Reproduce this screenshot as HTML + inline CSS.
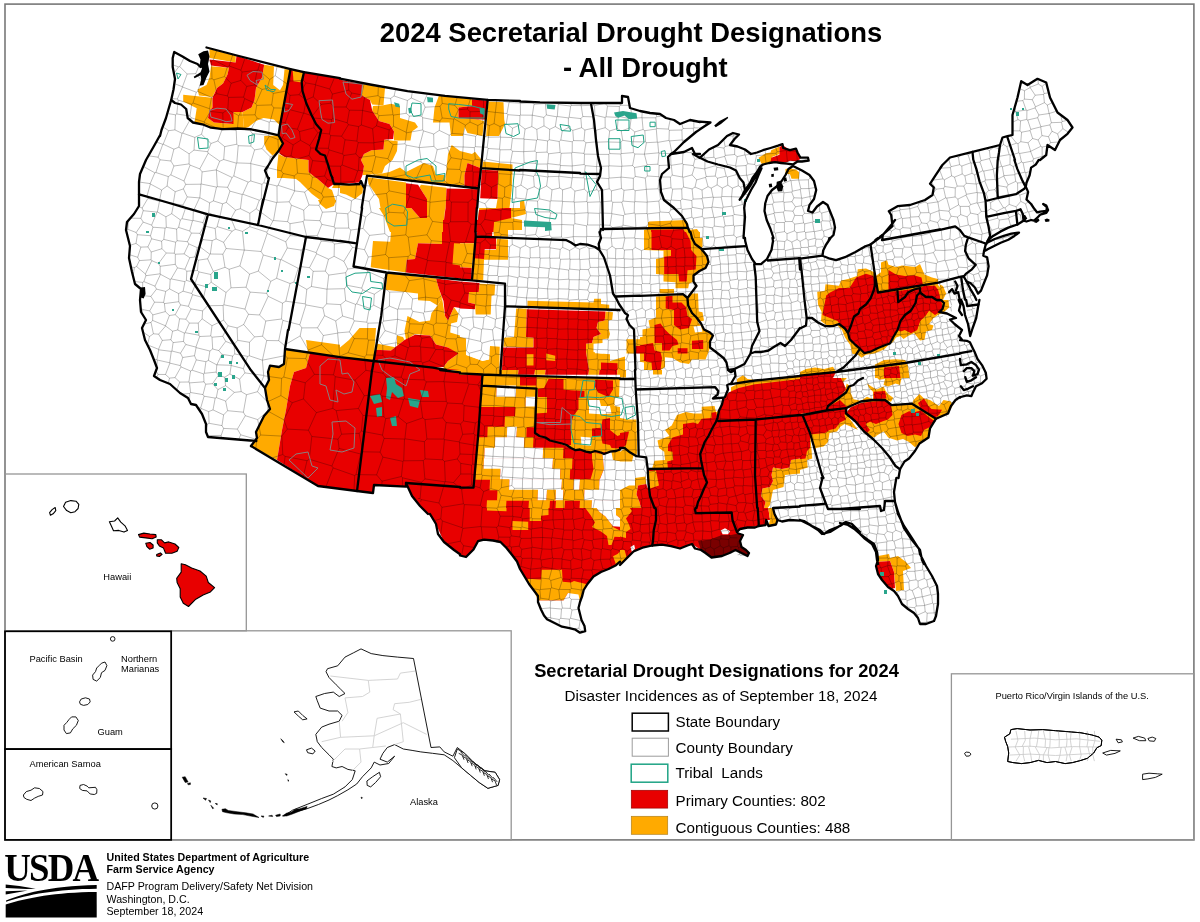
<!DOCTYPE html>
<html lang="en"><head><meta charset="utf-8">
<title>2024 Secretarial Drought Designations - All Drought</title>
<style>
html,body{margin:0;padding:0;background:#fff;}
body{width:1200px;height:922px;overflow:hidden;font-family:"Liberation Sans",Arial,sans-serif;}
svg{display:block;position:absolute;left:0;top:0;}
text{font-family:"Liberation Sans",Arial,sans-serif;fill:#000;}
.b{font-weight:bold;}
.st{fill:none;stroke:#000;stroke-width:2.3;stroke-linejoin:round;stroke-linecap:round;}
.co{fill:none;stroke:#000;stroke-width:2.3;stroke-linejoin:round;stroke-linecap:round;}
.cy{fill:none;stroke:#000;stroke-opacity:0.33;stroke-width:0.8;stroke-linejoin:round;}
.cyd{fill:none;stroke:#6e0000;stroke-width:0.8;stroke-linejoin:round;}
.tr{fill:none;stroke:#1fa385;stroke-width:1;stroke-linejoin:round;}
.trf{fill:#1fa385;stroke:#1fa385;stroke-width:0.6;}
.isl{fill:#fff;stroke:#000;stroke-width:1.1;stroke-linejoin:round;}
.islr{fill:#e80000;stroke:#000;stroke-width:1.1;stroke-linejoin:round;}
.lab{font-size:9.6px;}
</style></head><body>
<svg width="1200" height="922" viewBox="0 0 1200 922">
<rect x="0" y="0" width="1200" height="922" fill="#fff"/>
<g id="map">
<path d="M208 49L236 56L236 63L210 57.6Z" fill="#ffaa00"/>
<path d="M208 67L229 69L224 80L216 88L213 98L200 94L198 88L206 78Z" fill="#ffaa00"/>
<path d="M183 95L213 99L213 108L183 102Z" fill="#ffaa00"/>
<path d="M197 108L210 109L210 118L232 123L232 128L210 127.6L195 123Z" fill="#ffaa00"/>
<path d="M265 64L274 66L274 86L283 88L283 69L290 69L280 118L268 116L260 118L248 124L247 127.6L233 127.6L236 112L246 110L254 108L256 90L264 78Z" fill="#ffaa00"/>
<path d="M274 66.6L283 69L282.4 88L274 86.4Z" fill="#ffffff"/>
<path d="M236 57.6L265 64L264 78L258 86L256 90L254 108L246 110L236 112L235 124L232 122L210 118L210 110L214 104L213 98L216 88L224 80L229 69L224 67L211 62L210 58L224 60L236 63Z" fill="#e80000"/>
<path d="M264 136L278 134.6L284 146L274 156L266 150L264 142Z" fill="#ffaa00"/>
<path d="M276 158L280 154L309 160L306 170L312 174L328 188L332 190L336 202L328 208L320 200L312 194L300 182L296 179L284 178L278 172Z" fill="#ffaa00"/>
<path d="M293 71L304 73L303 82.4L294 81Z" fill="#ffaa00"/>
<path d="M290 70L293 71L294 81L303 82.4L305 73L301 94L310 114L320 130L317 150L326 158L334 184L328 188L312 174L306 170L309 160L280 154L284 146L278 134.6L280 125.6Z" fill="#e80000"/>
<path d="M363 85L385 89L383 105L375 105L372 103L362 96Z" fill="#ffaa00"/>
<path d="M373 105.6L400 107L400 118L417 124L411 141L395 140L394 128L380 122L373 112Z" fill="#ffaa00"/>
<path d="M385 140L398 141L394 160L385 172L381 172L366 176L361 172L364 166L360 158L368 150L383 150Z" fill="#ffaa00"/>
<path d="M390 172L400 168L410 172L418 162L434 164L436 178L432 183L390 178Z" fill="#ffaa00"/>
<path d="M440 96L471 99L471 107L459 107L458 118L478 118L485 120L483 136L468 134L464 126L462 137L451 137L450 124L434 123L436 106Z" fill="#ffaa00"/>
<path d="M451 145L468 154L480 152L480 168L468 163L465 176L464 187L445 185L446 168L448 160Z" fill="#ffaa00"/>
<path d="M488 101L504 102L505 120L506 126L500 137L486 137Z" fill="#ffaa00"/>
<path d="M482 162L500 163L513 164L512 180L510 204L524 200L526 214L511 218L522 220L522 230L508 230L508 236L476 235L479 210L480 200L481 169Z" fill="#ffaa00"/>
<path d="M380 178L406 182.4L406 202L420 218L427 218L427 198L418 185L447 189L444 220L442 234L443 244L392 244L390 232L384 216L379 208L380 188Z" fill="#ffaa00"/>
<path d="M340 80L363 85L362 96L372 103L373 112L380 122L392 127L394 139L384 140L383 150L368 150L360 158L364 166L361 182L340 184Z" fill="#e80000"/>
<path d="M471 99L488 100L485 120L478 118L458 118L459 107L471 107Z" fill="#e80000"/>
<path d="M468 163L480 168L479 188L464 187L465 176Z" fill="#e80000"/>
<path d="M406 183L418 185L427 198L427 218L420 218L406 202Z" fill="#e80000"/>
<path d="M447 188.4L478 189L476 236L475 244L442 244L442 234L444 220L446 204Z" fill="#e80000"/>
<path d="M481 169L498 170L497 199L480 200Z" fill="#e80000"/>
<path d="M479 210L506 208L511 204L511 218L494 222L493 234L476 235Z" fill="#e80000"/>
<path d="M760 157L768 152L778 148L777 156L780 160L768 163L760 162Z" fill="#ffaa00"/>
<path d="M786 169L797 170L799 178L792 179L788 174Z" fill="#ffaa00"/>
<path d="M777 148L782 146L788 152L796 156L800 160L792 162L780 160L778 156Z" fill="#e80000"/>
<path d="M649 221.6L686 220L687 227L689 230L697 229L702 236L701 244L644 244L644 230L649 229.6Z" fill="#ffaa00"/>
<path d="M651 230L684 230L688 236L690 244L651 244Z" fill="#e80000"/>
<path d="M285 349.6L307 353L307 341L346 345L360 336L360 360L360 384L269 384L269 374L271 366L280 366Z" fill="#ffaa00"/>
<path d="M307 353L360 360L360 384L292 384L294 372L306 366Z" fill="#e80000"/>
<path d="M318 200L336 200L334 206L326 209L320 204Z" fill="#ffaa00"/>
<path d="M372 241L392 242L390 220L443 220L443 244L416 243L415 259L407 260L406 271L370 267Z" fill="#ffaa00"/>
<path d="M443 220L477 220L473 280L406 271L407 260L415 259L416 243L443 244Z" fill="#e80000"/>
<path d="M454 243L473 244L472 267L454 264Z" fill="#ffaa00"/>
<path d="M496 238L507 239L507 260L484 259L484 280L473 280L474 259L485 250L496 250Z" fill="#ffaa00"/>
<path d="M476 236L496 237L496 250L485 250L484 259L475 259Z" fill="#e80000"/>
<path d="M494 222L522 222L522 229L508 229L508 236L493 235.6Z" fill="#ffaa00"/>
<path d="M477 220L494 220L493 235L476 235Z" fill="#e80000"/>
<path d="M387 273L438 278L440 294L444 304L436 310L426 300L418 299L417 291L385 289Z" fill="#ffaa00"/>
<path d="M478 282L495 284L492 314L476 314L476 305L468 304L468 293L478 292Z" fill="#ffaa00"/>
<path d="M438 278L478 282L478 292L468 293L468 304L476 305L476 310L452 310L446 321L444 304L440 294Z" fill="#e80000"/>
<path d="M408 317L426 324L432 312L444 304L446 321L452 310L458 314L457 322L450 324L449 336L465 338L465 352L482 360L489 360L490 346L500 347L500 375L444 369L446 364L460 354L452 350L444 348L436 338L414 336L404 340L397 336L398 346L378 349L378 344L405 340Z" fill="#ffaa00"/>
<path d="M376 350L398 346L404 340L414 336L434 337L440 348L448 349L460 354L446 364L444 369L374 361Z" fill="#e80000"/>
<path d="M528 301L580 302L580 309L528 308Z" fill="#ffaa00"/>
<path d="M516 309L527 309L526 338L533 338L533 348L504 347L505 338L514 337Z" fill="#ffaa00"/>
<path d="M527 309L580 309L580 378L501 375L503 347L533 348L533 338L526 338Z" fill="#e80000"/>
<path d="M527 354L533 354L533 366L527 366Z" fill="#ffaa00"/>
<path d="M546 354L555 356L555 361L546 360Z" fill="#ffaa00"/>
<path d="M502 368L518 369L518 375L502 375Z" fill="#ffaa00"/>
<path d="M537 368L545 368L545 376L537 376Z" fill="#ffaa00"/>
<path d="M374 361L482 373.6L481 404L369 404Z" fill="#e80000"/>
<path d="M340 358L373 361.6L369 404L340 404Z" fill="#e80000"/>
<path d="M360 327L376 328L374 361L340 356L340 346L352 340Z" fill="#ffaa00"/>
<path d="M482.4 375L580 379L580 404L482.4 404Z" fill="#ffaa00"/>
<path d="M496 388L516 389L516 397L496 397Z" fill="#ffffff"/>
<path d="M520 378L537 379L537 388L520 387Z" fill="#e80000"/>
<path d="M560 302L594 302L595 299L601 299L601 304L609 305L609 309L560 309Z" fill="#ffaa00"/>
<path d="M590 308L609 308L613 312L612 320L606 321L610 332L609 338L603 340L603 354L610 354L610 362L619 362L619 356L626 356L626 378L590 378Z" fill="#ffaa00"/>
<path d="M626 340L633 340L633 354L626 354Z" fill="#ffaa00"/>
<path d="M560 310L606 311L605 320L598 322L602 332L594 338L592 344L586 346L589 356L590 378L560 378Z" fill="#e80000"/>
<path d="M595 344L603 344L603 354L595 354Z" fill="#ffffff"/>
<path d="M600 364L610 362L618 363L618 378L600 378Z" fill="#e80000"/>
<path d="M648 222L687 221L688 228L698 235L702 240L702 247L698 248L707 258L708 263L703 272L695 277L692 282L688 284L688 289L676 288L676 282L664 281L664 274L656 274L656 260L652 258L644 258L644 230L648 229Z" fill="#ffaa00"/>
<path d="M651 230L683 229L688 237L692 246L691 254L696 256L696 270L688 272L687 281L679 281L678 274L664 274L664 257L660 250L652 250Z" fill="#e80000"/>
<path d="M660 289L674 289L674 294L660 294Z" fill="#ffaa00"/>
<path d="M656 297L666 296L688 299L689 294L697 294L698 312L703 314L704 320L698 324L704 332L709 332L712 336L709 344L708 352L705 359L688 359L682 363L674 360L666 358L665 368L662 375L653 375L652 370L644 370L644 364L636 363L636 338L644 337L644 330L649 328L650 319L656 318Z" fill="#ffaa00"/>
<path d="M664 299L669 296L680 300L688 308L690 318L692 324L688 329L676 328L674 316L669 308L664 307Z" fill="#e80000"/>
<path d="M654 326L660 323L664 329L672 334L678 342L674 346L668 351L662 348L660 340L654 342Z" fill="#e80000"/>
<path d="M636 345L652 344L654 352L662 354L662 360L660 368L653 368L652 360L644 358L636 354Z" fill="#e80000"/>
<path d="M692 340L703 340L703 349L692 349Z" fill="#e80000"/>
<path d="M677 348L687 348L687 353L677 354Z" fill="#e80000"/>
<path d="M694 326L701 327L701 332L695 333Z" fill="#ffffff"/>
<path d="M734 380L741 375L747 380L756 380L800 374L800 378L755 386L730 387Z" fill="#ffaa00"/>
<path d="M720 390L726 389L724 397L720 404L716 404L717 396Z" fill="#ffaa00"/>
<path d="M730 387L754 386L756 382L800 378L800 404L724 404L727 394Z" fill="#e80000"/>
<path d="M818 292L825 291L826 285L838 284L840 280L848 278L856 274L860 269L874 269L880 270L881 263L886 260L892 263L900 265L908 267L920 266L923 274L928 278L938 279L942 286L946 298L949 304L946 311L940 313L934 316L935 328L930 330L924 340L918 340L914 334L908 338L904 338L900 334L894 338L890 346L884 350L874 352L866 354L860 358L854 356L850 348L844 340L840 330L838 324L826 324L820 318L821 308L818 300Z" fill="#ffaa00"/>
<path d="M826 294L832 291L848 286L856 278L868 275L874 276L876 286L878 293L888 290L889 272L898 275L910 278L920 277L923 284L932 286L938 290L939 300L941 306L936 312L930 314L929 320L924 324L924 332L918 332L916 328L908 330L902 332L896 334L890 340L884 346L874 348L866 348L854 344L848 338L846 330L838 322L834 318L823 318L823 308L826 300Z" fill="#e80000"/>
<path d="M794 374L810 369L822 370L834 368L842 372L850 360L856 354L860 358L852 366L848 374L844 386L840 380L838 374L780 380L780 377Z" fill="#ffaa00"/>
<path d="M780 380L838 374L840 380L844 386L840 394L834 398L832 404L780 404Z" fill="#e80000"/>
<path d="M876 372L882 366L900 365L910 366L910 378L902 380L902 386L896 388L890 380L884 380L876 378Z" fill="#ffaa00"/>
<path d="M884 368L900 367L901 378L892 379L884 376Z" fill="#e80000"/>
<path d="M868 384L874 388L880 386L888 390L888 396L896 400L892 404L846 404L844 394L848 390L854 396L864 398L870 394Z" fill="#ffaa00"/>
<path d="M873 392L886 392L888 400L874 400Z" fill="#e80000"/>
<path d="M914 398L920 394L930 396L936 404L914 404Z" fill="#ffaa00"/>
<path d="M285 349.6L306 352.4L306 340L376 340L373 362L308 353L307 362L294 370L292 380L289 386L284 420L280 432L277 460L251 446L257 438L256 432L259 426L263 416L270 409L267 400L264 388L268 380L267 372L270 365.6L279 367L284 364Z" fill="#ffaa00"/>
<path d="M308 353L373 362L357 491L318 486L277 460L280 432L284 420L289 386L292 380L294 370L307 362Z" fill="#e80000"/>
<path d="M373 362L420 367L420 484L406 483L406 487L374 485L373 493L357 491Z" fill="#e80000"/>
<path d="M400 380L482 380L482 387L474 488L404 483L400 483Z" fill="#e80000"/>
<path d="M482 387L536 389L535 433L548 439L570 446L588 452L610 451L632 454L640 456L640 540L632 546L624 558L620 564L516 564L510 554L494 542L478 542L464 557L444 542L436 524L420 502L404 483L474 488Z" fill="#e80000"/>
<path d="M482 388L536 389L535 429L528 429L526 438L516 439L506 438L506 428L488 428L488 436L480 437L479 418L506 419L516 418L515 408L482 406Z" fill="#ffaa00"/>
<path d="M497 388L516 389L516 397L497 397Z" fill="#ffffff"/>
<path d="M527 399L535 399L535 408L527 408Z" fill="#ffffff"/>
<path d="M508 429L517 429L517 438L508 438Z" fill="#ffffff"/>
<path d="M479 437L496 438L496 448L486 449L485 466L502 469L502 478L510 479L510 489L538 491L548 492L548 504L540 505L538 521L530 521L530 509L528 500L507 500L507 511L487 511L487 499L498 498L499 489L490 488L490 478L476 477L477 458L479 448Z" fill="#ffaa00"/>
<path d="M525 440L533 440L544 444L544 451L562 452L563 460L572 460L572 470L570 480L561 480L560 470L554 461L544 460L525 450Z" fill="#ffaa00"/>
<path d="M496 438L524 439L525 450L543 451L544 460L554 461L560 470L561 480L560 489L548 492L547 504L538 505L538 491L510 489L510 479L502 478L501 469L485 467L485 449L496 448Z" fill="#ffffff"/>
<path d="M592 454L602 454L602 460L604 470L600 476L600 482L590 490L580 489L574 484L562 482L570 480L590 480L594 470L592 460Z" fill="#ffaa00"/>
<path d="M612 452L632 454L639 457L640 464L632 462L622 462L612 460Z" fill="#ffaa00"/>
<path d="M548 492L560 489L574 484L580 489L582 491L594 500L604 508L606 518L612 520L614 526L608 528L612 538L610 546L606 540L604 530L596 532L592 528L598 520L594 512L586 512L580 504L572 500L564 508L556 504L548 504Z" fill="#ffaa00"/>
<path d="M620 498L630 486L640 484L640 504L630 500L628 510L622 520L620 518L616 508L622 504Z" fill="#ffaa00"/>
<path d="M602 454L612 452L612 460L632 462L640 464L640 484L630 486L620 498L622 504L616 508L620 518L622 526L614 526L612 520L606 518L604 508L594 500L582 491L590 490L600 482L600 476L604 470Z" fill="#ffffff"/>
<path d="M554 489L562 488L566 496L558 499Z" fill="#ffffff"/>
<path d="M512 522L528 522L528 530L512 530Z" fill="#ffaa00"/>
<path d="M614 554L624 552L626 560L620 564L614 560Z" fill="#ffaa00"/>
<path d="M536 389L638 389L639 456L632 454L610 451L588 452L570 446L548 439L535 433Z" fill="#ffaa00"/>
<path d="M482 380L640 380L640 389L482 387Z" fill="#ffaa00"/>
<path d="M520 380L536 380L536 388L520 388Z" fill="#e80000"/>
<path d="M548 389L572 390L572 398L580 399L580 406L572 407L571 420L570 438L570 446L548 439L536 433L537 414L548 412L548 400Z" fill="#e80000"/>
<path d="M544 380L562 380L562 389L544 389Z" fill="#e80000"/>
<path d="M588 400L620 400L636 392L638 416L626 420L620 410L612 414L602 410L590 412Z" fill="#ffffff"/>
<path d="M602 434L612 436L620 432L630 434L628 444L612 446L602 442Z" fill="#e80000"/>
<path d="M594 380L610 380L608 396L594 390Z" fill="#e80000"/>
<path d="M580 436L590 437L590 445L581 444Z" fill="#ffffff"/>
<path d="M702 406L714 406L716 400L724 398L720 408L714 424L700 423L694 422L684 426L682 434L670 438L668 450L672 452L667 460L666 468L653 468L654 460L665 459L664 451L658 449L659 441L668 438L667 431L674 428L676 418L688 416L690 412L702 411Z" fill="#ffaa00"/>
<path d="M806 449L813 449L808 458L808 468L800 470L796 474L786 476L784 488L772 490L773 498L769 502L772 510L777 518L776 524L768 524L760 489L772 466L790 460Z" fill="#ffaa00"/>
<path d="M804 416L812 416L810 422L838 422L846 420L860 426L860 430L852 426L840 428L834 434L828 438L826 446L816 449L812 442L810 434Z" fill="#ffaa00"/>
<path d="M620 424L630 418L637 419L638 449L637 453L624 449L620 450Z" fill="#ffaa00"/>
<path d="M620 452L632 458L632 462L620 462Z" fill="#ffaa00"/>
<path d="M635 478L646 478L648 471L656 471L659 486L648 488L640 508L632 520L624 528L626 536L620 540L620 492L630 490Z" fill="#ffaa00"/>
<path d="M730 387L738 386L756 382L786 380L786 385L760 389L738 392L730 393Z" fill="#ffaa00"/>
<path d="M844 388L850 392L860 400L860 406L852 402L848 410L832 402Z" fill="#ffaa00"/>
<path d="M726 392L738 389L756 385L786 381L840 380L844 388L832 402L848 410L846 420L838 422L832 430L824 432L812 434L810 446L806 449L806 458L794 459L790 462L786 469L780 468L774 466L772 480L768 488L762 489L767 502L769 510L768 520L764 524L759 526L748 528L740 530L737 534L740 544L748 556L732 554L712 558L700 550L688 544L672 545L652 545L640 548L628 558L624 564L620 564L620 540L626 536L624 528L632 520L640 508L639 498L637 485L648 488L648 471L666 468L667 460L672 452L668 450L670 438L682 434L684 426L694 422L704 418L714 415L718 408L722 400Z" fill="#e80000"/>
<path d="M620 432L629 433L628 446L620 450Z" fill="#e80000"/>
<path d="M720 538L728 535L738 538L744 550L748 556L740 557L724 556L712 558L706 554L712 546Z" fill="#7a0000"/>
<path d="M718 530L726 528.4L730.4 532L726 534.4L720 533.6Z" fill="#ffffff"/>
<path d="M630 546L634.4 545L635 551L631 552.4Z" fill="#ffffff"/>
<path d="M840 388L846 392L850 399L860 396L868 390L873 392L873 386L886 380L900 380L902 388L888 391L892 398L894 405L913 403.6L916 399L924 392L928 399L940 400L950 401L951 406L946 408L948 417L938 420L930 430L928 439L920 446L914 448L908 440L900 442L890 439L880 432L876 438L870 436L862 430L854 420L846 415L840 424Z" fill="#ffaa00"/>
<path d="M846 414L848 409L860 403L872 402L873 393L886 392L887 400L890 405L892 414L886 420L880 424L874 422L870 428L866 432L860 426L854 420Z" fill="#e80000"/>
<path d="M906 412L916 410L920 414L934 420L930 428L922 430L920 436L906 436L898 428L899 420Z" fill="#e80000"/>
<path d="M919 400L924 399L928 408L940 409L942 412L936 418L928 414L918 406Z" fill="#e80000"/>
<path d="M840 392L846 400L840 406Z" fill="#e80000"/>
<path d="M840 408L846 410L840 420Z" fill="#e80000"/>
<path d="M880 433L888 437L884 442L877 439Z" fill="#ffffff"/>
<path d="M852 400L862 397L870 392L872 400L860 402.4Z" fill="#ffffff"/>
<path d="M890 392L902 389L914 402L894 404Z" fill="#ffffff"/>
<path d="M480 500L654 500L657 510L656 522L654 534L652 545L640 548L626 557L604 570L586 584L583 590L568 594L540 600L534 590L528 582L522 572L516 560L508 550L500 543L490 540L480 540Z" fill="#e80000"/>
<path d="M654 500L720 500L720 556L700 550L680 546L652 545L656 522L657 510Z" fill="#e80000"/>
<path d="M528 580L541 579L541 570L562 570L562 583L572 582L585 583L583 590L582 595L568 594L568 600L540 600L534 590Z" fill="#ffaa00"/>
<path d="M540 600L568 600L568 594L582 595L579 608L580 616L584 624L585 631L580 633L566 627L546 619L540 606Z" fill="#ffffff"/>
<path d="M512 521L528 521L528 530L512 530Z" fill="#ffaa00"/>
<path d="M487 500L506 500L506 510L487 510Z" fill="#ffaa00"/>
<path d="M530 502L549 506L549 516L540 516L540 521L530 521Z" fill="#ffaa00"/>
<path d="M578 500L640 500L642 508L632 514L628 520L632 526L627 538L612 537L612 544L608 545L606 536L600 530L592 524L584 510Z" fill="#ffaa00"/>
<path d="M594 500L616 500L620 506L624 512L618 516L622 524L618 528L612 522L608 514L600 510Z" fill="#ffffff"/>
<path d="M613 556L620 550L627 554L626 560L618 564Z" fill="#ffaa00"/>
<path d="M878 556L889 554L890 558L898 556L906 562L911 568L903 571L904 590L896 591L894 572L890 561L876 562Z" fill="#ffaa00"/>
<path d="M876 562L890 561L894 572L895 588L891 589L884 582L878 574L876 566Z" fill="#e80000"/>
<path d="M305 73L360 83L360 183L334 184L326 158L317 150L320 130L310 114L301 94Z" fill="#e80000"/>
<path d="M332 188L360 188L360 183L334 184Z" fill="#ffaa00"/>
<path d="M780 340L960 340L960 478L780 478Z" fill="#ffffff"/>
<path d="M780 416.5L826.5 410.5L828 406L840 397L846 389.5L843 382L846 379L850.5 373L840 372.2L835.5 372.2L831 368.5L823.5 367.7L817.5 370.7L810 368.5L799.5 370.7L793.5 375.2L780 378.2L780 416.5Z" fill="#ffaa00"/>
<path d="M850.5 347.5L855 353.5L856.5 358.7L861 356.5L864 353.5L870 355L877.5 353.5L885 350.5L891 346L894 340L846 340L850.5 347.5Z" fill="#ffaa00"/>
<path d="M840 397L828 406L826.5 410.5L847.5 408.2L861 401.8L873 400L885 400L891 401.8L893.2 397.7L888 394L885.7 391L883.5 386.5L876.7 389.5L871.5 386.5L867 383.5L869.2 388L873 391.7L873 399.2L867 396.7L861 400.7L853.5 399.2L850.5 392.5L850.5 386.5L846.7 383.5L844.5 392.5L840 397Z" fill="#ffaa00"/>
<path d="M877.5 370L875.2 376L879 379.7L885 379L883.5 385L888 386.5L895.5 383.5L900 385L901.5 378.2L909.7 377.5L909 365.5L904.5 362.5L894 359.5L885 360.2L876 364L877.5 370Z" fill="#ffaa00"/>
<path d="M815.2 451L816 448L823.5 446.5L828 442L829.5 433L837 431.5L840 427L844.5 424L853.5 427.7L858 430L852 421.7L846 413.5L846 408.7L826.5 410.5L802.5 415L815.2 451Z" fill="#ffaa00"/>
<path d="M855 421L861 428.5L867 433L873 437.5L877.5 436L883.5 431.5L888 437.5L897 440.5L903 439L909 442L915 447.2L919.5 443.5L928.5 437.5L930 428.5L936 418.7L912 403.7L891.7 405.2L885 400.3L873 400.7L861 403L850.5 407.5L846 413.5L855 421Z" fill="#ffaa00"/>
<path d="M912 403.7L936 418.7L948 413.5L952.5 406L951 401.5L943.5 400L939 406L930 400L924 398.5L919.5 394L913.5 400L912 403.7Z" fill="#ffaa00"/>
<path d="M780 478L786 475L793.5 472L807.7 467.5L807 460L812.2 458.5L811.5 449.5L810 433L802.5 415L780 416.5L780 478Z" fill="#ffaa00"/>
<path d="M780 416.5L826.5 410.5L828 406L840 397L846 389.5L843 382L838.5 373.7L792 377.5L780 380.5L780 416.5Z" fill="#e80000"/>
<path d="M853.5 343.7L858 347.5L864 349.7L870 352L877.5 350.5L885 347.5L891.7 340L850.5 340L853.5 343.7Z" fill="#e80000"/>
<path d="M873.7 399.2L886.5 398.5L885 391L873.7 391.7L873.7 399.2Z" fill="#e80000"/>
<path d="M886.5 378.2L900.7 377.5L900 366.2L883.5 367L886.5 378.2Z" fill="#e80000"/>
<path d="M846 408.7L847.5 407.5L843 403L840 400L829.5 406L826.5 410.5L846 408.7Z" fill="#e80000"/>
<path d="M808.5 427L810 434.5L825 433L829.5 430L835.5 428.5L840 422.5L846 419.5L844.5 415L846 409L826.5 410.8L803.2 415.7L808.5 427Z" fill="#e80000"/>
<path d="M855 421L861 428.5L867 433L870 430L865.5 424L870 421.7L876 424L883.5 421L888 419.5L892.5 415L891 404.5L885 400.7L873 401.5L861 403L850.5 407.5L846 413.5L855 421Z" fill="#e80000"/>
<path d="M901.5 433L907.5 436L915 434.5L921 436L924 430L930 427L934.5 421L930 418L921 410.5L915 412L909 411.2L901.5 415L898.5 424L901.5 433Z" fill="#e80000"/>
<path d="M921 409L927 412L934.5 418L939 415L942 409.7L931.5 409L928.5 406L924 398.5L918 403L921 409Z" fill="#e80000"/>
<path d="M780 472L789 469L792 460L805.5 458.5L807 451L810 448L810 433L802.5 415L780 416.5L780 472Z" fill="#e80000"/>
<path d="M879 440.5L885 442L888 437.5L883.5 431.5L876 436L879 440.5Z" fill="#ffffff"/>
<path d="M800 240L980 240L980 378L800 378Z" fill="#ffffff"/>
<path d="M818 304.5L821.7 312L821 321L827 325.5L837.5 325.5L842 330L845 337.5L850.2 345L852.5 354L857 354L861.5 357.7L866 354.7L875 353.2L884 349.5L888.5 345L893 342L896 337.5L900.5 336L903.5 339L908 336L914 333L920 340.5L924.5 339.7L926 331.5L932 330L933.5 325.5L929 324L933.5 318L938 315L944 312L949.2 307.5L948.5 300L944 291L938 285L938 279L932 277.5L924.5 274.5L920 264L915.5 267L902 265.5L896 267L888.5 264.7L887 260.2L881 262.5L881 272.2L875.7 276L874.2 272.2L866 268.5L857.7 269.2L857 276L848 279L841.2 280.5L839 285.7L825.5 284.2L824.7 291L817.2 291.7L818 304.5Z" fill="#ffaa00"/>
<path d="M830 318L837.5 321L842 327L848 333L851 325.5L854 316.5L858.5 313.5L860 309L866 304.5L870.5 298.5L873.5 291L875 285L873.5 276L866 273.7L856.2 277.5L849.5 288L839 288L830 292.5L826.2 295.5L822.5 315L830 318Z" fill="#e80000"/>
<path d="M875 285L873.5 291L870.5 298.5L866 304.5L860 309L858.5 313.5L854 316.5L851 325.5L848 333L849.5 339L855.5 345L860 348.7L864.5 353.2L870.5 351.7L878 348L890 343.5L893 337.5L897.5 330L900.5 331.5L905 330L911 333L917 330L920 321L926 315L929 310.5L939.5 312L942.5 309L941 300L936.5 300L932 297L926 297L920 288L914 289.5L908 292.5L905 297L898.2 302.2L897.5 291L878 292.5L874.5 277.5L875 285Z" fill="#e80000"/>
<path d="M888.5 290.2L923 285L921.5 277.5L914 275.2L905 276L896 274.5L888.5 270L888.5 290.2Z" fill="#e80000"/>
<path d="M926 297L932 297L936.5 300L941 300L938 289.5L935 285.7L924.5 285.7L920 288L926 297Z" fill="#e80000"/>
<path d="M800 375.7L836 372L833 366.7L824 369L815 367.5L806 369L800 372L800 375.7Z" fill="#ffaa00"/>
<path d="M800 378L833 378L836 372L800 375.7L800 378Z" fill="#e80000"/>
<path d="M875 378L909.5 378L908 366L905 360L896 359.2L884 360L875 364.5L875 378Z" fill="#ffaa00"/>
<path d="M884 378L900.5 378L899 366L884 367.5L884 378Z" fill="#e80000"/>
<path d="M898.2 302.2L905 297L908 292.5L914 289.5L920 288L897.5 291L898.2 302.2Z" fill="#e80000"/>
<path d="M942.5 309L941 300L932 297L926 297L920 292.5L915.5 303L908 318L903.5 324L905 330L911 333L917 330L920 321L926 315L929 310.5L935 315L939.5 312L942.5 309Z" fill="#e80000"/>
<path d="M620 370L800 370L800 508L620 508Z" fill="#ffffff"/>
<path d="M737 384.2L731 387.2L731 392.5L738.5 388L755 386.5L800 379.7L800 376L755 380.5L753.5 379.7L747.5 379L743 375.2L737 379L737 384.2Z" fill="#ffaa00"/>
<path d="M722.4 402.6L723.5 399.2L723.2 399L722.4 402.6Z" fill="#ffaa00"/>
<path d="M719 410.5L716 412L714.5 406L701.7 406.7L701.7 413.5L693.5 413.5L686 412L677 415L671.7 425.5L665 430L669.5 436L657.5 440.5L659 448L664.2 451.7L665 460L654.5 460.7L652.2 468.2L701.7 468.2L717.5 418L721.5 405.6L719 410.5Z" fill="#ffaa00"/>
<path d="M723.5 397.7L722 404.5L719 410.5L717.5 418L718.2 421L755.7 419.5L800 415L800 379L755 384.2L738.5 388L728.7 392.5L725 397L723.5 397.7Z" fill="#e80000"/>
<path d="M716 421.7L712.2 428.5L708.5 436L704.7 442L702.5 448L700.2 454L701 460L702.5 467.5L704 475L707 482.5L704 488.5L701 496L698 502L696.5 508L757.2 508L755 475L755.7 419.5L718.2 421L716 421.7Z" fill="#e80000"/>
<path d="M789.5 467.5L782 469L773 467.5L771.5 475L773 481L770 487L762.5 488.5L761 496L765.5 502L764 508L767.7 508L770 505L771.5 497.5L773 490L783.5 487L785 475L800 473.5L800 458.5L791 460L789.5 467.5Z" fill="#ffaa00"/>
<path d="M755 475L757.2 508L764 508L765.5 502L761 496L762.5 488.5L770 487L773 481L771.5 475L773 467.5L782 469L789.5 467.5L791 460L800 458.5L800 415L755.7 419.5L755 475Z" fill="#e80000"/>
<path d="M716 412L711.5 412.7L711.5 418L701.7 418.7L698 424L693.5 422.5L683 424L683 434.5L672.5 437.5L668 445L668 451L672.5 451.7L673.2 460L667.2 461.5L668 469L701.7 468.2L701 460L700.2 454L702.5 448L704.7 442L708.5 436L712.2 428.5L716 421.7L717.5 418L716 412Z" fill="#e80000"/>
<path d="M648.5 484L650 496L654.5 508L696.5 508L698 502L701 496L704 488.5L707 482.5L704 475L702.5 467.5L701.7 468.2L647.7 469L648.5 484Z" fill="#e80000"/>
<path d="M650 488.5L659 485.5L656 470.5L648.5 471.2L650 488.5Z" fill="#ffaa00"/>
<path d="M620 377.5L626 377.5L626 370L620 370L620 377.5Z" fill="#ffaa00"/>
<path d="M653 374.5L662 374.5L662 370L653 370L653 374.5Z" fill="#ffaa00"/>
<path d="M620 449.5L624.5 448L629 451.7L636.5 456.2L637.2 451L636.5 419.5L629 419.5L620 418L620 449.5Z" fill="#ffaa00"/>
<path d="M620 449.5L626 445L629 431.5L620 433L620 449.5Z" fill="#e80000"/>
<path d="M620 461.5L632 461.5L633.5 455.5L629 452.5L624.5 448.7L620 451.7L620 461.5Z" fill="#ffaa00"/>
<path d="M635 485.5L629 485.5L620 490L620 508L641 508L639.5 502L636.5 494.5L638 485.5L646.2 484L645.5 476.5L635 478L635 485.5Z" fill="#ffaa00"/>
<path d="M636.5 494.5L639.5 502L641 508L654.5 508L650 496L648.5 490L646.2 484L638 485.5L636.5 494.5Z" fill="#e80000"/>
<path d="M620 508L800 508L800 598L620 598Z" fill="#ffffff"/>
<path d="M620 565L626 559L633.5 551.5L642.5 547.7L652.2 545.5L662 544.7L680 548.5L692 544L701 550L711.5 557.5L722 556L735.5 550L747.5 556L741.5 547L740 541L743 535L737 532L740 529L747.5 527.5L758.7 526L765.5 525.2L766.2 520L770 520L768.5 509.5L768.2 508L620 508L620 565Z" fill="#e80000"/>
<path d="M701 550L705.5 553L711.5 557.5L722 556L729.5 553L735.5 550L741.5 553L747.5 556L749 553L741.5 547L740 541L743 535L738.5 533.5L731 535L722 535L710 539.5L698 541L701 550Z" fill="#7a0000"/>
<path d="M722.7 534.2L728 534.2L730.2 531.2L725 528.2L720.5 530.5L722.7 534.2Z" fill="#ffffff"/>
<path d="M632 552.2L635 548.5L634.2 544.7L630.5 547L632 552.2Z" fill="#ffffff"/>
<path d="M620 536.5L626 538L626 532L630.5 529L629 524.5L626 518.5L632 511L629.8 508L620 508L620 536.5Z" fill="#ffaa00"/>
<path d="M620 563.5L626.7 557.5L624.5 550L620 550L620 563.5Z" fill="#ffaa00"/>
<path d="M768.5 509.5L770 520L768.5 526L776 524.5L777.5 520L776 517L774.5 509.5L773.4 508L768.2 508L768.5 509.5Z" fill="#ffaa00"/>
<path d="M774.5 514L777.5 520L782 521.5L789.5 520L800 520.7L800 508L773 508L774.5 514Z" fill="#ffffff"/>
<path d="M460 370L620 370L620 508L460 508Z" fill="#ffffff"/>
<path d="M460 487.7L473.5 487.7L478 437.5L481.7 385.7L482.5 374.5L460 373.3L460 487.7Z" fill="#e80000"/>
<path d="M460 487.7L460 508L620 508L620 453.8L571 448L535 433L536.5 388.7L481.7 385.7L478 437.5L473.5 487.7L460 487.7Z" fill="#e80000"/>
<path d="M518 374.8L518.5 370L460 370L460 374.8L518 374.8Z" fill="#ffaa00"/>
<path d="M518 374.8L534.5 374.8L535 370L518.5 370L518 374.8Z" fill="#e80000"/>
<path d="M534.5 374.8L545 374.8L545.5 370L535 370L534.5 374.8Z" fill="#ffaa00"/>
<path d="M545 374.8L588.5 374.8L589 370L545.5 370L545 374.8Z" fill="#e80000"/>
<path d="M588.5 374.8L599 374.8L599.5 370L589 370L588.5 374.8Z" fill="#ffaa00"/>
<path d="M599 374.8L617 374.8L617.5 370L599.5 370L599 374.8Z" fill="#e80000"/>
<path d="M617 374.8L620 374.8L620 370L617.5 370L617 374.8Z" fill="#ffaa00"/>
<path d="M481.7 385.7L536.5 388.7L535 433L545.5 437.5L556 442L571 448L580 449.5L590.5 452.5L601 452.5L610 451.7L620 449.2L620 378.3L500.5 375.2L482.5 374.5L481.7 385.7Z" fill="#ffaa00"/>
<path d="M520 387.7L536.5 388.7L536.5 376.7L520 376L520 387.7Z" fill="#e80000"/>
<path d="M544 388L538 388.7L538 397L547 397L547 412.7L535.7 413.5L535 433L545.5 437.5L556 442L566.5 445L571 445L571 422.5L574 415L578.5 409L578.5 397.7L584.5 397L584.5 391L571 390.2L563.5 389.5L563.5 379L548.5 379L544 388Z" fill="#e80000"/>
<path d="M595 386.5L598 392.5L608.5 397L613 389.5L613 380.5L595 379.7L595 386.5Z" fill="#e80000"/>
<path d="M592 436L601 436L602.5 443.5L610 445L611.5 448L620 448.6L620 435.1L617.5 436L610 430L610 418L602.5 419.5L601 427.7L592 428.5L592 436Z" fill="#e80000"/>
<path d="M589 413.5L601 414.2L611.5 413.5L610 406L601 406L599.5 400L589 400L589 413.5Z" fill="#ffffff"/>
<path d="M619 397L614.5 398.5L614.5 406L620 407.1L620 380.5L619.7 380.5L619 397Z" fill="#ffffff"/>
<path d="M581.5 445L591.2 445.7L590.5 437.5L580.7 436.7L581.5 445Z" fill="#ffffff"/>
<path d="M481.6 397.3L496.3 397.3L496.7 385.4L482 385.4L481.6 397.3Z" fill="#ffaa00"/>
<path d="M496.3 397.3L515.8 397.3L516.2 385.4L496.7 385.4L496.3 397.3Z" fill="#ffffff"/>
<path d="M515.8 397.3L535.7 397.3L536.2 385.4L516.2 385.4L515.8 397.3Z" fill="#ffaa00"/>
<path d="M480.8 407L525.5 407L526 396.7L481.3 396.7L480.8 407Z" fill="#ffaa00"/>
<path d="M525.5 407L535.4 407L535.9 396.7L526 396.7L525.5 407Z" fill="#ffffff"/>
<path d="M515 416.8L535.1 416.8L535.6 406.4L515.5 406.4L515 416.8Z" fill="#ffaa00"/>
<path d="M504.5 427.3L534.8 427.3L535.3 416.2L505 416.2L504.5 427.3Z" fill="#ffaa00"/>
<path d="M487.3 437.8L506.8 437.8L507.2 426.7L487.7 426.7L487.3 437.8Z" fill="#ffaa00"/>
<path d="M506.8 437.8L516.5 437.8L517 426.7L507.2 426.7L506.8 437.8Z" fill="#ffffff"/>
<path d="M516.5 437.8L526.3 437.8L526.7 426.7L517 426.7L516.5 437.8Z" fill="#ffaa00"/>
<path d="M477.5 448.3L494.8 448.3L495.2 437.2L478 437.2L477.5 448.3Z" fill="#ffaa00"/>
<path d="M494.8 448.3L524 448.3L524.5 437.2L495.2 437.2L494.8 448.3Z" fill="#ffffff"/>
<path d="M524 448.3L533 448.3L533.5 437.2L524.5 437.2L524 448.3Z" fill="#ffaa00"/>
<path d="M476.8 458.8L484.3 458.8L484.7 447.7L477.2 447.7L476.8 458.8Z" fill="#ffaa00"/>
<path d="M484.3 458.8L542.8 458.8L543.2 447.7L484.7 447.7L484.3 458.8Z" fill="#ffffff"/>
<path d="M542.8 458.8L563 458.8L563.5 447.7L543.2 447.7L542.8 458.8Z" fill="#ffaa00"/>
<path d="M476 469.3L483.5 469.3L484 458.2L476.5 458.2L476 469.3Z" fill="#ffaa00"/>
<path d="M483.5 469.3L552.5 469.3L553 458.2L484 458.2L483.5 469.3Z" fill="#ffffff"/>
<path d="M552.5 469.3L572 469.3L572.5 458.2L553 458.2L552.5 469.3Z" fill="#ffaa00"/>
<path d="M475.3 479.8L500 479.8L500.5 468.7L475.7 468.7L475.3 479.8Z" fill="#ffaa00"/>
<path d="M500 479.8L560 479.8L560.5 468.7L500.5 468.7L500 479.8Z" fill="#ffffff"/>
<path d="M560 479.8L569.8 479.8L570.2 468.7L560.5 468.7L560 479.8Z" fill="#ffaa00"/>
<path d="M489.5 490.3L509 490.3L509.5 479.2L490 479.2L489.5 490.3Z" fill="#ffaa00"/>
<path d="M509 490.3L561.5 490.3L562 479.2L509.5 479.2L509 490.3Z" fill="#ffffff"/>
<path d="M561.5 490.3L573.5 490.3L574 479.2L562 479.2L561.5 490.3Z" fill="#ffaa00"/>
<path d="M573.5 490.3L579.5 490.3L580 479.2L574 479.2L573.5 490.3Z" fill="#ffffff"/>
<path d="M579.5 490.3L599 490.3L599.5 479.2L580 479.2L579.5 490.3Z" fill="#ffaa00"/>
<path d="M599 490.3L620 490.3L620 479.2L599.5 479.2L599 490.3Z" fill="#ffffff"/>
<path d="M497 500.8L537.5 500.8L538 489.7L497.5 489.7L497 500.8Z" fill="#ffaa00"/>
<path d="M537.5 500.8L546.5 500.8L547 489.7L538 489.7L537.5 500.8Z" fill="#ffffff"/>
<path d="M546.5 500.8L555.5 500.8L556 489.7L547 489.7L546.5 500.8Z" fill="#ffaa00"/>
<path d="M555.5 500.8L563 500.8L563.5 489.7L556 489.7L555.5 500.8Z" fill="#ffffff"/>
<path d="M563 500.8L584 500.8L584.5 489.7L563.5 489.7L563 500.8Z" fill="#ffaa00"/>
<path d="M584 500.8L620 500.8L620 489.7L584.5 489.7L584 500.8Z" fill="#ffffff"/>
<path d="M486.5 508L506 508L506.5 500.2L487 500.2L486.5 508Z" fill="#ffaa00"/>
<path d="M528.5 508L549.5 508L550 500.2L529 500.2L528.5 508Z" fill="#ffaa00"/>
<path d="M555.5 508L564.5 508L565 500.2L556 500.2L555.5 508Z" fill="#ffaa00"/>
<path d="M579.5 508L591.5 508L592 500.2L580 500.2L579.5 508Z" fill="#ffaa00"/>
<path d="M591.5 508L620 508L620 500.2L592 500.2L591.5 508Z" fill="#ffffff"/>
<path d="M592 458.5L593.5 469L590.5 479.5L599.5 479.5L604 469L602.5 454L592 452.5L592 458.5Z" fill="#ffaa00"/>
<path d="M604 469L599.5 480.2L620 480.2L620 449.2L610 451.7L602.5 454L604 469Z" fill="#ffffff"/>
<path d="M613 460L620 461.2L620 450L611.5 452.2L613 460Z" fill="#ffaa00"/>
<path d="M460 508L620 508L620 640L460 640Z" fill="#ffffff"/>
<path d="M460 555.5L466 557L473.5 549.5L478 541.2L484 539.7L493 540.5L500.5 542L506.5 548L512.5 555.5L517 561.5L520 569L524.5 576.5L529 584L533.5 590L538 596L538 602L578.5 608L580 602L582.2 596L583.7 590L587.5 584L593.5 576.5L601 572L608.5 569L616 565.2L620 561.7L620 508L460 508L460 555.5Z" fill="#e80000"/>
<path d="M487 510.5L506.5 511.2L506.5 508L487 508L487 510.5Z" fill="#ffaa00"/>
<path d="M529.7 521L541 521L541 515.7L548.5 515L548.5 508L529.7 508L529.7 521Z" fill="#ffaa00"/>
<path d="M512.5 530L528.2 530L528.2 521.7L512.5 521L512.5 530Z" fill="#ffaa00"/>
<path d="M541 579.5L527.5 578.7L529 584L533.5 590L538 600.5L563.5 600.5L568 593L568 600.5L578.5 608L580 602L582.2 596L583.7 590L586 584L574 581L571 582.5L562.7 581.7L562 569.7L541.7 569.7L541 579.5Z" fill="#ffaa00"/>
<path d="M616 564.5L620 563.5L620 551.5L617.5 554L613 556.2L616 564.5Z" fill="#ffaa00"/>
<path d="M586 509L590.5 515L595 522.5L592 527L601 531.5L607 536L608.5 545L611.5 545L614.5 536.7L620 537.1L620 530.4L619 530L613 527L610 522.5L605.5 516.5L599.5 512L596.5 508L585.3 508L586 509Z" fill="#ffaa00"/>
<path d="M616 515L620 518L620 508L616 508L616 515Z" fill="#ffaa00"/>
<path d="M599.5 512L605.5 516.5L610 522.5L613 526.2L620 526.8L620 518L616 515L616 508L596.5 508L599.5 512Z" fill="#ffffff"/>
<path d="M538 602L541 609.5L544 615.5L547 619.2L554.5 623L562 626.7L569.5 628.2L575.5 629.7L580 632.7L585.2 631.2L584.5 626L581.5 620L580 614L578.5 608L580 602L578.5 594.5L568 593L563.5 600.5L538 600.5L538 602Z" fill="#ffffff"/>
<path d="M460 232L640 232L640 370L460 370Z" fill="#ffffff"/>
<path d="M460 243.2L475 243.2L475.7 232L460 232L460 243.2Z" fill="#e80000"/>
<path d="M460 267.2L471.7 268L475 243.2L460 243.2L460 267.2Z" fill="#ffaa00"/>
<path d="M460 279.7L471.7 280L471.7 268L460 267.2L460 279.7Z" fill="#e80000"/>
<path d="M476.2 235.7L492.2 236.2L492.2 232L477.2 232L476.2 235.7Z" fill="#e80000"/>
<path d="M493.7 236.2L508 236.8L508 232L493.7 232L493.7 236.2Z" fill="#ffaa00"/>
<path d="M496 250L484.7 250L474.2 258.7L472.7 279.7L483.2 280L484 259.7L508 259.7L508 239.5L496.7 238.7L496 250Z" fill="#ffaa00"/>
<path d="M474.2 258.2L484 259L484.7 249.2L496 249.2L496 238L475.7 237.2L474.2 258.2Z" fill="#e80000"/>
<path d="M478.7 292L469 292L468.2 302.5L475 304L475.7 314.5L490.7 314.5L491.5 295.7L494.5 295L495.2 284.5L479.5 283.7L478.7 292Z" fill="#ffaa00"/>
<path d="M460 308.5L475 309.2L475 304L468.2 302.5L469 292L478.7 292L479.5 283L460 281.5L460 308.5Z" fill="#e80000"/>
<path d="M460 370L499.3 370L499.7 346.7L490 346L489.2 359.5L482.5 361L466 355L466 338.5L460 337L460 370Z" fill="#ffaa00"/>
<path d="M466.7 355L482.5 360.7L488.8 359.5L489.2 346.7L466.7 346L466.7 355Z" fill="#ffffff"/>
<path d="M527.5 307L609.2 309.2L609.2 304.7L601 304L601 298.7L594.2 298.7L593.5 302.5L527.5 300.7L527.5 307Z" fill="#ffaa00"/>
<path d="M514.7 328L514 337L504.2 337.7L503.5 346.7L533.5 347.5L533.5 337.7L526 337L526.7 308.8L516.2 308.5L514.7 328Z" fill="#ffaa00"/>
<path d="M604.7 320.5L598 322L596.5 328L601 334L593.5 337L592 343L586 343.7L586 352L589 370L625 370L625 356.5L610 361L610 354.2L600.2 353.5L593.5 352L593.5 343.7L602.5 343L602.5 339.2L608.5 338.5L610 334L608.5 328L608.5 320.5L612.2 319.7L613 312.2L605.5 311.5L604.7 320.5Z" fill="#ffaa00"/>
<path d="M526 337L533.5 337.7L533.5 347.5L502.7 347.5L502 370L589 370L586 352L586 343.7L592 343L593.5 337L601 334L596.5 328L598 322L604.7 320.5L605.5 311.5L526.7 309.2L526 337Z" fill="#e80000"/>
<path d="M595 353.2L603.2 353.5L603.2 344.5L595 344.5L595 353.2Z" fill="#ffffff"/>
<path d="M526.7 365.5L533.5 365.5L533.5 354.2L526.7 354.2L526.7 365.5Z" fill="#ffaa00"/>
<path d="M546.2 360.2L555.2 361L555.2 355.7L546.2 353.5L546.2 360.2Z" fill="#ffaa00"/>
<path d="M601 370L617.5 370L617.5 363.2L601 362.5L601 370Z" fill="#e80000"/>
<path d="M626.5 353.5L634 353.5L634 339.2L626.5 339.2L626.5 353.5Z" fill="#ffaa00"/>
<path d="M635.5 346L640 346L640 339.2L635.5 339.2L635.5 346Z" fill="#ffaa00"/>
<path d="M635.5 353.5L640 353.5L640 346L635.5 346L635.5 353.5Z" fill="#e80000"/>
<path d="M640 232L800 232L800 370L640 370Z" fill="#ffffff"/>
<path d="M644 250L663.5 250.7L663.5 257.5L656 259L656 274L663.5 274.7L663.5 281.5L675.5 282.2L675.5 288.2L688.2 288.2L689 283.7L693.5 281.5L693.5 275.5L699.5 271L705.5 268L708.5 262L707 256L701 248.5L702.5 247L702.5 232L644 232L644 250Z" fill="#ffaa00"/>
<path d="M651.5 250L671 250L671 256L664.2 256.7L664.2 274L678.5 274L679.2 281.5L686.7 281.5L687.5 270.2L695.7 269.5L696.5 256L691.2 250L690.5 241L686 232L651.5 232L651.5 250Z" fill="#e80000"/>
<path d="M659.7 293.5L674 293.5L674 289L659.7 289L659.7 293.5Z" fill="#ffaa00"/>
<path d="M656 307L656 317.5L648.5 320.5L650 328L642.5 329.5L642.5 337L640 337L640 361.8L644 362.5L644 370L660.5 370L665 367L665 357.2L672.5 358L680 362.5L689 364L692 359.5L705.5 359.5L708.5 352L710 347.5L710 341.5L713 335.5L710 332.5L704 329.5L698 322L704 320.5L702.5 312.2L698.7 311.5L698 293.5L689 293.5L687.5 298L683 295L656 296.5L656 307Z" fill="#ffaa00"/>
<path d="M665.7 308.5L674 310L674 325L680 329.5L689 328L692 319L687.5 316L686 307L681.5 302.5L672.5 302.5L672.5 295.7L665.7 296.5L665.7 308.5Z" fill="#e80000"/>
<path d="M654.5 343L662 343L662 350.5L669.5 350.5L672.5 346L678.5 344.5L677 340L669.5 334L665 329.5L660.5 323.5L654.5 325L654.5 343Z" fill="#e80000"/>
<path d="M644 353.5L644 361L651.5 362.5L652.2 370L660.5 370L662 358L660.5 352L654.5 350.5L653 343L640 345.2L640 353.5L644 353.5Z" fill="#e80000"/>
<path d="M692 349L703.2 349L703.2 340L692 340.7L692 349Z" fill="#e80000"/>
<path d="M677.7 353.5L687.5 353.5L687.5 348.2L677.7 348.2L677.7 353.5Z" fill="#e80000"/>
<path d="M695 332.5L702.5 331.7L701 325.7L693.5 326.5L695 332.5Z" fill="#ffffff"/>
<path d="M340 232L460 232L460 370L340 370Z" fill="#ffffff"/>
<path d="M390.2 241.7L373 241L370.7 267.2L406 272.5L406.7 259.7L415 259L418 243.2L442 244L442 232L391 232L390.2 241.7Z" fill="#ffaa00"/>
<path d="M442 244L418 243.2L415 259L406.7 259.7L406 272.5L460 278.6L460 232L442 232L442 244Z" fill="#e80000"/>
<path d="M452.5 264.2L460 265.4L460 243.5L454 243.2L452.5 264.2Z" fill="#ffaa00"/>
<path d="M385.7 289.7L418 293.5L418 300.2L430 301L437.5 305.5L442 298L439 289L436 278.5L387.2 273.2L385.7 289.7Z" fill="#ffaa00"/>
<path d="M431.5 313L430 320.5L419.5 322L407.5 316L404.5 331L406 340L415 334L430 335.5L436 344.5L448 347.5L458.5 355L460 354L460 335.6L450.2 332.5L451 323.5L457 322L458.5 313.7L454 307L448 320.5L445 316L442 298L437.5 305.5L431.5 313Z" fill="#ffaa00"/>
<path d="M439 289L443.5 301L445 316L448 320.5L454 307L460 307.9L460 281.4L436 278.5L439 289Z" fill="#e80000"/>
<path d="M375.2 349.7L391 350.5L395.3 347.2L377.5 343.7L375.2 349.7Z" fill="#ffaa00"/>
<path d="M404.5 340L403 337L397 335.5L397 345.8L404.5 340Z" fill="#ffaa00"/>
<path d="M448 361L443.5 367L443.5 370L460 370L460 352.8L458.5 353.5L448 361Z" fill="#ffaa00"/>
<path d="M373.7 361L433 367.7L443.5 367L448 361L458.5 353.5L448 347.5L436 344.5L430 335.5L415 334.7L404.5 340L391 350.5L375.2 349.7L373.7 361Z" fill="#e80000"/>
<path d="M349 340L340 347.5L340 357.2L373.7 361L376 328L359.5 328L349 340Z" fill="#ffaa00"/>
<path d="M340 370L460 370L433 367.7L373.7 361L340 357.2L340 370Z" fill="#e80000"/>
<path d="M160 40L340 40L340 178L160 178Z" fill="#ffffff"/>
<path d="M209.5 58L235.7 62.5L235.7 55.7L209.5 49L209.5 58Z" fill="#ffaa00"/>
<path d="M209.5 77.5L206.5 85L197.5 89.5L199 95.5L212.5 97L217 88L223 83.5L227.5 74.5L229 67.7L211 66.2L209.5 77.5Z" fill="#ffaa00"/>
<path d="M183.2 101.5L196.7 108.2L194.5 122.5L203.5 124.7L211 127.7L223 129.2L238 128.5L244 128.5L242.5 112L233.5 112L232 124L214 122.5L208 118L209.5 110.5L212.5 107.5L212.5 97.7L183.2 94.7L183.2 101.5Z" fill="#ffaa00"/>
<path d="M262 77.5L256 88L254.5 100L251.5 107.5L242.5 112L244 128.5L248.5 127L256 121L263.5 118L274 119.5L280 125.5L290.5 69.2L284.5 69.2L274 66.2L264.2 64.7L262 77.5Z" fill="#ffaa00"/>
<path d="M273.2 85L280 90.2L283 85L284.5 69.2L274 66.2L273.2 85Z" fill="#ffffff"/>
<path d="M235.7 62.5L209.5 59.5L211 65.5L229 67.7L227.5 74.5L223 83.5L217 88L212.5 97.7L212.5 107.5L209.5 110.5L208 118L214 122.5L233.5 124L233.5 112L242.5 112L251.5 107.5L254.5 100L256 88L262 77.5L264.2 64.7L236.5 55.7L235.7 62.5Z" fill="#e80000"/>
<path d="M264.2 143.5L266.5 149.5L272.5 155.5L278.5 151L283 143.5L277.7 135.5L264.2 136L264.2 143.5Z" fill="#ffaa00"/>
<path d="M277 167.5L277 178L316 178L308.5 172L308.5 160L284.5 157L278.5 154L277 167.5Z" fill="#ffaa00"/>
<path d="M280 125.5L278.5 135.2L283 143.5L278.5 151L280 154L284.5 157L308.5 160L308.5 172L316 178L332.5 178L328 164.5L325 155.5L320.5 154L316 149.5L319 139L321.2 130L316 124L311.5 115L306.2 103L302.5 91L301.7 82L304 72.2L290.5 70L280 125.5Z" fill="#e80000"/>
<path d="M293.5 81.2L303.2 82.7L304 73L292.7 70.7L293.5 81.2Z" fill="#ffaa00"/>
<path d="M301.7 82L302.5 91L306.2 103L311.5 115L316 124L321.2 130L319 139L316 149.5L320.5 154L325 155.5L328 164.5L332.5 178L340 178L340 78.2L304 72.2L301.7 82Z" fill="#e80000"/>
<path d="M340 70L520 70L520 208L340 208Z" fill="#ffffff"/>
<path d="M361.7 95.5L370 100L372.2 104.5L383.5 105.2L385 88L363.2 84.2L361.7 95.5Z" fill="#ffaa00"/>
<path d="M372.2 110.5L379 121L389.5 124L394 131.5L394 140.5L410.5 140.5L412 131.5L418 127L415 122.5L400 118L400 106L391 103.7L383.5 105.2L373 106L372.2 110.5Z" fill="#ffaa00"/>
<path d="M383.5 149.5L371.5 150.2L364 154L361 160L364 166L362.5 175L367 175L382 173.5L385 166L392.5 160L397 151L397.7 141.2L384.2 139.7L383.5 149.5Z" fill="#ffaa00"/>
<path d="M382 173.5L367 175.7L445 184L445 175L436 175L433 166L424 163L418 166L406 172L400 167.5L389.5 172L382 173.5Z" fill="#ffaa00"/>
<path d="M434.5 107.5L433 122.5L449.5 122.5L451 136L463 136L464.5 127L467.5 133L482.5 136L484 121L478 119.5L458.5 118L458.5 107.5L472 106L472 99.2L439 95.5L434.5 107.5Z" fill="#ffaa00"/>
<path d="M448 154L446.5 169L445 184L464.5 185.5L464.5 175L467.5 163L481 168.2L481.7 160L475 151.7L472 154L460 151L451.7 145L448 154Z" fill="#ffaa00"/>
<path d="M340 184L359.5 182.5L362.5 175L364 166L361 160L364 154L371.5 150.2L383.5 149.5L384.2 139.7L393.2 139L394 131.5L389.5 124L379 121L372.2 110.5L370 100L361.7 95.5L362.5 84.2L340 79.7L340 184Z" fill="#e80000"/>
<path d="M472 106L458.5 107.5L458.5 118L478 119.5L486.2 119.5L487.7 100.7L472 99.2L472 106Z" fill="#e80000"/>
<path d="M464.5 175L464.5 186.2L478.7 188.5L481 168.2L467.5 163L464.5 175Z" fill="#e80000"/>
<path d="M487 119.5L486.2 136L499 136L505 124L504.2 119.5L503.5 102.2L488.5 101.5L487 119.5Z" fill="#ffaa00"/>
<path d="M481.7 169L498.2 170.5L497.5 199L496 208L509.5 208L511.7 190L512.5 170.5L512.5 164.5L483.2 161.5L481.7 169Z" fill="#ffaa00"/>
<path d="M480.2 198.2L497.5 199L498.2 170.5L481.7 169.7L480.2 198.2Z" fill="#e80000"/>
<path d="M368.5 184L379 199L380.5 208L445.7 208L446.5 187.7L421 184.7L419.5 187L427 199L419.5 202L406 200.5L406 182.5L367.7 177.2L368.5 184Z" fill="#ffaa00"/>
<path d="M406 208L427 208L427 199L418 184.7L406 183.2L406 208Z" fill="#e80000"/>
<path d="M445.7 208L477.2 208L478.7 189.2L446.5 188.5L445.7 208Z" fill="#e80000"/>
<path d="M340 193L346 194.5L355 199L362.5 193L363.2 186.2L359.5 184L340 185.5L340 193Z" fill="#ffaa00"/>
<path d="M250 370L460 370L460 514L250 514Z" fill="#ffffff"/>
<path d="M268 372L269 380L265 388L267 400L270 409L264 416L259 426L256 432L257 438L251 446L277 460L282 430L286 410L290 386L294 372L300 370L268.6 370L268 372Z" fill="#ffaa00"/>
<path d="M294 372L290 386L286 410L282 430L277 460L318 486L357 491L372 370L300 370L294 372Z" fill="#e80000"/>
<path d="M357 491L373 493L374 485L406 486.6L406 483L460 487L460 372.4L440.1 370L372 370L357 491Z" fill="#e80000"/>
<path d="M460 371.5L460 370L450.3 370L460 371.5Z" fill="#ffaa00"/>
<path d="M412 496L420 506L428 514L460 514L460 487L406 483L412 496Z" fill="#e80000"/>
<path d="M387 388L386 398L390 400L392 392L398 398L404 396L402 388L396 384L394 377L386 378L387 388Z" fill="#2aa58c"/>
<path d="M374 404L382 402L380 394L370 396L374 404Z" fill="#2aa58c"/>
<path d="M377 417L382 416L382 407L376 408L377 417Z" fill="#2aa58c"/>
<path d="M422 397L429 397L428 391L420 390L422 397Z" fill="#2aa58c"/>
<path d="M410 406L418 408L420 400L408 398L410 406Z" fill="#2aa58c"/>
<path d="M392 426L397 426L396 416L390 418L392 426Z" fill="#2aa58c"/>
<path d="M250 330L340 330L340 370L250 370Z" fill="#ffffff"/>
<path d="M284 364L279 367L270 365.6L268.6 370L300 370L306 368L310 353L285 349.6L284 364Z" fill="#ffaa00"/>
<path d="M306 368L300 370L340 370L340 357.3L310 353L306 368Z" fill="#e80000"/>
<path d="M308 352.4L340 357.1L340 344.7L306 340L308 352.4Z" fill="#ffaa00"/>
<path d="M700 100L880 100L880 238L700 238Z" fill="#ffffff"/>
<path d="M761.5 163.7L770.5 163L772 157L779.5 154L779.5 146.5L771.2 150.2L770.5 152.5L766 153.2L758.5 157.7L761.5 163.7Z" fill="#ffaa00"/>
<path d="M779.5 154.7L771.2 157.7L770.5 162.2L787 162.2L790 160.7L797.5 161.5L800.5 158.5L797.5 152.5L796 148.7L790 150.2L782.5 145L779.5 147.2L779.5 154.7Z" fill="#e80000"/>
<path d="M785.5 173.5L790 174.2L791.5 178.7L799 178.7L799 172L796 169.7L790 168.2L785.5 169L785.5 173.5Z" fill="#ffaa00"/>
<path d="M960 340L1000 340L1000 420L960 420Z" fill="#ffffff"/>
<path d="M940 160L1080 160L1080 300L940 300Z" fill="#ffffff"/>
<path d="M940 299.7L943 299.7L946.1 293.6L943 286L940 284.5L940 299.7Z" fill="#ffaa00"/>
<path class="cy" d="M126.6 230l1.2-0.7M136.2 232.5l-8.4-3.2M128.6 221.1l-0.8 8.2M137.7 257.3l-7.8-2.5M130.4 245.2l5.6-1.8M140.9 218.3l-9.8-0.1M134.4 267.5l-2.9-0.5M133.3 274.8l1.1-7.3M136.6 266.5l-2.2 1M135 281.6l0.1 0M135.1 281.6l-0.1 0.1M135.1 281.6l7.6 0.8M140.9 247.1l-4.9-3.7M137.4 234.7l-1.4 8.7M136.2 232.5l1.2 2.2M143.2 222.1l-7 10.4M136.6 266.5l8.8 7.5M139.4 260.6l-2.8 5.9M137.4 234.7l13.1 1M139.4 260.6l-1.7-3.3M137.7 257.3l3.2-10.2M139.2 206.8l3 1.2M139.4 260.6l11.7-0.8M150.2 183.6l-10.6-1.5M146.8 196.6l-7.2-2.4M147.9 246.9l-7 0.2M140.9 218.3l2.3 3.8M143.2 210.7l-2.3 7.6M140.9 297l1.6-1.4M142.9 309.6l-1.6-1.5M142.9 309.6l-0.9 2.9M142.2 208l1 2.7M147.9 198.4l-5.7 9.6M142.5 295.6l8.4 0.8M142.5 295.6l0.2-13.2M143.9 281.6l-1.2 0.8M142.9 309.6l6.8 1.3M151.6 225.1l-8.4-3M143.2 210.7l13.9 1.4M149.5 336.5l-5.8-4M154.8 172.8l-11-6.1M155 286.2l-11.1-4.6M145.9 275.7l-2 5.9M144.7 324l6.3-1.6M145.9 275.7l-0.5-1.7M151.8 260.7l-6.4 13.3M160.2 273.8l-14.3 1.9M147.9 198.4l-1.1-1.8M150.4 184l-3.6 12.6M147.7 344l1.8-7.5M151.2 252l-3.3-5.1M147.9 246.9l3.7-8.1M159.4 201.2l-11.5-2.8M158.5 349.3l-10.3-4.2M149 155.9l9.1 1.3M153.4 333.8l-3.9 2.7M152.8 314.9l-3.1-4M149.7 310.9l4.8-8.7M150.4 184l-0.2-0.4M150.2 183.6l4.6-10.8M161.6 190l-11.2-6M150.5 235.7l1.1 3.1M152.9 227.2l-2.4 8.5M154.5 302.2l-3.6-5.8M156.5 289.1l-5.6 7.3M151 322.4l2.4 11.4M152.6 320.4l-1.6 2M151.1 259.8l0.7 0.9M151.1 259.8l0.1-7.8M151.2 252l10.8-3.3M151.6 238.8l10 2.4M151.6 225.1l1.3 2.1M151.6 225.1l5.5-13M151.8 260.7l6.7 2.8M152.6 320.4l12.9 5.4M152.8 314.9l-0.2 5.5M165.3 311.6l-12.5 3.3M152.9 227.2l12.2 0.9M153.4 333.8l5.2 0.4M163.6 302.4l-9.1-0.2M157 359.5l-2.5 0.1M155.9 172.5l-1.1 0.3M155 286.2l1.5 2.9M160.5 274.3l-5.5 11.9M168.3 176.6l-12.4-4.1M155.9 172.5l4.1-12.7M156.3 371.6l0.1 0M158.1 374.4l-1.7-2.8M156.5 371.1l-0.1 0.5M165.7 291.4l-9.2-2.3M156.7 377.1l1.4-2.7M156.8 142.2l6 2.1M157.3 360l-0.4 6M157.3 360l-0.3-0.5M157 359.5l1.7-9.7M157.1 212.1l0.3-0.2M169.7 362.8l-12.4-2.8M165.9 216.8l-8.5-4.9M157.4 211.9l2.1-10.7M158.1 157.2l1.9 2.6M158.1 157.2l4.7-12.9M165.5 374.5l-7.4-0.1M158.5 263.5l1.7 2.8M158.5 263.5l7.8-10.5M158.7 349.8l-0.2-0.5M162.3 340.4l-3.8 8.9M162.3 340.4l-3.7-6.2M165.6 326l-7 8.2M171.3 351.4l-12.6-1.6M159.4 201.2l0.1 0M159.4 201.2l2.2-11.2M159.5 201.2l13.8 2M170.9 161l-10.9-1.2M160.2 266.3l0 7.5M160.2 266.3l15.1-2M160.2 273.8l0.3 0.5M160.5 274.3l9.7 5.2M167.1 186l-5.5 4M161.6 241.2l0.4 7.5M161.6 241.2l2.2-1.8M162 248.7l4.3 4.3M162.3 340.4l8.6-0.7M162.8 144.3l0.4-0.1M173.9 149.2l-10.7-5M168.6 130.7l-5.4 13.5M164.4 303.6l-0.8-1.2M165.7 291.4l-2.1 11M163.8 239.4l11.9 2.8M165.1 228.1l-1.3 11.3M168.6 130.7l-4.2-3M165.3 311.6l-0.9-8M164.4 303.6l14.4-1.9M166.3 227.4l-1.2 0.7M169.4 315.5l-4.1-3.9M165.5 374.5l4 3.6M169.9 363.1l-4.4 11.4M165.5 325.8l0.1 0.2M169.4 315.5l-3.9 10.3M165.6 326l7 5.2M169.6 288.9l-3.9 2.5M165.9 216.8l0.4 10.6M165.9 216.8l5.8-3.1M166.3 227.4l10.3 1.6M166.3 253l8 0.2M167.1 186l8.1 5.7M168.3 176.6l-1.2 9.4M170.8 174.9l-2.5 1.7M169.5 378.1l-1.1 4.6M174.9 129.9l-6.3 0.8M175.5 114.8l-6.8-1.1M169.4 315.5l5.8-0.8M169.5 378.1l5.5-0.5M169.6 288.9l9 4.7M170.2 279.5l-0.6 9.4M169.7 362.8l0.2 0.3M171.3 351.4l-1.6 11.4M180.3 365.6l-10.4-2.5M170.2 279.5l0.9-0.6M184 181l-13.2-6.1M170.8 174.9l3.1-8.9M173.1 342.6l-2.2-2.9M170.9 339.7l1.7-8.5M173.9 166l-3-5M170.9 161l3-11.8M171.1 278.9l13.9 2.8M171.1 278.9l6.4-11M171.9 351l-0.6 0.4M171.7 213.7l8.7 6.2M171.7 213.7l2-10M171.9 351l8.6 2.2M171.9 351l1.2-8.4M172.3 98.6l5 0.4M177.7 330l-5.1 1.2M173.1 342.6l10.4-1.2M173.7 203.7l-0.4-0.5M175.2 191.7l-1.9 11.5M182.9 205.1l-9.2-1.4M178.5 66.9l-4.8-1.8M178.8 147.2l-4.9 2M189.1 163.9l-15.2 2.1M175.3 254.2l-1-1M174.3 253.2l1.4-11M174.7 72.5l3.8-5.6M174.9 129.9l7.1 3.4M175.5 114.8l-0.6 15.1M179.8 382.1l-4.8-4.5M181 366.9l-6 10.7M179.6 318.8l-4.4-4.1M175.2 314.7l5.4-9.8M175.2 191.7l8.2-2.8M175.3 254.2l0 10.1M175.3 254.2l8.8-0.3M175.3 264.3l2.2 3.6M176.8 114l-1.3 0.8M177 240.7l-1.3 1.5M175.7 84.1l6.8 2.7M176.6 229l0.4 11.7M178.6 227.4l-2 1.6M176.8 114l13.2 2M176.8 114l1.4-13.9M179.8 382.1l-2.9 7.3M187.5 241.7l-10.5-1M177.3 99l0.9 1.1M182.5 87l-5.2 12M177.5 267.9l7.4 1.4M184.4 333.1l-6.7-3.1M179.6 318.8l-1.9 11.2M178.2 100.1l13.5 4.1M179.8 66.6l-1.3 0.3M189.7 231l-11.1-3.6M178.6 227.4l1.8-7.5M178.8 301.7l-0.2-8.1M183.1 291.2l-4.5 2.4M189.1 153.8l-10.3-6.6M182 133.3l-3.2 13.9M180.6 304.9l-1.8-3.2M185.9 319.2l-6.3-0.4M187.2 74l-7.4-7.4M179.8 66.6l4.6-9.7M188.9 382l-9.1 0.1M180.3 365.6l0.7 1.3M180.3 365.6l2.4-8.1M180.4 219.9l1.6-1.2M180.5 353.2l2.2 4.3M185.8 344.5l-5.3 8.7M180.6 304.9l7.8 1.4M190.6 371l-9.6-4.1M192.5 220.7l-10.5-2M185.4 208.6l-3.4 10.1M182.7 133.1l-0.7 0.2M182.5 87l0-0.2M187.2 74l-4.7 12.8M182.5 87l13.8 5.2M194.8 137.4l-12.1-4.3M191.2 117.8l-8.5 15.3M182.7 357.5l11.8-1.8M185.4 208.6l-2.5-3.5M182.9 205.1l4.3-8.2M182.9 394.1l6.9-0.7M183.1 291.2l8.6 2.3M185 281.7l-1.9 9.5M187.2 196.9l-3.8-8M185.7 184.4l-2.3 4.5M183.5 341.4l2.3 3.1M184.4 333.1l-0.9 8.3M184 181l1.7 3.4M184 181l6.1-15.9M184.1 253.9l5.7 3.8M188.8 243.9l-4.7 10M184.4 333.1l0.7-0.4M186.8 271.2l-1.9-1.9M184.9 269.3l4.9-11.6M185 281.7l1.4-1.4M198.9 335.2l-13.8-2.5M189.4 323.1l-4.3 9.6M185.4 208.6l8 0.9M185.7 184.4l15.3-0.2M185.8 344.5l10.1 2.6M185.9 319.2l3.5 3.9M185.9 319.2l5.2-10.3M195.2 283.2l-8.8-2.9M186.4 280.3l0.4-9.1M186.8 271.2l10.7-0.7M199.5 197.9l-12.3-1M187.2 74l8.6-0.4M187.5 241.7l1.3 2.2M191.4 233.1l-3.9 8.6M191.1 308.9l-2.7-2.6M188.4 306.3l4.2-11.6M197.2 247.6l-8.4-3.7M189.5 382.9l-0.6-0.9M190.6 371l-1.7 11M190.1 165.1l-1-1.2M189.1 163.9l0-10.1M194 150.1l-4.9 3.7M198.3 323.1l-8.9 0M189.5 399.7l0.3-6.3M189.5 382.9l1.1 9.6M204 381.8l-14.5 1.1M191.4 233.1l-1.7-2.1M189.7 231l2.8-10.3M194.8 257l-5 0.7M190.6 392.5l-0.8 0.9M190 116l1.2 1.8M190 116l1.7-11.8M190.1 165.1l9.7 3.8M190.6 371l1.5-0.8M203 394.6l-12.4-2.1M191.1 308.9l11.5 2M191.2 117.8l13 4.1M200 233.3l-8.6-0.2M191.7 293.5l0.9 1.2M195.6 284l-3.9 9.5M193 103l-1.3 1.2M192.1 370.2l11.5 3.7M196.3 359.9l-4.2 10.3M193 220.4l-0.5 0.3M203.5 297.7l-10.9-3M203 222.6l-10-2.2M193 220.4l0.4-10.9M193 103l16.5 5.7M196.3 92.2l-3.3 10.8M194.3 209.1l-0.9 0.4M207.7 151.7l-13.7-1.6M194.8 137.4l-0.8 12.7M205.7 215.1l-11.4-6M199.5 197.9l-5.2 11.2M194.5 355.7l1.8 4.2M194.5 355.7l1.6-8.1M201.5 134.3l-6.7 3.1M198.3 260.2l-3.5-3.2M197.2 247.6l-2.4 9.4M195.6 284l-0.4-0.8M195.2 283.2l3.8-11.3M206 286.7l-10.4-2.7M195.8 73.6l5.8 6.7M199.9 63.6l-4.1 10M195.9 347.1l0.2 0.5M195.9 347.1l3.8-10.6M196.1 347.6l13.8 3.4M205.9 361.7l-9.6-1.8M196.3 92.2l1.4-0.8M199.4 246.4l-2.2 1.2M199 271.9l-1.5-1.4M197.5 270.5l0.8-10.3M197.7 91.4l13.8 6M197.7 91.4l3.9-11.1M198.3 323.1l0.6 12.1M202.1 318.8l-3.8 4.3M207.6 258.8l-9.3 1.4M200.7 407.9l-2.1-0.1M198.9 335.2l0.8 1.3M210.9 274.5l-11.9-2.6M209.9 254.3l-10.5-7.9M203 239.6l-3.6 6.8M199.5 197.9l0.3-0.2M199.7 336.5l11-0.5M199.8 197.7l9.8 5.1M201 184.2l-1.2 13.5M199.8 168.9l2.3 3M199.8 168.9l8.4-15.7M203 239.6l-3-6.3M203.9 225.9l-3.9 7.4M201 408.4l-0.5 2.2M201 408.4l-0.3-0.5M204.1 396.2l-3.4 11.7M201.2 184l-0.2 0.2M208.6 411.6l-7.6-3.2M216.5 187.1l-15.3-3.1M202.1 171.9l-0.9 12.1M201.5 134.3l9.5 9.2M204.5 122.6l-3 11.7M201.6 80.3l10.4-1.6M201.6 60.6l9.8 0.4M202.1 171.9l14.2-2M202.1 318.8l9.9 6.9M202.1 318.8l0.5-7.9M207.6 305.7l-5 5.2M203.9 225.9l-0.9-3.3M205.7 215.1l-2.7 7.5M204.1 396.2l-1.1-1.6M205.7 384.2l-2.7 10.4M212.2 240.6l-9.2-1M203.5 297.7l4.1 8M206 286.7l-2.5 11M204 381.8l-0.4-7.9M203.6 373.9l0.7-0.6M215.2 228.5l-11.3-2.6M204 381.8l1.7 2.4M215.2 398.1l-11.1-1.9M204.5 122.6l-0.3-0.7M204.2 121.9l6.2-10.5M205.9 361.7l-1.6 11.6M216.2 372.1l-11.9 1.2M221.8 130.3l-17.3-7.7M205.7 384.2l6.9-0.5M205.7 215.1l3-2.2M208.4 360.4l-2.5 1.3M206 286.7l5.2-4.5M207.5 424.1l-0.9-0.2M206.6 427.7l0.9-3.6M209.1 423.3l-1.6 0.8M223.1 305.5l-15.5 0.2M207.6 258.8l5.7 12.6M209.9 254.3l-2.3 4.5M208.2 153.2l-0.5-1.5M207.7 151.7l3.3-8.2M208.1 435.6l13.1-0.2M208.2 153.2l11.5 8M216.8 364.9l-8.4-4.5M208.4 360.4l1.5-9.4M208.6 411.6l0.5 11.7M213 409.9l-4.4 1.7M208.7 212.9l11 4.4M208.7 212.9l0.9-10.1M209.1 423.3l12.9 2.3M210.4 111.4l-0.9-2.7M211.5 97.4l-2 11.3M209.6 202.8l3.8-1.9M210.3 254l-0.4 0.3M209.9 351l2.8-2M210.3 254l12.6 0.2M212.2 240.6l-1.9 13.4M222.8 112.9l-12.4-1.5M210.7 336l1.3 1.2M212 325.7l-1.3 10.3M211.2 282.2l-0.3-7.7M210.9 274.5l2.4-3.1M217.8 141l-6.8 2.5M211.2 282.2l14.8 10.3M211.4 61l0.6 17.7M213.4 59.8l-2 1.2M211.5 97.4l5.3-3.7M212 325.7l11.7-5.6M212 78.7l1.9 1.1M212.7 349l-0.7-11.8M222.8 336.3l-10.8 0.9M212.2 240.6l3.9-1.7M212.6 383.7l5.3 5.9M212.6 383.7l5.7-8.5M218.8 350.6l-6.1-1.6M213 409.9l10.6 5M213 409.9l2.2-11.8M225 267.3l-11.7 4.1M222.6 203.8l-9.2-2.9M216.5 187.1l-3.1 13.8M213.4 59.8l13.9 7.1M216.7 50.7l-3.3 9.1M213.9 79.8l2.9 13.9M213.9 79.8l10.5-3.2M216.1 238.9l-0.9-10.4M215.2 228.5l1.9-1.9M215.2 398.1l1.1-0.5M216.1 238.9l7.5 3.4M216.2 372.1l2.1 3.1M216.8 364.9l-0.6 7.2M225.6 401l-9.3-3.4M216.3 397.6l1.6-8M216.3 169.9l0.1 0.1M216.3 169.9l3.4-8.7M216.4 170l15.7 7.5M217.3 186.7l-0.9-16.7M216.5 187.1l0.8-0.4M216.8 364.9l0.1-0.1M216.8 93.7l10.6 2.2M231.2 365.3l-14.3-0.5M216.9 364.8l5-10.5M217.1 226.6l15 4.6M217.1 226.6l2.6-9.3M217.3 186.7l10.3 0.6M224.7 146.6l-6.9-5.6M221.8 130.3l-4 10.7M217.9 389.6l7.7-3.9M218.3 375.2l6.4 2M218.8 350.6l3.1 3.7M218.8 350.6l6.9-9.2M219.7 217.3l0.1 0M223.7 159.5l-4 1.7M219.8 217.3l11.2 1.2M222.6 203.8l-2.8 13.5M221.2 435.4l0.1 2.1M221.2 435.4l2.4-7M221.8 130.3l1.4-0.9M232.6 356l-10.7-1.7M222 425.6l1.6 2.8M223.6 414.9l-1.6 10.7M222.6 203.8l3.7-1.4M225.7 341.4l-2.9-5.1M222.8 336.3l5.2-10.5M223.2 129.4l-0.4-16.5M222.8 112.9l5-3.2M222.9 254.2l2.1 13.1M222.9 254.2l3.2-5.7M223.1 305.5l0.6 14.6M223.1 305.5l0.8-0.7M223.2 129.4l13 0.9M237.4 429.1l-13.8-0.7M227.6 410.7l-4 4.2M223.6 242.3l2.5 6.2M223.6 242.3l8.5-11.1M223.7 159.5l12.7 3.7M224.7 146.6l-1 12.9M223.7 320.1l4.3 5.7M223.9 304.8l21.1 4.3M223.9 304.8l2.1-12.3M224.4 76.6l6.7 6.7M227.3 66.9l-2.9 9.7M224.7 146.6l12.1-2.4M224.7 377.2l0.9 8.5M224.7 377.2l5.2-3.2M225 267.3l4.1 2M225.6 385.7l8.8 6.7M225.6 401l2 9.7M225.6 401l8.8-8.6M225.7 341.4l8.3 3.2M226 292.5l5-4.7M244.3 250.1l-18.2-1.6M226.3 202.4l9.3 7.7M226.3 202.4l3.6-11.3M229.2 66l-1.9 0.9M228.6 97.4l-1.2-1.5M231.1 83.3l-3.7 12.6M243.4 412.2l-15.8-1.5M227.6 187.3l2.3 3.8M227.6 187.3l4.5-9.8M227.8 109.7l10.8 5.9M227.8 109.7l0.8-12.3M237.1 327.9l-9.1-2.1M243.6 97.1l-15 0.3M231 287.8l-1.9-18.5M239.9 265.9l-10.8 3.4M229.2 66l11.7 4.2M232.8 54.5l-3.6 11.5M239.6 379.2l-9.7-5.2M231.2 365.5l-1.3 8.5M242.2 194.5l-12.3-3.4M246.1 287.2l-15.1 0.6M231 218.5l4.4 10.8M231 218.5l4.6-8.4M240.9 80.4l-9.8 2.9M231.2 365.5l0-0.2M231.2 365.3l1.4-9.3M243.4 368.6l-12.2-3.1M235.4 229.3l-3.3 1.9M232.1 177.5l1.7-1.5M234.8 354l-2.2 2M233.8 176l14.4 6.1M236.4 163.2l-2.6 12.8M234.8 354l-0.8-9.4M234 344.6l3.7-4.3M234.4 392.4l6.8-0.8M247.6 356.4l-12.8-2.4M242.5 231.4l-7.1-2.1M240.4 208.7l-4.8 1.4M236.8 144.2l-0.6-13.9M236.2 130.3l1.2-1.2M236.8 162.9l-0.4 0.3M236.8 144.2l1.4 1.5M250.6 163.4l-13.8-0.5M236.8 162.9l1.4-17.2M237.1 327.9l0.6 12.4M243.7 324.5l-6.6 3.4M237.4 129.1l12.9 1.6M238.6 115.6l-1.2 13.5M240.7 434.8l-3.3-5.7M237.4 429.1l7.9-13.4M249.5 342.3l-11.8-2M238.2 145.7l12.6 0.4M238.6 115.6l0.9-0.5M238.8 439l1.9-4.2M244.7 98.6l-5.2 16.5M239.5 115.1l15.6-0.3M241.2 391.6l-1.6-12.4M244.9 372.9l-5.3 6.3M249.6 274.1l-9.7-8.2M244.3 250.1l-4.4 15.8M249.8 213.3l-9.4-4.6M242.2 194.5l-1.8 14.2M240.7 434.8l16.1 4.7M240.9 70.2l1.1 1.8M245.2 57.6l-4.3 12.6M240.9 80.4l5.8 6M242 72l-1.1 8.4M246.5 394.7l-5.3-3.1M242 72l15.3-1.8M242.8 194.2l-0.6 0.3M242.5 231.4l1.8 18.7M249.9 226.7l-7.4 4.7M259.3 200.2l-16.5-6M242.8 194.2l5.4-12.1M243.4 412.2l1.9 3.5M246.5 394.7l-3.1 17.5M244.9 372.9l-1.5-4.3M247.6 356.4l-4.2 12.2M244.7 98.6l-1.1-1.5M243.6 97.1l3.1-10.7M243.7 324.5l10.9 12.4M248.5 314.3l-4.8 10.2M244.3 250.1M244.3 250.1l16.8 1.4M244.7 98.6l11.1 5M263.7 375.4l-18.8-2.5M245 309.1l3.5 5.2M250.1 292.1l-5.1 17M257.7 419.6l-12.4-3.9M246.1 287.2l4 4.9M246.1 287.2l3.5-13.1M246.5 394.7l11-3M246.7 86.4l7.6-1.4M249.4 355.8l-1.8 0.6M248.2 182.1l2.6-1.1M259.5 315l-11-0.7M249.4 355.8l13 4.4M249.4 355.8l0.1-13.5M249.5 342.3l5.1-5.4M258.3 271.1l-8.7 3M249.8 213.3l0.1 13.4M249.8 213.3l6.4-4.5M249.9 226.7l17 5.5M250.1 292.1l16.6 1.3M250.3 130.7l2 2.8M257.1 118.1l-6.8 12.6M250.6 163.4l0.2 0.2M250.6 163.4l4-13.5M268 167.6l-17.2-4M250.8 163.6l0 17.4M254.6 149.9l-3.8-3.8M250.8 146.1l1.5-12.6M261.9 184.3l-11.1-3.3M268.8 135.3l-16.5-1.8M262.1 89.4l-7.8-4.4M257.3 70.2l-3 14.8M254.6 149.9l7.5-1.3M262.6 336.2l-8 0.7M255.1 114.8l2 3.3M255.1 114.8l1.6-9.4M255.8 103.6l0.9 1.8M255.8 103.6l6.3-14.2M255.9 448.2l0.9-8.7M256.2 208.8l16.7 12.2M256.2 208.8l3.1-8.6M256.7 105.4l15-0.5M260.7 435l-3.9 4.5M269.2 122.2l-12.1-4.1M258 69.5l-0.7 0.7M267.4 401.9l-9.9-10.2M263.9 375.8l-6.4 15.9M260.7 435l-3-15.4M267.9 411.1l-10.2 8.5M269.7 79.5l-11.7-10M260.5 61.5l-2.5 8M258.3 271.1l12.5 10.2M258.3 271.1l5-16.1M261.3 198.6l-2 1.6M259.5 315l6.3 6M268.2 296.3l-8.7 18.7M281.8 436.1l-21.1-1.1M261.1 251.5l2.2 3.5M267.2 233.5l-6.1 18M261.3 198.6l15.3 4M261.9 184.3l-0.6 14.3M263.9 182.8l-2 1.5M270.3 156.9l-8.2-8.3M262.1 148.6l7.1-12.4M262.1 89.4l5-0.9M262.4 360.2M262.4 360.2l4.3-19.7M263.7 375.4l-1.3-15.2M262.4 360.2l22.9-4.6M262.6 336.2l4.1 4.3M265.8 321l-3.2 15.2M263.3 255l17.3 4.7M263.7 375.4l0.2 0.4M277 186l-13.1-3.2M263.9 182.8l4.2-15M281.6 378.3l-17.7-2.5M265.8 321l15.7-2M266.7 340.5l12 0.2M268.2 296.3l-1.5-2.9M270.8 281.3l-4.1 12.1M266.9 232.2l0.3 1.3M266.9 232.2l6-11.2M267.1 88.5l6.2 4.9M269.7 79.5l-2.6 9M267.2 233.5l18.6 8.3M267.9 411.1l-0.5-9.2M280.9 395.6l-13.5 6.3M283.9 419.9l-16-8.8M268 167.6l0.1 0.2M268 167.6l2.3-10.7M268.1 167.8l13.1 3.1M282.5 303.2l-14.3-6.9M269.2 136.2l-0.4-0.9M269.2 122.2l-0.4 13.1M270.2 121.4l-1 0.8M277.9 139.4l-8.7-3.2M269.7 79.5l5.5-3.8M270.2 121.4l15.1 1.1M270.2 121.4l3.6-13.5M270.3 156.9l8.4-4M276.6 278.3l-5.8 3M271.7 104.9l2.1 3M271.7 104.9l1.6-11.5M282.8 454.5l-10.7 3.4M272.9 221l0.6-0.5M273.3 93.4l13.1-2.4M273.5 220.5l14.1 1.2M276.6 202.6l-3.1 17.9M273.8 107.9l15.1 0.4M287.4 84.2l-12.2-8.5M275.2 75.7l2-9.6M290 283.5l-13.4-5.2M276.6 278.3l4-18.6M277.1 202.3l-0.5 0.3M276.9 65.7l0.3 0.4M277 186l0.1 16.3M277 186l1.1-0.7M277.1 202.3l12.1-0.5M281.1 66.7l-3.9-0.6M278.7 152.9l-0.8-13.5M277.9 139.4l4.2-1.5M294.6 190.7l-16.5-5.4M278.1 185.3l5.1-11.8M278.7 340.7l5.5 4.5M282.9 320.4l-4.2 20.3M278.7 152.9l8.1 3.9M280.6 259.7l0.5-0.2M292.3 402.7l-11.4-7.1M280.9 395.6l0.7-17.3M298.2 268.3l-17.1-8.8M281.1 259.5l6.2-11.5M283.2 173.5l-2-2.6M281.2 170.9l5.6-14.1M281.5 319l1.4 1.4M282.5 303.2l-1 15.8M283.8 377.1l-2.2 1.2M282.8 454.5l-1-18.4M287.3 429.1l-5.5 7M282.1 137.9l11.1 7M282.1 137.9l6.1-10.2M282.5 303.2l3.3-2M282.8 454.5l2.3 1.9M299.8 324.8l-16.9-4.4M283.2 173.5l11 2.4M305.3 382.8l-21.5-5.7M287.4 358.1l-3.6 19M287.3 429.1l-3.4-9.2M283.9 419.9l8.4-17.2M284.1 465.1l1-8.7M285.3 355.6l-1.1-10.4M300.2 335.9l-16 9.3M307 460.7l-21.9-4.3M288.2 127.7l-2.9-5.2M285.3 122.5l4.5-12.8M287.4 358.1l-2.1-2.5M285.8 241.8l1.5 6.2M285.8 241.8l4.2-6.1M285.8 301.2l19.5 2.7M285.8 301.2l4.2-17.7M289.9 95.4l-3.5-4.4M286.4 91l1-6.8M286.8 156.8l4.2-1M287.3 248l13.8 2.1M287.3 429.1l21.1 1.1M305.8 358.6l-18.4-0.5M287.4 84.2l2.7-3.1M287.6 221.7l2.4 2M291.4 205.2l-3.8 16.5M297.4 129.2l-9.2-1.5M289.8 109.7l-0.9-1.4M289.9 95.4l-1 12.9M289.2 201.8l2.2 3.4M294.7 190.9l-5.5 10.9M303.5 113.2l-13.7-3.5M299.1 94.7l-9.2 0.7M290 223.7l0 12M303.2 221.5l-13.2 2.2M290 283.5l3.9-1.4M305.9 236.2l-15.9-0.5M290.1 81.1l0-12M303.4 80.3l-13.3 0.8M291 155.8l5.4 3.3M291 155.8l2.2-10.9M303.7 210.1l-12.3-4.9M303.5 398.9l-11.2 3.8M293.2 144.9l7.3-4.6M293.9 282.1l12.9 7.3M293.9 282.1l4.3-13.8M294.6 190.7l-0.4-14.8M294.2 175.9l3.3-2.7M294.6 190.7l0.1 0.2M304.6 192.1l-9.9-1.2M297.5 173.2l-1.1-14.1M296.4 159.1l12.7-3.6M299.5 131.6l-2.1-2.4M303.5 113.2l-6.1 16M309.6 174.3l-12.1-1.1M298.2 268.3l3.4-1.6M299.1 94.7l7 5.2M299.1 94.7l6.9-11.8M299.5 131.6l1 8.7M299.5 131.6l14.5-3.8M301.8 327.9l-2-3.1M299.8 324.8l6.1-19.9M308.3 350l-8.1-14.1M300.2 335.9l1.6-8M300.5 140.3l9.3 5.2M301.6 266.7l-0.5-16.6M303.5 248.5l-2.4 1.6M309.5 267.7l-7.9-1M301.8 327.9l15.7-0.1M306.5 235.6l-3.3-14.1M304.3 220l-1.1 1.5M303.3 476.5l3.7-15.8M303.3 72.6l0.1 7.7M306 82.9l-2.6-2.6M303.5 398.9l12.9 13.7M303.5 398.9l1.8-16.1M303.5 113.2l0.3-0.1M316.2 252.6l-12.7-4.1M305.9 236.2l-2.4 12.3M303.7 210.1l0.6 9.9M309 205l-5.3 5.1M303.8 113.1l8.6 2.8M306.1 99.9l-2.3 13.2M320 220.7l-15.7-0.7M309 205l-4.4-12.9M310.9 187.4l-6.3 4.7M305.3 303.9l0.6 1M305.3 303.9l1.5-14.5M314.4 374.4l-9.1 8.4M305.8 358.6l8.6 15.8M308.3 350l-2.5 8.6M305.9 236.2l0.6-0.6M305.9 304.9l17 3.1M306 82.9l9.4 1.7M306.1 99.9l7.1-3M317.3 235.7l-10.8-0.1M306.8 289.4l4.6-2.9M309.3 459.2l-2.3 1.5M308.3 350l13.2-5.2M308.4 430.2l3.4 6.3M308.4 430.2l8-17.6M319 205.3l-10-0.3M312.6 160.6l-3.5-5.1M309.1 155.5l1.6-7.5M309.3 459.2l22.6 6.8M311.8 436.5l-2.5 22.7M313.1 271.3l-3.6-3.6M309.5 267.7l7.1-13.9M312.4 177.3l-2.8-3M309.6 174.3l3-13.7M309.8 145.5l0.9 2.5M309.8 145.5l8-12.8M310.7 148l17.7 0.3M310.9 187.4l10.6 6.2M312.4 177.3l-1.5 10.1M327 289.2l-15.6-2.7M313.1 271.3l-1.7 15.2M338 439.2l-26.2-2.7M312.4 177.3l12.2-1.3M313.8 118l-1.4-2.1M321.3 104.3l-8.9 11.6M312.6 160.6l12.8 1.3M313.1 271.3l12.2-0.2M321.3 104.3l-8.1-7.4M315.6 84.9l-2.4 12M313.8 118l18 1.5M314 127.8l-0.2-9.8M314 127.8l3.8 4.9M314.4 374.4l19.1 0.4M315.4 84.6l0.2 0.3M315.4 84.6l2.8-9.2M315.6 84.9l14.1 4.1M316.2 252.6l0.4 1.2M321.2 241.1l-5 11.5M316.4 412.6l16.4-4.2M328.5 259.2l-11.9-5.4M321.2 241.1l-3.9-5.4M317.3 235.7l4.5-11.3M317.5 327.8l5.8 7.7M324.6 315.7l-7.1 12.1M317.8 132.7l11.6 1.3M319 205.3l3.4 6.9M323.4 197.1l-4.4 8.2M320 220.7l1.8 3.7M322.4 212.2l-2.4 8.5M321.2 241.1l11.5 1M330.8 103.2l-9.5 1.1M323.4 197.1l-1.9-3.5M321.5 193.6l5.8-14.2M321.5 344.8l15.6 14.3M321.5 344.8l1.8-9.3M334.2 226.9l-12.4-2.5M322.4 212.2l12.9-0.7M322.9 308l1.7 7.7M322.9 308l3.7-4.2M323.3 335.5l14.3-2.4M323.4 197.1l13-0.7M335.7 320.9l-11.1-5.2M327.3 179.4l-2.7-3.4M327.8 166.1l-3.2 9.9M328.7 275.1l-3.4-4M328.5 259.2l-3.2 11.9M327.8 166.1l-2.4-4.2M325.4 161.9l3.8-12M326.1 486.4l7-18.5M326.6 303.8l14 0.8M327 289.2l-0.4 14.6M327.1 289.1l-0.1 0.1M327.1 289.1l1.6-14M327.1 289.1l17.4-0.4M327.3 179.4l11.8 4.5M327.8 166.1l12.9 0.1M329.2 149.9l-0.8-1.6M328.4 148.3l2.2-12.7M334.1 256.3l-5.6 2.9M328.7 275.1l17-2.4M329.2 149.9l13.4 4.1M330.6 135.6l-1.2-1.6M329.4 134l2.4-14.5M329.7 89l2.7 5.1M329.7 89l4.5-10.7M341.6 136.2l-11-0.6M330.8 103.2l2.8 3.8M332.4 94.1l-1.6 9.1M332.6 118.5l-0.8 1M331.9 466l1.2 1.9M339.1 448.4l-7.2 17.6M332.4 94.1l16.4-4M332.6 118.5l14.6 4.3M333.6 107l-1 11.5M332.7 242.1l1.7 1.9M335.2 228.1l-2.5 14M332.8 408.4l3.4 2.2M332.8 408.4l2.4-31.7M354.7 475.5l-21.6-7.6M333.5 374.8l1.7 1.9M333.5 374.8l3.6-15.7M346.1 107l-12.5 0M343.9 261.4l-9.8-5.1M334.4 244l-0.3 12.3M334.2 226.9l1 1.2M336.8 213.1l-2.6 13.8M334.4 244l14.1-1.7M335.2 376.7l19.8 3.5M335.2 228.1l13.5 0M335.3 211.5l1.5 1.6M336.4 196.4l-1.1 15.1M335.7 320.9l2.1 12M335.7 320.9l6.9-4.8M341.5 434.2l-5.3-23.6M336.2 410.6l22.2-2.1M336.4 196.4l1.6-1.3M347.8 213.7l-11-0.6M337.1 359.1l2.7-3M339.8 356.1l-2.2-23M337.8 332.9l-0.2 0.2M349.4 331.9l-11.6 1M338 439.2l1.1 9.2M338 439.2l3.5-5M351.5 200.8l-13.5-5.7M338 195.1l1.1-11.2M339.1 183.9l1.7-1.5M339.1 448.4l21.5 5.6M348.1 352.7l-8.3 3.4M342.6 316.1l-2-11.5M345.7 300.6l-5.1 4M340.7 166.2l0.1 16.2M342.1 165l-1.4 1.2M354.2 181.3l-13.4 1.1M341.5 434.2l17.6-0.9M345 139.8l-3.4-3.6M341.6 136.2l6.8-11.5M342.1 165l15.6 5.8M342.1 165l1.7-9.5M343.8 155.5l-1.2-1.5M345 139.8l-2.4 14.2M342.6 316.1l10.6 3M355.8 153.8l-12 1.7M343.9 261.4l3.8 7.6M352.5 247.4l-8.6 14M344.5 288.7l1.2 11.9M347.1 285.3l-2.6 3.4M345 139.8l11.9 1.3M345.7 272.7l1.4 12.6M347.7 269l-2 3.7M345.7 300.6l9.9 3.8M346.1 107l3.3 3.2M346.1 107l5.6-14M361.7 288.1l-14.6-2.8M347.2 122.8l1.2 1.9M349.4 110.2l-2.2 12.6M365 266.9l-17.3 2.1M347.8 213.7l0.9 14.4M350.5 211l-2.7 2.7M347.8 80.8l0.6 0.4M364.6 357l-16.5-4.3M354.3 338.6l-6.2 14.1M348.4 124.7l10.2 1.9M348.4 81.2l0.4 8.9M348.7 81l-0.3 0.2M352.5 247.4l-4-5.1M348.5 242.3l2.4-12.3M348.7 228.1l2.2 1.9M348.8 90.1l2.9 2.9M354.3 338.6l-4.9-6.7M349.4 331.9l4.9-11M349.4 110.2l13.2 0.2M350.5 211l15.3 5.9M350.5 211l1-10.2M350.9 230l12.2-1.6M355.1 198.5l-3.6 2.3M361.6 94.9l-9.9-1.9M364.5 249.7l-12-2.3M354.3 320.9l-1.1-1.8M355.6 304.4l-2.4 14.7M354 490l0.7-14.5M356.6 184.7l-2.4-3.4M357.7 170.8l-3.5 10.5M354.3 338.6l13.1 0.3M366.8 322.2l-12.5-1.3M354.7 475.5l1.3-0.9M364.2 395.7l-9.2-15.5M365.9 370.3l-10.9 9.9M369.2 201.4l-14.1-2.9M355.1 198.5l1.5-13.8M356.6 303.9l-1 0.5M359.1 157.5l-3.3-3.7M355.8 153.8l2.4-11.1M376.6 474.9l-20.6-0.3M360.6 454l-4.6 20.6M369.5 186l-12.9-1.3M369.3 308.2l-12.7-4.3M362.8 289.9l-6.2 14M358.2 142.7l-1.3-1.6M356.9 141.1l1.7-14.5M358.3 170.4l-0.6 0.4M373.8 142.9l-15.6-0.2M358.3 170.4l13.7 1.3M359.1 157.5l-0.8 12.9M358.4 408.5l4.5 6.9M358.4 408.5l5.8-12.8M361.3 125l-2.7 1.6M359.1 157.5l15.6-2M362.8 451.8l-3.7-18.5M359.1 433.3l2.3-2.2M362.8 451.8l-2.2 2.2M372.6 128.7l-11.3-3.7M361.3 125l1.3-14.5M361.4 431.1l21.1 4M361.4 431.1l1.5-15.7M361.6 94.9l2.9 2.8M364.1 84l-2.5 10.9M361.7 288.1l1.1 1.8M367.6 271.3l-5.9 16.8M362.6 110.5l0-0.1M362.6 110.4l1.9-12.7M377.5 113.8l-14.9-3.3M362.8 289.9l11.5 4.3M380.1 452.1l-17.3-0.3M362.9 415.4l21.1 1.4M363.1 228.4l6.4 7M363.1 228.4l2.7-11.5M380.6 394.3l-16.4 1.4M364.5 249.7l3.8 7.3M364.5 249.7l5-14.3M364.5 97.7l13.5-2.1M364.6 357l1.3 13.3M366.4 354.9l-1.8 2.1M365 266.9l2.6 4.4M368.3 257l-3.3 9.9M365.8 216.9l5.4-4.7M383.1 373.3l-17.2-3M366.4 354.9l16.6 0.4M366.4 354.9l2.1-14.8M367.8 323.2l-1-1M369.3 308.2l-2.5 14M368.5 340.1l-1.1-1.2M367.8 323.2l-0.4 15.7M367.6 271.3l15.9 7.2M367.8 323.2l14.6-0.4M368.3 257l17.3-2.5M378.6 340.1l-10.1 0M369.2 201.4l2 10.8M373.9 194.9l-4.7 6.5M373.7 305.2l-4.4 3M384.8 233.7l-15.3 1.7M373.9 194.9l-4.4-8.9M369.5 186l4.6-11.3M383.9 216.1l-12.7-3.9M374.1 174.7l-2.1-3M372 171.7l3.7-15M373.9 142.7l-1.3-14M376.4 125.8l-3.8 2.9M383.2 309.9l-9.5-4.7M374.3 294.2l-0.6 11M374.7 155.5l-0.9-12.6M373.8 142.9l0.1-0.2M373.9 194.9l12.7-1.5M388.1 140.5l-14.2 2.2M374.1 174.7l13.2 2.4M374.3 294.2l9.6-6.4M375.7 156.7l-1-1.2M375.7 156.7l12.2 2M389.2 129.9l-12.8-4.1M376.4 125.8l2.5-10.1M382 481.2l-5.4-6.3M382.9 457.1l-6.3 17.8M378.9 115.7l-1.4-1.9M377.5 113.8l2.6-16.6M378 95.6l2.1 1.6M378.3 87.2l-0.3 8.4M382.7 345l-4.1-4.9M378.6 340.1l6.4-9.5M393 114.7l-14.1 1M390.6 98.4l-10.5-1.2M380.1 452.1l2.8 5M380.1 452.1l4-13.7M382.1 396l-1.5-1.7M380.6 394.3l5.5-17.2M381.9 484.8l0.1-3.6M382 481.2l19.4-4.7M382.1 396l21.5 3.4M384 416.8l-1.9-20.8M385 330.6l-2.6-7.8M383.5 321.1l-1.1 1.7M384.1 438.4l-1.6-3.3M382.5 435.1l3.2-16.5M382.7 345l0.3 10.3M382.7 345l13-2.2M403 461.4l-20.1-4.3M383 355.3l3 3.4M383.1 373.3l3 3.8M386 358.7l-2.9 14.6M383.5 321.1l-0.3-11.2M389.4 306.1l-6.2 3.8M383.5 278.5l0.4 9.3M383.5 278.5l5.4-5.2M397.6 319.3l-14.1 1.8M384.8 233.7l-0.9-17.6M388.9 212.3l-5 3.8M383.9 287.8l5.8 4.3M384 416.8l1.7 1.8M384.1 438.4l20.4 0.7M388.4 236.6l-3.6-2.9M395.9 334.1l-10.9-3.5M385.6 254.5l3.1 3.2M385.6 254.5l2.8-17.9M385.7 418.6l12.5-1.8M386 358.7l9-2.8M401.2 377.2l-15.1-0.1M386.6 193.4l2.3 18.9M386.6 193.4l2.5-2.5M387.3 177.1l0.7 0.9M390.1 161.4l-2.8 15.7M387.9 158.7l2.2 2.7M387.9 158.7l5.2-14.1M389.1 190.9l-1.1-12.9M405.4 174.7l-17.4 3.3M393.1 144.6l-5-4.1M389.2 129.9l-1.1 10.6M405.8 234.9l-17.4 1.7M388.7 257.7l0.2 15.6M408.2 256.4l-19.5 1.3M388.9 273.3l15.9 1.8M403.7 213l-14.8-0.7M389.1 190.9l19.7 3.8M393.5 126.3l-4.3 3.6M397.6 309.4l-8.2-3.3M389.7 292.1l-0.3 14M403.4 291.9l-13.7 0.2M403.3 161.8l-13.2-0.4M390.6 98.4l2.4 16.3M394.1 96l-3.5 2.4M393.5 115.1l-0.5-0.4M393.1 144.6l12-0.8M393.5 115.1l0 11.2M406.2 113.3l-12.7 1.8M393.5 126.3l12.7 6M407.4 100.5l-13.3-4.5M395.5 89.8l-1.4 6.2M405.1 360.1l-10.1-4.2M395.7 342.8l-0.7 13.1M395.9 342.5l-0.2 0.3M397 335.3l-1.1-1.2M395.9 334.1l1.7-14.8M395.9 342.5l12.3 5.3M397 335.3l-1.1 7.2M407.8 333l-10.8 2.3M397.6 319.3l0-9.9M397.6 309.4l0.5-0.4M397.6 319.3M409 322.1l-11.4-2.8M398.1 309l5.3-17.1M411.4 308.9l-13.3 0.1M398.2 416.8l8.4 6.7M398.2 416.8l5.4-17.4M401.2 377.2l2 2M406 361.5l-4.8 15.7M401.4 476.5l1.1 1.3M401.4 476.5l1.6-15.1M402.5 477.8l-0.1 8M402.5 477.8l19 4.5M403 461.4l0.7-0.6M424.3 379.9l-21.1-0.7M403.2 379.2l1.1 19.7M403.3 161.8l2.1 12.9M404.1 160.9l-0.8 0.9M405.5 291.1l-2.1 0.8M403.6 399.4l0.7-0.5M403.7 460.8l0.8-21.7M403.7 460.8l19.6-0.2M407.4 219.4l-3.7-6.4M403.7 213l5.9-16.7M421.2 161.8l-17.1-0.9M406.2 145.1l-2.1 15.8M420.4 401.3l-16.1-2.4M404.5 439.1l0.4-0.3M409.2 280.7l-4.4-5.6M408.2 256.4l-3.4 18.7M404.9 438.8l19.5 2.9M404.9 438.8l1.7-15.3M406 361.5l-0.9-1.4M408.2 347.8l-3.1 12.3M406.2 145.1l-1.1-1.3M405.1 143.8l1.4-11M412.3 180.5l-6.9-5.8M412.6 298.9l-7.1-7.8M409.2 280.7l-3.7 10.4M408.2 237.2l-2.4-2.3M407.4 219.4l-1.6 15.5M406 361.5l15.1 0.1M406.2 145.1l12.9 2.4M406.5 132.8l-0.3-0.5M409.4 116l-3.2 16.3M409.4 116l-3.2-2.7M406.2 113.3l1.2-12.8M422.7 129.9l-16.2 2.9M406.6 423.5l16.1-5.6M429.2 216.1l-21.8 3.3M411.3 98l-3.9 2.5M409.8 346.4l-2-13.4M408.5 332.3l-0.7 0.7M409.8 346.4l-1.6 1.4M408.2 237.2l2.2 17.3M408.2 237.2l18.8-2.4M410.4 254.5l-2.2 1.9M408.5 332.3l11.9 3.9M409.8 323.8l-1.3 8.5M409.6 196.3l-0.8-1.6M408.8 194.7l3.5-14.2M409.8 323.8l-0.8-1.7M409 322.1l3.8-10.7M423.4 278.5l-14.2 2.2M409.4 116l12.4 0.2M429.8 202.1l-20.2-5.8M409.8 323.8l13.7 0.5M409.8 346.4l10.3-0.2M410.4 254.5l16.6 5.4M411.3 98l12.1 5.3M412.3 92.1l-1 5.9M411.4 308.9l1.4 2.5M412.6 298.9l-1.2 10M416.2 178.6l-3.9 1.9M425.6 297.2l-13 1.7M423.4 313.1l-10.6-1.7M432.3 183.4l-16.1-4.8M422.9 163.8l-6.7 14.8M417.9 498.5l2.2 0M419.1 147.5l0.2 0.1M423.5 130.9l-4.4 16.6M419.3 147.6l1.9 14.2M419.3 147.6l14.6-1.2M421.1 499.6l-1-1.1M421.5 482.3l-1.4 16.2M420.1 346.2l0.5 0.8M420.1 346.2l1.7-7.9M422.7 417.9l-2.3-16.6M420.4 401.3M420.4 336.2l1.4 2.1M420.4 336.2l3.1-11.9M446.3 401.4l-25.9-0.1M420.4 401.3l5.9-19.4M420.6 347l13.7 1.2M421.1 361.6l-0.5-14.6M420.7 501.9l0.4-2.3M421.1 361.6l1.6 1.3M421.1 499.6l17.8 3.4M421.2 161.8l1.7 2M421.5 482.3l3.4-3.4M421.8 116.2l0.8 1.5M421.8 116.2l3.3-9M421.8 338.3l10.2-1.7M422.6 117.7l17.3 3.3M422.7 129.9l-0.1-12.2M423.5 130.9l-0.8-1M425 419.6l-2.3-1.7M422.7 362.9l1.6 17M429.2 360.8l-6.5 2.1M430.6 163.9l-7.7-0.1M424.9 478.9l-1.6-18.3M425 458.9l-1.7 1.7M423.4 103.3l1.7 3.9M423.4 103.3l3.9-9.1M423.9 279l-0.5-0.5M423.4 278.5l4.1-18M423.4 313.1l2.2 9.6M424.5 312l-1.1 1.1M423.5 324.3l2.1-1.6M423.5 130.9l10.2 3.1M423.9 279l20.6 4.9M423.9 279l1.7 18.2M424.3 379.9l2 2M425 458.9l-0.6-17.2M424.4 441.7l2.5-2.7M424.5 312l1.1-14.8M436.8 310.4l-12.3 1.6M424.9 478.9l20.1 2.9M425 458.9l17.7 0.9M426.9 439l-1.9-19.4M442.7 417.9l-17.7 1.7M425.1 107.2l15-0.8M425.6 297.2M433.3 325.1l-7.7-2.4M425.6 297.2l12 1.3M443.9 381.6l-17.6 0.3M443.9 439.1l-17-0.1M427.5 260.5l-0.5-0.6M427 259.9l4.3-19.2M431.3 240.7l-4.3-5.9M427 234.8l5.5-13.4M427.5 260.5l18.1 1.4M429.2 216.1l3.3 5.3M430 202.3l-0.8 13.8M444.4 366.8l-15.2-6M429.2 360.8l6.6-11.3M430 202.3l-0.2-0.2M429.8 202.1l2.5-18.7M430 202.3l19.5-2.1M435.9 180.8l-5.3-16.9M434.6 161.1l-4 2.8M431.3 240.7l18.2 1.6M434.3 348.2l-2.3-11.6M432 336.6l2.3-2.6M432.3 183.4l3.6-2.6M448.6 223.6l-16.1-2.2M433.3 325.1l1 8.9M436.1 323.1l-2.8 2M433.7 134l0.2 12.4M439.3 130.4l-5.6 3.6M437.2 149.6l-3.3-3.2M445.6 337.5l-11.3-3.5M434.3 348.2l1.5 1.3M434.6 161.1l11.6 4.6M437.2 149.6l-2.6 11.5M434.7 520.6l6.1-1.8M443.1 349.6l-7.3-0.1M435.9 180.8l8.4-0.3M447.1 323.5l-11-0.4M436.8 310.4l-0.7 12.7M436.8 310.4l0.1-0.1M436.9 310.3l9.8 2.6M437.6 298.5l-0.7 11.8M447.6 147.8l-10.4 1.8M437.6 298.5l6.4-4.4M438.9 503l3 4.3M438.9 503l6.1-21.2M449.2 135.2l-9.9-4.8M439.3 130.4l0.6-9.4M439.9 121l2.3-3M442.2 118l-2.1-11.6M442.2 103.4l-2.1 3M440.5 536.3l1.9-15.3M440.8 518.8l1.6 2.2M440.8 518.8l1.1-11.5M441.7 96.2l0.5 7.2M463.4 503.8l-21.5 3.5M453.7 119.1l-11.5-1.1M454.9 105.4l-12.7-2M462.2 527.7l-19.8-6.7M442.7 459.8l1.8 1.6M444.4 439.6l-1.7 20.2M442.7 417.9l3.4 4.7M447.4 403l-4.7 14.9M444.1 350.9l-1-1.3M443.1 349.6l3.2-11M444.1 381.8l-0.2-0.2M446 369.4l-2.1 12.2M444.4 439.6l-0.5-0.5M446.1 422.6l-2.2 16.5M451.2 300l-7.2-5.9M444.9 284.5l-0.9 9.6M467.9 383.1l-23.8-1.3M446.3 401.4l-2.2-19.6M457.5 352.1l-13.4-1.2M444.4 366.8l-0.3-15.9M450.3 185.7l-6-5.2M447.5 169l-3.2 11.5M446 369.4l-1.6-2.6M444.4 439.6l14.8 2.3M445.3 481.6l-0.8-20.2M444.5 461.4l12.7-2.4M444.5 283.9l0.4 0.6M444.5 283.9l1.6-21.5M444.9 284.5l16.8-2M445 481.8l0.3-0.2M445.3 481.6l8.2 1M446.3 338.6l-0.7-1.1M448 324.9l-2.4 12.6M445.6 261.9l0.5 0.5M449.5 242.3l-3.9 19.6M456.5 364.4l-10.5 5M461.2 264.6l-15.1-2.2M446.1 422.6l14.4 1.3M446.2 165.7l1.3 3.3M451.1 157.7l-4.9 8M455.9 338.9l-9.6-0.3M447.4 403l-1.1-1.6M449 316.5l-2.3-3.6M446.7 312.9l4.5-12.9M447.1 323.5l0.9 1.4M447.1 323.5l1.9-7M447.3 543.9l13-2.7M462.3 403.8l-14.9-0.8M459.8 169.5l-12.3-0.5M447.6 147.8l3.5 9.9M447.6 147.8l1.2-1.3M448 324.9l9.7 2.3M450.5 241.4l-1.9-17.8M450.5 221.8l-1.9 1.8M463.1 147l-14.3-0.5M449.2 135.2l-0.4 11.3M449 316.5l9.8-2.7M449.2 135.2l2.9-1.8M449.5 200.2l1.9 1.8M449.5 200.2l0.8-14.5M450.5 241.4l-1 0.9M459.5 182.6l-9.2 3.1M450.5 241.4l13.7 1.3M450.5 221.8l0.9-19.8M468 221.6l-17.5 0.2M451.1 157.7l10.3 1.7M459.7 302.1l-8.5-2.1M468.1 202.2l-16.7-0.2M452.1 133.4l11.2 0.8M452.1 133.4l1.6-14.3M461.6 489.4l-8.1-6.8M453.5 482.6l7.2-8.6M453.7 119.1l0.5-0.3M465.4 125.2l-11.2-6.4M458.4 109.8l-4.2 9M454.9 105.4l3.5 4.4M457.1 97.6l-2.2 7.8M458.2 351.5l-2.3-12.6M455.9 338.9l1.8-1.5M466.7 367.8l-10.2-3.4M457.5 352.1l-1 12.3M457.2 459l3.5 4.4M457.2 459l2.8-5M458.2 351.5l-0.7 0.6M468.8 338.5l-11.1-1.1M457.7 337.4l0-10.2M460.4 325.3l-2.7 1.9M458.2 351.5l8.2-0.7M467.4 109l-9 0.8M462.3 318.2l-3.5-4.4M458.8 313.8l1.4-10.9M459.2 441.9l0.3 0.7M459.2 441.9l3.5-7.6M471.9 188.5l-12.4-5.9M461.5 171.8l-2 10.8M459.5 442.6l14.1 2.4M460 454l-0.5-11.4M460.2 302.9l-0.5-0.8M459.7 302.1l5.1-9.2M461.5 171.8l-1.7-2.3M461.4 159.4l-1.6 10.1M472.6 454.5l-12.6-0.5M473.2 306.9l-13-4M463.5 545.7l-3.2-4.5M462.8 528.4l-2.5 12.8M470 330.5l-9.6-5.2M462.3 318.2l-1.9 7.1M462.7 434.3l-2.2-10.4M463.5 421l-3 2.9M471.6 465.1l-10.9-1.7M460.7 474l0-10.6M471.3 474l-10.6 0M461.2 264.6l3 8.3M461.2 264.6l2.3-2.2M462.3 158.8l-0.9 0.6M472.3 171.1l-10.8 0.7M463.4 503.8l-1.8-14.4M461.6 489.4l9.8-4.3M461.7 282.5l1.5 1.8M464.2 272.9l-2.5 9.6M461.8 554.7l1.7-9M462.2 527.7l0.6 0.7M464.3 504.6l-2.1 23.1M462.3 158.8l10.9 2.2M463.1 147l-0.8 11.8M464.1 405.6l-1.8-1.8M462.3 403.8l6.6-19.7M462.3 318.2l10.5-1.1M473.7 433.7l-11 0.6M462.8 528.4l18.1-1.9M463.2 147l-0.1 0M463.2 147l11.1 0.6M463.2 147l0.1-12.8M464.8 292.9l-1.6-8.6M476.8 283.8l-13.6 0.5M463.3 134.2l0.1-0.1M464.3 504.6l-0.9-0.8M463.4 134.1l12.2 2.2M465.4 125.2l-2 8.9M478.6 264.7l-15.1-2.3M463.5 262.4l3.6-8.9M475.4 422.9l-11.9-1.9M464.1 405.6l-0.6 15.4M474 547.5l-10.5-1.8M478.5 407.2l-14.4-1.6M464.2 272.9l13 1.2M464.2 242.7l2.9 10.8M465.7 241.5l-1.5 1.2M480.3 505.3l-16-0.7M475.9 294.9l-11.1-2M470 122.1l-4.6 3.1M480.2 242.9l-14.5-1.4M471.1 224.2l-5.4 17.3M466.4 350.8l2.8 2.4M469 338.8l-2.6 12M466.7 367.8l1.2 15.3M466.7 367.8l3.6-3.5M478.7 254.5l-11.6-1M467.4 109l2.6 2.8M470.4 98.9l-3 10.1M468.9 384.1l-1-1M471.1 224.2l-3.1-2.6M468 221.6l0.1-19.4M468.1 202.2l4.1-3.3M468.8 338.5l0.2 0.3M470 330.5l-1.2 8M468.9 384.1l9 0.8M469 338.8l11.5 2.6M470.3 364.3l-1.1-11.1M469.2 353.2l12.1-3.1M473.8 327.1l-3.8 3.4M477.8 125.5l-7.8-3.4M470 111.8l0 10.3M470 111.8l12.8-0.4M470.3 364.3l7.1 0.2M471.1 224.2l9.6 0.1M471.3 474l0.5 0.7M471.3 474l0.3-8.9M471.4 485.1l8.7 2.8M471.4 485.1l0.4-10.4M472.7 464.2l-1.1 0.9M471.8 474.7l9.7-0.4M472.2 198.9l-0.3-10.4M472.8 187.4l-0.9 1.1M472.2 198.9l12.8 4.8M473.2 172l-0.9-0.9M473.2 161l-0.9 10.1M472.6 454.5l0.1 9.7M472.6 454.5l0.3-0.3M472.7 464.2l8.9 0.7M473.2 172l-0.4 15.4M484.9 183.1l-12.1 4.3M472.8 317.1l1 10M472.8 317.1l0.1-0.1M472.9 454.2l10 1.2M472.9 454.2l0.9-8.9M472.9 317l11.1 0.5M472.9 317l0.3-10.1M475.3 159.3l-2.1 1.7M473.2 306.9l2.6-2M485.7 172.1l-12.5-0.1M473.6 445l0.2 0.3M474.9 435l-1.3 10M473.7 433.7l1.2 1.3M475.4 422.9l-1.7 10.8M473.8 327.1l7.9 2.3M473.8 445.3l9.9 0.1M474.3 147.6l1 11.7M474.3 147.6l1-0.9M474.9 435l9.1 0.7M475.3 159.3l9.5 1.2M487.2 147.3l-11.9-0.6M475.3 146.7l0.3-10.4M479.2 420.9l-3.8 2M475.6 136.3l1.8-1.6M485.7 306.2l-9.9-1.3M475.8 304.9l0.1-10M475.9 294.9l0.4-0.4M477.2 284.3l-0.9 10.2M486.8 294.5l-10.5 0M476.8 283.8l0.4 0.5M477.2 274.1l-0.4 9.7M477.2 274.1l0.5-0.5M486.7 285l-9.5-0.7M477.4 364.5l6 4.8M483.4 353.2l-6 11.3M488.5 137.1l-11.1-2.4M477.8 125.5l-0.4 9.2M477.7 273.6l9.8 1.5M477.7 273.6l0.9-8.9M482.9 122.8l-5.1 2.7M478.5 385.6l-0.6-0.7M483.9 375.5l-6 9.4M478.5 407.2l2.3 8M478.5 407.2l1.5-1.8M478.5 385.6l16.6 0M482.1 393.9l-3.6-8.3M478.6 264.7l0.3-0.2M478.9 264.5l-0.2-10M479.5 253.8l-0.8 0.7M488.3 264.4l-9.4 0.1M479.2 420.9l5.4 5M480.8 415.2l-1.6 5.7M488.9 254.7l-9.4-0.9M480.2 242.9l-0.7 10.9M480 405.4l14 0.1M480 405.4l2.1-11.5M483.6 491.6l-3.5-3.7M482.3 475.3l-2.2 12.6M485.2 239.5l-5 3.4M480.3 505.3l1.9 2.2M480.3 505.3l3.3-13.7M482 343.1l-1.5-1.7M481.7 329.4l-1.2 12M480.7 224.3l5.4 9.6M480.7 224.3l4-4.9M480.8 415.2l12.8 0.4M480.9 526.5l0.4 0.3M482.2 507.5l-1.3 19M481 99.9l2.5 0.4M481.3 350.1l2.1 3.1M481.3 350.1l0.7-7M496.6 527.3l-15.3-0.5M482.6 539.6l-1.3-12.8M481.5 474.3l0.8 1M482.2 465.6l-0.7 8.7M481.6 464.9l0.6 0.7M483.1 455.6l-1.5 9.3M481.7 329.4l1-0.6M493.6 339.9l-11.6 3.2M482.1 393.9l12.3 2.1M492 465.9l-9.8-0.3M482.2 507.5l14.8 0.7M491.7 476.1l-9.4-0.8M482.7 328.8l9.8 1M482.7 328.8l1.3-11.3M482.9 122.8l-0.1-11.4M482.8 111.4l0.6-0.5M489.4 125.5l-6.5-2.7M483.1 455.6l-0.2-0.2M482.9 455.4l0.8-10M483.1 455.6l9.8 0.8M483.4 110.9l11.9 1.5M483.4 110.9l0.1-10.6M483.4 353.2l8.2 3.5M483.4 369.3l0.5 6.2M483.4 369.3l7.7-6.1M483.5 100.3l0.1-0.1M491 488.7l-7.4 2.9M483.9 445.2l-0.2 0.2M483.9 375.5l12 0.6M483.9 445.2l9.7 1.9M483.9 445.2l0.7-8.8M484 435.7l0.6 0.7M484.6 425.9l-0.6 9.8M484 317.5l2.6-1.7M484.6 436.4l10-0.6M484.6 425.9l8-0.5M484.7 219.4l15.9 2.8M486.8 207.9l-2.1 11.5M485.7 172.1l-0.9-11.6M486.4 159.2l-1.6 1.3M484.9 183.1l6.5 4.2M486.1 172.6l-1.2 10.5M486.8 207.9l-1.8-4.2M485 203.7l6.1-6.7M485.2 239.5l5.3 5.5M486.1 233.9l-0.9 5.6M486.1 172.6l-0.4-0.5M485.7 306.2l0.9 9.6M485.7 306.2l0.4-0.3M486.1 305.9l1-11.1M486.1 305.9l9.7-0.7M486.1 172.6l11.4-0.5M486.1 233.9l13-1.6M499.4 161.8l-13-2.6M488.1 148.5l-1.7 10.7M495.5 319.4l-8.9-3.6M486.7 285l0.1 9.5M487.4 284.4l-0.7 0.6M486.8 207.9l14.2 2.5M487.1 294.8l-0.3-0.3M496.8 295.1l-9.7-0.3M488.1 148.5l-0.9-1.2M487.2 147.3l1.3-10.1M497.5 285.5l-10.1-1.1M488 275.6l-0.6 8.8M488 275.6l-0.5-0.5M487.5 275.1l1.7-9.7M488 275.6l9.4-0.1M488.1 148.5l11.4 0.7M488.3 264.4l0.9 1M488.3 264.4l1.2-8.8M488.5 137.1l0 0.1M489.4 125.5l-0.9 11.6M500.4 137l-11.9 0.2M489.5 255.6l-0.6-0.9M490.5 245l-1.6 9.7M489.2 265.4l9 1M489.4 125.5l4.7-1.9M499.1 256.2l-9.6-0.6M490.5 245l8.6 0.2M498.9 490.7l-7.9-2M491.7 476.1l-0.7 12.6M491.1 197l11.3 1.3M491.4 187.3l-0.3 9.7M491.1 363.2l5.4 4.8M491.1 363.2l0.5-6.5M498.1 184l-6.7 3.3M495.9 354.1l-4.3 2.6M492 475.9l-0.3 0.2M501.6 476.1l-9.6-0.2M492 475.9l0-10M492 465.9l0.5-0.4M492.5 465.5l10.2 1.2M492.5 465.5l0.4-9.1M493.6 339.9l-1.1-10.1M494.9 326.8l-2.4 3M492.6 425.4l1.8 1.7M492.6 425.4l1.4-9.3M492.9 456.4l0.1-0.1M503.4 456.9l-10.4-0.6M493.6 447.1l-0.6 9.2M493.6 415.6l0.4 0.5M493.6 415.6l0.4-10.1M493.6 447.1l1-0.8M494.1 340.2l-0.5-0.3M494 405.5l0.2-0.2M494 416.1l9.5 0.6M494.1 340.2l1.8 13.9M494.1 340.2l9.8-0.4M494.1 123.6l5.9 2.9M494.1 123.6l1.2-11.2M494.2 405.3l9.8 1M494.4 396.1l-0.2 9.2M494.4 396l0 0.1M495.8 386.5l-1.4 9.5M494.4 427.1l0.2 8.7M494.4 427.1l8.7-1.8M504.4 396l-10 0.1M494.6 446.3l9.1 0.6M494.7 435.8l-0.1 10.5M494.6 435.8l0.1 0M504.3 436.2l-9.6-0.4M506 330.9l-11.1-4.1M495.5 319.4l-0.6 7.4M495.8 386.5l-0.7-0.9M495.1 385.6l0.8-9.5M495.3 112.4l0.1-0.1M495.4 112.3l11.6 1.3M496.7 101l-1.3 11.3M496.4 318.8l-0.9 0.6M496.4 318.8l-0.6-13.6M495.8 305.2l0.1-0.1M495.8 386.5l9.5 0.5M495.9 376.1l0.2-0.1M506.4 307.2l-10.5-2.1M495.9 305.1l1.5-9.4M502.9 354.9l-7-0.8M506 377.2l-9.9-1.2M496.1 376l0.4-8M496.2 542.2l1.1-0.3M496.4 318.8l8.9-2M504.6 365.2l-8.1 2.8M496.6 527.3l2.2 9.8M496.6 527.3l1.7-1.4M497.4 295.7l-0.6-0.6M497.5 285.5l-0.7 9.6M497 508.2l3.2 8M497 508.2l0.9-1M498.4 543.1l-1.1-1.2M498.8 537.1l-1.5 4.8M506 296.5l-8.6-0.8M498.4 276.5l-1-1M497.4 275.5l0.8-9.1M497.5 172.1l1.2 1.5M499.5 162.1l-2 10M497.9 285.2l-0.4 0.3M507.4 286l-9.5-0.8M497.9 285.2l0.5-8.7M501.1 495.3l-3.2 11.9M497.9 507.2l14.7-0.8M504.8 187.3l-6.7-3.3M498.1 184l0.6-10.4M498.2 266.4M498.2 266.4l10.4 0.8M499.2 256.3l-1 10.1M498.3 525.9l11.4 1.7M498.3 525.9l1.9-9.7M498.4 276.5l9.8-0.6M510.5 174.5l-11.8-0.9M498.8 537.1l11.3 0.1M498.9 490.7l2.2 4.6M498.9 490.7l2.4-3M499.7 245.9l-0.6-0.7M501 234.4l-1.9 10.8M499.1 232.3l1.9 2.1M499.1 232.3l1.6-9.9M499.2 256.3l-0.1-0.1M499.7 245.9l-0.6 10.3M499.2 256.3l9.5 0.7M499.4 161.8l0.1 0.3M499.4 161.8l0.6-12M500 149.8l-0.5-0.6M500.6 137.2l-1.1 12M510.5 162.3l-11-0.2M509.6 246.7l-9.9-0.8M500.4 137l-0.4-10.5M506.3 123.6l-6.3 2.9M511.1 149.7l-11.1 0.1M500.2 516.2l12.5 0.1M500.4 137l0.2 0.2M500.6 222.2l0.1 0.2M500.6 222.2l0.4-11.8M500.6 137.2l10.9 0.3M500.7 222.4l12.1 0M501 234.4l11 1.2M501 210.4l1.4-1.1M501.1 495.3l10.5 1.5M501.3 487.7l0.9-10.8M511.9 485.5l-10.6 2.2M502.2 476.9l-0.6-0.8M501.6 476.1l1.4-9.1M502.2 476.9l10.4 0.7M502.4 209.3l0-11M502.4 198.3l2-1.6M502.4 209.3l10.7 1M503 467l-0.3-0.3M502.7 466.7l0.7-9.8M504.4 356.7l-1.5-1.8M506.9 346.5l-4 8.4M503 467l10.1 0.5M503.1 425.3l2 2.1M503.5 416.7l-0.4 8.6M503.2 101.3l5.6 1 0.2 0.2M503.4 456.9M503.4 456.9l9.9 0.4M503.7 446.9l-0.3 10M503.7 416.5l-0.2 0.2M504.3 446.4l-0.6 0.5M513.9 417.2l-10.2-0.7M504.2 406.5l-0.5 10M503.9 339.8l3 6.7M506.6 336l-2.7 3.8M504.2 406.5l-0.2-0.2M505.3 397.1l-1.3 9.2M514.3 407l-10.1-0.5M504.3 436.2l0 10.2M504.6 435.9l-0.3 0.3M513.8 447l-9.5-0.6M504.4 396l0.9 1.1M505.3 387l-0.9 9M515.3 357.1l-10.9-0.4M504.4 356.7l0.2 8.5M514.1 199.4l-9.7-2.7M504.8 187.3l-0.4 9.4M507.3 368l-2.7-2.8M504.6 435.9l9.8 0.8M505.1 427.4l-0.5 8.5M510.1 184.8l-5.3 2.5M513.7 426l-8.6 1.4M505.3 387l0.3-0.3M505.3 397.1l10 0.2M509 326.6l-3.7-9.8M505.3 316.8l0.5-0.5M505.4 546.9l4.4-0.9M505.6 386.7l9.4 1.4M505.6 386.7l0.4-9.5M505.8 316.3l11.6 0.2M506.4 307.2l-0.6 9.1M506 330.9l0.6 5.1M506 330.9l3-4.3M506 377.2l0.2-0.1M506 296.5l0.6 10.6M507.1 295.6l-1.1 0.9M516.4 377.8l-10.2-0.7M507.3 368l-1.1 9.1M512.5 128.2l-6.2-4.6M506.3 123.6l1.5-8.9M506.4 307.2l0.2-0.1M506.6 307.1l9.1-1.4M506.6 336l10 1.4M506.9 346.5l9.1 0.3M507.8 114.7l-0.8-1.1M509 102.5l-2 11.1M507.1 295.6l9.9 1.3M507.8 286.4l-0.7 9.2M515.5 366.7l-8.2 1.3M507.8 286.4l-0.4-0.4M507.4 286l0.8-10.1M517 286.2l-9.2 0.2M520 115.6l-12.2-0.9M508.2 275.9l0.2-0.2M517.8 277.7l-9.4-2M508.6 267.2l-0.2 8.5M509.1 266.7l-0.5 0.5M508.7 257l0.4 0.4M508.7 257l0.9-10.3M509 326.6l7.9 0M520.3 103.4l-0.3-0.3-11-0.6M519.1 267.1l-10-0.4M509.1 266.7l0-9.3M509.1 257.4l10.4-0.6M509.6 246.7l2.7-2.2M509.7 527.6l1.6 8.3M509.7 527.6l1.4-1M509.8 546l1.6 1M509.8 546l0.3-8.8M510.1 184.8l5.7 2.4M510.1 184.8l0.4-10.3M510.1 537.2l1.2-1.3M510.5 174.5l0.5-0.5M510.5 162.3l0.2 0.2M510.5 162.3l2-11M523.2 163.8l-12.5-1.3M511 174l-0.3-11.5M522.9 174.4l-11.9-0.4M521.2 527.6l-10.1-1M511.1 526.6l1.9-10.1M512.5 151.3l-1.4-1.6M511.1 149.7l1.3-11.2M511.3 535.9l8.6 1.1M511.7 554.8l-0.3-7.8M511.4 547l7.8-0.8M511.5 137.5l0.9 1M512.5 128.2l-1 9.3M511.6 496.8l0.9 1.3M514.4 488.3l-2.8 8.5M511.9 485.5l2.5 2.8M511.9 485.5l0.7-7.9M512 235.6l0.3 8.9M513.4 234l-1.4 1.6M512.3 244.5l7.9 3.5M523.8 138.9l-11.4-0.4M512.5 128.2l7.2-3.2M512.5 151.3l11.2 0.4M512.6 506.4l-0.1-8.3M522.6 497.4l-10.1 0.7M512.6 506.4M512.6 506.4l9.1 0.3M512.7 516.3l-0.1-9.9M512.6 477.6M513.1 467.6l-0.5 10M512.6 477.6l10 0.7M512.7 516.3l0.3 0.2M512.8 222.4l0.6 11.6M513.7 221.4l-0.9 1M513 516.5l8.1 1M513.7 211.1l-0.6-0.8M513.1 210.3l1-10.9M513.1 467.6l0-0.1M513.1 467.5l0.2-10.2M513.1 467.6l9.8 0.1M513.3 457.3M513.3 457.3l10.1 0.4M513.3 457.3l0.6-10.1M513.4 234l11.7 0.7M520.9 556.7l-7.3 0M525.5 222.5l-11.8-1.1M513.7 221.4l0-10.3M513.7 426l1.8 1.9M513.9 417.2l-0.2 8.8M525 209.8l-11.3 1.3M513.8 447l0.1 0.2M514.4 436.7l-0.6 10.3M513.9 417.2l0.5-0.5M513.9 447.2l10.2 0.2M515.9 198l-1.8 1.4M514.3 407l0.7 0.9M514.3 407l1.1-9.6M514.4 488.3l8 0M514.4 416.7l9.3 1.2M514.4 416.7l0.6-8.8M514.4 436.7l0.3-0.3M514.7 436.4l10.3 1.4M515.5 427.9l-0.8 8.5M515 407.9l10.1-0.4M515 388.1l0.3 9.2M515 388.1l1.6-1.4M515.8 357.6l-0.5-0.5M515.3 357.1l1.3-9.8M515.3 397.3l0.1 0.1M515.4 397.4l9.3 0.5M515.5 427.9l8.4-1.2M517.1 368.1l-1.6-1.4M515.5 366.7l0.3-9.1M515.7 305.7l2.8 2.9M517.1 297.1l-1.4 8.6M515.8 357.6l10.2 0.2M515.9 198l-0.1-10.8M515.8 187.2l5.1-2.1M525.7 199.1l-9.8-1.1M516 346.8l0.6 0.5M516 346.8l0.6-9.4M516.4 377.8l0.2 8.9M516.6 377.7l-0.2 0.1M517.1 368.1l-0.5 9.6M516.6 377.7l9.4-0.1M525.9 347.8l-9.3-0.5M516.6 386.7l9.6 1.1M516.6 337.4l0.7-0.7M517.9 327.6l-1-1M516.9 326.6l1.1-9.4M517 296.9l0.1 0.2M517 296.9l0.9-9.7M517 286.2l0.9 1M517 286.2l0.8-8.5M517.1 368.1l8.8-0.7M517.1 297.1l9.4 0.8M526.9 338l-9.6-1.3M517.9 327.6l-0.6 9.1M518 317.2l-0.6-0.7M518.5 308.6l-1.1 7.9M517.8 277.7l1.4-1.2M517.9 287.2l9.4 0.1M517.9 327.6l9.5-0.3M527.4 318.1l-9.4-0.9M526.9 307l-8.4 1.6M519.4 267.4l-0.3-0.3M519.1 267.1l0.8-9.9M527.9 278.1l-8.7-1.6M519.2 276.5l0.2-9.1M521.7 549.3l-2.5-3.1M519.2 546.2l1.8-7.8M519.4 267.4l9.6-0.1M519.5 256.8l0.4 0.4M520.2 248l-0.7 8.8M519.7 125l5.4 4M520 115.6l-0.3 9.4M521 538.4l-1.1-1.4M519.9 537l1.3-9.4M529.6 258.4l-9.7-1.2M520.5 115.1l-0.5 0.5M520.2 248l5.3-2.7M520.2 567l0.7-0.6M520.3 103.4l0.2 11.7M520.3 103.4l12.2-0.6 1.5 1.5M520.5 115.1l11.8 0.1M520.9 556.7l1.3 1.7M520.9 556.7l0.8-7.4M527.4 189.4l-6.5-4.3M523.1 174.6l-2.2 10.5M530.6 569.2l-9.7-2.8M522.2 558.4l-1.3 8M521 538.4l10.2-0.1M522.4 518.9l-1.3-1.4M523.1 508.3l-2 9.2M521.9 526.9l-0.7 0.7M521.7 549.3l9.9-1.6M521.7 506.7l1.4 1.6M523.4 498.4l-1.7 8.3M531.4 529.3l-9.5-2.4M521.9 526.9l0.5-8M522.2 558.4l9.5-0.2M522.4 488.3l0.2 0.2M522.4 488.3l0.2-10M531.4 517.9l-9 1M522.6 478.3l0.3-0.4M523.4 498.4l-0.8-1M522.6 497.4l0-8.9M532.3 488.3l-9.7 0.2M523.1 174.6l-0.2-0.2M522.9 174.4l0.3-10.6M532.4 478.7l-9.5-0.8M522.9 477.9l0.6-9.6M523.5 468.3l-0.6-0.6M522.9 467.7l0.5-10M531.8 508.6l-8.7-0.3M523.1 174.6l10.4 1.7M524.1 162.6l-0.9 1.2M523.4 498.4l8.1 0.5M524.3 456.9l-0.9 0.8M533 468.1l-9.5 0.2M523.9 426.7l-0.2-8.8M523.7 417.9l0.7-0.7M524.1 162.6l-0.4-10.9M523.7 151.7l0.1-0.1M523.8 138.9l0.2 0.3M523.8 138.9l1.3-9.9M524 139.2l-0.2 12.4M534.9 151.1l-11.1 0.5M523.9 426.7l1.6 1.3M536.6 140.2l-12.6-1M524.3 456.9l-0.2-9.5M524.2 447.4l-0.1 0M536 163.4l-11.9-0.8M534.8 448l-10.6-0.6M525 437.8l-0.8 9.6M533.7 458.5l-9.4-1.6M524.4 417.2l10.1 0.7M524.4 417.2l0.7-9.7M524.7 397.9l0.4 9.5M524.7 397.9l0.8-0.7M525.4 437.4l-0.4 0.4M526.7 211.9l-1.7-2.1M525 209.8l1.9-9.2M525.1 407.5l0-0.1M525.1 234.7l1 0.9M525.6 222.6l-0.5 12.1M531.8 126.6l-6.7 2.4M534.2 408.2l-9.1-0.8M534.3 437.7l-8.9-0.3M525.4 437.4l0.1-9.4M525.5 222.5l0.1 0.1M525.5 222.5l1.2-10.6M533.7 426.4l-8.2 1.6M525.5 397.2l10.1 1.2M525.5 397.2l0.7-9.4M530.1 247.9l-4.6-2.6M526.1 235.6l-0.6 9.7M525.6 222.6l11.9 0.6M526.9 200.6l-1.2-1.5M525.7 199.1l1.7-9.7M526 357.8l-0.1-10M525.9 347.8l0.2-0.2M525.9 367.4l0.7 0.6M526.1 357.9l-0.2 9.5M526 357.8l0.1 0.1M526 377.6l0.6 0.7M526.6 368l-0.6 9.6M535.6 234.5l-9.5 1.1M536.7 348.3l-10.6-0.7M526.1 347.6l0.8-9.6M526.1 357.9l10-0.3M526.4 387.6l-0.2 0.2M530.4 578.5l-4-0.3M526.4 387.6l9.5 0.3M526.6 378.3l-0.2 9.3M526.5 297.9l0.4 9.1M526.5 297.9M537.3 298l-10.8-0.1M527.9 288.1l-1.4 9.8M535.8 368.3l-9.2-0.3M536.3 377.8l-9.7 0.5M526.7 211.9l10.9 0.7M528.1 308l-1.2-1M527 337.9l-0.1 0.1M537.5 201l-10.6-0.4M536.6 338.1l-9.6-0.2M527.5 327.4l-0.5 10.5M527.3 287.3l0.6 0.8M527.9 278.1l-0.6 9.2M527.4 327.3l0-9.2M528.4 317.2l-1 0.9M527.4 327.3l0.1 0.1M534.3 186.7l-6.9 2.7M537.2 327.9l-9.7-0.5M537.7 288.6l-9.8-0.5M527.9 278.1l0.9-0.7M528.1 308l0.3 9.2M537.4 306.9l-9.3 1.1M528.4 317.2l9.2 0.7M538.1 278.2l-9.3-0.8M528.8 277.4l0.2-10.1M529.6 266.8l-0.6 0.5M529.6 266.8l9.2 1.3M529.6 266.8l0-8.4M530.2 257.8l-0.6 0.6M530.2 257.8l-0.1-9.9M538.5 246.1l-8.4 1.8M539.9 257.7l-9.7 0.1M530.5 578.6l-0.1-0.1M530.4 578.5l0.2-9.3M530.4 584.3l0.1-5.7M530.5 578.6l10.7-0.7M530.7 569.2l-0.1 0M530.7 569.2l1.4-10.7M541 568l-10.3 1.2M532.1 547.2l-0.9-8.9M531.2 538.3l0.4-0.5M532.2 518.7l-0.8-0.8M531.4 517.9l0.4-9.3M531.4 529.3l0.2 8.5M531.4 529.3l0.4-0.4M532.8 507.6l-1.3-8.7M531.5 498.9l1.1-1.2M531.6 547.7l0.1 10.5M531.6 547.7l0.5-0.5M542.6 537.5l-11 0.3M531.7 558.2l0.4 0.3M536.8 129.4l-5-2.8M532.3 115.2l-0.5 11.4M532.8 507.6l-1 1M531.8 528.9l0.4-10.2M531.8 528.9l10.3-1.4M541.9 548.7l-9.8-1.5M540.2 559.1l-8.1-0.6M532.2 518.7l9.4 0.2M532.3 488.3l0.5 0.5M532.4 478.7l-0.1 9.6M532.3 115.2M532.3 115.2l11.5 2.2M532.3 115.2l1.7-10.9M532.4 478.7l0.6-0.5M532.6 497.7l10.9 0.6M532.8 488.8l-0.2 8.9M542.6 488.4l-9.8 0.4M532.8 507.6l8.7 0.6M543.3 478.7l-10.3-0.5M533 468.1l0 10.1M533 468.1l0.6-0.6M534.3 186.7l-0.8-10.4M535 175.1l-1.5 1.2M542.8 468.9l-9.2-1.4M533.6 467.5l0.1-9M533.7 458.5l0.2-0.2M535.9 428.7l-2.2-2.3M533.7 426.4l1.1-8.1M539.9 589.9l-6.1-1.1M533.9 458.3l10.4 0.2M535.2 448.4l-1.3 9.9M534 104.3l11.1-0.8 0.3 0.3M534.5 417.9l-0.3-9.7M535.5 407l-1.3 1.2M535.6 439.1l-1.3-1.4M534.3 437.7l1.6-9M534.3 186.7l5 2.9M534.8 418.3l-0.3-0.4M534.8 418.3l9.7-0.4M534.8 448l0.4 0.4M534.8 448l0.8-8.9M536.3 152.5l-1.4-1.4M536.6 140.2l-1.7 10.9M547.8 177l-12.8-1.9M536.7 164.1l-1.7 11M535.2 448.4l9.3 0.8M535.5 407l10.1 1.6M535.5 407l0.1-8.5M535.6 398.4l0 0.1M536.6 388.6l-1 9.8M538.5 237.4l-2.9-2.9M538.1 223.9l-2.5 10.6M535.6 439.1l9.5-0.6M545.8 398.4l-10.2 0.1M536.6 369.1l-0.8-0.8M535.8 368.3l0.7-10.3M535.9 387.9l0.7 0.7M536.7 378.3l-0.8 9.6M535.9 428.7l9.3 0.1M536.7 164.1l-0.7-0.7M536.3 152.5l-0.3 10.9M536.5 358l-0.4-0.4M536.1 357.6l0.6-9.3M536.3 152.5l10.8-0.4M536.7 378.3l-0.4-0.5M536.6 369.1l-0.3 8.7M536.5 358l9.4 0.7M546 368.3l-9.4 0.8M536.6 388.6l9.1 0.1M536.9 338.5l-0.3-0.4M537.2 327.9l-0.6 10.2M536.6 140.2l0.9-0.7M536.7 348.3l0.4-0.4M536.7 164.1l10.6-0.1M546.3 379l-9.6-0.7M536.8 129.4l0.7 10.1M536.8 129.4l7.2-3.5M537.1 347.9l-0.2-9.4M547 338l-10.1 0.5M546.5 348.5l-9.4-0.6M537.2 327.9M537.2 327.9l9.7 0.5M537.6 317.9l-0.4 10M537.3 298l0.6 0.8M537.7 288.6l-0.4 9.4M537.4 306.9l1.5 1.6M537.9 298.8l-0.5 8.1M538.1 223.9l-0.6-0.7M537.6 212.6l-0.1 10.6M537.5 139.5l10.1 1.4M537.5 201l0.6 10.9M537.5 201l2.2-2.1M538.1 211.9l-0.5 0.7M537.6 317.9l0.4-0.4M538.3 288.1l-0.6 0.5M537.9 298.8l10.1-0.5M538 317.5l9.9 1.4M538.9 308.5l-0.9 9M538.1 278.2l0.2 9.9M538.1 278.2l0.4-0.4M549.6 211.9l-11.5 0M548.9 224.8l-10.8-0.9M547.5 288.8l-9.2-0.7M538.5 246.1l1.3 1.1M538.5 237.4l0 8.7M548.3 277.9l-9.8-0.1M538.5 277.8l0.3-9.7M549.6 235.2l-11.1 2.2M539.6 267.4l-0.8 0.7M538.9 308.5l8.9-0.3M539.3 189.6l0.4 9.3M539.3 189.6l7.3-3.6M549.3 268.6l-9.7-1.2M540.3 258.2l-0.7 9.2M539.7 198.9l10.5 2.4M539.7 598.8l0.3 0M539.8 247.2l0.1 10.5M539.8 247.2l9.8-0.1M539.8 599.9l0.2-1.1M539.9 257.7l0.4 0.5M539.9 589.9l0.8 8.3M539.9 589.9l0.5-0.4M540 598.8l0.7-0.6M541 560l-0.8-0.9M542.1 548.9l-1.9 10.2M549.6 258l-9.3 0.2M540.4 589.5l1-11.4M550.7 588.6l-10.3 0.9M540.7 598.2l8.3 1.2M541 560l0.9 6.9M552.6 558l-11.6 2M541 568l0.2 9.9M541 568l0.9-1.1M541.2 577.9l0.2 0.2M541.4 578.1l7.8 0.8M541.5 508.2l1.2 1.4M543.5 498.3l-2 9.9M542.9 520.5l-1.3-1.6M542.7 509.6l-1.1 9.3M541.9 566.9l10.1 1.7M542.1 548.9l-0.2-0.2M542.6 537.5l-0.7 11.2M542 608.6l8.3-0.7M542.3 527.8l-0.2-0.3M542.1 527.5l0.8-7M551.6 549.4l-9.5-0.5M542.3 527.8l10.8 1.7M542.3 527.8l0.3 9.7M542.6 488.4l0.9 1.1M543.4 478.8l-0.8 9.6M542.6 537.5M542.6 537.5l8.9 0.5M552.9 509.6l-10.2 0M543.3 478.7l-0.5-9.8M542.8 468.9l1.5-1.4M553 519.8l-10.1 0.7M543.3 478.7l0.1 0.1M543.4 478.8l10.1-0.4M543.5 498.3M543.5 498.3l10.1 1.5M543.5 489.5l0 8.8M543.5 489.5l10.2-0.7M543.8 117.4l0.2 8.5M546.4 115l-2.6 2.4M544 125.9l5.7 3.4M544.3 458.5l0.1 0.1M544.5 449.2l-0.2 9.3M544.3 467.5l9.6 1.1M544.3 467.5l0.1-8.9M554.4 458.5l-10 0.1M544.7 449l-0.2 0.2M544.5 417.9l0.4 0.4M545.6 408.6l-1.1 9.3M554.6 449.4l-9.9-0.4M545.4 438.9l-0.7 10.1M555 418.8l-10.1-0.5M545.2 428.8l-0.3-10.5M545.4 438.9l-0.3-0.4M545.1 438.5l0.1-9.7M545.2 428.8M545.2 428.8l9.8-0.2M554.6 439.6l-9.2-0.7M545.4 103.8l1 11.2M545.4 103.8l12.1-0.2M545.6 408.6l0.1-0.1M545.7 388.7l0.1 0.1M546.3 379l-0.6 9.7M545.7 408.5l0.1-10.1M555.1 408.4l-9.4 0.1M555.7 389l-9.9-0.2M545.8 388.8l0.1 9.6M545.9 398.4l-0.1 0M555.6 398.6l-9.7-0.2M546 368.3l-0.1-9.6M545.9 358.7l0.9-0.7M546.9 369.1l-0.9-0.8M546 617.5l4.6 0M547.2 378.2l-0.9 0.8M546.4 115l10.4 1.8M547.3 349.3l-0.8-0.8M547.4 338.4l-0.9 10.1M552 189.8l-5.4-3.8M547.8 177l-1.2 9M557 359.5l-10.2-1.5M546.8 358l0.5-8.7M546.9 369.1l0.3 9.1M546.9 369.1l9.2-1.2M547 338l-0.1-9.6M546.9 328.4l0.4-0.4M547 338l0.4 0.4M547.1 152.1l1.5 1.7M547.1 152.1l0.5-11.2M547.2 378.2l8.8 1.1M547.3 164l0.7 12.7M547.3 164l0.4-0.4M556.8 348.6l-9.5 0.7M557.8 328.9l-10.5-0.9M547.9 318.9l-0.6 9.1M547.4 338.4l9.7 0.4M547.5 288.8l0.1 0.1M549.1 278.8l-1.6 10M547.6 140.9l1.7-1.1M558.4 289.2l-10.8-0.3M547.6 288.9l0.4 9.4M547.7 163.6l12.4 1.4M547.7 163.6l0.9-9.8M547.8 177l0.2-0.3M547.8 308.2l0.9 0.9M549 299.3l-1.2 8.9M548.7 318.3l-0.8 0.6M548 176.7l10.7-0.3M549 299.3l-1-1M549.1 278.8l-0.8-0.9M548.3 277.9l1-9.3M560.2 152.4l-11.6 1.4M558 318.9l-9.3-0.6M548.7 318.3l0-9.2M558.3 309l-9.6 0.1M548.9 224.8M550.5 213l-1.6 11.8M549.6 235.2l-0.7-10.4M548.9 224.8l12.8-0.2M550.6 601.1l-1.6-1.7M550.7 588.6l-1.7 10.8M558.1 298.7l-9.1 0.6M549.1 278.8l9.1 0.7M550.7 580.5l-1.5-1.6M552 568.6l-2.8 10.3M549.3 139.8l9.9 1.7M549.7 129.3l-0.4 10.5M550.2 267.9l-0.9 0.7M549.6 211.9l0.9 1.1M549.6 211.9l0.6-10.6M549.6 247.1l0.5 0.7M551.7 237.4l-2.1 9.7M549.6 258l0.3 0.3M549.6 258l0.5-10.2M549.6 235.2l2.1 2.2M555.3 126.6l-5.6 2.7M550.2 267.9l-0.3-9.6M549.9 258.3l9.5-0.2M560.2 249.4l-10.1-1.6M550.2 201.3l0.7-0.5M550.2 267.9l8.9 1.1M550.4 608.1l-0.1-0.2M550.3 607.9l0.3-6.8M561.5 609l-11.1-0.9M550.6 617.5l-0.2-9.4M550.4 620.1l0.6-2.1M550.5 213l10.9 0.1M551 618l-0.4-0.5M559.8 598.6l-9.2 2.5M551.7 587.8l-1-7.3M550.7 580.5l10.3-3M551.7 587.8l-1 0.8M550.9 200.8l11.4 0.4M552 189.8l-1.1 11M551 618l8.2 1.5M551.9 549l-0.4-11M552 537.7l-0.5 0.3M552.6 558l-1-8.6M551.9 549l-0.3 0.4M551.7 587.8l7.1 1.9M561.5 237.1l-9.8 0.3M561.9 547.6l-10 1.4M562.4 539l-10.4-1.3M553.1 529.5l-1.1 8.2M552 568.6l0.1-0.1M559.7 188l-7.7 1.8M552.1 568.5l7.5 1.7M553.1 558.4l-1 10.1M552.6 558l0.5 0.4M553.2 509.8l-0.3-0.2M553.6 499.8l-0.7 9.8M553.1 519.9l-0.1-0.1M553 519.8l0.2-10M553.1 558.4l8.8 0.5M553.1 529.5l1.1-1.1M554.2 528.4l-1.1-8.5M553.1 519.9l10.8-0.6M562.6 510.3l-9.4-0.5M553.5 478.4l0.2 0.2M554 468.8l-0.5 9.6M555.1 498.5l-1.5 1.3M563.5 479l-9.8-0.4M553.7 488.8l0-10.2M553.7 488.8l0.1 0.1M553.8 488.9l1.3 9.6M563.5 488.1l-9.7 0.8M553.9 468.6l0.1 0.2M555.2 459.3l-1.3 9.3M564.8 469.2l-10.8-0.4M554.2 528.4l9.2 0.9M555.2 459.3l-0.8-0.8M554.6 449.4l-0.2 9.1M554.9 449.1l-0.3 0.3M554.6 439.6l0.3 0.2M554.6 439.6l0.7-10.7M554.9 449.1l9.4 0.3M554.9 439.8l0 9.3M554.9 439.8l9.5-0.6M555.3 428.9l-0.3-0.3M555 428.6l0.7-9M555.7 419.6l-0.7-0.8M555 418.8l0.9-9.5M555.1 498.5l8 0.5M555.9 409.3l-0.8-0.9M556.5 399.6l-1.4 8.8M564.6 459.4l-9.4-0.1M555.3 126.6l7 4.1M556.8 116.8l-1.5 9.8M555.3 428.9l9.3 1M555.6 398.6l0.9 1M555.7 389l-0.1 9.6M564.9 419.3l-9.2 0.3M555.7 389l0.2-0.1M555.9 388.9l10.1 0.4M556 379.3l-0.1 9.6M565.2 410.1l-9.3-0.8M556 379.3l0.3-0.2M556.1 367.9l1.2 1.4M557 359.5l-0.9 8.4M565.9 379.5l-9.6-0.4M557.3 369.3l-1 9.8M565.6 399.1l-9.1 0.5M557.3 116.5l-0.5 0.3M556.8 348.6l0.1 0.1M556.8 348.6l0.6-9.5M556.9 348.7l10.7 0.8M556.9 348.7l0.4 10.5M557 359.5l0.3-0.3M557.4 339.1l-0.3-0.3M558 329.2l-0.9 9.6M557.3 116.5l11.1 1.4M558.2 104.5l-0.9 12M557.3 359.2l9.4-0.2M557.3 369.3l8.9 0.6M557.4 339.1l10.6 0.6M558.2 104.5l-0.7-0.9M557.5 103.3l0 0.3M557.8 328.9l0.2 0.3M557.8 328.9l0.2-10M558.1 318.8l-0.1 0.1M567.8 328.9l-9.8 0.3M558.5 308.8l-0.4-10.1M558.1 298.7l0.2-0.1M558.1 318.8l0.2-9.8M568 318.7l-9.9 0.1M570.7 106.1l-12.5-1.6M558.5 279.8l-0.3-0.3M559.1 269l-0.9 10.5M568.1 299.2l-9.8-0.6M558.4 289.2l-0.1 9.4M558.5 308.8l-0.2 0.2M558.7 288.9l-0.3 0.3M558.5 279.8l0.2 9.1M568.8 279.2l-10.3 0.6M568 309.1l-9.5-0.3M558.7 288.9l10.1 0.2M559.7 188l-1-11.6M558.7 176.4l0.2-0.2M558.8 589.7l1 8.9M558.8 589.7l0.6-0.3M558.9 176.2l13.3 1.7M558.9 176.2l1.6-10.7M559.5 268.8l-0.4 0.2M560.2 152.4l-1-10.9M559.2 141.5l1.6-1.4M559.2 619.5l0.2 4.2M559.2 619.5l1.6-1.2M559.4 589.4l10.8 0.2M559.4 589.4l3.3-10.5M560.5 259.3l-1.1-1.2M559.4 258.1l0.8-8.7M568.7 270l-9.2-1.2M559.5 268.8l1-9.5M559.6 570.2l1.4 7.3M561.7 568.3l-2.1 1.9M559.7 188l2.9 1.8M559.8 598.6l1.2 0.9M560.1 165l0.4 0.5M561.1 153.3l-1 11.7M560.2 249.4l2.5-2M561.1 153.3l-0.9-0.9M569.8 259l-9.3 0.3M560.5 165.5l11.7 0.5M560.8 618.3l8.5 0.9M561.5 609l-0.7 9.3M572.3 141.8l-11.5-1.7M562.3 130.7l-1.5 9.4M561 577.5l1.7 1.4M562.4 608.1l-1.4-8.6M561 599.5l8.5-1.9M561.1 153.3l10.5-0.4M561.4 213.1l0.2 0.2M561.4 213.1l1.2-11.6M561.5 237.1l1.4 1.2M561.7 224.6l-0.2 12.5M561.5 609l0.9-0.9M574.7 213.9l-13.1-0.6M561.8 224.5l-0.2-11.2M561.7 224.6l0.1-0.1M561.7 568.3l9.2 0.7M562.1 559.2l-0.4 9.1M561.8 224.5l11.8 0.5M561.9 558.9l0.2 0.3M564.1 549.7l-2.2 9.2M561.9 547.6l2.2 2.1M561.9 547.6l0.5-8.6M562.1 559.2l8.6 1.4M562.3 201.2l0.3 0.3M562.6 189.8l-0.3 11.4M568.4 127.7l-6.1 3M562.4 608.1l7.8 0.3M562.4 539M562.4 539l10 1M563.9 530l-1.5 9M562.6 189.8l8.3-2.4M574 201.9l-11.4-0.4M562.6 510.3l1.3 9M562.6 510.3l0.9-0.9M569.6 250.5l-6.9-3.1M562.9 238.3l-0.2 9.1M562.7 578.9l7.4 0.5M573.2 236.7l-10.3 1.6M563.1 499l0.2 0.2M565.6 490.1l-2.5 8.9M573.2 500.8l-9.9-1.6M563.5 509.4l-0.2-10.2M563.9 530l-0.5-0.7M563.4 529.3l0.6-9.9M563.5 488.1l0-9.1M563.5 479l0.8-0.7M563.5 509.4l9.4-0.2M563.5 488.1l2.1 2M564 519.4l-0.1-0.1M563.9 530l8.8 0.1M564 519.4l8.7-0.3M564.1 549.7l7.8 0M573.8 479.8l-9.5-1.5M564.8 469.2l-0.5 9.1M564.9 459l-0.6-9.6M564.3 449.4l0.7-0.7M564.4 439.2l0.4 0.4M564.6 429.9l-0.2 9.3M564.6 459.4l0.5 9.5M564.6 459.4l0.3-0.4M564.6 429.9l0.4-0.3M565.1 468.9l-0.3 0.3M564.8 439.6l0.2 9.1M564.8 439.6l10-0.1M564.9 459l8.7-0.4M564.9 419.3l0.3 0.3M565.2 410.1l-0.3 9.2M565.2 419.6l-0.2 10M565 429.6l9.6 0M565 448.7l9.5 0.4M574.5 469.1l-9.4-0.2M575 419.8l-9.8-0.2M565.2 410.1l0.6-0.5M565.6 490.1l8.1-0.8M565.6 399.1l0.3 0.4M566.4 389.7l-0.8 9.4M565.8 409.6l9.2 0.6M565.8 409.6l0.1-10.1M575.8 400.3l-9.9-0.8M566 389.3l-0.1-9.8M565.9 379.5l1-1.1M566.4 389.7l-0.4-0.4M566.9 378.4l-0.7-8.5M566.2 369.9l1.1-1.2M575.6 389.3l-9.2 0.4M566.7 359l0.1 0.2M566.7 359l1-9.4M566.8 359.2l11.1 0.5M566.8 359.2l0.5 9.5M576 379.2l-9.1-0.8M567.3 368.7l9.8 0.4M567.6 349.5l0.1 0.1M568 339.7l-0.4 9.8M567.7 349.6l10.1 0.5M567.8 328.9l0.1 0.1M568.3 319.1l-0.5 9.8M577.6 329.2l-9.7-0.2M567.9 329l0.4 10.5M568 318.7l0.3 0.4M568 318.7l0-9.6M568 339.7l0.3-0.2M568 309.1l0.5-0.4M569 300.2l-0.9-1M569.1 289.5l-1 9.7M577.7 339.4l-9.4 0.1M568.3 319.1l9.5-0.1M572.8 130.4l-4.4-2.7M568.4 117.9l0 9.8M569.1 117.3l-0.7 0.6M578.5 309.9l-10-1.2M569 300.2l-0.5 8.5M568.7 270l0.1 9.2M568.7 270l1-0.9M568.8 289.1l0.3 0.4M569.3 279.7l-0.5 9.4M568.8 279.2l0.5 0.5M578.6 299.3l-9.6 0.9M569.1 117.3l11.8 1.3M569.1 117.3l1.6-11.2M578.3 290l-9.2-0.5M579.2 279.8l-9.9-0.1M569.3 619.2l0.7 8.6M569.3 619.2l1.2-0.9M569.5 597.6l1.8 1.7M569.5 597.6l0.7-8M569.8 259l-0.2-8.5M575.1 247.3l-5.5 3.2M579.6 270l-9.9-0.9M570.1 259.3l-0.4 9.8M570.1 259.3l-0.3-0.3M571.3 588.4l-1.2-9M571.2 578.2l-1.1 1.2M570.1 259.3l9.3-0.1M570.2 589.6l1.1-1.2M570.2 608.4l1.8 1.6M570.2 608.4l1.1-9.1M570.5 618.3l9.7 2.2M570.5 618.3l1.5-8.3M570.7 106.1l0.5-0.6M570.7 560.6l0.2 8.4M570.7 560.6l2.6-2.4M571.5 569.7l-0.6-0.7M570.9 187.4l4 3.7M572.2 177.9l-1.3 9.5M571 103.5l0.2 2M581.6 578.7l-10.4-0.5M571.5 569.7l-0.3 8.5M571.2 105.5l9.9 0.1M571.3 588.4l9.9 1.6M571.3 599.3l9.6 0.1M581.6 567.6l-10.1 2.1M571.6 152.9l0.7 13M572.2 152.3l-0.6 0.6M573.3 558.2l-1.4-8.5M573 548.6l-1.1 1.1M572 610l6.6-0.7M572.2 166l0.4 11.5M572.3 165.9l-0.1 0.1M572.6 177.5l-0.4 0.4M572.2 152.3l11.8 1.1M572.2 152.3l0.1-10.5M572.3 165.9l11.9-1.4M572.3 141.8l1.2-1.2M573 540.7l-0.6-0.7M572.4 540l0.3-9.9M572.6 177.5l11.2 0.4M572.7 519.1l0.6 0.6M572.7 519.1l0.2-9.9M572.7 530.1l1.8-1.3M572.7 628.9l6.2-0.7M573.5 140.6l-0.7-10.2M581.6 127.7l-8.8 2.7M572.9 509.2l1.1-1.1M573 548.6l0-7.9M583.1 538.4l-10.1 2.3M581.2 549l-8.2-0.4M573.2 236.7l1.9 10.6M573.3 236.6l-0.1 0.1M573.2 500.8l0.8 7.3M574.6 499.2l-1.4 1.6M573.3 236.6l13.2 0.2M573.3 236.6l0.3-11.6M581.9 560.4l-8.6-2.2M573.3 519.7l1.2 9.1M573.3 519.7l10-2M584 140.8l-10.5-0.2M574.8 223.7l-1.2 1.3M574.9 459.9l-1.3-1.3M575.2 449.8l-1.6 8.8M574.6 490.1l-0.9-0.8M573.9 479.9l-0.2 9.4M573.9 479.9l-0.1-0.1M573.8 479.8l1-10.4M573.9 479.9l10.4-0.7M574 508.1l9.1 1.5M574.3 202.2l-0.3-0.3M574 201.9l0.9-10.8M574.9 213.5l-0.6-11.3M574.3 202.2l12.6-0.6M574.5 449.1l0.7 0.7M574.8 439.5l-0.3 9.6M574.5 469.1l0.3 0.3M574.5 469.1l0.4-9.2M582.2 530.4l-7.7-1.6M574.6 499.2l9.7 0.7M574.6 499.2l0-9.1M574.6 490.1l7.8-0.2M575.1 430.1l-0.5-0.5M575.2 420.1l-0.6 9.5M574.7 213.9l0.1 9.8M574.7 213.9l0.2-0.4M574.8 469.4l9.4 0.5M586.6 225.8l-11.8-2.1M574.9 439.3l-0.1 0.2M574.9 459.9l9.5-0.2M574.9 213.5l13-0.8M584.3 189.2l-9.4 1.9M574.9 439.3l9.8 1M575.1 430.1l-0.2 9.2M575 419.8l0.2 0.3M575 410.2l0 9.6M576.2 409.2l-1.2 1M579.7 249.2l-4.6-1.9M584.9 430l-9.8 0.1M575.2 449.8l9.5 0.3M585.1 420l-9.9 0.1M575.6 389.3l0.6 0.6M575.6 389.3l1.1-9.3M576.2 409.2l-0.4-8.9M575.8 400.3l0.8-0.9M576.7 380l-0.7-0.8M576 379.2l1.1-10.1M576.2 409.2l9.2 1M576.6 399.4l-0.4-9.5M576.2 389.9l9.9-0.1M576.6 399.4l10 0.1M576.7 380l9.7-0.1M577.1 369.1M586.2 370.5l-9.1-1.4M577.9 359.7l-0.8 9.4M577.6 329.2l0.2 0.2M578.3 319.6l-0.7 9.6M578 339.7l-0.3-0.3M577.8 329.4l-0.1 10M577.8 350.1l0.1 9.6M578.2 349.7l-0.4 0.4M588.1 329.7l-10.3-0.3M578.3 319.6l-0.5-0.6M578.5 309.9l-0.7 9.1M577.9 359.7M587.9 359.9l-10-0.2M578 339.7l0.2 10M587.9 339.1l-9.9 0.6M578.2 349.7l9.2 0.1M578.3 290l0.3 9.3M578.9 289.4l-0.6 0.6M587.8 320l-9.5-0.4M578.5 309.9l0.6-0.5M578.6 299.3l0.7 0.6M578.9 628.2l2.6 2.9M578.9 628.2l1.3-7.7M587.7 290l-8.8-0.6M579.2 279.8l-0.3 9.6M579.1 309.4l9.5 0.8M579.3 299.9l-0.2 9.5M579.3 279.6l-0.1 0.2M579.3 299.9l8.2-0.4M587.9 280.2l-8.6-0.6M579.3 279.6l0.3-9.6M579.4 259.2l0.5 0.4M579.7 249.2l-0.3 10M579.6 270l0.5-0.6M579.7 249.2l6.8-2.7M580.1 269.4l-0.2-9.8M579.9 259.6l9.2-0.7M580.1 269.4l8.3 0.2M580.2 620.5l1-0.9M580.9 118.6l0.7 9.1M580.9 118.6l1.9-2.1M581.1 105.6l0.1 0.1M581.3 103.6l-0.2 2M582.8 116.5l-1.6-10.8M593.9 105.2l-12.7 0.5M582.3 560.1l-1.1-11.1M582 548.4l-0.8 0.6M581.5 597.4l-0.3-7.4M581.4 589.8l-0.2 0.2M581.4 631.8l0.1-0.7M581.6 578.7l-0.2 11.1M582.5 589.6l-1.1 0.2M583.9 630.8l-2.4 0.3M581.6 567.6l1.9 2.4M581.6 567.6l0.3-7.2M581.9 578.4l-0.3 0.3M581.6 127.7l3.3 2.3M589.6 580.1l-7.7-1.7M581.9 578.4l1.6-8.4M581.9 560.4l0.4-0.3M591 550.8l-9-2.4M582 548.4l2.2-8.7M583.1 538.4l-0.9-8M582.2 530.4l0.7-0.5M590.9 558l-8.6 2.1M582.4 489.9l2.1 9.8M582.4 489.9l1.4-1.2M593.1 116.9l-10.3-0.4M582.9 529.9l10.1 0.1M582.9 529.9l2.3-10.3M583.1 509.6l0.2 8.1M583.1 509.6l1-1M584.2 539.7l-1.1-1.3M583.3 517.7l1.9 1.9M583.5 570l8.3 0M584.7 178.9l-0.9-1M585.3 165.6l-1.5 12.3M593.1 490.1l-9.3-1.4M584.3 479.2l-0.5 9.5M584.5 154.1l-0.5-0.7M585.9 142.8l-1.9 10.6M585.9 142.8l-1.9-2M584.9 130l-0.9 10.8M584.1 508.6l8.8 0.3M584.1 508.6l0.2-8.7M584.2 469.9l0.5 8.9M584.7 469.4l-0.5 0.5M584.2 539.7l7.9 1M585.3 165.6l-1.1-1.1M584.2 164.5l0.3-10.4M584.3 479.2l0.4-0.4M587.5 192l-3.2-2.8M584.3 189.2l0.4-10.3M584.3 499.9l0.2-0.2M584.7 469.4l-0.3-9.7M584.6 459.5l-0.2 0.2M597.4 154.3l-12.9-0.2M584.5 499.7l8.6-1.9M595 460l-10.4-0.5M584.7 450.1l-0.1 9.4M584.7 469.4l9.9-0.4M593.8 480.1l-9.1-1.3M584.8 449.9l-0.1 0.2M596.4 178.4l-11.7 0.5M584.7 440.3l0.1 9.6M585.1 439.9l-0.4 0.4M594.6 449.9l-9.8 0M585.1 439.9l-0.2-9.9M584.9 430l0.4-0.5M593.1 128.2l-8.2 1.8M585.1 439.9l9.9-0.5M585.1 420l0.2 9.5M585.1 420l0.6-0.6M592.6 519.6l-7.4 0M585.3 165.6l11.2 1M585.3 429.5l9.4 0.6M585.4 410.2l0.3 9.2M585.4 410.2l1-0.8M585.7 419.4l10.1 0.8M596.5 141.8l-10.6 1M586.6 399.5l-0.5-9.7M586.1 389.8l0.3-0.2M586.8 379.4l-0.6-8.9M586.2 370.5l1.9-1.8M586.4 389.6l10.1 0.1M586.4 389.6l0-9.7M586.4 409.4l9.8 0.6M586.6 399.5l-0.2 9.9M586.4 379.9l0.4-0.5M586.5 246.5l0-9.7M586.5 236.8l0.3-0.4M589.1 248.5l-2.6-2M586.6 399.5M586.6 225.8l0.2 10.6M587.5 225l-0.9 0.8M586.6 399.5l9.9-0.4M586.8 236.4l12.2 0.3M586.8 379.4l9.9 0.4M587.5 202.3l-0.6-0.7M587.5 192l-0.6 9.6M587.9 359.9l-0.5-10.1M588.5 348.7l-1.1 1.1M599.6 225l-12.1 0M588.2 212.9l-0.7 12.1M589.2 301.6l-1.7-2.1M589.4 292.6l-1.9 6.9M587.5 192l9.3-2.3M587.9 212.7l-0.4-10.4M600 201.8l-12.5 0.5M587.7 290l1.7 2.6M589.7 283.6l-2 6.4M588.1 329.7l-0.3-9.7M588.5 319.3l-0.7 0.7M588.1 339.3l-0.2-0.2M588.1 329.7l-0.2 9.4M587.9 280.2l1.8 3.4M587.9 280.2l2.5-4.4M588.1 368.7l-0.2-8.8M587.9 359.9M588.2 212.9l-0.3-0.2M587.9 359.9l9.3-0.9M588.1 329.7M588.1 329.7l10.1-0.4M588.1 368.7l8.9 1.4M588.1 339.3l0.4 9.4M588.1 339.3l9.9 0M588.2 212.9l11.2 0.5M590.4 275.8l-2-6.2M590.2 267.4l-1.8 2.2M588.5 348.7l8.9 1.1M588.5 319.3l10 0.7M588.5 319.3l0.1-9.1M588.7 310.1l-0.1 0.1M598.2 310.2l-9.5-0.1M589.2 301.6l-0.5 8.5M590.2 267.4l-1.1-8.5M589.5 258.4l-0.4 0.5M589.5 258.4l-0.4-9.9M589.1 248.5l9.1-0.8M598 301.2l-8.8 0.4M597.4 292.4l-8 0.2M598.4 258.4l-8.9 0M589.7 283.6l8.6 0.8M590.2 267.4l8.1 0M590.4 275.8l8.2 0.2M594 560.4l-3.1-2.4M590.9 558l0.1-7.2M591 550.8l2.5-2.8M593.2 576.9l-1.4-6.9M592.5 569.4l-0.7 0.6M593.5 548l-1.4-7.3M592.1 540.7l1.2-1.2M601.4 570.3l-8.9-0.9M594 560.4l-1.5 9M593.1 520l-0.5-0.4M593.6 509.7l-1 9.9M593.6 509.7l-0.7-0.8M592.9 508.9l1.9-9.4M593.3 539.5l-0.3-9.5M593.9 529.2l-0.9 0.8M593.1 490.1l0 7.7M594.2 488.8l-1.1 1.3M593.1 116.9l0 11.3M593.1 116.9l1.8-1.7M593.1 520l0.8 9.2M593.1 520l8.7-0.7M596.2 130.2l-3.1-2M594.8 499.5l-1.7-1.7M593.3 539.5l9.7-1M593.5 548l7.8 1.4M603 510.7l-9.4-1M593.9 105.2l-0.2-1.6M593.8 480.1l0.2 0.2M595.4 469.7l-1.6 10.4M602.6 529.8l-8.7-0.6M594.5 105.7l-0.6-0.5M594 560.4l6.3-0.9M594 480.3l0.2 8.5M604.9 479.8l-10.9 0.5M604.2 489.5l-10-0.7M594.9 115.2l-0.4-9.5M594.5 105.7l9-2.1M595 450.3l-0.4-0.4M594.6 449.9l1.1-9.8M595.4 469.7l-0.8-0.7M594.6 469l0.4-9M595 439.4l-0.3-9.3M595.9 428.8l-1.2 1.3M602.5 500l-7.7-0.5M594.9 115.2l10.2 2.3M595.8 459.2l-0.8-8.9M595 450.3l10.9-0.6M595.7 440.1l-0.7-0.7M595.8 459.2l-0.8 0.8M595.4 469.7l9.2 0.7M595.7 440.1l9.3-0.1M595.8 459.2l9.1 0.6M595.8 420.2M595.8 420.2l0.4-10.2M595.8 420.2l0.1 8.6M595.8 420.2l9.9-0.5M604.7 430.1l-8.8-1.3M596.2 130.2l0.3 11.6M596.2 130.2l9-2.5M596.6 409.6l-0.4 0.4M596.4 178.4l0.4 11.3M596.4 178.4l0.7-0.6M596.8 390.1l-0.3-0.4M596.7 379.8l-0.2 9.9M597 142.2l-0.5-0.4M596.8 399.5l-0.3-0.4M596.5 399.1l0.3-9M596.5 166.6l0.6 11.2M596.6 166.5l-0.1 0.1M605.2 410.3l-8.6-0.7M596.6 409.6l0.2-10.1M597.6 154.4l-1 12.1M596.6 166.5l12.1-0.5M596.7 379.8l0.2-0.2M596.8 189.7l1.8 1.2M596.8 390.1l9.2-0.3M604 399.6l-7.2-0.1M605.6 379.9l-8.7-0.3M597 370.1l-0.1 9.5M597.4 154.3l-0.4-12.1M608.4 141.8l-11.4 0.4M597 370.1l0.9-0.9M597.1 177.8l11.6 0.8M597.2 359l0.9 0.8M597.2 359l0.2-9.2M597.8 349.5l-0.4 0.3M597.4 292.4l0.8 0.8M597.4 292.4l0.9-8M597.6 154.4l-0.2-0.1M597.6 154.4l11.3 0M608 349.8l-10.2-0.3M598.3 339.6l-0.5 9.9M597.9 369.2l9.3 0.7M598.1 359.8l-0.2 9.4M598.3 339.6l-0.3-0.3M598 339.3l0.2-10M598.2 310.2l-0.2-9M598 301.2l0.1 0M598.1 359.8l9.5-0.3M598.1 301.2l8.9 0.4M598.2 293.2l-0.1 8M598.2 293.2l8.6-0.4M598.2 310.2l0.4 0.4M599.2 248.8l-1-1.1M598.2 247.7l1.8-9.9M598.2 329.3l0.2-0.1M598.3 284.4l0-0.1M598.3 339.6l9.7 0.1M598.9 275.7l-0.6-8.3M598.3 267.4l0.4-0.3M598.3 284.3l8.4 0.5M598.3 284.3l0.3-8.3M598.4 258.4l0.3 0.4M598.4 258.4l0.8-9.6M598.4 329.2l9.5 0.9M598.4 329.2l0.1-9.2M598.5 320l0-0.1M598.6 310.6l-0.1 9.3M598.5 319.9l9.6-0.3M600 201.8l-1.4-10.9M609.2 188.8l-10.6 2.1M598.6 276l0.3-0.3M598.6 310.6l7.9-0.9M607 267.1l-8.3 0M598.7 258.8l0 8.3M598.7 258.8l8.4 0.1M598.9 275.7l7.7 0.1M600 237.8l-1-1.1M599.6 225l-0.6 11.7M599.2 248.8l7.8 1.2M599.4 213.4l0.4 11.4M599.4 213.4l0.4-0.4M599.8 224.8l-0.2 0.2M611.6 213.4l-11.8-0.4M599.8 213l0.5-11M599.8 224.8l10.3 0.5M600.3 202l-0.3-0.2M610.9 238l-10.9-0.2M600.3 202l11.1-1M600.3 559.5l2.5 9M600.5 559.4l-0.2 0.1M601.3 549.4l-0.8 10M600.5 559.4l9.5-0.3M602.4 548.6l-1.1 0.8M601.4 570.3l0 0.8M602.8 568.5l-1.4 1.8M602.5 520.1l-0.7-0.8M601.8 519.3l1.2-8.6M602.4 548.6l8.5 1.5M602.4 548.6l0.6-10.1M602.5 500l0.9 10.4M602.8 499.7l-0.3 0.3M603.3 529l-0.8-8.9M613.3 519.7l-10.8 0.4M602.6 529.8l0.6 8.6M603.3 529l-0.7 0.8M602.8 568.5l3 0M602.8 499.7l9.9 0.5M604.3 489.6l-1.5 10.1M603.4 510.4l-0.4 0.3M603 538.5l0.2-0.1M612.2 539.5l-9-1.1M603.3 529l8.7-0.7M611.6 510.5l-8.2-0.1M604 399.6l3.7 5.4M604 399.6l3.2-4.8M604.3 489.6l-0.1-0.1M604.9 479.8l-0.7 9.7M604.3 489.6l8.9 1.1M604.6 470.4l0.6 9M604.6 470.4l0.2-0.3M605 440l-0.3-9.9M604.7 430.1l1.3-1.1M604.8 470.1l0.3-10.1M615 469.5l-10.2 0.6M605.2 479.4l-0.3 0.4M604.9 459.8l0.2 0.2M604.9 459.8l1-10.1M605.1 440.2l-0.1-0.2M614.7 460.1l-9.6-0.1M605.1 117.5l0.1 10.2M605.1 117.5l0.9-0.7M605.1 440.2l0.8 9.5M605.1 440.2l9.2-1.2M605.2 479.4l9.1 1.1M605.2 410.3l1.2 2.2M607.7 405l-2.5 5.3M605.2 127.7l4.5 3.2M605.3 103.6l2.2 2.5M605.6 379.9l1.6 8.1M606.4 379.2l-0.8 0.7M606 429l-0.3-9.3M605.7 419.7l0.4-0.4M605.9 449.7M615 450.4l-9.1-0.7M606 429l8.2 0.6M607.2 394.8l-1.2-5M606 389.8l1.2-1.8M606 116.8l12.2 0.6M606 116.8l1.5-10.7M606.1 419.3l8.4 1.3M606.4 412.5l-0.3 6.8M615.2 379.4l-8.8-0.2M606.4 379.2l0.8-9.3M606.4 412.5l9.5 0.1M606.5 309.7l2.2 2.1M607 301.6l-0.5 8.1M607.1 284.4l-0.5-8.6M606.6 275.8l0.4-0.4M606.7 284.8l0.2 8M606.7 284.8l0.4-0.4M607.3 301.3l-0.5-8.5M606.8 292.8l0.1 0M606.9 292.8l8.7-0.2M615.2 275.6l-8.2-0.2M607 267.1l0 8.3M607 250l0.7 8.2M607 250l5.1-3.8M607.3 266.9l-0.3 0.2M607 301.6l0.3-0.3M607.1 258.9l0.2 8M607.1 258.9l0.6-0.7M607.1 284.4l8.2-0.3M607.2 394.8l7.6 2.2M607.2 388l7.7-0.3M607.9 369.3l-0.7 0.6M607.3 266.9l8.2 0.3M615.4 301.5l-8.1-0.2M607.5 106.1l11.9 0.4M607.7 359.7l-0.1-0.2M608.2 350.1l-0.6 9.4M607.7 405l5.9-1.3M607.7 258.2l7.8 0.3M618.6 360.3l-10.9-0.6M607.7 359.7l0.2 9.6M615.5 370.3l-7.6-1M608 339.7l-0.1-9.6M607.9 330.1l0.4-0.4M608.4 340.2l-0.4-0.5M608 349.8l0.2 0.3M608.4 340.2l-0.4 9.6M608.6 320l-0.5-0.4M608.1 319.6l0.6-7.8M617.9 350.4l-9.7-0.3M608.3 329.7l10.3 0.1M608.6 320l-0.3 9.7M608.4 141.8l0.2 0.2M608.4 141.8l1.3-10.9M618 339.6l-9.6 0.6M608.6 320l9.7 0.5M620.9 142.3l-12.3-0.3M608.6 142l1.1 11.6M609.2 188.8l-0.5-10.2M609.1 178.1l-0.4 0.5M615.4 310.1l-6.7 1.7M608.7 166l0.4 12.1M609 165.8l-0.3 0.2M608.9 154.4l0.1 11.4M608.9 154.4l0.8-0.8M609 165.8l12.7 0.6M621 177.2l-11.9 0.9M609.2 188.8l2.3 2M609.7 153.6l11.1 0.4M617.4 128.6l-7.7 2.3M610 559.1l1.5 6.5M610 559.1l0.8-1.2M610.1 225.3l2.3 2.4M611.9 213.7l-1.8 11.6M610.8 557.9l9.9 0.3M610.8 557.9l0.1-7.8M610.9 550.1l1.6-1.5M610.9 238l0.4 0.5M610.9 238l1.5-10.3M612.1 246.2l-0.8-7.7M611.3 238.5l13.2-0.7M612.7 202.3l-1.3-1.3M611.5 190.8l-0.1 10.2M621.5 188.5l-10 2.3M613.3 519.7l-1.7-9.2M613.7 508.3l-2.1 2.2M611.6 213.4l0.3 0.3M611.6 213.4l1.1-11.1M623.5 215.7l-11.6-2M613.7 530.5l-1.7-2.2M613.9 520.3l-1.9 8M612.1 246.2l3.7 2.5M612.2 539.5l1.2 1.4M612.2 539.5l1.5-9M612.4 227.7l9.7-1.6M619.1 550.4l-6.6-1.8M613.4 540.9l-0.9 7.7M612.7 500.2l0.4 0.5M613.2 490.7l-0.5 9.5M612.7 202.3l9.1-0.1M613.7 508.3l-0.6-7.6M613.1 500.7l9.2-1.6M613.2 490.7l1.8-1.4M613.9 520.3l-0.6-0.6M613.4 540.9l8.6-0.9M613.6 403.7l2.3 2.1M613.6 403.7l1.2-6.7M621.2 509.5l-7.5-1.2M622.8 530.8l-9.1-0.3M613.9 520.3l7.8-0.3M614.9 430.2l-0.7-0.6M614.2 429.6l0.3-9M614.3 439l1.5 1.4M614.3 439l0.6-8.8M614.3 480.5l0.7 8.8M614.3 480.5l1.1-1.1M615.3 419.9l-0.8 0.7M615.2 460.7l-0.5-0.6M614.7 460.1l0.3-9.7M614.8 397l0.8-0.6M614.9 430.2l7.5-0.8M614.9 387.7l0.7 8.7M616.5 386.3l-1.6 1.4M615 450.4l0.9-0.8M615 489.3l6.6 1.3M615 469.5l1.1 1.1M615 469.5l0.2-8.8M615.2 379.4l1.3 6.9M615.2 379.4l1.1-1.4M615.2 275.6l0.5 0.5M615.5 267.2l-0.3 8.4M615.2 460.7l10.2-0.8M615.3 284.1l0.3 8.5M615.3 284.1l0.2-0.2M623.1 421l-7.8-1.1M615.9 412.6l-0.6 7.3M615.4 310.1l2.8 1.8M615.4 310.1l0-8.6M615.4 479.4l9.5 1.1M616.1 470.6l-0.7 8.8M615.4 301.5l0.5-0.3M616.3 378l-0.8-7.7M618.3 368.1l-2.8 2.2M615.5 258.5l0.4 0.4M615.8 248.7l-0.3 9.8M624.4 284.6l-8.9-0.7M615.7 276.1l-0.2 7.8M615.5 267.2l0.2-0.2M615.6 292.6l0.2 0.3M615.6 396.4l6.5 0M615.7 267l8.6 0.6M615.9 258.9l-0.2 8.1M615.7 276.1l8.7-0.6M615.9 449.6l-0.1-9.2M615.8 440.4l8.6-1.1M615.8 248.7l7-0.3M615.9 301.2l-0.1-8.3M624.4 292.2l-8.6 0.7M616.7 411.7l-0.8-5.9M623.9 403.5l-8 2.3M616.7 411.7l-0.8 0.9M624 301.7l-8.1-0.5M615.9 258.9l8-0.5M615.9 449.6l9.1 1M616.1 470.6l8.9-0.5M616.3 378l7.2 0M624.8 387.5l-8.3-1.2M616.7 411.7l7.4 1.1M621.2 131l-3.8-2.4M617.4 128.6l0.8-11.2M617.9 350.4l0.7 9.9M617.9 350.4l0.7-0.7M618.1 339.7l-0.1-0.1M618 339.6l0.7-9.6M618.1 339.7l8.4 0.6M618.6 349.7l-0.5-10M618.2 311.9l0.5 8.3M624.1 309.5l-5.9 2.4M619.1 116.5l-0.9 0.9M618.3 368.1l5.9 2.6M618.9 360.5l-0.6 7.6M618.3 320.5l0.3 9.3M618.3 320.5l0.4-0.3M618.7 330l-0.1-0.2M626.5 349.7l-7.9 0M618.6 360.3l0.3 0.2M627.7 319.6l-9 0.6M627 330.1l-8.3-0.1M618.9 360.5l7.3-0.7M620.7 558.2l-1.6-7.8M622.5 548.3l-3.4 2.1M631.1 118.9l-12-2.4M619.4 106.5l-0.3 10M620.3 105.3l-0.9 1.2M620.3 105.3l-0.2-1.7M620.2 563.4l0.8-5M628.9 105.3l-8.6 0M621 558.4l-0.3-0.2M621.9 166.2l-1.1-12.2M621.2 153.6l-0.4 0.4M620.9 142.3l0.3 11.3M622.7 140.3l-1.8 2M621 558.4l5.8-0.8M621 177.2l0.5 11.3M621.1 177.1l-0.1 0.1M621.1 177.1l12.3 1.2M621.7 166.4l-0.6 10.7M633.4 152.6l-12.2 1M621.2 131l1.5 9.3M629.9 127.9l-8.7 3.1M621.2 509.5l2.1 6.5M621.2 509.5l2.5-2.6M624 190.3l-2.5-1.8M621.6 490.6l1.6 7.4M625 487.9l-3.4 2.7M621.9 166.2l-0.2 0.2M624.5 524l-2.8-4M623.3 516l-1.6 4M624.9 214.3l-3.1-12.1M621.8 202.2l1.2-1.1M621.9 166.2l10.7-0.6M623.5 541.4l-1.5-1.4M623.1 531.3l-1.1 8.7M624.5 237.8l-2.4-11.7M623 225.1l-0.9 1M623.9 403.5l-1.8-7.1M624.1 394.2l-2 2.2M623.7 506.9l-1.4-7.8M622.3 499.1l0.9-1.1M624.9 431.5l-2.5-2.1M622.4 429.4l1.1-7.7M622.5 548.3l4.7 2.9M622.5 548.3l1-6.9M622.7 140.3l10.4 1.6M622.8 248.4l1.7 1.6M624.9 238.1l-2.1 10.3M622.8 530.8l0.3 0.5M622.8 530.8l1.7-6.8M634.5 202l-11.5-0.9M624 190.3l-1 10.8M623 225.1l12.9 2.4M623.5 215.7l-0.5 9.4M623.5 421.7l-0.4-0.7M624.7 413.5l-1.6 7.5M623.1 531.3l9.3 2.3M623.2 498l8.8 0.2M632.1 513.9l-8.8 2.1M623.5 215.7l1.4-1.4M632.1 422.2l-8.6-0.5M623.5 541.4l7.5 0.4M624.6 379.1l-1.1-1.1M624.2 370.7l-0.7 7.3M623.7 506.9l8 0M625.5 404.6l-1.6-1.1M623.9 258.4l0.5 0.4M624.5 250l-0.6 8.4M624.1 309.5l-0.1-7.8M624 301.7l0.4-0.3M633.3 189.3l-9.3 1M624.1 412.8l0.6 0.7M624.1 412.8l1.4-8.2M631.6 397.2l-7.5-3M624.8 387.5l-0.7 6.7M624.1 309.5l3.4 2M628.1 369.3l-3.9 1.4M624.4 267.7l-0.1-0.1M624.3 267.6l0.1-8.8M632.9 259.2l-8.5-0.4M624.4 301.4l8.2 0M624.4 301.4l0.1-9.1M624.8 284.3l-0.4-8.8M624.4 275.5M624.4 439.3l1.1 1.1M624.9 431.5l-0.5 7.8M624.4 275.5l8.9 0.3M624.4 267.7l0 7.8M624.4 284.6l0 7.6M624.4 284.6l0.4-0.3M624.5 292.3l-0.1-0.1M632.9 267l-8.5 0.7M624.5 524l6.9-0.4M624.5 250l8.1-0.4M624.5 237.8l0.4 0.3M633.1 292.9l-8.6-0.6M624.8 387.5l-0.2-8.4M632.4 377.2l-7.8 1.9M624.7 413.5l7.8 0.6M624.8 284.3l8.3-0.3M624.8 387.5M624.8 387.5l6.5-0.4M624.9 480.5l0.1 7.4M625.5 479.9l-0.6 0.6M631.4 430l-6.5 1.5M624.9 238.1l9.7-0.2M624.9 214.3l9.3-1.2M625 487.9l7.9 2.4M625.6 470.7l-0.6-0.6M625.5 460l-0.5 10.1M625.4 459.9l-0.4-9.3M625 450.6l0.5-0.4M625.4 459.9l0.1 0.1M625.5 479.9l10 0.3M625.6 470.7l-0.1 9.2M625.5 460l9.1 0.6M625.5 404.6l5.8-0.8M625.5 450.2l0-9.8M625.5 450.2l9.9-0.6M625.5 440.4l9.8-0.6M634.6 470.6l-9 0.1M626.2 359.8l2.3 2.4M628.7 353l-2.5 6.8M626.5 349.7l2.2 3.3M626.5 349.7l2.2-5.6M626.5 340.3l2.2 3.8M626.5 340.3l2.5-4.7M626.8 557.6l0.5 0.3M626.8 557.6l0.4-6.4M629 335.6l-2-5.5M627 330.1l1.8-2.2M627.2 551.2l5-3.2M627.5 311.5l0.2 8.1M627.5 311.5l5.5-2.2M627.9 319.9l-0.2-0.3M627.9 319.9l0.9 8M636.3 318.8l-8.4 1.1M632.1 371.7l-4-2.4M628.5 362.2l-0.4 7.1M628.5 362.2l8.6-0.6M628.7 344.1l8.2-0.1M628.7 353l7.1 0.3M636.9 328l-8.1-0.1M637.8 336.3l-8.8-0.7M629.9 127.9l4.9 4M629.9 127.9l1.2-9M632 118.2l-1.1-9.3M631 541.8l1.2 6.2M631 541.8l1.6-1.7M631.1 118.9l0.9-0.7M631.3 387.1l3.2 7.5M632.3 386.2l-1 0.9M632 404.3l-0.7-0.5M631.3 403.8l0.3-6.6M633.3 532.6l-1.9-9M633.1 522.3l-1.7 1.3M631.4 430l3.7 2.6M631.4 430l0.7-7.8M634.5 394.6l-2.9 2.6M631.7 506.9l0.4 0.5M631.7 506.9l0.3-8.6M632 118.2l9.9-0.5M632 498.3l0-0.1M632 498.2l0.9-7.9M632 498.3l9.7 1.1M633.1 413.3l-1.1-9M640.8 403.6l-8.8 0.7M633.4 515.4l-1.3-1.5M632.1 507.4l0 6.5M632.1 422.2l1.1-1M632.1 371.7l0.3 5.5M638 368.4l-5.9 3.3M632.1 507.4l9.4-0.5M632.2 548l2 1.3M632.3 386.2l0.1-9M640.6 385.4l-8.3 0.8M632.4 377.2M632.4 533.6l0.2 6.5M632.4 533.6l0.9-1M632.4 377.2l8.1 1.6M633.2 421.2l-0.7-7.1M632.5 414.1l0.6-0.8M632.6 540.1l8 0.7M632.6 165.6l1.9 1.9M634.8 154l-2.2 11.6M632.6 249.6l0.4 9.5M635.2 247.4l-2.6 2.2M632.6 301.4l0.4 7.9M632.6 301.4l0.1 0M641.9 301.8l-9.2-0.4M633.3 293.1l-0.6 8.3M633.4 267.5l-0.5-0.5M632.9 267l0-7.8M632.9 259.2l0.1-0.1M632.9 490.3l2.7-2M633 259.1l8.3-0.5M633 309.3l2.6 1.5M640.3 524.3l-7.2-2M633.4 515.4l-0.3 6.9M633.3 284.2l-0.2-0.2M633.1 284l0.4-8M633.3 293.1l-0.2-0.2M633.1 292.9l0.2-8.7M641.5 412.2l-8.4 1.1M633.4 152.6l-0.3-10.7M633.3 141.8l-0.2 0.1M633.2 421.2l8.2 1.4M633.3 532.6l6.6-1.6M633.3 141.8l12.3 0.1M634.8 131.9l-1.5 9.9M633.5 276l-0.2-0.2M633.4 267.5l-0.1 8.3M633.3 189.3l1.9 1.4M633.4 178.3l-0.1 11M641.4 284.6l-8.1-0.4M633.3 293.1l8.5-0.1M633.4 178.3l1.8-1.9M633.4 515.4l8.2-0.5M633.4 152.6l1.4 1.4M633.4 267.5l8.1-0.2M641.5 275.8l-8 0.2M635.2 213.8l-1-0.7M634.5 202l-0.3 11.1M640.1 394.9l-5.6-0.3M634.8 201.6l-0.3 0.4M635.2 176.4l-0.7-8.9M634.5 167.5l12.1-2M634.6 470.6l1.3 9.1M634.6 470.6l0.9-1.1M635 238.4l-0.4-0.5M636 227.6l-1.4 10.3M635.5 469.5l-0.9-8.9M635.7 459.6l-1.1 1M647.2 202.2l-12.4-0.6M635.2 190.7l-0.4 10.9M634.8 154l9.6 0.2M634.8 131.9l8.3-2.4M635 238.4l13.9 0.8M635.2 247.4l-0.2-9M635.1 432.6l0.2 7.2M635.1 432.6l6.7-3.5M646.3 189.4l-11.1 1.3M635.2 176.4l10.1 1.7M641.5 250.6l-6.3-3.2M635.2 213.8l0.7 13.7M647 213.5l-11.8 0.3M635.3 439.8l0 0.1M635.3 439.9l9 0.1M635.3 439.9l0.1 9.7M635.8 450l-0.4-0.4M643.6 469.3l-8.1 0.2M635.6 488.3l-0.1-8.1M635.9 479.7l-0.4 0.5M635.6 488.3l5.3 1.7M636.8 318.2l-1.2-7.4M642.2 308.1l-6.6 2.7M635.7 459.6l8.5 0.6M635.7 459.6l0.1-9.6M635.8 353.3l1.3 8.3M636 353.1l-0.2 0.2M635.8 450l8.2-0.1M635.9 227.5l0.1 0.1M645.1 478.9l-9.2 0.8M636 227.6l10.5-1.3M637.1 344.3l-1.1 8.8M636 353.1l9.9-0.2M637.8 326.7l-1.5-7.9M636.3 318.8l0.5-0.6M636.8 318.2l8.5-0.7M637.1 344.3l-0.2-0.3M636.9 344l0.9-7.7M636.9 328l1.7 7.5M637.8 326.7l-0.9 1.3M637.5 362l-0.4-0.4M637.1 344.3l8.8 1.8M638 368.4l-0.5-6.4M645.2 360l-7.7 2M645.7 325.6l-7.9 1.1M638.6 335.5l-0.8 0.8M638 368.4l3.1 2M645.9 335.4l-7.3 0.1M639.9 531l2.1 2.1M639.9 531l0.6-6.3M640.1 394.9l0 0.1M640.1 394.9l0.9-9M640.8 403.6l-0.7-8.6M640.1 395l10-0.4M640.3 524.3l0.2 0.4M641.8 515.1l-1.5 9.2M649.2 523.9l-8.7 0.8M640.7 379l-0.2-0.2M640.5 378.8l0.6-8.4M640.6 385.4l0.4 0.5M640.6 385.4l0.1-6.4M640.6 547.2l1.1-5.2M640.6 540.8l1.1 1.2M642 533.1l-1.4 7.7M649.6 377.7l-8.9 1.3M640.8 403.6l0.6 0.6M640.9 490l1.4 8.8M640.9 490l4.8-2M641 385.9l9.2 0.9M641.1 370.4l5.9-0.9M641.5 267.3l-0.2-8.7M641.3 258.6l0.2-0.2M642 292.7l-0.6-8.1M642.4 283.6l-1 1M642.2 411.3l-0.8-7.1M641.4 404.2l7.9-1.9M641.4 422.6l0.4 6.5M641.4 422.6l1.2-1.3M641.5 267.3l0.3 0.2M641.5 275.8l0.9 7.8M641.5 275.8l0.6-0.7M641.5 250.6l0 7.8M641.5 250.6l7.4-3.2M650 259.1l-8.5-0.7M641.5 412.2l1.1 9.1M641.5 412.2l0.7-0.9M641.5 506.9l0.8 0.8M641.5 506.9l0.2-7.5M641.8 515.1l-0.2-0.2M641.6 514.9l0.7-7.2M641.7 499.4l0.6-0.6M641.7 542l7.7 0.1M641.8 515.1l7.7 2.1M642.5 301l-0.7-8M641.8 293l0.2-0.3M642.1 275.1l-0.3-7.6M641.8 267.5l8.7-0.8M641.8 429.1l2.6 1.8M641.9 117.7l0.1 0.1M641.9 117.7l0.3-5.6M641.9 301.8l0.3 6.3M642.5 301l-0.6 0.8M642 292.7l8.7-0.8M655.8 117.8l-13.8 0M642 117.8l1.1 11.7M642 533.1l7.2-0.1M650.5 275.3l-8.4-0.2M645.5 310.7l-3.3-2.6M649.4 411.9l-7.2-0.6M642.3 498.8l7.4-0.9M650.5 507.5l-8.2 0.2M650 283.7l-7.6-0.1M642.5 301l8.1-0.2M649.6 420.7l-7 0.6M643.1 129.5l1.7 1.2M646 473l-2.4-3.7M643.6 469.3l2.3-5.6M646.2 456.1l-2.2-6.2M644 449.9l2.6-3.3M644.2 460.2l1.7 3.5M646.2 456.1l-2 4.1M644.3 440l2.3 6.6M644.5 439.8l-0.2 0.2M644.4 154.2l2.7 10.5M644.4 154.1l0 0.1M644.4 430.9l0.1 8.9M651.8 430.1l-7.4 0.8M646.4 142.7l-2 11.4M658.7 152.8l-14.3 1.3M644.5 439.8l9.3-2.9M645.6 141.9l-0.8-11.2M656.3 129l-11.5 1.7M645.1 478.9l0.8 0.8M646 473l-0.9 5.9M648 362.8l-2.8-2.8M645.2 360l1-6.7M645.3 178.1l1 11.2M645.3 178.1l2.1-2.1M646.7 318.9l-1.4-1.4M645.5 310.7l-0.2 6.8M651.1 308.4l-5.6 2.3M645.6 141.9l0.8 0.8M649.2 489.9l-3.5-1.9M645.9 479.7l-0.2 8.3M645.7 325.6l1.1 1.5M645.7 325.6l1-6.7M645.9 346.1l0 6.8M645.9 346.1l1.1-1.2M654.4 480.6l-8.5-0.9M645.9 463.7l8.4 0.8M645.9 335.4l0.7 0.6M646.8 327.1l-0.9 8.3M645.9 352.9l0.3 0.4M654.2 471.2l-8.2 1.8M646.2 456.1l8.2-0.4M654.4 353.9l-8.2-0.6M647.3 202l-1-12.6M646.3 189.4l0-0.1M646.3 189.3l11.8-0.5M657.3 142.1l-10.9 0.6M646.5 226.3l3.3 11.8M648.3 224l-1.8 2.3M646.6 336l0.4 8.9M646.6 336l8.3-0.5M647.4 176l-0.8-10.5M646.6 165.5l0.5-0.8M653.8 446.8l-7.2-0.2M654.8 318.5l-8.1 0.4M646.8 327.1l8.2 0.5M647 213.5l0.4 0.4M647.2 202.2l-0.2 11.3M647 344.9l7.7 0.1M647 369.5l1.5 1.4M648 362.8l-1 6.7M647.1 164.7l10.8-0.5M647.3 202l-0.1 0.2M647.3 202l11.6-0.9M647.4 176l11.4 0.7M647.4 213.9l0.9 10.1M647.4 213.9l12-1.3M648 362.8l6.9-1.3M648.3 224l11.8 1.5M649.6 377.7l-1.1-6.8M656.6 369.2l-8.1 1.7M648.9 247.4l0-8.2M649.8 238.1l-0.9 1.1M648.9 247.4l1.2 1.1M650.8 540.9l-1.6-7.9M649.7 532.3l-0.5 0.7M649.7 497.9l-0.5-8M655 487.6l-5.8 2.3M649.2 523.9l0.5 8.4M649.7 523.3l-0.5 0.6M649.3 545.1l0.1-3M651.1 404l-1.8-1.7M650.2 394.8l-0.9 7.5M649.4 542.1l1.4-1.2M651.5 413.8l-2.1-1.9M649.4 411.9l1.7-7.9M649.5 517.2l0.2 6.1M651.3 515.3l-1.8 1.9M650.4 378.5l-0.8-0.8M651.8 430.1l-2.2-9.4M651.2 419.3l-1.6 1.4M649.7 523.3l9.1 1.1M650.4 498.4l-0.7-0.5M657.7 531.5l-8 0.8M659.3 236.5l-9.5 1.6M650.5 266.7l-0.5-7.6M650 259.1l0.7-0.8M650 283.7l0.8 0.8M650.5 275.3l-0.5 8.4M650.2 394.8l-0.1-0.2M650.2 386.8l-0.1 7.8M650.1 248.5l8.4 1.1M650.7 258.3l-0.6-9.8M658.4 395.9l-8.2-1.1M650.2 386.8l0.3-0.3M650.6 507.4l-0.2-9M657.2 497.7l-6.8 0.7M650.5 386.5l-0.1-8M650.4 378.5l7.8-1.7M651.3 515.3l-0.8-7.8M650.6 507.4l-0.1 0.1M650.5 275.3M650.6 266.7l-0.1 8.6M659 275.7l-8.5-0.4M650.5 386.5l7.3-0.2M650.6 266.7l-0.1 0M657.8 506.8l-7.2 0.6M659 267l-8.4-0.3M651 301.1l-0.4-0.3M651.1 292.3l-0.5 8.5M658.9 258l-8.2 0.3M650.7 291.9l0.4 0.4M650.8 284.5l-0.1 7.4M650.8 540.9l6.7 0.8M650.8 284.5l8.5-1.2M651.1 308.4l-0.1-7.3M659.5 300.9l-8.5 0.2M651.1 292.3l7.8 0.5M659.3 404.8l-8.2-0.8M654.2 310l-3.1-1.6M651.2 419.3l8.3 2.4M651.5 413.8l-0.3 5.5M658.7 515.6l-7.4-0.3M651.5 413.8l7.4-2.7M651.8 430.1l1.7 1M653.8 436.9l-0.3-5.8M653.5 431.1l4.7-2.3M654.5 455.6l-0.7-8.8M653.8 446.8l0.6-0.6M653.8 436.9l0.6 0.9M654.2 310l0.9 8.2M654.2 310l5.4-2.4M655.2 472.5l-1-1.3M654.2 471.2l0.8-6M655 465.2l-0.7-0.7M654.3 464.5l0.1-8.8M654.9 361.5l-0.5-7.6M654.4 353.9l2-1.9M654.4 455.7l0.1-0.1M654.4 480.6l0.4 0.4M655.2 472.5l-0.8 8.1M661.6 446.5l-7.2-0.3M654.4 437.8l0 8.4M654.4 437.8l8.6 0.5M662.7 455.6l-8.2 0M654.7 345l1.7 7M654.7 345l0.5-0.7M655 327.6l-0.2-9.1M654.8 318.5l0.3-0.3M654.8 481l0.2 6.6M663.5 479.7l-8.7 1.3M655.1 361.7l-0.2-0.2M654.9 335.5l0.7 0.6M655.1 327.7l-0.2 7.8M655 465.2l7.8-0.8M655 487.6l3.1 2.1M655 327.6l0.1 0.1M655.1 318.2l6.2-0.1M655.1 327.7l8.7-0.7M655.1 361.7l1.5 7.5M655.1 361.7l8.7-1.1M655.2 472.5l8.3 1.3M655.2 344.3l0.4-8.2M655.2 344.3l9.6-0.5M655.6 336.1l7.5-0.1M656.7 128.5l-0.9-10.7M656.6 116.7l-0.8 1.1M656.3 129l1 13.1M656.3 129l0.4-0.5M656.6 116.7l-0.3-2.5M656.4 352l7.2 0.7M656.6 369.2l0.9 0.7M656.6 116.7l5.8-0.4M668.3 129.1l-11.6-0.6M658.5 498.7l-1.3-1M658.1 489.7l-0.9 8M657.7 142.4l-0.4-0.3M657.5 543.7l0-2M658.7 540.8l-1.2 0.9M657.5 369.9l0.7 6.9M657.5 369.9l6.8-2.1M659.1 533.2l-1.4-1.7M658.8 524.4l-1.1 7.1M658.7 152.8l-1-10.4M669 140.4l-11.3 2M659.4 387.8l-1.6-1.5M657.8 386.3l2.2-8.1M657.8 506.8l0.9 8.8M657.8 506.8l1.9-1.6M659.1 165.5l-1.2-1.3M659 153.1l-1.1 11.1M663 488.7l-4.9 1M658.1 188.8l1 1M659.1 177.1l-1 11.7M658.2 376.8l1.8 1.4M658.2 428.8l4.1 2.1M659.5 421.7l-1.3 7.1M658.4 395.9l1 8.8M660.4 394l-2 1.9M659.7 505.2l-1.2-6.5M666.4 496.7l-7.9 2M658.9 258l-0.4-8.4M661.5 247.4l-3 2.2M658.7 515.6l0.5 0.4M666.3 541.8l-7.6-1M658.7 540.8l0.4-7.6M659 153.1l-0.3-0.3M660 523.4l-1.2 1M658.8 176.7l0.3 0.4M658.8 176.7l0.3-11.2M658.9 411.1l0.9 1.1M659.3 404.8l-0.4 6.3M658.9 201.1l1.1 10.9M658.9 201.1l1.6-2.2M658.9 292.8l0.6 8.1M659.7 292.1l-0.8 0.7M659 258.1l-0.1-0.1M659 275.7l0.3 7.6M659.4 275.2l-0.4 0.5M659 153.1l11.5 0.6M659.4 275.2l-0.4-8.2M659 267l0.3-0.3M659 258.1l0.3 8.6M659 258.1l8.4-0.5M670.4 177l-11.3 0.1M660.5 198.9l-1.4-9.1M671 187.7l-11.9 2.1M659.1 165.5l11.9-0.5M667.4 532.1l-8.3 1.1M659.2 516l0.8 7.4M666.3 513.3l-7.1 2.7M659.4 404.7l-0.1 0.1M659.3 283.3l0.5 0.6M659.3 236.5l2.2 10.9M660.6 235.2l-1.3 1.3M667.5 266.4l-8.2 0.3M659.4 212.6l0.7 12.9M660 212l-0.6 0.6M660.4 394l-1-6.2M659.4 387.8l7.2-2.3M667.5 403.7l-8.1 1M659.4 275.2l8.5-0.2M659.6 301l-0.1-0.1M659.5 421.7l1.2-1M659.6 307.6l3.3 2.4M659.6 307.6l0-6.6M668.2 300.5l-8.6 0.5M659.7 505.2l6.5 1.7M668 292.6l-8.3-0.5M659.8 283.9l-0.1 8.2M668.8 412.8l-9-0.6M659.8 412.2l0.9 8.5M667.8 283.7l-8 0.2M665.3 378.1l-5.3 0.1M660 212l9.1 0.6M660 523.4l6.8 1.2M660.6 226l-0.5-0.5M667.7 394.5l-7.3-0.5M660.5 198.9l10 1.6M660.6 226l0 9.2M660.6 226l9.8-2.8M660.6 235.2l10.2 1.8M666.9 421l-6.2-0.3M661.4 318.1l-0.1 0M662.9 310l-1.6 8.1M663.9 326.9l-2.5-8.8M671.5 317.4l-10.1 0.7M667 248.8l-5.5-1.4M663 447.7l-1.4-1.2M661.6 446.5l1.6-8M662.3 430.9l0.7 7.4M668.6 429l-6.3 1.9M663.1 455.9l-0.4-0.3M662.7 455.6l0.3-7.9M662.8 464.4l1.9 7.7M662.8 464.4l0.6-0.7M662.9 310l5.4-1M670.8 446.7l-7.8 1M663.2 438.5l-0.2-0.2M666.3 490.6l-3.3-1.9M663.8 480.1l-0.8 8.6M663.1 455.9l0.3 7.8M663.1 455.9l9.3-0.8M663.1 336l1.7 7.8M664.3 334.6l-1.2 1.4M670 438.5l-6.8 0M663.4 463.7l8.2-0.3M663.5 479.7l0-5.9M663.5 473.8l1.2-1.7M663.5 479.7l0.3 0.4M663.8 360.6l-0.2-7.9M663.6 352.7l0.4-0.3M663.8 360.6l0.9 1.1M663.8 480.1l8.2 1.2M663.8 327l0.5 7.6M663.9 326.9l-0.1 0.1M663.9 326.9l7.4-1.9M664 352.4l8 0.4M664 352.4l0.8-8.6M664.3 367.8l2.9 3.1M664.7 361.7l-0.4 6.1M672.4 334.9l-8.1-0.3M664.7 472.1l6.3-0.2M664.7 361.7l8.4-0.5M664.8 343.8M672.7 343.2l-7.9 0.6M665.5 378.4l-0.2-0.3M665.3 378.1l1.9-7.2M674.9 379l-9.4-0.6M666.6 385.5l-1.1-7.1M666.3 507l-0.1-0.1M668.5 498.8l-2.3 8.1M666.3 513.3l0-6.3M675.7 507l-9.4 0M666.4 496.7l-0.1-6.1M671.5 488.4l-5.2 2.2M666.3 541.8l1.2 1.1M666.3 541.8l1.1-9.7M666.3 513.3l0.5 0.4M668.5 498.8l-2.1-2.1M668.6 387.4l-2-1.9M667.4 532.1l-0.6-7.5M667.8 523.8l-1 0.8M674.9 514.8l-8.1-1.1M666.8 513.7l1 10.1M668.6 429l-1.7-8M669.2 419l-2.3 2M667 248.8l0.4 8.8M667 248.8l4-2.4M674.2 369.6l-7 1.3M667.4 532.1M667.5 257.7l-0.1-0.1M675.6 533.5l-8.2-1.4M668.1 266.9l-0.6-0.5M667.5 266.4l0-8.7M667.5 403.7l1.3 1M667.5 403.7l0.9-8.5M667.5 542.9l0.1 1.1M676.7 539.4l-9.2 3.5M667.5 257.7l8.1-0.1M668.4 395.2l-0.7-0.7M667.7 394.5l0.9-7.1M667.8 283.7l0.6 8.4M667.8 283.7l0.1-0.2M675.1 522.7l-7.3 1.1M667.9 275l0.1 0.1M667.9 275l0.2-8.1M668 275.1l-0.1 8.4M676.5 283.4l-8.6 0.1M668 275.1l8.4 0.2M668 292.6l0.2 7.9M668.4 292.1l-0.4 0.5M668.1 266.9l7.9-0.5M668.2 300.5l0.4 0.4M669.3 130.3l-1-1.2M668.3 129.1l1.9-9.4M670.9 311l-2.6-2M668.6 300.9l-0.3 8.1M668.4 395.2l7.1 0M668.4 292.1l8.5-0.5M675.3 498.5l-6.8 0.3M670.3 430l-1.7-1M668.6 300.9l8.5-0.2M674.3 385.7l-5.7 1.7M668.8 404.7l0 8.1M675 404.5l-6.2 0.2M668.8 412.8l0 0.1M669.2 419l-0.4-6.1M677.7 411.7l-8.9 1.2M669 140.4l0.6 0.5M669.3 130.3l-0.3 10.1M669.1 212.6l3.3 6.6M669.1 212.6l1.7-2.8M669.2 419l7.5 1.6M669.3 130.3l12.6-0.3M669.6 140.9l2.2 11.6M669.6 140.9l12.6-1M670.1 438.6l-0.1-0.1M670 438.5l0.3-8.5M670.1 438.6l0.7 8M670.1 438.6l10-0.8M676.7 428.5l-6.4 1.5M670.4 223.2l3.3 6.9M672.4 219.2l-2 4M670.4 177l0.6 10.7M672.3 175.2l-1.9 1.8M670.8 209.8l-0.3-9.3M670.5 200.5l0.6-0.4M671 165l-0.4-10.6M672.4 455.1l-1.6-8.4M670.8 446.7l0-0.1M670.8 237l1.1 1.7M673.7 230.1l-2.9 6.9M679.1 445.4l-8.3 1.2M670.8 209.8l10.4-1.4M671.5 317.4l-0.6-6.4M677.9 307.8l-7 3.2M671.8 152.5l-0.9 0.8M671 165l0.3 0.3M673.5 474.2l-2.5-2.3M672.5 464.4l-1.5 7.5M671 187.7l1.7 1.4M671 246.4l5.1 3.1M671.9 238.7l-0.9 7.7M671.1 200.1l9.4 0.5M672.7 189.1l-1.6 11M672.3 175.2l-1-9.9M682.4 163.6l-11.1 1.7M671.3 325l2.3 2M671.6 317.5l-0.3 7.5M671.6 317.5l-0.1-0.1M673.8 489.8l-2.3-1.4M672 481.3l-0.5 7.1M671.6 317.5l8.6 0M671.6 463.4l0.9 1M671.6 463.4l0.9-8.2M672.2 152.5l-0.4 0M671.9 238.7l10.8 0.8M672.8 480.6l-0.8 0.7M672 352.8l1.7 7.7M672.9 351.8l-0.9 1M672.3 175.2l10.1 1.8M672.4 455.1l0.1 0.1M672.8 343.1l-0.4-8.2M672.4 334.9l0.1-0.2M672.4 219.2l9-0.3M679.7 455l-7.2 0.2M672.5 464.4l8 0.8M672.5 334.7l8.7 0.8M672.5 334.7l1.1-7.7M672.7 343.2l0.2 8.6M672.7 343.2l0.1-0.1M681.7 188.8l-9 0.3M681 482.3l-8.2-1.7M672.8 480.6l0.7-6.4M680.9 343.3l-8.1-0.2M680.2 351.4l-7.3 0.4M674.2 369.6l-1.1-8.4M673.1 361.2l0.6-0.7M673.5 474.2l7.1-2.2M673.6 327l6.5-0.6M680.4 359.6l-6.7 0.9M683.7 229.4l-10 0.7M675.9 498l-2.1-8.2M673.8 489.8l8.3-2.5M674.2 369.6l1.1 0.8M674.3 385.7l2 1.7M674.3 385.7l0.6-6.7M674.9 514.8l1 1.4M675.7 507l-0.8 7.8M674.9 379l1.7-1.6M675 404.5l2.7 7.2M675 404.5l1.2-1.1M676.2 523.8l-1.1-1.1M675.9 516.2l-0.8 6.5M676.6 377.4l-1.3-7M675.3 370.4l7.6-2.7M675.3 498.5l0.6 8.4M675.3 498.5l0.6-0.5M675.5 395.2l0.7 8.2M675.5 395.2l1.4-1M676.7 539.4l-1.1-5.9M675.6 533.5l1.7-2.6M675.6 257.6l0.4 0.4M676.1 249.5l-0.5 8.1M675.7 507l0.2-0.1M683.2 507.5l-7.3-0.6M683.5 514.7l-7.6 1.5M675.9 498l7.7-1.2M676.3 266.1l-0.3-8.1M684.9 257.5l-8.9 0.5M676.5 275.2l-0.5-8.8M676 266.4l0.3-0.3M676.1 249.5l7.1-2.1M676.2 403.4l7.8-0.7M676.2 523.8l1.1 7.1M684.6 522.8l-8.4 1M676.3 387.4l0.6 6.8M676.3 387.4l7.9-1.9M684.3 266.4l-8-0.3M676.4 275.3l0.1 8.1M676.4 275.3l0.1-0.1M676.5 275.2l8.5-0.5M676.9 283.8l-0.4-0.4M676.6 377.4l7.2 1.6M676.7 539.4l1.3 1M676.7 428.5l2.3 1.8M676.7 428.5l0.2-7.6M676.7 420.6l0.2 0.3M678.7 412.4l-2 8.2M676.9 394.2l7.5 1.1M677.6 292.3l-0.7-0.7M676.9 283.8l0 7.8M685.5 283l-8.6 0.8M686.7 420.9l-9.8 0M677.9 307.8l-0.8-7.1M677.2 300.6l-0.1 0.1M677.6 292.3l-0.4 8.3M677.2 300.6l9.5-0.3M685.6 530.9l-8.3 0M677.6 292.3l8-0.4M677.7 411.7l1 0.7M680.3 309.4l-2.4-1.6M678 540.4l-0.1 5.2M678 540.4l5.6-0.4M678.7 412.4l5.7-1.2M679 430.3l1.6 6.8M679 430.3l7.7-3.5M679.7 455l-0.6-9.6M679.1 445.4l0.3-0.3M688.7 447.5l-9.3-2.4M679.4 445.1l0.7-7.3M680.4 455.5l-0.7-0.5M680.1 437.8l0.5-0.7M680.1 326.4l1.4 8.7M681.4 325.2l-1.3 1.2M680.4 317.6l-0.2-0.1M680.2 317.5l0.1-8.1M680.2 351.4l1.3 1.4M680.9 343.3l-0.7 8.1M680.3 309.4l6.4-1.3M681.4 325.2l-1-7.6M688.3 316.3l-7.9 1.3M682.6 361.4l-2.2-1.8M681.5 352.8l-1.1 6.8M681 464.5l-0.6-9M680.4 455.5l7.1-1.6M680.5 465.2l0.7 6.2M681 464.5l-0.5 0.7M681.2 208.4l-0.7-7.8M682.1 199l-1.6 1.6M688.4 437.6l-7.8-0.5M681.5 481.5l-0.9-9.5M681.2 471.4l-0.6 0.6M680.9 343.3l0.8-0.6M681 482.3l1.1 5M681 482.3l0.5-0.8M681 464.5l9.2-1.3M687.9 472.9l-6.7-1.5M681.2 208.4l0.9 1M681.7 342.7l-0.5-7.2M681.5 335.1l-0.3 0.4M681.4 218.9l0.9 0.8M682.1 209.4l-0.7 9.5M688.6 325.8l-7.2-0.6M688.9 478.8l-7.4 2.7M688.5 333.5l-7 1.6M689.1 352.2l-7.6 0.6M689.3 343.9l-7.6-1.2M681.7 188.8l0.4 10.2M683.6 187.1l-1.9 1.7M682.2 139.9l-0.3-9.9M681.9 130l1.1-1.5M683 128.5l-1.1-4.6M691.3 208.5l-9.2 0.9M682.1 487.3l1.9 1.8M682.1 199l9.7 1.6M682.2 139.9l0.2 0.3M684.2 228.8l-1.9-9.1M691.9 217.2l-9.6 2.5M682.4 140.2l2.8 0M682.4 140.2l0 2.6M682.4 163.6l0.7 0.8M682.4 163.6l0.6-10.8M682.9 177.4l-0.5-0.4M682.4 177l0.7-12.6M682.9 367.7l-0.3-6.3M689.6 359.4l-7 2M682.7 239.5l0.5 7.9M683.7 238.3l-1 1.2M683.6 187.1l-0.7-9.7M682.9 177.4l9.2-2.5M685.3 369.4l-2.4-1.7M683 128.5l10.3-0.2M683.1 164.4l10.2 1.2M684.2 248.2l-1-0.8M683.2 507.5l0.9 6.4M683.2 507.5l2.1-2.4M683.5 514.7l1.1 8.1M684.1 513.9l-0.6 0.8M683.6 187.1l8.5 1.8M683.6 540l2.1 1.6M686.3 532l-2.7 8M683.6 496.8M684 489.1l-0.4 7.7M685.3 505.1l-1.7-8.3M691.9 496.8l-8.3 0M683.7 238.3l9.5 0.8M683.7 229.4l0 8.9M683.7 229.4l0.5-0.6M683.8 379l0.5 6.2M685.7 377.3l-1.9 1.7M685.4 404.7l-1.4-2M684.4 395.3l-0.4 7.4M684 489.1l6.5-1.9M692.1 514.7l-8-0.8M684.2 228.8l8.2-0.2M685.4 394.5l-1.2-9M684.3 385.2l-0.1 0.3M685 257.3l-0.8-9.1M693.4 247.7l-9.2 0.5M685 274.6l-0.7-8.2M684.3 266.4l0.5-0.5M693.7 385.9l-9.4-0.7M684.4 411.2l0.5 0.6M685.4 404.7l-1 6.5M685.4 394.5l-1 0.8M691.2 152.6l-6.8-0.2M686.8 524.3l-2.2-1.5M684.8 265.9l9.1 0.1M684.8 265.9l0.1-8.4M685 257.3l-0.1 0.2M687.5 419.9l-2.6-8.1M694.3 411.3l-9.4 0.5M685.5 283l-0.5-8.3M685 274.7l0-0.1M685 274.6l8.6-0.6M693.2 257.4l-8.2-0.1M685.7 377.3l-0.4-7.9M685.3 369.4l6-1.9M685.3 505.1l8.4 1.1M685.4 394.5l8-0.2M685.4 404.7l7.6-0.9M685.5 283l0.2 0.2M686.7 300.3l-1.1-8.4M685.6 291.9l0.2-0.3M686.3 532l-0.7-1.1M685.6 530.9l1.2-6.6M685.8 544.4l-0.1-2.8M693.7 540.4l-8 1.2M692 377.6l-6.3-0.3M685.7 283.2l0.1 8.4M685.7 283.2l8.2-0.2M694.7 291.3l-8.9 0.3M686.3 532l6.8 1.9M686.7 426.8l0-5.9M687.5 419.9l-0.8 1M686.7 426.8l2.8 2.4M686.7 308.1l0-7.8M686.7 300.3M694.4 299.5l-7.7 0.8M687.7 308.9l-1-0.8M686.8 524.3l6.1-2M694 419.2l-6.5 0.7M690.3 463l-2.8-9.1M688.5 452.7l-1 1.2M688.3 316.3l-0.6-7.4M695.6 308.1l-7.9 0.8M688.9 478.8l-1-5.9M691.1 470.4l-3.2 2.5M688.3 316.3l0.8 0.8M689.3 446.6l-0.9-9M689.3 436.8l-0.9 0.8M690.9 335.8l-2.4-2.3M688.6 325.8l-0.1 7.7M697.3 454.6l-8.8-1.9M688.5 452.7l0.2-5.2M688.6 325.8l0.7-0.4M689.3 446.6l-0.6 0.9M691.8 481l-2.9-2.2M689.6 359.4l-0.5-7.2M690 351.1l-0.9 1.1M689.1 317.1l0.2 8.3M689.1 317.1l7.1-1.1M689.3 325.4l7.3 0.3M689.7 344.3l-0.4-0.4M689.3 343.9l1.6-8.1M697.8 445.5l-8.5 1.1M689.3 436.8l6.4 0.4M689.3 436.8l0.2-7.6M689.5 429.2l6-1.8M690.3 359.9l-0.7-0.5M689.7 344.3l0.3 6.8M689.7 344.3l8.7-0.7M690 351.1l8.5 1.7M691.1 470.4l-0.9-7.2M690.2 463.2l0.1-0.2M691.3 367.5l-1-7.6M690.3 359.9l8-0.6M690.3 463l6.8-1.7M693.5 489.6l-3-2.4M691.8 481l-1.3 6.2M697.9 334.2l-7 1.6M691.1 470.4l6.1 1.6M694.9 159.3l-3.7-6.7M691.2 152.6l1.6-1.7M691.3 208.5l0.6 8.7M691.3 208.5l0.9-1.2M693.9 368.8l-2.6-1.3M697.8 479.1l-6 1.9M692.2 207.3l-0.4-6.7M691.8 200.6l1.3-1.5M693.3 218.2l-1.4-1M693.7 498.4l-1.8-1.6M691.9 496.8l1.6-7.2M692 377.6l1 0.7M692 377.6l1.9-8.8M692.1 188.9l1 10.2M692.1 188.9l2.9-1.8M692.1 514.7l1 7.3M692.1 514.7l0.8-1.1M696.7 179.9l-4.6-5M692.1 174.9l2.2-7.4M692.2 207.3l10.5 1.9M692.4 228.6l2.4 8.9M692.4 228.6l1.7-1.6M695.3 531.3l-2.4-9M693.1 522l-0.2 0.3M692.9 513.6l9.1 0.9M692.9 513.6l0.8-7.4M693 378.3l1.3 6.7M693 378.3l8.9-2.3M694.3 411.3l-1.3-7.5M693 403.8l1.5-1.6M693.1 533.9l0.8 6.2M693.1 533.9l2.2-2.6M702 198.7l-8.9 0.4M693.1 522l9.1-0.3M693.2 257.4l0.9 8.3M693.2 257.4M693.2 239.1l0.3 8.6M694.8 237.5l-1.6 1.6M693.2 257.4l0.2-9.7M693.2 257.4l8.9-0.8M694.3 167.5l-1-1.9M694.9 159.3l-1.6 6.3M693.7 133.2l-0.4-4.9M693.3 128.3l0.6-0.5M693.3 218.2l0.8 8.8M693.3 218.2l9-1.7M694.5 402.2l-1.1-7.9M693.9 393.7l-0.5 0.6M693.5 247.7l-0.1 0M693.5 247.7l7.6 0.4M700.3 489.4l-6.8 0.2M694.2 274.5l-0.6-0.5M693.6 274l0.3-8M694 505.9l-0.3-7.5M701.4 495.9l-7.7 2.5M693.7 540.4l0.1 6.8M693.7 540.4l0.2-0.3M693.7 506.2l0.3-0.3M693.7 385.9l0.2 7.8M694.3 385l-0.6 0.9M693.8 121.4l0.1 6.4M693.9 266l0.2-0.3M698.8 368l-4.9 0.8M693.9 283l1 8.2M694.1 282.7l-0.2 0.3M700.8 128l-6.9-0.2M701.2 393.5l-7.3 0.2M693.9 540.1l7.4 0.3M694 505.9l7.1-0.1M695 420l-1-0.8M695 411.9l-1 7.3M702 265.4l-7.9 0.3M694.1 282.7l0.1-8.2M694.1 282.7l9.1-0.2M703.1 227.3l-9-0.3M694.2 274.5l8.5-0.1M694.3 411.3l0.7 0.6M694.3 385l8-0.8M704.7 168.9l-10.4-1.4M695.4 300.5l-1-1M694.7 291.3l-0.3 8.2M702.6 403.9l-8.1-1.7M694.9 291.2l-0.2 0.1M694.8 237.5l7.5-0.1M694.9 291.2l7.9-0.1M694.9 159.3l9.7-1.7M702.4 410.6l-7.4 1.3M695 420l0.5 7.4M695 420l8.8-0.4M695 187.1l7 2.9M696.7 179.9l-1.7 7.2M695.3 531.3l7.6-0.4M695.6 308.1l-0.2-7.6M703.6 299.5l-8.2 1M697.6 428.9l-2.1-1.5M696.4 308.9l-0.8-0.8M697.2 438.3l-1.5-1.1M695.7 437.2l1.9-8.3M696.2 316l1.6 1.7M696.2 316l0.2-7.1M696.4 308.9l7.9-0.6M698.2 333.9l-1.6-8.2M696.6 325.7l1.4-1.5M705.6 177.4l-8.9 2.5M699.1 462.8l-2-1.5M697.1 461.3l0.2-6.7M697.8 479l-0.6-7M697.2 472l0.7-0.6M697.2 438.3l1.6 6.3M697.2 438.3l7.1-3.1M697.4 454.5l-0.1 0.1M697.4 454.5l0.4-9M705.6 453.6l-8.2 0.9M697.6 428.9l5-0.4M697.8 317.7l0.2 6.5M705 315.6l-7.2 2.1M697.8 479.1l2.5 10.3M697.8 479.1l0-0.1M706.6 478.9l-8.8 0.1M698.8 444.6l-1 0.9M699.1 462.8l-1.2 8.6M707.1 470.9l-9.2 0.5M697.9 334.2l1.2 8.3M697.9 334.2l0.3-0.3M705.1 324.5l-7.1-0.3M698.2 333.9l7.9-0.5M698.3 359.3l1.1 1.3M698.3 359.3l0.2-6.5M698.4 343.6l2 7.4M699.1 342.5l-0.7 1.1M698.5 352.8l1.9-1.8M701 369.8l-2.2-1.8M698.8 368l0.6-7.4M704.6 445.5l-5.8-0.9M706.1 462.6l-7 0.2M699.1 342.5l7.8-0.7M699.2 549.1l3.7-1.5M708.3 359.7l-8.9 0.9M700.9 489.7l-0.6-0.3M700.4 351l6.7 0.2M701.4 495.9l-0.5-6.2M706.8 487.4l-5.9 2.3M701 369.8l0.9 6.2M701 369.8l7.4-2.6M701.1 505.8l1.2 8.2M701.2 505.8l-0.1 0M702.3 256.3l-1.2-8.2M703.4 246l-2.3 2.1M701.2 505.8l7.5 0.4M702.6 497.3l-1.4 8.5M703.1 403.2l-1.9-9.7M701.2 393.5l0.4-0.3M702.9 547.6l-1.6-7.2M701.3 540.4l1-0.9M701.4 495.9l1.2 1.4M701.6 393.2l9 1.1M703.2 385.1l-1.6 8.1M702.2 376.4l-0.3-0.4M702 190l0.6 8M702 190l6-3.4M702 514.5l0.2 7.2M702 514.5l0.3-0.5M702 198.7l1.8 9.3M702 198.7l0.6-0.7M702 265.4l1.3 8.4M702 265.4l0.7-0.7M702.1 256.6l0.6 8.1M702.1 256.6l0.2-0.3M710.7 376.6l-8.5-0.2M702.3 384.2l-0.1-7.8M702.2 521.7l0.5 0.4M702.3 514l8-1.3M702.3 237.4l1.1 8.6M702.3 237.4l0.5-0.6M710.9 540l-8.6-0.5M702.9 531l-0.6 8.5M703.2 385.1l-0.9-0.9M702.3 216.5l1.5 1.8M702.7 209.2l-0.4 7.3M709.9 255.7l-7.6 0.6M702.4 410.6l1.5 8.9M703.1 409.6l-0.7 1M702.6 428.5l1.4 1.3M702.6 428.5l1.2-8.9M702.6 403.9l0.5 5.7M702.6 403.9l0.5-0.7M708.4 497.7l-5.8-0.4M713.1 197.1l-10.5 0.9M702.9 530.9l-0.2-8.8M710.3 521.2l-7.6 0.9M702.7 209.2l1.1-1.2M703.3 282.4l-0.6-8M702.7 274.4l0.6-0.6M702.7 264.7l7.8-0.2M713.9 237l-11.1-0.2M703.1 227.3l-0.3 9.5M702.9 291.2l-0.1-0.1M702.8 291.1l0.4-8.6M702.9 531l0-0.1M702.9 291.2l1 7.9M702.9 291.2l9.2-0.8M702.9 547.6l2.4 1.2M702.9 531l8.5 0.8M703.8 226.6l-0.7 0.7M703.1 409.6l9.1 1.1M703.1 403.2l6.5-2.4M703.3 282.4l-0.1 0.1M711.4 385.6l-8.2-0.5M711.7 282.6l-8.4-0.2M711.3 273.3l-8 0.5M710.6 247.3l-7.2-1.3M704.3 308.3l-0.7-8.8M703.9 299.1l-0.3 0.4M712.6 227.8l-8.8-1.2M703.8 226.6l0-8.3M703.8 419.6l0.1-0.1M711.7 207.4l-7.9 0.6M713.8 217.3l-10 1M703.9 419.5l6.3 0.3M712.7 299l-8.8 0.1M704.3 435.2l-0.3-5.4M704 429.8l9.2-1.9M704.6 157.6l-0.6-2.8M704.3 435.2l3 2.7M704.5 308.4l-0.2-0.1M705 315.6l-0.5-7.2M712.3 307.6l-7.8 0.8M704.6 157.6l0.5 0.4M706.3 452.7l-1.7-7.2M704.6 445.5l1.3-1.1M706.2 176.5l-1.5-7.6M704.7 168.9l0.1-0.2M705.1 158l-0.3 10.7M704.8 168.7l10.7-3M705 315.6l1.9 1.6M705.1 158l8.8-0.7M705.1 324.5l1 1M706.9 317.2l-1.8 7.3M705.5 554.1l-0.2-5.3M710.4 546.9l-5.1 1.9M705.7 124.8l-0.3-2.1M706.1 462.6l-0.5-9M706.3 452.7l-0.7 0.9M705.6 177.4l2.4 9.2M706.2 176.5l-0.6 0.9M714.7 445.5l-8.8-1.1M705.9 444.4l1.4-6.5M706.1 325.5l0 7.9M714.8 324.7l-8.7 0.8M706.1 333.4l0.9 0.7M706.5 462.9l-0.4-0.3M706.2 176.5l9-0.4M713.2 452.8l-6.9-0.1M707.2 470.8l-0.7-7.9M714.7 461.3l-8.2 1.6M706.7 479l-0.1-0.1M707.1 470.9l-0.5 8M716.3 479.5l-9.6-0.5M706.7 479l0.1 8.4M708.8 488.3l-2-0.9M713.5 316.9l-6.6 0.3M706.9 341.8l0.8 0.9M706.9 341.8l0.1-7.7M714.4 333.3l-7.4 0.8M708.1 352l-1-0.8M707.7 342.7l-0.6 8.5M707.2 470.8l-0.1 0.1M715.3 471.2l-8.1-0.4M707.3 437.9l5.7-1.5M707.7 342.7l7.2-0.3M708 186.6l3.2 1.5M708.3 359.7l-0.2-7.7M708.1 352l7.8-1.5M708.3 359.7l0.3 0.3M708.4 497.7l1.7 6.7M708.4 497.7l2.5-2.2M710.4 368.8l-2-1.6M708.6 360l-0.2 7.2M708.6 360l8.5 0.3M708.7 506.2l1.6 6.5M710.1 504.4l-1.4 1.8M710.9 495.5l-2.1-7.2M708.8 488.3l7.1-2.1M709.6 400.8l1.7 1.5M709.6 400.8l1-6.5M711.2 257l-1.3-1.3M709.9 255.7l0.7-8.4M710.1 504.4l7.8-0.9M710.2 419.8l3 8.1M710.4 419.6l-0.2 0.2M710.3 521.2l1.5 10.2M710.8 520.7l-0.5 0.5M710.4 512.8l-0.1-0.1M712.2 410.7l-1.8 8.9M710.4 419.6l9.7-1.5M711.7 375.2l-1.3-6.4M718.3 366.2l-7.9 2.6M714 549.2l-3.6-2.3M710.4 546.9l0.5-6.9M710.4 512.8l0.4 7.9M717.9 511.6l-7.5 1.2M711.7 265.8l-1.2-1.3M711.2 257l-0.7 7.5M713.7 245.3l-3.1 2M711.1 393.8l-0.5 0.5M712.1 384.9l-1.4-8.3M710.7 376.6l1-1.4M718.7 521l-7.9-0.3M712.2 538.5l-1.3 1.5M710.9 495.5l6.5 0.6M714.7 556.2l-3.8 0.6M711.1 393.8l6.9 1.3M711.4 385.6l-0.3 8.2M713.1 197.1l-1.9-9M717.1 184.9l-5.9 3.2M719.2 256.4l-8 0.6M711.3 273.3l0.7 8.8M711.3 273.3l0.3-0.3M713 410.1l-1.7-7.8M711.3 402.3l9-1.2M712.2 538.5l-0.8-6.7M711.4 531.8l0.4-0.4M712.1 384.9l-0.7 0.7M711.6 273l9.1 0.7M711.6 273l0.1-7.2M711.7 282.6l1 7M712 282.1l-0.3 0.5M711.7 207.4l2.1 9.9M712 207l-0.3 0.4M711.7 375.2l7-0.6M711.7 265.8l8.6-1.5M719.2 529.3l-7.4 2.1M720.8 280.8l-8.8 1.3M722.6 208l-10.6-1M713.5 197.4l-1.5 9.6M713.1 298.6l-1-8.2M712.1 290.4l0.6-0.8M712.1 384.9l7-0.3M719.4 540.2l-7.2-1.7M712.2 410.7l0.8-0.6M713.9 309.1l-1.6-1.5M712.3 307.6l0.4-8.6M712.6 227.8l1.3 9.2M714.3 226.1l-1.7 1.7M712.7 289.6l8.5-0.1M713.1 298.6l-0.4 0.4M713 410.1l6.9 0.2M715.7 444.7l-2.7-8.3M713 436.4l0.6-0.8M713.5 197.4l-0.4-0.3M713.1 298.6l7.5 0.2M713.2 427.9l0.6 0.5M715.4 455.2l-2.2-2.4M713.2 452.8l1.5-7.3M713.5 197.4l7.7-0.3M713.5 316.9l1.3 7.8M713.5 316.9l0.3-0.3M713.9 157.3l-0.4-9.4M722.4 436.9l-8.8-1.3M713.6 435.6l0.2-7.2M718.6 248.7l-4.9-3.4M713.7 245.3l1.2-7.3M713.8 316.6l0.1-7.5M713.8 316.6l9.3-0.3M714.4 217.7l-0.6-0.4M713.8 428.4l6.1-1.5M714.9 238l-1-1M713.9 157.3l1.7 1.3M713.9 309.1l7.4-1.5M714.9 556l-0.9-6.8M720.2 545.9l-6.2 3.3M724.1 227.2l-9.8-1.1M714.3 226.1l0.1-8.4M722.5 216l-8.1 1.7M714.4 333.3l0.9 0.8M714.4 333.3l0.8-8.2M714.7 556.9l0-0.7M714.7 461.3l0.8 0.8M714.7 461.3l0.7-6.1M714.7 556.2l0.2-0.2M714.7 445.5l1-0.8M715.2 325.1l-0.4-0.4M723.8 236.5l-8.9 1.5M714.9 556l2.9 0.4M714.9 342.4l1.3 7.7M714.9 342.4l1.8-2.3M723.1 324.7l-7.9 0.4M715.2 176.1l2.4 2.1M715.2 176.1l1.6-8.8M715.3 334.1l1.4 6M715.3 334.1l8.5-1.9M715.3 471.2l1 8.3M715.3 471.2l2-2.2M715.4 455.2l7.7-2.1M717.3 469l-1.8-6.9M715.5 462.1l10.1-1.2M716.8 167.3l-1.3-1.6M715.5 165.7l0.1-7.1M715.6 158.6l9.1-2.2M715.7 444.7l6.9-0.1M724 148.1l-8.3-1.3M718.4 489.1l-2.5-2.9M716.6 479.8l-0.7 6.4M718.4 358.6l-2.5-8.1M715.9 350.5l0.3-0.4M716.2 350.1l8.1-1.5M716.3 479.5l0.3 0.3M724.4 478.9l-7.8 0.9M716.7 340.1l7.7 1.2M724.3 168.3l-7.5-1M717.1 184.9l5.2 3.1M717.6 178.2l-0.5 6.7M718.3 366.2l-1.2-5.9M718.4 358.6l-1.3 1.7M717.3 469l6.1 0.6M717.4 496.1l0.5 0.5M717.4 496.1l1-7M726.2 176.2l-8.6 2M718.5 502.8l-0.6-6.2M726.7 495.1l-8.8 1.5M719.8 513.4l-1.9-1.8M717.9 503.5l0 8.1M718.5 502.8l-0.6 0.7M718 395.1l2.3 6M719.6 393.2l-1.6 1.9M720 367.7l-1.7-1.5M725.9 487.8l-7.5 1.3M718.4 358.6l6.3-1M718.5 502.8l8.5 1.4M718.6 248.7l0.8 7.3M726.8 245.7l-8.2 3M718.7 521l0.8 1M719.8 513.4l-1.1 7.6M720.1 376.2l-1.4-1.6M720 367.7l-1.3 6.9M719.1 384.6l0.5 8.6M719.6 384.3l-0.5 0.3M719.2 256.4l1.3 7.6M719.4 256l-0.2 0.4M721.4 531l-2.2-1.7M719.5 522l-0.3 7.3M720.2 545.9l-0.8-5.7M720.7 538.8l-1.3 1.4M727.3 254.9l-7.9 1.1M729 521.5l-9.5 0.5M719.6 384.3l7.7 1.2M719.6 384.3l0.5-8.1M719.6 393.2l8.2-0.7M719.8 513.4l6.8-1.1M719.9 410.3l0.2 7.8M721 409.4l-1.1 0.9M719.9 426.9l1 0.5M720.4 418.5l-0.5 8.4M720 367.7l5.7-0.6M720.1 418.1l0.3 0.4M727.2 375.7l-7.1 0.5M720.2 545.9l3.2 1.9M720.8 273.5l-0.5-9.2M720.5 264l-0.2 0.3M720.7 401.5l-0.4-0.4M720.4 418.5l9.8 0.8M720.5 264l7.9 0.1M720.6 298.8l0.7 8.8M720.6 298.8l0.5-0.4M720.8 280.8l-0.1-7.1M720.7 273.7l0.1-0.2M721 409.4l-0.3-7.9M727.5 399l-6.8 2.5M728.8 539.5l-8.1-0.7M721.4 531l-0.7 7.8M721.9 281.9l-1.1-1.1M728.3 272.6l-7.5 0.9M723 436l-2.1-8.6M729.7 426.3l-8.8 1.1M721 409.4l8.4 0.9M721.1 298.4l8.6 0.8M721.1 298.4l0.8-8.1M723.2 207.2l-2-10.1M721.8 196.5l-0.6 0.6M721.2 289.5l0.7 0.8M721.9 281.9l-0.7 7.6M721.3 307.6l0.7 0.4M727.7 530.6l-6.3 0.4M731.6 196.7l-9.8-0.2M722.3 188l-0.5 8.5M721.9 281.9l7.3-0.3M728.9 290.3l-7 0M722 308l1.1 8.3M722 308l7.9-1.2M727.8 185.2l-5.5 2.8M723.1 444.1l-0.7-7.2M722.4 436.9l0.6-0.9M723.5 216.8l-1-0.8M722.5 216l0.1-8M723.2 207.2l-0.6 0.8M723.1 453.1l-0.5-8.5M722.6 444.6l0.5-0.5M722.9 555.6l0.5-0.4M730.7 433.9l-7.7 2.1M723.6 316.8l-0.5-0.5M723.1 324.7l0.7 7.5M723.6 324.2l-0.5 0.5M731.3 443.7l-8.2 0.4M723.4 453.3l-0.3-0.2M731.9 206.2l-8.7 1M723.4 555.2l0.7 0.2M723.4 547.8l0 7.4M723.4 547.8l5.6-2M725.6 460.9l-2.2-7.6M723.4 453.3l8.7-1.2M723.4 469.6l0.6 0.6M723.4 469.6l2.6-8.4M723.5 216.8l1.6 9.1M723.5 216.8l9.6-1.3M723.6 324.2l8.2 0.6M723.6 324.2l0-7.4M731.2 315l-7.6 1.8M726.8 245.7l-3-9.2M724.3 235.8l-0.5 0.7M725.5 333.7l-1.7-1.5M725.1 146.5l-1.2-6.5M724.8 478.5l-0.8-8.3M724 470.2l9.8-0.3M724 148.1l1.3 7.3M724 148.1l1.1-1.6M724.1 227.2l0.2 8.6M724.1 227.2l1-1.3M724.3 235.8l9.5-0.6M726 350.3l-1.7-1.7M724.3 348.6l0.1-7.2M724.3 168.3l1.9 7.9M724.3 168.3l3.1-3.7M724.4 341.4l0-0.1M725.5 333.7l-1.1 7.6M724.4 478.9l1.5 8.9M724.8 478.5l-0.4 0.4M733 341.4l-8.6 0M726.5 359.3l-1.8-1.7M724.7 357.6l1.3-7.3M727.4 164.6l-2.7-8.2M724.7 156.4l0.6-1M724.8 478.5l8.2-0.5M725.1 225.9l8.4-0.6M725.1 146.5l4.6-1M725.3 155.4l9.3-0.9M732 332.6l-6.5 1.1M726 461.2l-0.4-0.3M727.5 375.2l-1.8-8.1M726.3 366.6l-0.6 0.5M726.7 488.4l-0.8-0.6M726 461.2l6.3 0.3M726 350.3l7-0.3M726.2 176.2l1.2 0.8M734.9 367.1l-8.6-0.5M726.5 359.3l-0.2 7.3M734.5 358.4l-8 0.9M726.6 512.3l1.4 1.1M727 504.2l-0.4 8.1M728.9 497.5l-2.2-2.4M726.7 488.4l0 6.7M726.7 488.4l6.9-1.2M726.8 245.7l0.5 0.3M727.4 503.8l-0.4 0.4M727.2 375.7l1.3 8.8M727.2 375.7l0.3-0.5M727.3 246l0 8.9M727.3 246l8.1-0.4M727.3 254.9l0.4 0.4M727.8 392.5l-0.5-7M728.5 384.5l-1.2 1M727.4 164.6l8.2 1.2M736.1 505.6l-8.7-1.8M728.9 497.5l-1.5 6.3M727.4 177l0.4 8.2M736.2 174.7l-8.8 2.3M727.5 399l2.2 1.8M727.5 399l0.4-6.4M727.5 375.2l7.1-1.2M727.7 530.6l0.6 0.6M727.7 530.6l1.3-9.1M727.7 255.3l0.8 8.7M727.7 255.3l8.1-0.5M727.9 392.6l-0.1-0.1M732.4 188.1l-4.6-2.9M727.9 392.6l9 0.5M729.4 521.2l-1.4-7.8M737 511l-9 2.4M728.3 272.6l1.8 7.7M728.3 272.6l0.3-0.4M728.3 531.2l1.8 6.5M738.3 529.1l-10 2.1M728.6 272.2l-0.2-8.1M728.5 264l-0.1 0.1M728.5 384.5l7.3-1.1M728.5 264l8.3-0.8M728.6 272.2l8.4-0.4M733.1 136.1l-4.3-0.3M728.8 539.5l0.2 6.3M728.8 539.5l1.3-1.8M728.9 497.5l6.8-1.7M730.5 298.4l-1.6-8.1M730.8 288.3l-1.9 2M729 545.8l1.9 1.2M729 521.5l0.4-0.3M729.2 281.6l1.6 6.7M729.2 281.6l0.9-1.3M735.4 521.7l-6-0.5M729.4 410.3l0.2 0.2M729.4 410.3l0.3-9.5M729.6 410.5l0.6 8.8M729.6 410.5l7.5-1.4M730.7 433.9l-1-7.6M729.7 426.3M729.7 299.2l0.2 7.6M729.7 299.2l0.8-0.8M739.7 427.2l-10-0.9M730.3 419.5l-0.6 6.8M729.7 400.8l6.2-0.6M729.9 306.8l0.6 0.6M737.4 537.9l-7.3-0.2M730.1 280.3l7.5-1.1M730.3 419.5l-0.1-0.2M738.1 418.9l-7.8 0.6M738.1 297.4l-7.6 1M730.5 307.4l0.7 7.6M739.6 306.4l-9.1 1M731 434.1l-0.3-0.2M737.9 289l-7.1-0.7M730.9 547l0 6.6M737.6 546.4l-6.7 0.6M738.4 434.3l-7.4-0.2M731.3 443.7l-0.3-9.6M732.2 315.8l-1-0.8M731.7 443.9l-0.4-0.2M731.6 196.7M732.4 188.1l-0.8 8.6M740.6 197.1l-9-0.4M731.6 196.7l0.3 9.5M732.1 452.1l-0.4-8.2M731.7 443.9l6.7-0.7M732 332.6l-0.2-7.8M733.4 323.4l-1.6 1.4M732.9 207l-1-0.8M732.6 333.1l-0.6-0.5M732.5 452.5l-0.4-0.4M732.2 315.8l1.2 7.6M732.2 315.8l7.9-1.9M733.8 469.9l-1.5-8.4M732.3 461.5l1-0.9M732.4 188.1l5.9-2.3M733.3 460.6l-0.8-8.1M741.2 451.4l-8.7 1.1M733.3 341l-0.7-7.9M741.3 332.5l-8.7 0.6M734.1 214.4l-1.2-7.4M732.9 207l9.5-2.5M733 478l1.7 7.8M733 478l0.6-0.8M733 341.4l0.9 7.7M733.3 341l-0.3 0.4M734.5 358.4l-1.5-8.4M733 350l0.9-0.9M733.2 139.7l-0.1-3.6M733.4 135.8l-0.3 0.3M733.1 215.5l0.4 9.8M733.1 215.5l1-1.1M733.3 341l9-1M741.5 459.6l-8.2 1M733.4 135.8l3.2 0.3M733.7 133.8l-0.3 2M740.7 324.1l-7.3-0.7M733.5 225.3l1 0.7M743.6 478l-10-0.8M733.6 477.2l0.6-6.9M735.7 495.8l-2.1-8.6M734.7 485.8l-1.1 1.4M733.8 469.9l0.4 0.4M733.8 235.2l2.7 2.3M734.5 226l-0.7 9.2M733.9 349.1l7.5-0.4M734.1 214.4l9.3 1.4M742 469.2l-7.8 1.1M734.5 226l8.9-0.7M734.9 358.7l-0.4-0.3M734.6 154.5l2.6 2.1M734.6 154.5l0.2-7.9M736.7 376.5l-2.1-2.5M735.2 367.4l-0.6 6.6M743 485.9l-8.3-0.1M734.9 358.7l0 8.4M734.9 358.7l8-1.2M734.9 367.1l0.3 0.3M744.1 367l-8.9 0.4M735.4 245.6l1.2 7.9M735.4 245.6M738.3 529.1l-2.9-7.4M735.4 521.7l1.7-1.9M735.4 245.6l9.3 0.3M735.4 245.6l1.1-8.1M735.6 165.8l0.3 0.4M735.6 165.8l1.6-9.2M735.9 496l-0.2-0.2M735.8 383.4l0.5 0.5M735.8 383.4l0.9-6.9M736.8 263.2l-1-8.4M736.6 253.5l-0.8 1.3M735.9 166.2l0.3 8.5M735.9 166.2l10.3-0.7M735.9 400.2l0.9 0.9M736.9 393.1l-1 7.1M738 502.8l-2.1-6.8M743.2 493.4l-7.3 2.6M736.1 505.6l0.9 5.4M738 502.8l-1.9 2.8M736.2 174.7l1.7 1.3M736.3 383.9l8.4 0.1M736.3 383.9l1.3 8.6M736.5 237.5l6.6-1.9M736.6 253.5l8.2 0.4M736.7 376.5l8-1.4M736.8 263.2l0.3 0.3M737.1 409.1l-0.3-8M746.6 400.6l-9.8 0.5M736.9 393.1l0.7-0.6M737 271.8l0.6 7.4M737 271.8l0.3-0.5M737 511l1.6 1.4M737.1 519.8l8.7 1.5M737.1 519.8l1.5-7.4M737.1 409.1l0.4 0.2M737.1 263.5l0.2 7.8M744.7 262.6l-7.6 0.9M744.9 154.9l-7.7 1.7M746.7 271.8l-9.4-0.5M740.1 416.9l-2.6-7.6M737.5 409.3l8.6-2.4M737.6 279.2l1.2 1M737.6 554.8l2.1-0.3M738.5 547.3l-0.9-0.9M738.4 541l-0.8 5.4M744.6 393.2l-7-0.7M738.6 289.8l-0.7-0.8M737.9 289l0.9-8.8M737.9 176l0.4 9.8M737.9 176l8.6-0.8M738 502.8l7.9-0.3M738.1 418.9l1.6 8.3M738.1 418.9l2-2M740.3 305.3l-2.2-7.9M738.6 296.7l-0.5 0.7M738.3 185.8l2.4 1.4M738.5 529.3l-0.2-0.2M741.2 451.4l-2.8-8.2M738.4 443.2l2-2.3M740.3 436.7l-1.9-2.4M738.4 434.3l1.4-7M738.5 529.3l-0.1 1.8M738.5 547.3l1.2 7.2M741.2 546.9l-2.7 0.4M738.5 529.3l4.4-0.6M738.6 289.8l0 6.9M747.8 296.7l-9.2 0M738.6 512.4l5-0.2M746.8 288.4l-8.2 1.4M746.4 279.5l-7.6 0.7M740.7 313.2l-1.1-6.8M740.3 305.3l-0.7 1.1M739.7 427.2l0.1 0.1M740.6 555.2l-0.9-0.7M746.2 426.6l-6.4 0.7M741.3 323.6l-1.2-9.7M740.1 313.9l0.6-0.7M746.5 417.5l-6.4-0.6M740.4 440.9l-0.1-4.2M747.6 433.3l-7.3 3.4M748.1 304.4l-7.8 0.9M748.2 442.8l-7.8-1.9M740.6 555.4l0-0.2M746.4 555l-5.8 0.2M742.8 193.1l-2.1-5.9M748.9 183.4l-8.2 3.8M741.3 332.5l-0.6-8.4M740.7 324.1l0.6-0.5M749.5 314.2l-8.8-1M741.6 451.7l-0.4-0.3M741.3 198.7l1.1 5.8M741.3 323.6l6.7-1.2M741.3 332.5M742.3 340l-1-7.5M741.3 332.5l9.9-1.4M741.4 348.7l1.8 8.4M741.4 348.7l1-1.2M742.7 460.6l-1.2-1M741.6 451.7l-0.1 7.9M741.6 451.7l6.8-2M742 469.2l0.9 0.8M742 469.2l0.7-8.6M742.3 340l0.2 0.2M742.4 347.5l9 1M742.5 340.2l-0.1 7.3M742.4 204.5l1.5 1.1M742.5 340.2l8.8-0.5M750.2 460.4l-7.5 0.2M742.9 357.5l1.8 8.9M742.9 357.5l0.3-0.4M742.9 470l1.2 7.4M742.9 470l8-1.2M743.2 493.4l-0.2-7.5M743.4 485.5l-0.4 0.4M743.2 357.1l8-1.4M744.9 494.7l-1.7-1.3M743.4 225.3l0.1 3.5M743.4 225.2l0 0.1M743.4 485.5l9 0.6M743.4 485.5l0.2-7.5M743.5 215.9l-0.1-0.1M743.4 215.8l0.5-4M743.8 225.2l-0.4 0M743.4 225.2l0.1-9.3M744.3 215.9l-0.8 0M745 513.2l-1.4-1M746.3 502.9l-2.7 9.3M743.6 478l0.5-0.6M744 528.4l1.8-7.1M744.1 477.4l8.4-0.7M744.1 367l0.7 8M744.1 367l0.6-0.6M744.9 154.9l-0.4-4.9M744.6 393.2l2.4 6.9M746.2 390.7l-1.6 2.5M744.7 384l0.8 0.7M744.7 375.1l0 8.9M744.7 245.9l0.1 8M744.7 245.9l0.6-0.6M747 271.4l-2.3-8.8M744.9 262.4l-0.2 0.2M744.8 375l-0.1 0.1M744.7 366.4l7.1-0.8M744.8 194.3l3.4 0.1M744.8 375l6.4 0.8M744.8 253.9l0.9 0.9M745.1 155.1l-0.2-0.2M752.5 262.5l-7.6-0.1M744.9 262.4l0.8-7.6M744.9 494.7l1 7.8M744.9 494.7l8-1.7M747.2 520l-2.2-6.8M754.4 510.3l-9.4 2.9M745.1 155.1l2.6 8.6M750.2 154.1l-5.1 1M746.2 390.7l-0.7-6M745.5 384.7l7.9-2.7M745.7 254.8l2.4-0.5M745.8 521.3l1.4-1.3M746.3 502.9l-0.4-0.4M748.2 409.7l-2.1-2.8M746.1 406.9l0.5-6.3M746.2 165.5l0.3 9.7M747.7 163.7l-1.5 1.8M746.2 390.7l7.7-0.4M746.2 426.6l1.4 6.7M747.1 425.6l-0.9 1M746.3 502.9l6.3 0.7M746.5 555.4l-0.1-0.4M746.5 554.8l-0.1 0.2M747.3 280.3l-0.9-0.8M746.7 271.8l-0.3 7.7M747.1 425.6l-0.6-8.1M746.5 417.5M756.4 418l-9.9-0.5M746.5 417.5l1.7-7.8M746.5 175.2l0.3 0.2M746.6 400.6l0.4-0.5M747 271.4l-0.3 0.4M748.2 296.2l-1.4-7.8M746.8 288.4l0.8-0.9M746.8 175.4l2.1 8M746.8 175.4l8.5-2.2M753.9 270.1l-6.9 1.3M753.6 399.4l-6.6 0.7M756.8 426.1l-9.7-0.5M747.2 520l5.5 0.7M747.3 280.3l0.3 7.2M755.7 279.6l-8.4 0.7M747.6 287.5l7.6 1.3M747.6 433.3l2.3 1.6M747.7 163.7l7 0.8M747.8 296.7l0.3 7.7M748.2 296.2l-0.4 0.5M751.2 331.1l-3.2-8.7M748 322.4l0.6-0.7M748.1 304.4l1.2 0.9M754.5 409.5l-6.3 0.2M748.2 296.2l7.6-0.7M748.2 442.8l1 1.2M748.2 442.8l1.7-7.9M748.4 449.7l2.6 2.5M748.4 449.7l0.8-5.7M758.2 322.8l-9.6-1.1M749.5 314.2l-0.9 7.5M748.9 183.4l0.2 0.1M749.2 444l7.5-1.2M749.8 314l-0.5-8.7M749.3 305.3l7.6-1.8M749.8 314l-0.3 0.2M749.8 314l6.9 0M749.9 434.9l6.6-0.9M750.2 460.4l0.1 0.1M750.2 460.4l0.8-8.2M750.3 460.5l1.4 7M758.6 459.6l-8.3 0.9M750.9 468.8l1.6 7.9M750.9 468.8l0.8-1.3M757.1 451.4l-6.1 0.8M751.2 331.1l0.3 0.3M752.3 356.6l-1.1-0.9M751.2 355.7l0.2-7.2M751.2 375.8l2.2 6.2M753.7 372.8l-2.5 3M751.3 339.7M751.3 339.7l0.2-8.3M759.8 340.2l-8.5-0.5M751.3 339.7l0.2 8.6M751.4 184.9l-0.1 3.4M751.4 348.5l0.1-0.2M751.4 184.9M751.4 184.9l2.3-0.6M759.2 347.8l-7.7 0.5M751.5 331.4l7-1.8M759.3 467.8l-7.6-0.3M753 366.5l-1.2-0.9M751.8 365.6l0.5-9M752.3 356.6l8.5 0.1M752.4 486.1l0.5 6.9M752.4 486.1l0.1-0.1M752.8 476.9l-0.3-0.2M752.5 486l0.3-9.1M761.1 485.2l-8.6 0.8M754.4 510.3l-1.8-6.7M752.6 503.6l0.6-0.7M752.7 520.7l0.3 0.2M754.7 510.6l-2 10.1M752.8 476.9l7-1M752.9 493l0.8 0.8M753 366.5l0.7 6.3M753 366.5l8-1.7M754.2 526.3l-1.2-5.4M753 520.9l10.6-2.2M753.7 493.8l-0.5 9.1M753.2 502.9l8.7-1.7M753.4 382l0.2 0.1M753.6 382.1l0.3 8.2M753.6 382.1l7.7-0.6M753.6 399.4l2.9 8M753.6 399.4l0.8-0.7M753.7 493.8l8.1 0M753.7 372.8l8.2 1.6M755.4 271.4l-1.5-1.3M754.1 264.8l-0.2 5.3M753.9 390.3l1 0.9M754.4 510.3l0.3 0.3M754.4 153.8l2.1 1.8M754.4 398.7l8.6 0M754.4 398.7l0.5-7.5M756.8 417.3l-2.3-7.8M754.5 409.5l2-2.1M754.7 510.6l7.2 1.2M754.7 164.5l1.3 1.4M756.5 155.6l-1.8 8.9M762.3 389.8l-7.4 1.4M755.2 288.8l0.6 6.7M756.9 286.8l-1.7 2M755.7 279.6l-0.3-8.2M755.4 271.4l7.9-1.2M755.7 279.6l0.4 0.3M756.2 295.9l-0.4-0.4M756.4 171.8l-0.4-5.9M756 165.9l6.6-1.9M756.9 286.8l-0.8-6.9M756.1 279.9l8.5-1.3M756.2 295.9l0.7 7.6M756.2 295.9l8.9-1.7M756.4 418l1.2 7.1M756.4 418l0.4-0.7M756.5 434l0.1 0.2M756.8 426.1l-0.3 7.9M756.5 155.6l8.5-0.6M756.5 407.4l7-0.2M763.3 435.1l-6.7-0.9M756.7 442.8l-0.1-8.6M756.7 442.8l0.7 0.7M758.2 322.8l-1.5-8.8M758.6 312.5l-1.9 1.5M756.8 426.1l0.8-1M756.8 417.3l8.1-3.1M756.9 286.8l8.3 1.3M757.9 304.2l-1-0.7M759.4 458.9l-2.3-7.5M757.1 451.4l0.7-0.9M757.4 175.2l0 0.9M757.8 450.5l-0.4-7M765.4 442.8l-8 0.7M757.6 425.1l6.6 0M765.5 450.5l-7.7 0M758.6 312.5l-0.7-8.3M765 303.1l-7.1 1.1M758.2 322.8l0.1 0.1M758.4 173.6l-0.1 0M758.3 322.9l0.3 6.6M758.3 322.9l8.2-3M761.1 338.4l-2.6-8.8M758.5 329.6l0.1-0.1M758.6 329.5l8.9-0.5M758.6 459.6l0.7 8.2M759.4 458.9l-0.8 0.7M764.9 313.5l-6.3-1M759.2 347.8l1.7 8.7M760.7 345.8l-1.5 2M759.3 467.8l1.4 1.1M765.1 458.5l-5.7 0.4M759.8 340.2l0.9 5.6M761.1 338.4l-1.3 1.8M760.8 476.8l-1-0.9M760.7 468.9l-0.9 7M760.7 468.9l5.9-1.9M768.3 347.2l-7.6-1.4M760.8 356.7l0.7 7.4M760.8 356.7l0.1-0.2M761.6 484.6l-0.8-7.8M760.8 476.8l7.1-0.4M760.9 356.5l7.3-2M761 364.8l2 8.4M761 364.8l0.5-0.7M761.1 485.2l0.7 8.6M761.6 484.6l-0.5 0.6M761.1 338.4l6.6-0.8M761.3 381.5l1 8.3M761.3 381.5l0.1-0.1M770.9 381.8l-9.5-0.4M761.4 381.4l0.5-7M769.8 364.2l-8.3-0.1M761.6 484.6l6.9 0.4M761.9 493.9l-0.1-0.1M761.9 493.9l0.5 6.8M761.9 493.9l7.7-1.4M763 373.2l-1.1 1.2M761.9 511.8l1.7 6.9M763.3 510.2l-1.4 1.6M761.9 501.2l1.4 9M762.4 500.7l-0.5 0.5M762.9 390.3l-0.6-0.5M762.4 500.7l7.5 0.6M762.9 263.9l1.2 5.1M762.9 390.3l0.1 8.4M762.9 390.3l7.2-0.4M763 398.7l1.1 1.2M770.8 372.5l-7.8 0.7M764.6 278.6l-1.3-8.4M763.3 270.2l0.8-1.2M766 439.2l-2.7-4.1M766.6 429.9l-3.3 5.2M763.3 510.2l7.4-1.7M763.5 407.2l1.4 7M763.5 407.2l0.2-0.3M763.6 523.5l0.1-4.7M763.7 518.8l-0.1-0.1M766 518.7l-2.3 0.1M763.7 406.9l0.4-7M763.7 406.9l9.8-0.4M771 269l-6.9 0M764.1 399.9l7.8-1.8M766.6 429.9l-2.4-4.8M764.2 425.1l0.3-0.4M764.5 424.7l1.5-9.7M764.5 424.7l8.8-2.1M764.6 278.6l0.2 0.2M765.7 287.4l-0.9-8.6M764.8 278.8l6.8-1.1M764.9 414.2l1.1 0.8M764.9 313.5l1.6 6.4M764.9 313.5l1.4-1.5M766.3 312l-1.3-8.9M765 303.1l0.9-0.9M765 150.2l0.6 3.9M765 155l1.1 8.1M765.6 154.1l-0.6 0.9M765.1 294.2l1.1 1.3M765.2 288.1l-0.1 6.1M765.1 458.5l1.8 7.7M765.1 458.5l1.1-1.3M765.1 163.3l1-0.2M765.2 288.1l0.5-0.7M765.9 443.5l-0.5-0.7M766 439.2l-0.6 3.6M766.2 451.4l-0.7-0.9M765.9 443.5l-0.4 7M765.6 154.1l10.5-0.9M772.5 204.2l-6.8 0.6M773.5 286.6l-7.8 0.8M773.3 444.7l-7.4-1.2M765.9 260.5l4.4-1.1M765.9 302.2l7.5 2.2M765.9 302.2l0.3-6.7M766 415l6.2 0.6M772.4 436.4l-6.4 2.8M766.1 163.1M766.2 457.2l0-5.8M766.2 451.4l6.2-1M773.9 295.3l-7.7 0.2M774 213.3l-7.8 2.2M766.2 457.2l7.2 0.9M766.3 312l6.9-1.4M766.5 319.9l1.1 0.8M766.6 467l3 4.5M766.9 466.2l-0.3 0.8M771.8 431.2l-5.2-1.3M766.9 466.2l6.6-2.4M767.5 329l0.2 8.6M767.5 329l0.8-0.8M767.6 320.7l0.7 7.5M767.6 320.7l6.6-1.5M767.7 337.6l0.3 0.2M771.6 518.6l-3.7 0.1M770.2 479.2l-2.3-2.8M769.6 471.5l-1.7 4.9M769 346.6l-1-8.8M775.8 337.1l-7.8 0.7M768.2 354.5l1.5 1.1M768.3 347.2l-0.1 7.3M768.3 328.2l7.7 1M768.3 347.2l0.7-0.6M768.5 485l1.1 7.5M768.5 485l0.9-0.9M774.2 224.7l-5.5-1.5M769 346.6l7.8-0.9M776.7 485.6l-7.3-1.5M770.2 479.2l-0.8 4.9M769.6 492.5l0.6 0.4M776.1 471.3l-6.5 0.2M769.7 355.6l1.1 7.5M769.7 355.6l7.6-1.3M769.8 364.2l1 8.3M769.8 364.2l1-1.1M769.9 501.3l1.1 1.1M769.9 501.3l0.3-8.4M770 193.6l1.4-0.2M770.1 253.9l1.3 4.3M770.1 389.9l1.8 8.2M770.1 389.9l1.3-1.5M776 477.9l-5.8 1.3M777.3 492.5l-7.1 0.4M771.8 267.3l-1.5-7.9M771.4 258.2l-1.1 1.2M772.1 509.7l-1.4-1.2M771 502.4l-0.3 6.1M770.8 363.1l7.9 0.1M770.8 372.5l0.1 0.1M771.7 380.8l-0.8-8.2M770.9 372.6l7.8-1.2M771.4 388.4l-0.5-6.6M770.9 381.8l0.8-1M771 502.4l7.2-2.2M771 269l2.6 4.2M771 269l0.8-1.7M777.8 249.5l-6.8-0.1M773.8 202.3l-2.4-8.9M771.4 193.4M771.4 193.4l0-1.6M783.5 192.3l-12.1 1.1M776.9 258.3l-5.5-0.1M771.4 388.4l8.9 1.1M772.1 519l-0.5-0.4M771.6 518.6l0.5-8.9M774 280.9l-2.4-3.2M773.6 273.2l-2 4.5M771.7 380.8l7.7 0M772.4 436.4l-0.6-5.2M771.8 431.2l0.4-0.4M771.8 267.3l6.8-2.7M771.9 398.1l0.2 0.1M778.3 509.8l-6.2-0.1M772.1 398.2l1.4 8.3M772.1 398.2l8.2-1.7M772.1 519l0.2 3.6M772.1 519l8-0.7M772.2 415.6l1.5 6.5M772.2 415.6l2.1-2M772.2 430.8l1.1-8.2M772.2 430.8l7-0.8M774.1 232.1l-1.8 0.4M772.4 436.4l0.9 0.7M773.6 451.4l-1.2-1M772.4 450.4l0.9-5.7M774.4 212.8l-1.9-8.6M772.5 204.2l1.3-1.9M776.4 240.2l-3.8 2M773.2 310.6l2.2 2M773.4 304.4l-0.2 6.2M773.3 422.6l0.4-0.5M774.3 444.1l-1 0.6M774.3 444.1l-1-7M773.3 437.1l5.2-0.4M773.5 463.8l-0.1-5.7M773.4 458.1l1.3-1.2M773.4 304.4l0.9-0.7M773.5 286.6l1.8 1.7M773.5 286.6l0.5-5.7M773.5 463.8l1.4 1M773.5 406.5l0.3 0.2M773.6 273.2l5.7-0.4M774.7 456.9l-1.1-5.5M780 449.4l-6.4 2M773.7 422.1l3.5 0.9M773.8 202.3l9.5-0.7M774.3 413.6l-0.5-6.9M773.8 406.7l8.2-2.2M773.9 295.3l0.4 8.4M773.9 295.3l0.6-0.5M774 280.9l7.2-1.1M776.2 222.5l-2.2-9.2M774.4 212.8l-0.4 0.5M775.4 233.1l-1.3-1M774.1 232.1l0.1-7.4M776.6 321.4l-2.4-2.2M775.4 312.6l-1.2 6.6M774.2 224.7l2-2.2M781.6 303.1l-7.3 0.6M774.3 413.6l7.5 0.5M778 444.5l-3.7-0.4M783.4 212.1l-9 0.7M774.5 294.8l7.4 1.9M775.3 288.3l-0.8 6.5M779.6 457.1l-4.9-0.2M774.9 464.8l1.6 6.1M774.9 464.8l6.7-2.4M781.9 287.3l-6.6 1M775.4 312.6l6.5-0.7M776.4 240.2l-1-7.1M784.5 231.6l-9.1 1.5M775.6 147.1l1.4 4.8M776.8 345.7l-1-8.6M775.8 337.1l0.6-0.7M776.4 336.4l-0.4-7.2M776.8 328.3l-0.8 0.9M776 477.9l1.8 6.2M776 477.9l0.5-0.7M776.5 477.2l-0.4-5.9M776.5 470.9l-0.4 0.4M777.9 162l-1.8-8.8M777 151.9l-0.9 1.3M784.4 222.5l-8.2 0M776.4 336.4l9.4 0.6M776.4 240.2l0.9 0.7M780.8 470.1l-4.3 0.8M783.1 477.7l-6.6-0.5M776.6 321.4l0.2 6.9M776.6 321.4l6.9-2M776.7 485.6l0.8 6.6M777.8 484.1l-1.1 1.5M776.8 345.7l0.5 0.5M776.8 328.3l7.9-0.2M778.6 264.6l-1.7-6.3M777.3 257.9l-0.4 0.4M777 151.9l8.9-1.5M779.2 430l-2-7M777.2 423l4.9-2M778.2 500.2l-0.9-7.7M777.3 492.5l0.2-0.3M777.3 354.3l1.7 1.5M777.3 346.2l0 8.1M777.3 240.9l7.5 0.6M777.3 240.9l0.5 8.6M777.9 249.6l-0.6 8.3M777.3 257.9l8.4-0.9M777.3 346.2l8.5-1M785.5 491.1l-8 1.1M784.1 482.9l-6.3 1.2M777.8 249.5l0.1 0.1M777.9 249.6l6.3-0.2M780 449.4l-2-4.9M778 444.5l2.5-2.5M778.2 500.2l2.3 1.8M780.5 517.7l-2.2-7.9M778.3 509.8l2.1-2.3M778.5 436.7l0.7 0.6M778.5 436.7l0.9-6.5M778.6 264.6l0.6 0.5M778.7 363.2l0.3 0.4M778.7 363.2l0.3-7.4M778.7 371.4l0.3 0.3M779 363.6l-0.3 7.8M785.8 354.5l-6.8 1.3M786.1 363.5l-7.1 0.1M780.1 379.9l-1.1-8.2M785.8 371.6l-6.8 0.1M779.2 430l0.2 0.2M780.5 442l-1.3-4.7M779.2 437.3l6.3-1.9M779.2 265.1l0.7 7.1M779.2 265.1l7.4-1.1M779.3 272.8l1.9 7M779.3 272.8l0.6-0.6M779.4 380.8l0.9 8.7M779.4 380.8l0.7-0.9M779.4 430.2l5.3-0.5M779.6 457.1l1.8 1.7M781.4 450.4l-1.8 6.7M779.9 272.2l7.2-0.9M781.4 450.4l-1.4-1M780.1 518.3l0.7 3.7M780.5 517.7l-0.4 0.6M786.7 379.8l-6.6 0.1M780.9 397.3l-0.6-0.8M780.3 396.5l0.5-6.5M786 162.4l-5.7-0.1M780.3 389.5l0.5 0.5M788.1 510.2l-7.7-2.7M780.4 507.5l0.1-5.5M780.5 442l5.5 0.3M780.5 517.7l7.8-2.1M786.7 500l-6.2 2M782.1 183.9l-1.4-0.8M785.9 388.7l-5.1 1.3M780.8 470.1l1.7 1M782.5 463.7l-1.7 6.4M780.9 397.3l1.1 7.2M788.8 397.1l-7.9 0.2M782 280.4l-0.8-0.6M781.4 458.8l0.2 3.6M788.5 456.6l-7.1 2.2M781.4 450.4l5.4-1M781.6 462.4l0.9 1.3M781.6 303.1l0.9 8.2M781.6 303.1l0.1-0.1M781.7 303l9.4 0.2M781.7 303l0.2-6.3M782.3 414.7l-0.5-0.6M781.8 414.1l1.3-8.7M781.9 296.7l0.3-0.2M781.9 311.9l1.6 7.5M782.5 311.3l-0.6 0.6M781.9 287.3l0.5 0.4M782 280.4l-0.1 6.9M782 280.4l6.3-1.9M783.1 405.4l-1.1-0.9M782.1 183.9l1.4 8.4M782.1 183.9l8.3-3.4M785.2 423.5l-3.1-2.5M782.3 414.7l-0.2 6.3M782.4 287.7l-0.2 8.8M788.8 295.6l-6.6 0.9M782.3 414.7l7.8-0.3M788.5 288.1l-6.1-0.4M782.5 311.3l8.8-0.6M783.5 477l-1-5.9M788.6 470.1l-6.1 1M788.8 464.9l-6.3-1.2M788.8 405.5l-5.7-0.1M783.1 477.7l1 5.2M783.5 477l-0.4 0.7M783.3 201.6l0.6 0.7M783.3 201.6l0.7-8.8M785.3 221.6l-1.9-9.5M783.4 212.1l1.3-1.5M790 475.3l-6.5 1.7M783.5 319.4l1.1 0.7M783.5 192.3l0.5 0.5M784.7 210.6l-0.8-8.3M792 201.7l-8.1 0.6M791.7 192l-7.7 0.8M785.1 483.6l-1-0.7M784.2 249.4l1.2 1.2M784.2 249.4l0.6-7.9M784.5 231.6l-0.1-9.1M785.3 221.6l-0.9 0.9M784.5 231.6l2.5 2.1M784.6 320.1l0.1 8M792.6 318.6l-8 1.5M784.7 328.1l1.5 1.2M793 211.2l-8.3-0.6M784.7 429.7l0.4 0.4M784.7 429.7l0.5-6.2M784.8 241.5l2.2-1.8M785.9 434.5l-0.8-4.4M785.1 430.1l7.2-0.9M785.5 491.1l-0.4-7.5M790.5 482l-5.4 1.6M790.2 421.8l-5 1.7M792.3 221.5l-7 0.1M785.7 257l-0.3-6.4M785.4 250.6l7.6-1.8M786 442.3l-0.5-6.9M785.5 435.4l0.4-0.9M786.8 492l-1.3-0.9M785.7 257l0.2 0.2M785.9 337.2l-0.1-0.2M785.8 337l0.4-7.7M786.4 353.7l-0.6-8.5M785.8 345.2M788 361l-2.2-6.5M786.4 353.7l-0.6 0.8M785.8 345.2l8.4 0.5M785.9 337.2l-0.1 8M788 375.9l-2.2-4.3M785.8 371.6l2.1-3M794.3 336.9l-8.4 0.3M785.9 150.4l0.5 0.5M786 149.5l-0.1 0.9M789.2 391.4l-3.3-2.7M787.2 386.4l-1.3 2.3M785.9 257.2l0.7 6.8M785.9 257.2l8-0.6M792.7 436.1l-6.8-1.6M787.1 443.1l-1.1-0.8M786.1 163l-0.1-0.6M786 162.4l1.3-1.3M786.1 363.5l1.8 5.1M788 361l-1.9 2.5M792.7 327.6l-6.5 1.7M786.4 353.7l8.7-0.2M796.4 151.4l-10-0.5M787.3 161.1l-0.9-10.2M787.2 264.6l-0.6-0.6M789.4 508.4l-2.7-8.4M786.9 499.8l-0.2 0.2M786.7 379.8l0.5 6.6M787.2 379.4l-0.5 0.4M786.8 492l0.1 7.8M793.7 490.7l-6.9 1.3M788.6 456.4l-1.8-7M786.8 449.4l0.1-0.2M794.9 500l-8-0.2M786.9 449.2l0.2-6.1M793.7 449.2l-6.8 0M787 233.7l0 6M787 233.7l7.4-2.8M791.8 242l-4.8-2.3M791.5 441.5l-4.4 1.6M787.4 271.6l-0.3-0.3M787.1 271.3l0.1-6.7M787.2 379.4l6.5 2.1M788 375.9l-0.8 3.5M787.2 264.6l7.1-0.7M787.2 386.4l6.7-1.2M787.3 161.1l10-0.4M788.3 278.5l-0.9-6.9M787.4 271.6l8-0.5M787.9 171.7l-0.1 0M787.9 368.6l4.7 0.1M787.9 171.7l0-0.1M787.9 171.7l0.1 0M788 171.7l2.4 8.8M788 171.7l9.8-2.6M788 361l4.8 0.1M788 375.9l6.3-1.7M788.3 515.6l-0.2-5.4M788.1 510.2l1.3-1.8M790 279.6l-1.7-1.1M788.3 515.6l1.8 1.5M788.5 456.6l1.5 6.8M788.6 456.4l-0.1 0.2M788.5 288.1l1.1 6M789.5 287.3l-1 0.8M788.6 456.4l6.3-0.8M790 475.3l-1.4-5.2M789.3 468.7l-0.7 1.4M788.8 464.9l0.5 3.8M790 463.4l-1.2 1.5M789.8 397.9l-1-0.8M789.2 391.4l-0.4 5.7M788.8 405.5l0.3 0.2M788.8 405.5l1-7.6M788.8 295.6l2.8 7M789.6 294.1l-0.8 1.5M789.1 405.7l2.1 4.3M789.1 405.7l6.1-2.6M794.6 390.8l-5.4 0.6M796.4 469.6l-7.1-0.9M795.7 506.7l-6.3 1.7M789.5 287.3l7.7 0.4M790 279.6l-0.5 7.7M797.6 293.6l-8 0.5M789.8 397.9l5.7-0.5M790.6 475.8l-0.6-0.5M790 463.4l5.2-0.7M790 279.6l4.7-0.7M790.2 414.6l-0.1-0.2M791.2 410l-1.1 4.4M790.2 519.4l-0.1-2.3M790.1 517.1l8.1-1.6M790.2 414.6l7.5 1.8M790.2 421.8l0-7.2M791.6 422.6l-1.4-0.8M791 180.7l-0.6-0.2M790.5 482l4 2.4M790.6 475.8l-0.1 6.2M790.6 475.8l6.2-1M792.4 191.2l-1.4-10.5M798.4 179.9l-7.4 0.8M791.3 310.7l-0.2-7.5M791.1 303.2l0.5-0.6M791.2 410l5.1-0.6M791.3 310.7l0.4 0.5M794 443l-2.5-1.5M791.5 441.5l1.2-5.4M792.3 429.2l-0.7-6.6M791.6 422.6l5.9-0.7M797.8 300.8l-6.2 1.8M791.7 311.2l0.9 7.4M801.2 309.5l-9.5 1.7M793.9 197.8l-2.2-5.8M792.4 191.2l-0.7 0.8M791.8 242l1.3 6.7M797.1 239.5l-5.3 2.5M792 201.7l3.5 5.1M793.9 197.8l-1.9 3.9M792.9 429.6l-0.6-0.4M792.3 221.5l2.3 2.6M792.3 221.5l2.4-6.1M800.3 189.5l-7.9 1.7M792.6 318.6l0.3 0.3M794.5 373.9l-1.9-5.2M792.6 368.7l1.4-1.6M792.7 327.6l1.7 1.2M792.9 318.9l-0.2 8.7M794.2 434.9l-1.5 1.2M792.8 361.1l1.2 6M792.8 361.1l2.9-2.4M794.2 434.9l-1.3-5.3M798.9 427l-6 2.6M800.3 319l-7.4-0.1M794.7 215.4l-1.7-4.2M793 211.2l2.5-4.4M793 248.8l0.9 7.8M793.1 248.7l-0.1 0.1M800.4 248.3l-7.3 0.4M793.7 449.2l1.4 1M794 443l-0.3 6.2M793.7 490.7l2.3 7.8M794.7 489.5l-1 1.2M793.7 381.5l0.2 3.7M795.6 379.6l-1.9 1.9M801.6 198.1l-7.7-0.3M793.9 385.2l0.6 0.9M793.9 256.6l0.4 0.2M799.2 442.5l-5.2 0.5M799.5 366.8l-5.5 0.3M794.2 434.9l4.1 0.7M794.2 345.7l1.8 6.2M795.8 343.6l-1.6 2.1M794.3 263.9l0-7.1M800.3 256.1l-6 0.7M795.6 265l-1.3-1.1M794.3 336.9l1.5 6.7M794.3 336.9l0.7-0.9M794.3 374.2l1.3 5.4M794.3 374.2l0.2-0.3M795 336l-0.6-7.2M801.5 327.7l-7.1 1.1M794.4 230.9l2.5 1.8M794.6 224.1l-0.2 6.8M794.7 489.5l-0.2-5.1M797 482.3l-2.5 2.1M800 372.6l-5.5 1.3M794.6 390.8l-0.1-4.7M794.5 386.1l6.8-1M794.6 224.1l9-1.1M794.6 390.8l1.5 1.6M796.5 280.2l-1.8-1.3M794.7 278.9l1.5-6.8M794.7 489.5l9.1 1M794.7 215.4l7.8 0.2M794.9 500l0.8 6.7M796 498.5l-1.1 1.5M794.9 455.6l0.7 0.6M794.9 455.6l0.2-5.4M803.1 335.6l-8.1 0.4M795.1 353.5l0.6 5.2M795.1 353.5l0.9-1.6M795.1 450.2l5.2-1.8M795.6 463l-0.4-0.3M795.6 456.2l-0.4 6.5M795.2 403.1l1.8 1.4M795.5 397.5l-0.3 5.6M795.4 271.1l0.8 1M795.6 265l-0.2 6.1M795.5 397.4l0 0.1M796.1 392.4l-0.6 5M801.5 205.7l-6 1.1M795.5 397.5l5.3 1.4M795.6 456.2l5.1 0.1M796.6 469.3l-1-6.3M801.5 462.5l-5.9 0.5M802.2 263.7l-6.6 1.3M795.6 379.6l3.7 0.3M797 507.5l-1.3-0.8M799.5 360.5l-3.8-1.8M795.8 343.6l7.6-0.7M796 351.9l8-0.4M804.4 497.9l-8.4 0.6M796.1 392.4l4.8-1.3M801.5 272.4l-5.3-0.3M796.3 409.4l2.3 1.5M797 404.5l-0.7 4.9M796.8 474.8l-0.4-5.2M796.4 469.6l0.2-0.3M796.5 280.2l1.5 6.4M802.9 278l-6.4 2.2M796.6 469.3l6.1-1.7M797.3 160.7l-0.6-8.5M797.6 475.5l-0.8-0.7M797.1 239.5l-0.2-6.8M804.5 231.5l-7.6 1.2M802.5 404l-5.5 0.5M803.9 483.3l-6.9-1M797.6 475.5l-0.6 6.8M798.2 515.5l-1.2-8M797 507.5l8.6-2.4M797.1 239.5l3 1.9M797.2 287.7l0.4 5.9M798 286.6l-0.8 1.1M797.5 160.9l-0.2-0.2M798.2 422.7l-0.7-0.8M797.5 421.9l0.2-5.5M797.6 475.5l5.6-0.1M798.2 294.3l-0.6-0.7M797.7 416.4l0.3-0.2M800.3 302.5l-2.5-1.7M798.2 294.3l-0.4 6.5M797.9 160.9l9.8-1.7M803.4 416.2l-5.4 0M798 416.2l0.6-5.3M798 286.6l5.1-0.6M805.7 293.4l-7.5 0.9M798.7 515.9l-0.5-0.4M798.9 427l-0.7-4.3M798.2 422.7l6.7-1.4M798.3 435.6l0.3 0.2M800.5 428.5l-2.2 7.1M798.7 180.1l-0.3-0.2M798.4 179.9l1.4-9.5M800.1 441.3l-1.5-5.5M798.6 435.8l7.3-1.4M803 409l-4.4 1.9M798.7 180.1l2.1 8.6M798.7 180.1l9.7-0.3M798.7 515.9l0.2 3.5M805.4 515.1l-6.7 0.8M798.9 427l1.6 1.5M799.8 170.4l-0.6-0.6M799.2 442.5l1.1 5.9M799.2 442.5l0.9-1.2M799.3 379.9l2 5.2M801.4 377.7l-2.1 2.2M799.7 366.6l-0.2-6.1M805.2 358.5l-5.7 2M800 372.6l-0.5-5.8M799.7 366.6l-0.2 0.2M799.7 366.6l4.9-0.1M800.5 170.4l-0.7 0M800.6 373l-0.6-0.4M800.1 441.3l5.7-0.2M800.1 241.4l0.9 6.2M800.1 241.4l5.9-3M801.6 198.1l-1.3-8.6M800.3 189.5l0.5-0.8M801.2 309.5l-0.9-7M806.7 300.4l-6.4 2.1M800.3 448.4l0.5 0.3M802.2 263.7l-1.9-7.6M801.2 255l-0.9 1.1M800.3 319l1.5 8.2M801.9 317.7l-1.6 1.3M800.4 248.3l0.8 6.7M801 247.6l-0.6 0.7M800.5 428.5l3.6 0.2M800.6 373l0.8 4.7M800.6 373l5.2-1M800.7 456.3l0.8 6.2M802.5 454.7l-1.8 1.6M802.7 403.7l-1.9-4.8M800.8 398.9l2.1-2.4M802.5 454.7l-1.7-6M807.2 447.1l-6.4 1.6M800.8 188.7l8-0.2M800.9 391.1l1.2 0.9M800.9 391.1l0.8-5.8M801 247.6l7.2-0.3M808.1 255.3l-6.9-0.3M801.2 309.5l0.3 0.2M801.7 385.3l-0.4-0.2M806.5 378.9l-5.1-1.2M803.1 335.6l-1.6-7.9M801.8 327.2l-0.3 0.5M801.7 462.6l-0.2-0.1M801.9 317.7l-0.4-8M801.5 309.7l6.8-0.5M802.4 206.4l-0.9-0.7M801.8 198.3l-0.3 7.4M803.6 276.9l-2.1-4.5M803.5 269.3l-2 3.1M801.6 198.1l0.2 0.2M805.9 384.5l-4.2 0.8M802.7 467.6l-1-5M801.7 462.6l6-1.8M809.8 196.6l-8 1.7M809.8 326.2l-8 1M808.2 318.3l-6.3-0.6M802.1 392l0.8 4.5M802.1 392l4.9-0.7M803 264.1l-0.8-0.4M804.4 213.3l-2-6.9M808.9 204.8l-6.5 1.6M802.5 454.7l5.2 0.7M802.5 404l0.5 5M802.5 404l0.2-0.3M803.6 223l-1.1-7.4M804.4 213.3l-1.9 2.3M807.9 402.1l-5.2 1.6M802.7 467.6l0.1 0.1M802.8 467.7l1.4 6.6M802.8 467.7l6.3-1.1M808 397.2l-5.1-0.7M802.9 278l1.7 6.4M803.6 276.9l-0.7 1.1M803 264.1l0.5 5.2M808.7 262.2l-5.7 1.9M803 409l0.5 0.4M806.1 292.8l-3-6.8M804.6 284.4l-1.5 1.6M803.4 335.8l-0.3-0.2M804.5 482.6l-1.3-7.2M803.2 475.4l1-1.1M803.4 342.9l0.5 0.5M803.4 335.8l0 7.1M804.9 421.3l-1.5-5.1M803.4 416.2l1-1.1M803.4 335.8l7-1.5M803.5 269.3l7.2 2M803.5 409.4l6 0.1M803.5 409.4l0.9 5.7M803.6 276.9l7.2-0.6M804.7 223.8l-1.1-0.8M803.8 490.5l0.6 7.4M803.8 490.5l0.3-0.4M803.9 343.4l0.1 8.1M812.3 343.1l-8.4 0.3M803.9 483.3l0.2 6.8M803.9 483.3l0.6-0.7M804.6 352.1l-0.6-0.6M804.1 428.7l2.2 5.2M806.2 426.5l-2.1 2.2M813.2 488.8l-9.1 1.3M809.2 474l-5 0.3M804.4 213.3l7.5 0.5M804.4 415.1l5.6 0M804.4 497.9l0.2 0.2M804.5 482.6l6.2-1.1M804.5 231.5l1.1 1M804.5 231.5l0.2-7.7M805.6 505.1l-1-7M804.6 498.1l8.4-1.6M805.2 358.5l-0.6-6.4M812.9 350.4l-8.3 1.7M804.6 366.5l0.4 0.4M806.3 359.4l-1.7 7.1M810.9 284l-6.3 0.4M804.7 223.8l7.8-1.7M806.1 422l-1.2-0.7M805 366.9l0.8 5.1M810.8 366.5l-5.8 0.4M805.2 358.5l1.1 0.9M805.4 515.1l1 0.7M805.4 515.1l0.4-9.7M805.8 505.4l-0.2-0.3M805.6 232.5l0.4 5.9M805.6 232.5l8.5-1.1M805.7 293.4l1 7M805.7 293.4l0.4-0.6M807.5 442.2l-1.7-1.1M805.8 441.1l0.1-6.7M805.8 505.4l7.7 0.9M806.9 372.6l-1.1-0.6M805.9 384.5l1.8 5.9M806.7 383.6l-0.8 0.9M805.9 434.4l0.4-0.5M808 240.1l-2-1.7M806.2 426.5l-0.1-4.5M810.8 419.8l-4.7 2.2M806.1 292.8l5.9-1.8M811.7 428l-5.5-1.5M812.1 433.6l-5.8 0.3M806.3 359.4l2.8 0.6M807.5 523.1l-1.1-7.3M806.4 515.8l8.4-1.7M806.5 378.9l0.2 4.7M806.7 378.6l-0.2 0.3M806.9 372.6l-0.2 6M812.4 377.7l-5.7 0.9M812.5 384.3l-5.8-0.7M806.7 300.4l0.7 0.3M811.3 371.4l-4.4 1.2M807 391.3l1.5 5.3M807.7 390.4l-0.7 0.9M807.2 447.1l0.5 0.6M807.2 447.1l0.3-4.9M807.4 300.7l2 6.7M813.7 299l-6.3 1.7M807.5 442.2l5.2-1.8M807.7 390.4l5.4-0.6M809.1 466.6l-1.4-5.8M807.7 460.8l0.5-1M807.7 455.4l0.5 4.4M807.7 455.4l1.1-1.2M808.8 454.2l-1.1-6.5M813.8 447.4l-6.1 0.3M808 402.2l-0.1-0.1M807.9 402.1l0.1-4.9M814.4 402.5l-6.4-0.3M808 402.2l1.8 7M808 240.1l0.7 6.5M808 240.1l7.2-1.8M808 397.2l0.5-0.6M808.7 262.2l-0.6-6.9M808.1 255.3l1.4-1.6M811 323.3l-2.8-5M808.2 318.3l2.4-4.3M809.5 253.7l-1.3-6.4M808.7 246.6l-0.5 0.7M808.2 459.8l6.5 1.3M808.2 523.4l7.7-0.3M810.6 314l-2.3-4.8M808.3 309.2l1.1-1.8M808.4 179.8l0.4 8.7M810.1 177.8l-1.7 2M808.5 396.6l5.9-1.1M815.1 245.9l-6.4 0.7M810.1 262.9l-1.4-0.7M808.9 188.6l-0.1-0.1M808.8 454.2l5.8-0.6M810 196.4l-1.1-7.8M808.9 188.6l6.1-1.1M809.1 360l1.7 6.5M813.6 358.3l-4.5 1.7M809.1 466.6l0.7 0.5M809.2 474l2.2 6.4M809.2 474l0.4-0.4M809.3 175.7l0.8 2.1M816.3 305.8l-6.9 1.6M809.5 409.5l0.5 5.6M809.8 409.2l-0.3 0.3M809.5 253.7l6.6 0.6M809.6 473.6l0.2-6.5M809.6 473.6l6.6-0.8M809.8 409.2l4.4-1.2M809.8 467.1l5.1-1.2M809.8 326.2l1.7 4.3M811 323.3l-1.2 2.9M809.8 196.6l1.4 5.2M810 196.4l-0.2 0.2M810.8 419.8l-0.8-4.7M810 415.1M816.5 413.4l-6.5 1.7M810 196.4l4.2-0.6M810.9 177.9l-0.8-0.1M810.1 262.9l1.4 7.1M810.1 262.9l5.9-1.5M810.4 334.3l2.4 3.5M811.5 330.5l-1.1 3.8M816.4 313.8l-5.8 0.2M813.2 488.8l-2.5-7.3M810.7 481.5l0.7-1.1M810.8 276.3l-0.1-5M811.5 270l-0.8 1.3M811.7 420.3l-0.9-0.5M811.5 367.2l-0.7-0.7M810.8 276.3l0.3 0.3M810.9 284l0.6 0.6M810.9 284l0.2-7.4M817.1 321.8l-6.1 1.5M811.1 276.6l6.9 0.1M812.4 377.7l-1.1-6.3M811.6 371.1l-0.3 0.3M817 479.2l-5.6 1.2M812 291l-0.5-6.4M819.3 283.5l-7.8 1.1M811.5 270l7.4-1.3M811.6 371.1l-0.1-3.9M816.6 364.8l-5.1 2.4M811.5 330.5l8.2-0.1M817.8 372.1l-6.2-1M812.2 433.4l-0.5-5.4M813.6 425.8l-1.9 2.2M813.6 425.8l-1.9-5.5M811.7 420.3l5.3-1.6M811.9 213.8l0-0.9M811.9 213.8l0.3 0.2M812 291l1.7 8M812 291M819.6 291.1l-7.6-0.1M813.4 439.5l-1.3-5.9M812.2 433.4l-0.1 0.2M812.2 214l0.8 7.5M819.8 211.7l-7.6 2.3M819.6 431.8l-7.4 1.6M812.3 343.1l0.9 1.2M812.8 337.8l-0.5 5.3M812.4 377.7l0.6 0.4M813.5 385.2l-1-0.9M813 378.1l-0.5 6.2M812.5 222.1l1.6 9.3M813 221.5l-0.5 0.6M814.4 446.4l-1.7-6M812.7 440.4l0.7-0.9M819.8 336.2l-7 1.6M812.9 350.4l1 1.1M813.2 344.3l-0.3 6.1M817.5 377.5l-4.5 0.6M821.1 222l-8.1-0.5M813 496.5l1.6 1.5M813.7 489.1l-0.7 7.4M813.1 389.8l0.7 1M813.5 385.2l-0.4 4.6M820 343.8l-6.8 0.5M813.2 488.8l0.5 0.3M813.4 439.5l5.9 0.3M817.6 384.1l-4.1 1.1M814.3 506.9l-0.8-0.6M813.5 506.3l1.1-8.3M813.6 425.8l5.9 0.2M813.6 358.3l2.3 1.5M813.9 351.5l-0.3 6.8M820.6 487.8l-6.9 1.3M813.7 299l2.3 1.2M813.8 447.4l1.1 5.9M813.8 447.4l0.6-1M813.8 390.8l0.8 4.5M820.1 389.1l-6.3 1.7M820.6 351.7l-6.7-0.2M814.1 231.4l0.3 0.3M816.5 413.4l-2.3-5.4M814.4 407.7l-0.2 0.3M814.3 506.9l1.2 6.3M823.1 503.7l-8.8 3.2M814.4 402.5l0 5.2M814.9 401.8l-0.5 0.7M814.4 231.7l0.8 6.6M822 230l-7.6 1.7M814.9 401.8l-0.5-6.3M814.6 395.3l-0.2 0.2M821.5 407.2l-7.1 0.5M820.4 446l-6 0.4M815.3 460.4l-0.7-6.8M814.9 453.3l-0.3 0.3M821 395.2l-6.4 0.1M821.5 497.7l-6.9 0.3M814.9 465.9l-0.2-4.8M815.3 460.4l-0.6 0.7M815.9 523.1l-1.1-9M814.8 514.1l0.7-0.9M817 467.5l-2.1-1.6M820.3 452.9l-5.4 0.4M819.8 402.1l-4.9-0.3M815.1 245.9l2.1 1.8M816 239.1l-0.9 6.8M816 239.1l-0.8-0.8M822.5 459.6l-7.2 0.8M823 513.7l-7.5-0.5M815.9 523.2l-0.2 4.6M815.9 523.2l0-0.1M816.7 364.5l-0.8-4.7M821.3 357.9l-5.4 1.9M815.9 523.2l7.3-0.3M816 239.1l5.9 0.2M816 261.4l2.9 7.3M816 261.4l1.1-1.6M816.4 305.6l-0.4-5.4M820.1 297.8l-4.1 2.4M817.1 259.8l-1-5.5M816.1 254.3l0.1-0.1M817 479.2l-0.8-6.4M816.2 472.8l0.9-1.1M817.2 247.7l-1 6.5M816.2 254.2l7.3-0.6M817.3 312.9l-1-7.1M816.4 305.6l-0.1 0.2M817.3 321.5l-0.9-7.7M816.4 313.8l0.9-0.9M823.6 306l-7.2-0.4M817.1 413.8l-0.6-0.4M818.4 371.4l-1.8-6.6M816.6 364.8l0.1-0.3M822.3 365l-5.6-0.5M817.1 471.7l-0.1-4.2M817 467.5l4.8-2M818.7 419.9l-1.7-1.2M817 418.7l0.1-4.9M820.8 481.4l-3.8-2.2M817.1 321.8l3.5 7.2M817.3 321.5l-0.2 0.3M817.1 259.8l7.3 0.6M823.4 473.5l-6.3-1.8M821.9 412.2l-4.8 1.6M817.2 247.7l5.9-1.2M817.3 321.5l7.8-2.1M823.6 313.1l-6.3-0.2M817.5 377.5l1.2 5.3M818.5 376.1l-1 1.4M817.6 384.1l2.5 5M818.7 382.8l-1.1 1.3M818.5 376.1l-0.7-4M818.4 371.4l-0.6 0.7M819.6 283.1l-1.6-6.4M818.6 276.1l-0.6 0.6M818.4 371.4l4.4-1.9M823.9 376.8l-5.4-0.7M819.1 268.8l-0.5 7.3M826.5 276l-7.9 0.1M819.5 426l-0.8-6.1M818.7 419.9l4.2-1.6M824.5 382.8l-5.8 0M819.1 268.8l-0.2-0.1M823.8 267.9l-4.7 0.9M819.6 291.1l-0.3-7.6M819.3 283.5l0.3-0.4M819.3 439.8l0.5 0.3M819.7 432l-0.4 7.8M819.8 211.7l-0.3-6.3M819.9 426.3l-0.4-0.3M819.6 431.8l0.1 0.2M819.6 431.8l0.3-5.5M819.6 291.1l1.1 0.9M827.5 282.9l-7.9 0.2M820.4 335.6l-0.7-5.2M820.6 329l-0.9 1.4M825.4 433.5l-5.7-1.5M821.5 407.2l-1.7-5.1M820.7 401l-0.9 1.1M820.7 445.6l-0.9-5.5M825.8 438.4l-6 1.7M821.7 213l-1.9-1.3M820 343.8l-0.2-7.6M819.8 336.2l0.6-0.6M819.9 426.3l5.4-1.2M821.7 344.7l-1.7-0.9M820.1 297.8l2.7 1.5M820.7 292l-0.6 5.8M820.1 389.1l0.2 0.1M821 395.2l-0.7-6M824.3 387.6l-4 1.6M820.3 531.5l4.8-0.9M820.3 452.9l2.3 6.5M820.3 452.9l0.4-0.5M820.7 452.4l-0.3-6.4M820.4 446l0.3-0.4M820.4 335.6l6.4 1.5M821.1 352.2l-0.5-0.5M821.7 344.7l-1.1 7M825.3 327.8l-4.7 1.2M820.6 487.8l0.6 0.4M820.8 481.4l-0.2 6.4M820.7 445.6l6.4-0.2M827.7 451.1l-7 1.3M820.7 292l6.4-1.5M826.3 401.4l-5.6-0.4M820.7 401l0.3-5.8M820.8 481.4l1.8-1.6M821 395.2M825.5 394.9l-4.5 0.3M821.1 222l0.9 8M821.1 222l1.2-1.2M821.1 352.2l0.2 5.7M821.1 352.2l7.2-0.5M821.2 488.2l7.1 0.4M821.2 488.2l0.5 9.1M821.3 357.9l1.4 1M823.1 503.7l-1.6-6M821.5 497.7l0.2-0.4M821.6 407.3l-0.1-0.1M822.1 412l-0.5-4.7M821.6 407.3l4.7-2M821.7 213l0.6 7.8M821.7 213l7.6-1.9M828 343.4l-6.3 1.3M821.7 497.3l9.6-1.9M821.8 465.5l2.4 1.8M821.8 465.5l0.7-5.9M822.9 418.3l-1-6.1M822.1 412l-0.2 0.2M824.2 245.3l-2.3-6M821.9 239.3l2.2-3.2M824.1 203.4l-2.1 0.1M822 230l1.5 1M822.1 412l6.1 0.6M822.8 369.5l-0.5-4.5M822.3 365l0.4-0.5M822.3 220.8l7.4 0.3M822.6 459.4l-0.1 0.2M828.1 459.1l-5.5 0.3M822.6 479.8l7.3 1M822.6 479.8l1.3-5.6M822.7 358.9l0 5.6M822.7 358.9l4.3-0.4M822.7 364.5l6-0.2M824.3 305.4l-1.5-6.1M829.7 297.2l-6.9 2.1M822.8 369.5l1.9 1.1M825 419.3l-2.1-1M825 515.6l-2-1.9M823 513.7l1.3-9M823.1 503.7l1.2 1M823.9 252.2l-0.8-5.7M823.1 246.5l1.1-1.2M825.1 530.6l-1.9-7.7M824.6 521.2l-1.4 1.7M823.4 473.5l0.5 0.7M823.4 473.5l0.8-6.2M823.5 231l0.6 5.1M831.4 228.4l-7.9 2.6M823.6 313.1l0-7.1M823.6 306l0.7-0.6M825.2 314.4l-1.6-1.3M826.8 275.4l-3-7.5M823.8 267.9l1.6-1.9M823.9 474.2l6-0.7M823.9 376.8l0.6 6M823.9 376.8l0.8-0.8M824.1 236.1l5.5 1.7M824.2 245.3l1.3 0M828.2 466.9l-4 0.4M824.3 305.4l6.2-0.6M825.7 389.2l-1.4-1.6M824.9 383.1l-0.6 4.5M824.3 504.7l6.5-0.2M824.7 260.8l-0.3-0.4M824.4 260.4l0-3.9M824.5 382.8l0.4 0.3M824.6 521.2l9.1 2.3M824.6 521.2l0.4-5.6M824.7 370.6l0 5.4M824.7 370.6l4.2-1.3M830.5 376.3l-5.8-0.3M824.7 260.8l0.7 5.2M824.7 260.8l3.8-1.2M830.1 382.7l-5.2 0.4M825 419.3l0.3 5.8M825 419.3l3.7-2.2M825 515.6l8-2.6M825.7 531.1l-0.6-0.5M825.1 319.4l0.5 0.6M825.1 319.4l0.1-5M825.2 314.4l6.3-2.5M825.3 327.8l1.3 0.7M825.6 320l-0.3 7.8M826 425.5l-0.7-0.4M832.6 267l-7.2-1M825.8 438.4l-0.4-4.9M827.6 431.5l-2.2 2M825.9 395.2l-0.4-0.3M825.5 394.9l0.2-5.7M825.6 320l7.3 1.3M825.8 532.4l-0.1-1.3M825.7 531.1l8-2.1M831.1 388.8l-5.4 0.4M828.1 440.1l-2.3-1.7M827.8 399.4l-1.9-4.2M832.3 392.4l-6.4 2.8M827.6 431.5l-1.6-6M832.2 423.8l-6.2 1.7M828.2 406.5l-1.9-1.2M826.3 405.3l0-3.9M827.8 399.4l-1.5 2M826.5 276l1.1 6.6M826.5 276l0.3-0.6M828.6 334.6l-2-6.1M833.2 326.2l-6.6 2.3M828.1 343.4l-1.3-6.3M826.8 337.1l1.8-2.5M833.3 272.6l-6.5 2.8M829.1 363.7l-2.1-5.2M829.2 355.7l-2.2 2.8M827.1 290.5l2.6 6.7M827.4 290l-0.3 0.5M827.7 451.1l-0.6-5.7M827.9 444.4l-0.8 1M827.4 290l0.1-7.1M827.4 290l8.2-0.2M827.5 282.9l0.1-0.3M827.6 431.5l4.8 0.7M827.6 282.6l6.5-0.5M829.5 452.6l-1.8-1.5M827.8 399.4l4.8 0.7M834.3 446.2l-6.4-1.8M828.1 440.1l-0.2 4.3M828 343.4l1 7.1M828 343.4l0.1 0M828.1 459.1l0.6 0.5M829.5 452.6l-1.4 6.5M828.1 343.4l7-1M832.2 438.5l-4.1 1.6M830.6 471.9l-2.4-5M828.2 466.9l1.3-2.1M828.2 412.6l0.3 0.3M828.2 406.5l0 6.1M828.2 406.5l5-1.1M828.3 488.6l3 6.8M830 486.7l-1.7 1.9M828.3 351.7l0.9 4M829 350.5l-0.7 1.2M828.7 417.1l-0.2-4.2M833.4 411.6l-4.9 1.3M833.5 334l-4.9 0.6M828.7 459.6l0.8 5.2M828.7 459.6l6.8-0.3M831.5 419.1l-2.8-2M828.7 364.3l0.2 5M828.7 364.3l0.4-0.6M830.1 370.1l-1.2-0.8M836.7 350.6l-7.7-0.1M833.5 362.8l-4.4 0.9M834 357.5l-4.8-1.8M829.5 452.6l5.4-1.2M829.5 464.8l7.2 0.9M829.7 238.4l-0.1-0.6M829.6 237.8l1-0.8M829.7 212l0.5 8.4M831.5 228.4l-1.8-7.3M829.7 221.1l0.5-0.7M829.7 297.2l0.1 0.1M829.8 297.3l0.7 7.5M835.3 296.2l-5.5 1.1M829.9 480.8l0.1 5.9M832.2 478.5l-2.3 2.3M829.9 473.5l2.3 5M829.9 473.5l0.7-1.6M838.6 486.7l-8.6 0M831.1 388.8l-1-6.1M830.7 382.1l-0.6 0.6M830.5 376.3l-0.4-6.2M830.1 370.1l4.8-0.8M832.8 219.9l-2.6 0.5M830.5 304.8l1 0.9M831.1 376.8l-0.6-0.5M836.6 469.6l-6 2.3M836.4 383.1l-5.7-1M831.1 376.8l-0.4 5.3M831.8 505.5l-1-1M832.4 496.2l-1.6 8.3M836.5 375.6l-5.4 1.2M832.1 389.7l-1-0.9M832.4 496.2l-1.1-0.8M831.4 228.4l1.7 5.3M831.5 228.4l-0.1 0M834.3 227.7l-2.8 0.7M831.5 305.7l0 6.2M838.2 304.1l-6.7 1.6M831.5 311.9l0.2 0.1M832.2 423.8l-0.7-4.7M831.5 419.1l3.3-2M839.4 312.5l-7.7-0.5M834 320.1l-2.3-8.1M833 513l-1.2-7.5M840.6 504l-8.8 1.5M832.3 392.4l-0.2-2.7M832.1 389.7l5-2.8M832.2 438.5l1.4 0.7M832.2 438.5l0.2-6.3M832.2 478.5l4.1 0.4M833.7 424.8l-1.5-1M832.3 392.4M832.3 392.4l6.2 1.2M832.3 392.4l0.9 7.2M838.1 494.7l-5.7 1.5M832.4 432.2l0.8-0.5M832.6 267l0.8 1.1M834 260.7l-1.4 6.3M832.6 400.1l0.6 5.3M832.6 400.1l0.6-0.5M833.2 326.2l-0.3-4.9M834 320.1l-1.1 1.2M834 513.7l-1-0.7M833.2 431.7l5.5 1M833.7 424.8l-0.5 6.9M834.8 327.7l-1.6-1.5M833.2 399.6l5.6-1.2M833.2 405.4l0.2 0.1M833.3 272.6l1.3 1.2M833.3 272.6l0.1-4.5M833.4 405.5l6.2 0.4M833.4 411.6l0-6.1M839.9 267l-6.5 1.1M835.1 412.6l-1.7-1M835.3 364.2l-1.8-1.4M834 357.5l-0.5 5.3M836.1 336.1l-2.6-2.1M834.8 327.7l-1.3 6.3M833.6 439.2l1.1 6.5M833.6 439.2l5.5-0.6M833.7 424.8l4.5-0.8M833.7 523.5l0.7 4.7M834.7 521.6l-1 1.9M833.8 528.9l0.6-0.7M833.9 260.6l0.1 0.1M834 260.7l5.9-0.5M836.9 356l-2.9 1.5M834 513.7l0.7 7.9M834 513.7l7.3-0.9M834 320.1l5.5-1M834.5 282.3l-0.4-0.2M834.6 273.8l-0.5 8.3M834.9 451.4l-0.6-5.2M834.3 446.2l0.4-0.5M834.9 528.2l-0.5 0M835.6 289.8l-1.1-7.5M834.5 282.3l6.2-0.5M834.6 273.8l7.2 1M834.7 445.7l5.5-2.4M843.7 520.7l-9 0.9M834.8 327.7l5.2 0.1M838.1 418.7l-3.3-1.6M835.1 412.6l-0.3 4.5M836.5 375.6l-1.6-6.3M834.9 369.3l0.1-0.1M835.4 451.7l-0.5-0.3M841.7 369.3l-6.7-0.1M835.3 364.2l-0.3 5M835.1 412.6l4.9-1M835.1 342.4l1.1 0.9M836.1 336.1l-1 6.3M835.3 296.2l3.2 2.2M836.1 290.2l-0.8 6M840.4 363.2l-5.1 1M836.6 457l-1.2-5.3M835.4 451.7l6.1-1.5M835.5 459.3l1.9 5.3M836.6 457l-1.1 2.3M836.1 290.2l-0.5-0.4M841.9 334.3l-5.8 1.8M843.3 289.2l-7.2 1M836.2 343.3l0.9 6.8M843.9 342.5l-7.7 0.8M836.3 478.9l2.3 7.8M837.6 477.7l-1.3 1.2M837.1 386.9l-0.7-3.8M838 381.3l-1.6 1.8M837.2 375.9l-0.7-0.3M838.4 471.7l-1.8-2.1M836.6 469.6l0.1-3.9M836.6 457l5.9 0.6M836.7 465.7l0.7-1.1M836.7 350.6l0.2 5.4M837.1 350.1l-0.4 0.5M839.9 357.4l-3-1.4M837.1 350.1l6.8-0.4M837.5 387.1l-0.4-0.2M837.2 375.9l0.8 5.4M842 374.1l-4.8 1.8M842.8 463.6l-5.4 1M838.9 393.1l-1.4-6M843.2 387l-5.7 0.1M837.6 477.7l8.7 0.9M838.4 471.7l-0.8 6M843.1 381.9l-5.1-0.6M838.2 424l-0.1-5.3M838.1 418.7l2.8-2.2M840.3 496.4l-2.2-1.7M839.2 487.3l-1.1 7.4M838.2 304.1l1.7 7.9M838.2 304l0 0.1M846 304.7l-7.8-0.7M838.5 298.4l-0.3 5.6M838.2 424l0.5 0.2M838.4 471.7l6.2-0.5M838.5 393.6l0.3 4.8M838.9 393.1l-0.4 0.5M844.1 295.6l-5.6 2.8M839.2 487.3l-0.6-0.6M838.7 424.2l1.6 6.2M838.7 424.2l6.5-1.4M840.2 436.8l-1.5-4.1M838.7 432.7l1.6-2.3M838.8 398.4l0.5 0.4M843.9 391.5l-5 1.6M840.2 443.3l-1.1-4.7M839.1 438.6l1.1-1.8M845.4 485.5l-6.2 1.8M839.6 405.9l-0.3-7.1M839.3 398.8l4.6-0.2M839.5 319.1l-0.1-6.6M839.4 312.5l0.5-0.5M839.5 319.1l1.1 0.8M839.9 406.2l-0.3-0.3M840.9 362.4l-1-5M844.3 355l-4.4 2.4M839.9 260.2l1.7 4.3M839.9 260.2l0.9-1.7M839.9 267l2.6 7M841.6 264.5l-1.7 2.5M840.2 411.2l-0.3-5M839.9 406.2l5.1-1.4M846.5 311.1l-6.6 0.9M840.9 416.5l-0.9-4.9M840.2 411.2l-0.2 0.4M841.9 334.3l-1.9-6.5M840 327.8l1-1.3M845.4 436.7l-5.2 0.1M840.2 443.3l1.6 1.1M840.2 411.2l6.9 0.4M840.3 496.4l0.9 6.7M847.5 495.2l-7.2 1.2M845.3 429.8l-5 0.6M841.8 369l-1.4-5.8M840.9 362.4l-0.5 0.8M840.6 319.9l0.4 6.6M848.4 318.7l-7.8 1.2M842.4 511.5l-1.8-7.5M840.6 504l0.6-0.9M840.7 281.8l2.7 7.4M840.7 281.8l0.9-1.4M846.6 362.2l-5.7 0.2M840.9 416.5l4.4 2.2M849 326.3l-8 0.2M849.2 503.1l-8 0M841.3 512.8l2.4 7.9M841.3 512.8l1.1-1.3M842.7 451l-1.2-0.8M841.8 444.4l-0.3 5.8M841.6 280.4l8.7 0.8M841.8 274.8l-0.2 5.6M841.6 264.5l6.2 0.9M842 374.1l-0.3-4.8M841.8 369l-0.1 0.3M841.8 444.4l5.7-1.3M842.5 274l-0.7 0.8M847.5 367.6l-5.7 1.4M841.9 334.3l0.5 0.3M842 374.1l0.2 0.1M848 374.8l-5.8-0.6M843.3 381.6l-1.1-7.4M844.8 341.3l-2.4-6.7M842.4 334.6l6.9-3.2M850.5 510.5l-8.1 1M842.8 463.6l-0.3-6M842.7 457.4l-0.2 0.2M842.5 274l5-1.3M842.7 457.4l0-6.4M842.7 451l5.8-0.2M849.9 456.8l-7.2 0.6M844 464.3l-1.2-0.7M843.2 387l-0.1-5.1M843.1 381.9l0.2-0.3M843.9 387.9l-0.7-0.9M843.3 381.6l5.7-1.1M843.3 289.2l0.9 6.3M843.3 289.2l0.1 0M843.4 289.2l6.7-2.4M843.7 520.7l0.8 0.6M843.9 342.5l0.5 6.6M843.9 342.5l0.9-1.2M843.9 391.5l1.2 1.2M843.9 391.5l0-3.6M843.9 398.6l1.1 0.8M845.1 392.7l-1.2 5.9M844.3 355l-0.4-5.3M843.9 349.7l0.5-0.6M843.9 387.9l6.3-1.8M844 464.3l1.4 5.6M844 464.3l5.4-2.3M844.1 295.6l2.8 8M844.2 295.5l-0.1 0.1M844.2 295.5l7.4 0.2M844.5 521.3l-0.3 1.1M844.3 355l2.2 1.4M844.4 349.1l6.8 0.4M850.4 520.3l-5.9 1M846.3 478.5l-1.7-7.3M844.6 471.2l0.8-1.3M844.8 341.3l5-0.3M845 404.8l0-5.4M851.5 398.8l-6.5 0.6M847.1 406l-2.1-1.2M850.2 393.2l-5.1-0.5M845.6 423.2l-0.4-0.4M845.3 418.7l-0.1 4.1M845.3 418.7l2.1-2.3M845.3 429.8l1.5 1.4M845.6 423.2l-0.3 6.6M849.1 493.5l-3.7-8M845.4 485.5l0.9-1.2M846 437.3l-0.6-0.6M845.4 436.7l1.4-5.5M850.3 469.6l-4.9 0.3M850.5 424l-4.9-0.8M846 437.3l1.5 5.8M854.1 435.8l-8.1 1.5M846.5 311.1l-0.5-6.4M846.9 303.6l-0.9 1.1M846.3 478.6l0 5.7M846.3 478.6l0-0.1M855.5 485.1l-9.2-0.8M852.5 476.4l-6.2 2.1M846.9 311.4l-0.4-0.3M846.6 362.2l-0.1-5.8M846.5 356.4l5.6-1.4M846.6 362.2l0.7 0.6M852.4 430.5l-5.6 0.7M846.9 311.4l1.5 7.3M846.9 311.4l7.1-1.7M846.9 303.6l6.2-1.3M847.5 411.2l-0.4-5.2M851.3 403.9l-4.2 2.1M847.4 416.4l-0.3-4.8M847.5 411.2l-0.4 0.4M847.5 367.6l-0.2-4.8M847.3 362.8l6.2-1.5M847.4 416.4l4.5 1M847.5 256.4l-0.1 0M847.5 256.4l7.6 0.2M848.6 264.7l-1.1-8.3M853.9 410.7l-6.4 0.5M847.5 367.6l1.2 1.1M847.5 495.2l1.7 7.9M849.1 493.5l-1.6 1.7M848.1 443.4l-0.6-0.3M847.5 272.7l3.2 8M847.7 272.5l-0.2 0.2M847.8 265.4l-0.1 7.1M847.7 272.5l8.4-0.5M848.6 264.7l-0.8 0.7M848 374.8l1.2 5.3M848 374.8l0.3-0.4M848.1 443.4l0.4 7.4M853.5 442.3l-5.4 1.1M848.3 374.4l0.4-5.7M855.3 373.4l-7 1M848.4 318.7l0.1 0.1M850.4 456.2l-1.9-5.4M848.5 450.8M855.9 448.2l-7.4 2.6M849.1 326.2l-0.6-7.4M854.8 317.8l-6.3 1M848.6 264.7l6-0.4M853.8 368l-5.1 0.7M850.6 385.5l-1.6-5M849.2 380.1l-0.2 0.4M849 326.3l0.3 5.1M849.1 326.2l-0.1 0.1M855.5 493.2l-6.4 0.3M849.1 326.2l7.9-0.7M849.2 503.1l0.7 0.5M854.7 378.8l-5.5 1.3M849.3 331.4l1.6 1.5M849.4 462l1.8 1.6M849.9 456.8l-0.5 5.2M851.3 341.9l-1.5-0.9M849.8 341l1.1-8.1M849.9 503.6l0.6 6.9M857.1 500.1l-7.2 3.5M849.9 456.8l0.5-0.6M851.9 288.1l-1.8-1.3M850.1 286.8l0.2-5.6M850.9 392.2l-0.7-6.1M850.2 386.1l0.4-0.6M850.2 393.2l1.5 5M850.9 392.2l-0.7 1M852.5 476.4l-2.2-6.8M850.7 469.2l-0.4 0.4M850.7 280.7l-0.4 0.5M850.4 456.2l6.1-0.2M851.2 520.9l-0.8-0.6M850.8 510.8l-0.4 9.5M850.8 510.8l-0.3-0.3M850.5 424l2.2 5.7M850.5 424l2.9-2.9M855.7 385.7l-5.1-0.2M850.7 280.7l6.6-2M850.7 469.2l0.5-5.6M850.7 469.2l6.6 0M858.9 510.9l-8.1-0.1M856.5 391l-5.6 1.2M850.9 332.9l6.3 0.4M853 527.1l-1.8-6.2M859.9 518.7l-8.7 2.2M851.2 349.5l0.9 5.5M852.2 348.2l-1 1.3M851.2 463.6l6.1 0.1M854.6 409.9l-3.3-6M851.3 403.9l0.7-1.5M852.2 348.2l-0.9-6.3M851.3 341.9l6.5-1.8M851.5 398.8l0.5 3.6M851.7 398.2l-0.2 0.6M851.6 295.7l1.7 6.4M853.1 293.6l-1.5 2.1M856.2 397.3l-4.5 0.9M853.1 293.6l-1.2-5.5M851.9 288.1l7.1-1.7M851.9 417.4l1.5 3.7M851.9 417.4l2.3-2.9M858 403.7l-6-1.3M852.1 355M852.1 355l1.4 6.3M859.4 353.9l-7.3 1.1M852.2 348.2l7.6 0M854.2 435.6l-1.8-5.1M852.7 429.7l-0.3 0.8M853.9 476.7l-1.4-0.3M852.7 429.7l5.8-2.6M854 309.7l-0.9-7.4M853.3 302.1l-0.2 0.2M853.1 293.6l7.6 0.7M860 301.2l-6.7 0.9M853.4 421.1l4.7 0.7M853.6 361.3l-0.1 0M854.3 442.8l-0.8-0.5M853.5 442.3l0.6-6.5M854 367.6l-0.4-6.3M858.3 361l-4.7 0.3M853.8 368l1.7 5.2M854 367.6l-0.2 0.4M855.8 484.8l-1.9-8.1M853.9 476.7l4-2.2M853.9 410.7l0.3 3.8M854.6 409.9l-0.7 0.8M859.2 366.8l-5.2 0.8M854.5 310.1l-0.5-0.4M854.1 435.8l0.1-0.2M854.2 435.6l5.2-0.2M854.2 414.5l4.5 2.2M855.9 448.2l-1.6-5.4M854.3 442.8l7.6-1.3M855.4 317.2l-0.9-7.1M860.7 309.1l-6.2 1M854.6 409.9l2.7-0.8M854.6 264.3l1.5 7.7M854.6 264.3l1.5-1.5M854.7 378.8l2.1 1.6M854.7 378.8l0.6-5.4M854.7 528.6l5.3-0.7M854.8 317.8l2.5 7.2M855.4 317.2l-0.6 0.6M855 252l0.5 4M855.1 256.6l1 6.2M855.1 256.6l0.4-0.6M855.3 373.4l0.2-0.2M855.4 317.2l6.8-0.9M860.8 373.1l-5.3 0.1M855.6 493l-0.1-7.9M855.5 485.1l0.3-0.3M855.5 493.2l1.6 6.9M855.5 493.2l0.1-0.2M855.5 256l6.5-1.1M855.6 493l9.4-1.5M855.7 385.7l0.8 5.3M856.1 385.3l-0.4 0.4M855.8 484.8l7.6-2M856.3 448.6l-0.4-0.4M856.1 262.8l6.4 0.8M862.1 385.9l-6-0.6M856.8 380.4l-0.7 4.9M856.1 272l1 0.8M856.2 397.3l1.8 1M857.6 391.8l-1.4 5.5M856.3 448.6l1 6.7M856.3 448.6l4.6-1.1M857.6 391.8l-1.1-0.8M857.7 463l-1.2-7M856.5 456l0.8-0.7M860.8 379.3l-4 1.1M857 325.5l1.4 6.2M857 325.5l0.3-0.5M857.1 500.1l2.5 1.8M857.3 278.7l-0.2-5.9M862.7 270.5l-5.6 2.3M858.4 338.8l-1.2-5.5M857.2 333.3l1.2-1.6M857.3 455.3l5.1-0.5M857.9 474.5l-0.6-5.3M857.3 469.2l0.5-1.1M858.5 409.8l-1.2-0.7M858.6 404.4l-1.3 4.7M857.3 463.7l0.5 4.4M857.3 463.7l0.4-0.7M857.5 278.9l-0.2-0.2M863.1 323l-5.8 2M865.2 279l-7.7-0.1M857.5 278.9l1.5 7.5M857.6 391.8l3.8-0.2M857.7 463l6.5-0.8M857.8 340.1l2.8 6.9M857.8 340.1l0.6-1.3M864.8 468.4l-7-0.3M857.9 474.5l5.5 2.1M858 403.7l0.6 0.7M858 403.7l0-5.4M863.4 397.6l-5.4 0.7M858.3 422l-0.2-0.2M858.1 421.8l0.6-5.1M858.3 361l0.6 0.4M859.4 353.9l-1.1 7.1M858.3 422l0.2 5.1M858.3 422l6.7-0.8M864.2 331l-5.8 0.7M866.3 338.2l-7.9 0.6M858.5 427.1l2.1 1.6M860.5 415.1l-2-5.3M865.4 408.9l-6.9 0.9M863.7 403.4l-5.1 1M860.5 415.1l-1.8 1.6M858.9 361.4l0.3 5.4M858.9 361.4l4.6-0.1M859 511l-0.1-0.1M858.9 510.9l0.7-9M859 511l0.9 7.7M859 511l8.7-0.6M859.7 286.8l-0.7-0.4M859.2 366.8l1.4 1.1M860.1 353.3l-0.7 0.6M861.9 441.5l-2.5-6.1M861.1 433.5l-1.7 1.9M859.6 501.9l5.5-1.3M861.2 293.7l-1.5-6.9M859.7 286.8l6.8-2.3M860.1 353.3l-0.3-5.1M859.8 348.2l0.8-1.2M859.9 518.7l0.3 0.3M860 527.9l2.4 5.8M860 527.9l0.5-0.8M860 301.2l0.4 0.4M860.7 294.3l-0.7 6.9M860.1 353.3l2.6 1.2M868.8 519.1l-8.6-0.1M860.2 519l0.3 8.1M861.8 248l-1.6 0.1M867.9 302.2l-7.5-0.6M860.4 301.6l0.3 7.5M863.7 415.2l-3.2-0.1M860.5 527.1l8.2-1.1M866.5 345.9l-5.9 1.1M860.6 367.9l0.3 5.1M860.6 367.9l4.9-2.7M860.6 428.7l0.5 4.8M865.8 427l-5.2 1.7M860.7 294.3l0.5-0.6M861.7 309.9l-1-0.8M861.1 378.9l-0.3-5.8M860.8 373.1l0.1-0.1M860.8 379.3l1.3 6.6M860.8 379.3l0.3-0.4M860.9 447.5l2.8 2.2M860.9 447.5l1.2-5.9M865 372.7l-4.1 0.3M867.3 434.5l-6.2-1M866.4 379.6l-5.3-0.7M861.2 293.7l6.1-0.5M861.4 391.6l2.5 4.8M861.4 391.6l1.1-2.1M861.6 534.5l0.8-0.8M861.7 309.9l1.3 5.4M861.7 309.9l7.9-3.3M861.7 247.5l0.1 0.5M861.8 248l0.8 0.6M862.1 441.6l-0.2-0.1M862 254.9l2 2.1M862.6 248.6l-0.6 6.3M866.2 441.4l-4.1 0.2M862.1 385.9l0.1 0M862.2 316.3l0.9 6.7M863 315.3l-0.8 1M862.2 385.9l0.3 3.6M868 383.5l-5.8 2.4M862.4 533.7l4.4 1.2M862.7 455.1l-0.3-0.3M863.7 449.7l-1.3 5.1M862.5 389.5l6.5 0.5M862.7 270.5l-0.2-6.9M862.5 263.6l0.9-0.7M868.5 247.4l-5.9 1.2M862.7 270.5l1.9 1M862.7 354.5l2.1 4.4M868.3 352l-5.6 2.5M864.5 461.6l-1.8-6.5M862.7 455.1l6.7-0.1M863 315.3l6-0.1M863.1 323l1.7 1.1M863.4 262.9l7.6 1.4M863.4 262.9l0.6-5.9M863.4 482.8l1.5 1.5M863.4 476.6l0 6.2M863.4 476.6l0.6-0.5M863.4 397.6l1.2 3.8M863.9 396.4l-0.5 1.2M865.5 365.2l-2-3.9M863.5 361.3l1.3-2.4M863.7 403.4l1.8 5.3M864.6 401.4l-0.9 2M863.7 449.7l4.6-1.8M863.7 415.2l1.3 6M866 413l-2.3 2.2M863.9 396.4l5.1-2M864.8 468.4l-0.8 7.7M864 476.1l7.2-1.1M864 257l5.8-1.4M866 467.1l-1.8-4.9M864.5 461.6l-0.3 0.6M864.2 331l2.2 7.1M865.5 329.5l-1.3 1.5M870.1 459.6l-5.6 2M870.6 401.7l-6-0.3M865.2 279l-0.6-7.5M864.6 271.5l6.2-1M869 358.2l-4.2 0.7M864.8 324.1l0.7 5.4M870.8 321.9l-6 2.2M864.8 468.4l1.2-1.3M865 491.5l-0.1-7.2M864.9 484.3l8.2-0.9M865 421.2l1.5 0.9M865 491.5l0.1 0.1M867.9 376.8l-2.9-4.1M867.2 370.2l-2.2 2.5M873.1 492.6l-8-1M865.1 500.6l0-9M865.1 500.6l2.4 1.2M865.2 279l0.3 0.2M866 413l-0.6-4.1M865.4 408.9l0.1-0.2M871.9 330.3l-6.4-0.8M871.6 406.9l-6.1 1.8M866.3 365.6l-0.8-0.4M865.5 279.2l1 5.3M865.5 279.2l7.1-2.6M867.9 433.7l-2.1-6.7M865.8 427l0.6-0.8M866 413l4.7 2M866 467.1l4.3 0.5M868.3 447.9l-2.1-6.5M866.2 441.4l1.9-2M866.5 345.9l-0.2-7.7M866.4 338.1l-0.1 0.1M867.2 370.2l-0.9-4.6M866.3 365.6l3.7-1.4M866.4 426.2l6.9 2M866.5 422.1l-0.1 4.1M868 383.5l-1.6-3.9M866.4 379.6l1.5-2.8M872.4 336.8l-6 1.3M867.6 285.3l-1.1-0.8M866.5 422.1l4.9-2.2M867.5 346.5l-1-0.6M867.1 538.6l-0.3-3.7M866.8 534.9l2.8-2.1M872.1 371.3l-4.9-1.1M869.5 298.5l-2.2-5.3M867.9 292.5l-0.6 0.7M868.1 439.4l-0.8-4.9M867.9 433.7l-0.6 0.8M868.8 509l-1.3-7.2M867.5 501.8l6.2-2.8M867.5 346.5l0.8 5.5M874.7 345.1l-7.2 1.4M867.9 292.5l-0.3-7.2M867.6 285.3l6.2-1.1M869.3 518.3l-1.6-7.9M867.7 510.4l1.1-1.4M872.7 375.7l-4.8 1.1M867.9 433.7l5.5-2.3M875.1 291.2l-7.2 1.3M867.9 302.2l1.9 3.9M867.9 302.2l1.6-3.7M868 383.5l0.2 0.1M874 440.2l-5.9-0.8M868.2 383.6l0.9 6.3M873.3 382.7l-5.1 0.9M868.3 352l1.9 1.7M869.3 448.5l-1-0.6M868.5 247.4l0.2 0.2M868.5 245l0 2.4M874.8 247.8l-6.1-0.2M868.7 247.6l1.1 8M868.7 526l0.9 6.8M869.4 524.9l-0.7 1.1M868.8 519.1l0.6 5.8M868.8 519.1l0.5-0.8M868.8 509l7.7-0.1M871.1 320.6l-2.1-5.4M869 315.2l1.6-2.1M869 394.4l0-4.4M869.1 389.9l-0.1 0.1M869 394.4l2 1.2M869 358.2l1.8 2M870.2 353.7l-1.2 4.5M874.8 388.8l-5.7 1.1M870 454.2l-0.7-5.7M874.6 446.9l-5.3 1.6M869.3 518.3l8-1.3M878.3 526.1l-8.9-1.2M870.1 459.6l-0.7-4.6M870 454.2l-0.6 0.8M875.1 298.1l-5.6 0.4M870.6 313.1l-1-6.5M869.8 306.1l-0.2 0.5M876.8 534.4l-7.2-1.6M875.7 305.4l-5.9 0.7M869.8 255.6l0.4 0.2M877 454.2l-7 0M870 364.2l2.5 1.6M870 364.2l0.8-4M870.1 459.6l1 0.8M875.4 353.1l-5.2 0.6M870.2 255.8l2.8 5.9M877 252.6l-6.8 3.2M871.2 475l-0.9-7.4M870.3 467.6l0.7-0.6M870.6 313.1l7 0.2M870.6 401.7l1 5.2M870.6 401.7l0.7-0.9M870.7 415l0.7 4.9M872.5 413.2l-1.8 1.8M870.8 270.5l1.8 6.1M870.8 270.5l0.8-1.5M870.8 360.2l5.7-1.1M873.2 325.3l-2.4-3.4M871.1 320.6l-0.3 1.3M871.1 460.4l-0.1 6.6M877.8 466.9l-6.8 0.1M871 395.6l0.3 5.2M871 395.6l4-1.1M871.6 269l-0.6-4.7M873 261.7l-2 2.6M871.1 320.6l7.1-2.7M876.9 459.8l-5.8 0.6M871.2 475.1l0-0.1M873.9 482.2l-2.7-7.1M879.2 472.2l-8 2.9M871.3 400.8l5.6 0M871.4 419.9M871.4 419.9l2.8 6.7M878.6 419l-7.2 0.9M872.3 407.3l-0.7-0.4M871.6 269l7.8 0.6M873.5 332.9l-1.6-2.6M871.9 330.3l1.3-5M872.1 371.3l0.6 4.4M872.1 371.3l0.3-0.3M872.5 413.2l-0.2-5.9M872.3 407.3l4-0.5M872.4 336.8l2.2 3M873.5 332.9l-1.1 3.9M872.4 371l0.1-5.2M872.4 371l6.1-1.3M872.5 413.2l5.6 0.3M872.5 365.8l5.3-1.4M872.6 276.6l1.4 1M872.8 375.8l-0.1-0.1M872.8 375.8l0.9 6.5M872.8 375.8l5.8-0.4M876.1 542.3l-3.1 0.3M873 261.7l4.6-0.6M873.1 483.4l1.8 7.3M873.9 482.2l-0.8 1.2M873.1 492.6l0.6 6.4M873.1 492.6l1.8-1.9M879.5 324.7l-6.3 0.6M873.4 431.4l-0.1-3.2M874.2 426.6l-0.9 1.6M873.3 382.7l1.5 6.1M873.7 382.3l-0.4 0.4M875.3 433l-1.9-1.6M879.7 331.7l-6.2 1.2M875.7 500.2l-2-1.2M879.3 381.8l-5.6 0.5M875.3 291l-1.5-6.8M873.8 284.2l0.6-0.8M873.9 482.2l5.8-1.3M874.4 440.7l-0.4-0.5M874 440.2l1.3-7.2M874.4 283.4l-0.4-5.8M874 277.6l5.4-1.9M879.8 425l-5.6 1.6M874.4 440.7l0.2 6.2M881.7 439.8l-7.3 0.9M881.4 284.1l-7-0.7M874.7 345.1l-0.1-5.3M881 338.3l-6.4 1.5M875.6 447.5l-1-0.6M874.7 345.1l0.2 0.2M874.8 247.8l2.2 4.8M877 245.1l-2.2 2.7M875.3 389.1l-0.5-0.3M874.9 490.7l6.4 0.1M876.3 351.8l-1.4-6.5M874.9 345.3l7.7-0.6M875 394.5l2 6.1M876.2 393.2l-1.2 1.3M875.1 298.1l1.3 0.9M875.1 298.1l0-6.9M875.1 291.2l0.2-0.2M875.3 291l4.9 0.1M875.3 389.1l0.9 4.1M880.8 386.7l-5.5 2.4M875.3 433l6.1 0M875.4 353.1l1.1 6M876.3 351.8l-0.9 1.3M877 454.2l-1.4-6.7M881.1 446.4l-5.5 1.1M876.5 508.9l-0.8-8.7M883.3 498.9l-7.6 1.3M875.7 305.4l2.2 7.4M875.7 305.4l0.4-0.4M876 240.3l1 4.8M876.9 543.2l-0.8-0.9M876.8 534.4l-0.7 7.9M876.1 305l0.3-6M882.4 305l-6.3 0M876.2 393.2l5.4 1M877.6 407.6l-1.3-0.8M876.3 406.8l0.6-6M881.8 352l-5.5-0.2M876.4 299l5.4-1.4M876.5 508.9l0.4 0.3M876.5 359.1l0.1 0.1M877.8 364.4l-1.2-5.2M882.7 357.6l-6.1 1.6M876.8 534.4l0.8-0.7M876.9 400.8l0.1-0.2M877.9 466.6l-1-6.8M877.2 459.4l-0.3 0.4M876.9 509.2l0.4 7.8M876.9 509.2l6.8-1.5M876.9 543.2l1 7.1M876.9 543.2l9.8-1.3M878.8 253.6l-1.8-1M883.3 246.1l-6.3-1M881 400l-4 0.6M877 454.2l0.1 0.1M877.2 459.4l-0.1-5.1M883.3 452.7l-6.2 1.6M877.2 459.4l6.8 0.3M877.2 568.4l3.3-0.8M877.3 517l0.1 0.1M877.3 551.1l0.2-0.1M878.8 525.6l-1.4-8.5M877.4 517.1l8.3-0.5M878.9 558.1l-1.4-7.1M877.5 551l0.4-0.7M877.6 313.3l0.6 4.6M877.9 312.8l-0.3 0.5M877.6 533.7l6.7 0.9M877.6 533.7l0.7-7.6M877.6 261.1l2.5 7.7M878.6 260.2l-1 0.9M878.1 413.5l-0.5-5.9M877.6 407.6l4.5-1.2M879.2 472.2l-1.4-5.3M877.9 466.6l-0.1 0.3M877.8 364.4M877.8 364.4l0.9 4.9M884.5 363.4l-6.7 1M886.6 550.1l-8.7 0.2M877.9 466.6l6.4-2.2M882.9 311.1l-5 1.7M879.8 238.6l-1.8 0.3M878.1 413.5l0.5 0.4M880.5 567.6l-2.3-6.3M878.5 318.2l-0.3-0.3M878.3 526.1l0.5-0.5M878.9 558.1l-0.4 0.7M878.6 375.4l-0.1-5.7M878.5 369.7l0.2-0.4M879.5 324.7l-1-6.5M878.5 318.2l6.5-0.2M878.6 260.2l6.8 0.8M878.8 253.6l-0.2 6.6M878.6 375.4l1.8 1.4M879.2 418.1l-0.6-4.2M878.6 413.9l6.1-2.7M878.6 419l1.4 5.7M878.6 419l0.6-0.9M883.8 369.9l-5.1-0.6M886.2 525l-7.4 0.6M883 251.9l-4.2 1.7M887.4 558l-8.5 0.1M879.2 418.1l6.5-0.2M879.9 472.6l-0.7-0.4M879.3 381.8l1.5 4.9M879.7 381.2l-0.4 0.6M879.4 275.7l0-6.1M879.4 269.6l0.7-0.8M881.9 277.1l-2.5-1.4M879.5 324.7l0.2 7M879.5 324.7M879.5 324.7l5.1-0.4M879.7 331.7l0.3 0.2M879.7 480.9l2.7 1.6M879.9 472.6l-0.2 8.3M879.7 381.2l6.6 0.8M879.7 381.2l0.7-4.4M879.8 425l1.8 7.8M880 424.7l-0.2 0.3M879.9 472.6l4.1-0.1M880 424.7l6-0.6M881.9 336.8l-1.9-4.9M880 331.9l6.8-1.9M886 267.9l-5.9 0.9M880.2 291.1l1.6 6.5M882 289.3l-1.8 1.8M881.7 238.3l-1.4 0.2M884.3 375.5l-3.9 1.3M880.5 567.6l0.6 0.3M881.7 577.1l-0.9 0M882.1 387.5l-1.3-0.8M882.9 344.2l-1.9-5.9M881 338.3l0.9-1.5M881.9 400.9l-0.9-0.9M881.6 394.2l-0.6 5.8M881.9 576.8l-0.8-8.9M881.1 567.9l6.3-2.1M883.5 452.3l-2.4-5.9M882.2 444.9l-1.1 1.5M883.4 498.8l-2.1-8M881.3 490.8l1.1-1.3M881.8 439.6l-0.4-6.6M881.4 433l0.2-0.2M882 289.3l-0.6-5.2M881.4 284.1l1.1-1.3M881.6 578.3l0.1-1.2M886.7 431.6l-5.1 1.2M882.4 393.7l-0.8 0.5M881.7 577.1l0.2-0.3M881.7 439.8l0.5 5.1M881.8 439.6l-0.1 0.2M881.7 238.3l2.8 6.5M883.3 236.2l-1.6 2.1M881.8 352l1.2 5.1M881.8 352l1.9-1.9M881.8 297.6l0.5 0.3M881.8 439.6l6.9 0M882.5 282.8l-0.6-5.7M881.9 277.1l6.6-2.6M881.9 336.8l5 0M882.1 406.4l-0.2-5.5M887.9 400.6l-6 0.3M881.9 576.8l6.6-0.3M882 289.3l6.2 1.1M882.1 387.5l0.3 6.2M885.8 386.3l-3.7 1.2M883.8 407.6l-1.7-1.2M890 446.2l-7.8-1.3M882.3 297.9l0.9 5.9M887.3 296.6l-5 1.3M887 394.1l-4.6-0.4M891.3 489.9l-8.9-0.4M882.4 482.5l0 7M883.6 310.1l-1.2-5.1M882.4 305l0.8-1.2M889.6 479.9l-7.2 2.6M882.5 282.8l6.5 0.3M883.7 350.1l-1.1-5.4M882.6 344.7l0.3-0.5M882.7 357.6l1.9 5.7M883 357.1l-0.3 0.5M887.4 342.7l-4.5 1.5M882.9 311.1l2.6 6.3M883.6 310.1l-0.7 1M883 235.4l0.3 0.8M885.5 253.4l-2.5-1.5M883 251.9l0.3-5.8M883 357.1l6-0.8M889.8 303.5l-6.6 0.3M883.3 236.2l6.9 0.3M884.5 244.8l-1.2 1.3M883.3 498.9l1.3 7.5M883.3 498.9l0.1-0.1M883.3 452.7l2 5.5M883.3 452.7l0.2-0.4M883.4 498.8l7.8-1.8M883.5 452.3l5.7-2.2M883.6 310.1l6.6-0.2M883.7 507.7l2.8 7.6M884.6 506.4l-0.9 1.3M883.7 350.1l4.1 0.6M884.7 411.2l-0.9-3.6M883.8 407.6l5-2.9M884.3 375.5l-0.5-5.6M883.8 369.9l1.5-1.5M884.3 464.4l-0.3-4.7M885.3 458.2l-1.3 1.5M884 472.5l4.5 2.5M884 472.5l2.4-6.7M884.3 375.5l1.1 0.4M884.3 534.6l3 6.6M884.3 534.6l2.9-3.3M886.4 465.8l-2.1-1.4M884.5 244.8l6.8-1.1M885.3 368.4l-0.8-5M884.6 363.3l-0.1 0.1M893 506.3l-8.4 0.1M889.2 361.9l-4.6 1.4M884.6 324.3l2.2 5.7M884.6 324.3l0.3-0.4M886.4 412.6l-1.7-1.4M885 318l-0.1 5.9M884.9 323.9l7.1-1.1M885 318l0.5-0.6M890.4 458.3l-5.1-0.1M885.3 368.4l5.5 1.3M885.4 375.9l0.9 6M885.4 375.9l4.1-0.8M885.4 261l0.6 6.9M886.6 259.7l-1.2 1.3M885.5 317.4l4.8-0.7M886.6 259.7l-1.1-6.3M885.5 253.4l7-2.5M887.8 420.5l-2.1-2.6M885.7 417.9l0.7-5.3M887.6 523.4l-1.9-6.8M886.5 515.3l-0.8 1.3M885.8 386.3l1.4 0.9M886.3 382l-0.5 4.3M886 424.1l2.2 4.8M887.8 420.5l-1.8 3.6M887.4 268.9l-1.4-1M887.2 531.3l-1-6.3M887.6 523.4l-1.4 1.6M886.3 382l0-0.1M886.3 381.9l6.2-0.7M886.4 465.8l5.4-0.3M891.9 411.5l-5.5 1.1M894.6 512.9l-8.1 2.4M886.6 259.7l6.4-0.1M886.6 550.1l0.8 7.9M886.7 550.1l-0.1 0M886.7 550.1l0-8.2M886.7 541.9l0.6-0.7M890.4 436.6l-3.7-5M888.2 428.9l-1.5 2.7M886.7 550.1l7.8-0.5M887.9 330.6l-1.1-0.6M886.9 584.8l4.6-1M887.4 342.7l-0.5-5.9M888.2 335.6l-1.3 1.2M887 394.1l1.6 5.3M887 394.1l1.1-1.1M888.1 393l-0.9-5.8M892.9 386.1l-5.7 1.1M887.2 531.3l5.4 1.4M887.3 541.2l5.2-0.7M887.3 296.6l2.5 6.9M888.2 295.5l-0.9 1.1M889 343.5l-1.6-0.8M888 558.6l-0.6-0.6M888.5 274.5l-1.1-5.6M894.5 265.6l-7.1 3.3M887.4 565.8l3.1 8.7M887.8 565.4l-0.4 0.4M894.2 523.5l-6.6-0.1M887.8 420.5l6.3-0.7M887.8 565.4l8.9 0.9M888 558.6l-0.2 6.8M887.8 350.7l1.2 5.6M887.8 350.7l1.6-1.2M887.9 400.6l0.9 4.1M888.6 399.4l-0.7 1.2M888.2 335.6l-0.3-5M887.9 330.6l4.5-2M895.7 557l-7.7 1.6M888.1 393l6.2-1M895.7 427.5l-7.5 1.4M888.2 290.4l0 5.1M890.3 288.5l-2.1 1.9M888.2 295.5l5.8 1.3M893 337l-4.8-1.4M888.5 475l1.1 4.9M888.5 475l4.6-5.8M889.4 275.2l-0.9-0.7M891.5 583.8l-3-7.3M888.5 576.5l2-2M888.6 399.4l4.8-0.7M890.5 445.6l-1.8-6M888.7 439.6l1.7-3M890.2 405.6l-1.4-0.9M889 356.3l0.9 0.7M890.3 288.5l-1.3-5.4M889 283.1l1-1.6M889 343.5l0.4 6M889 343.5l5-1.5M889.2 229.9l2.3 1.2M889.2 361.9l1 0.8M889.9 357l-0.7 4.9M892.4 454.6l-3.2-4.5M889.2 450.1l0.8-3.9M889.4 349.5l4.8 0.4M890 281.5l-0.6-6.3M896.7 274.4l-7.3 0.8M889.5 375.1l3 6.1M890.8 373.2l-1.3 1.9M890.7 480.5l-1.1-0.6M890.4 303.9l-0.6-0.4M894.3 356.1l-4.4 0.9M898.1 281.8l-8.1-0.3M890 446.2l0.5-0.6M890.2 236.5l2.1 4.6M891.5 231.1l-1.3 5.4M891.9 411.5l-1.7-5.9M890.2 405.6l5.1-2.3M890.2 362.7l2.1 5.4M896.3 361.2l-6.1 1.5M890.2 309.9l0.1 6.8M890.4 309.8l-0.2 0.1M894.4 289.1l-4.1-0.6M890.3 316.7l0.5 0.4M890.4 436.6l6.4-0.9M890.4 309.8l6.8 0.4M890.4 309.8l0-5.9M890.4 458.3l2.1 5.3M890.4 458.3l2-3.7M890.4 303.9l4.2-2M890.5 574.5l6-0.8M890.5 445.6l7.5-0.9M892.2 211.7l-1.6-0.8M891.9 489.1l-1.2-8.6M890.7 480.5l4.8-1M892.5 321.8l-1.7-4.7M898.8 314.3l-8 2.8M890.8 373.2l5.6 1.7M890.8 369.7l0 3.5M890.8 369.7l1.5-1.6M893.4 505.5l-2.2-8.5M891.2 497l0.1-0.2M891.3 496.8l0-6.9M891.9 489.1l-0.6 0.8M891.3 496.8l2.6 0M893.3 248.4l-2-4.7M892.3 241.1l-1 2.6M891.5 583.8l0.4 0.3M895.4 228.7l-3.9 2.4M893.1 469.2l-1.3-3.7M891.8 465.5l0.7-1.9M893.9 489l-2 0.1M893.4 412.2l-1.5-0.7M892.7 589.4l-0.8-5.3M898.9 581l-7 3.1M892.4 328.6l-0.4-5.8M892.5 321.8l-0.5 1M892.3 219.2l-0.1-7.5M892.2 211.7l7.4-1.2M895.8 367.7l-3.5 0.4M901 238.7l-8.7 2.4M892.4 454.6l6.1-0.7M892.9 328.8l-0.5-0.2M894 541.2l-1.5-0.7M892.5 540.5l0.1-7.8M892.5 250.9l2.3 6.2M892.5 250.9l0.8-2.5M893 221.2l-0.5-0.4M898 321.5l-5.5 0.3M892.6 381.2l-0.1 0M892.5 463.6l7.8-2.6M892.9 386.1l-0.3-4.9M896.9 379.3l-4.3 1.9M895.9 530.3l-3.3 2.4M892.9 328.8l2.3 6M892.9 328.8l7.2-1M892.9 386.1l0.4 0.5M893 506.3l1.6 6.6M893.4 505.5l-0.4 0.8M894 342l-1-5M895.2 334.8l-2.2 2.2M894.5 265.6l-1.5-6M894.8 257.1l-1.8 2.5M893 221.2l2.4 7.5M893 221.2l8.5-3.4M893.1 469.2l4.1 1.7M893.3 248.4l9.5 0.3M893.3 386.6l1 5.3M893.3 386.6l6.7-1.4M893.4 505.5l2-0.7M893.4 412.2l1.2 6.8M893.4 412.2l3.9-2.4M893.4 398.7l1.9 4.6M894.9 396.6l-1.5 2.1M895.7 547.9l-1.7-6.7M901.9 538.1l-7.9 3.1M894.6 301.9l-0.6-5.1M894 296.8l1.9-2.1M894 342l1.5 0.9M895.7 427.5l-1.6-7.7M894.1 419.8l0.5-0.8M894.2 349.9l1.2 4.7M894.2 349.9l1.5-2.1M894.2 523.5l1.7 6.8M894.2 523.5l1.7-1.8M894.3 392l0.6 4.6M894.3 392l0-0.1M894.3 356.1l2 5.1M894.3 356.1l1.1-1.5M894.3 391.9l6.1-0.9M894.4 289.1l1.5 5.6M898.7 286.2l-4.3 2.9M895.7 557l-1.2-7.4M895.7 547.9l-1.2 1.7M898.8 268l-4.3-2.4M894.6 301.9l2.8 1.1M895.7 513.8l-1.1-0.9M894.6 419l7.9-1M901.9 257l-7.1 0.1M894.9 396.6l6.5 1.9M897 592.4l-1.9-0.9M895.2 334.8l5.4-0.2M895.3 403.3l0.5 0.3M900.7 354.7l-5.3-0.1M895.4 228.7l4.5 1M895.5 342.9l0.2 4.9M895.5 342.9l5.3-1.7M895.9 521.7l-0.2-7.9M895.7 513.8l2.9-0.6M895.7 557l1.4 1M903.2 548.2l-7.5-0.3M899.8 348.8l-4.1-1M895.7 427.5l0.2 0.1M896.3 368l-0.5-0.3M897 361.7l-1.2 6M895.8 403.6l1.5 6.2M895.8 403.6l5.2-1.9M901.7 295.6l-5.8-0.9M895.9 427.6l0.9 8.1M903.7 426.3l-7.8 1.3M895.9 521.7l6.1 0.8M901.4 532.4l-5.5-2.1M896.3 368l1.6 5M901.9 367.2l-5.6 0.8M897 361.7l-0.7-0.5M896.4 374.9l0.5 4.4M897.9 373l-1.5 1.9M899 575.9l-2.5-2.2M896.5 573.7l0.2-7.4M897.1 565.8l-0.4 0.5M896.7 274.4l2.7 4.4M898.8 268l-2.1 6.4M896.8 435.7l0.1 0M896.9 435.7l1.8 8.1M905.4 434l-8.5 1.7M899.2 380.1l-2.3-0.8M901.3 361l-4.3 0.7M897.1 593.9l-0.1-1.5M897 592.4l4.3-2.5M905.7 566.1l-8.6-0.3M897.1 558l0 7.8M897.1 558l6.2-1.6M897.2 310.2l1.6 4.1M897.2 310.2l0.8-1.4M897.3 409.8l3.9 0.2M898 308.8l-0.6-5.8M897.4 303l4.1-1.9M902.8 373.1l-4.9-0.1M898 308.8l6.6-1.2M898 444.7l1 8.4M898 444.7l0.7-0.9M899.7 322.9l-1.7-1.4M898 321.5l0.9-7.1M898.7 286.2l-0.6-4.4M899.4 278.8l-1.3 3M898.5 453.9l1.8 7.1M898.5 453.9l0.5-0.8M905.9 443.4l-7.2 0.4M900.1 287l-1.4-0.8M903.6 266.4l-4.8 1.6M898.8 314.3l0.1 0.1M900.7 582.9l-1.8-1.9M898.9 581l0.1-5.1M898.9 314.4l5.6 0.3M899 453.1l8.2-0.8M899 575.9l7-2.5M899.2 380.1l0.8 5.1M899.2 380.1l3.9-1.7M905.8 277.9l-6.4 0.9M899.6 206.6l0.4 3.2M899.6 210.5l1.9 7.3M899.6 210.5l0.4-0.7M899.7 322.9l0.6 4.7M899.7 322.9l6.4-3M900.7 354.7l-0.9-5.9M899.8 348.8l2.9-1.7M901.4 237.9l-1.5-8.2M902.8 227.6l-2.9 2.1M900 385.2l0.6 0.6M900 209.8l9.7-1.1M900.1 287l2.3 7.9M900.1 287l6.8-0.8M900.1 327.8l0.6 6.7M900.3 327.6l-0.2 0.2M900.3 599.2l5.6 0.2M900.3 327.6l7.8-0.2M901.3 461.7l-1-0.7M901.6 391.9l-1.2-0.9M900.4 391l0.2-5.2M905.2 385.1l-4.6 0.7M900.6 334.6l0.3 6.4M900.7 334.5l-0.1 0.1M901.1 354.9l-0.4-0.2M901.3 589.9l-0.6-7M900.7 582.9l8.1-0.8M907.6 333.9l-6.9 0.6M902.7 347.1l-1.9-5.9M900.9 341l-0.1 0.2M900.9 466.3l0.4-4.6M900.9 341l7.4 0M901 238.7l3.5 8.4M901.4 237.9l-0.4 0.8M902 403l-1-1.3M901.4 398.5l-0.4 3.2M902.1 360.2l-1-5.3M901.1 354.9l4.7-2.3M902.7 411l-1.5-1M901.2 410l0.8-7M901.3 461.7l4.4-0.2M901.9 367.2l-0.6-6.2M902.1 360.2l-0.8 0.8M901.3 589.9l4.5 1.5M901.4 237.9l10.6-1.8M901.4 398.5l0.1-0.2M901.9 538.1l-0.5-5.7M904.7 529.3l-3.3 3.1M901.5 301.1l0.9 0.6M901.7 295.6l-0.2 5.5M902.3 218.5l-0.8-0.7M901.6 391.9l-0.1 6.4M901.5 398.3l5.9-0.7M906.3 391.1l-4.7 0.8M901.7 295.6l0.7-0.7M904.3 259.7l-2.4-2.7M901.9 257l0.9-8.3M901.9 367.2l0.5 0.5M902.5 538.7l-0.6-0.6M907.8 404.1l-5.8-1.1M906.9 360.8l-4.8-0.6M902.8 227.6l-0.5-9.1M902.3 218.5l7.8-0.8M904.6 307.5l-2.2-5.8M909.9 300.9l-7.5 0.8M907.7 293.9l-5.3 1M903.6 372.1l-1.2-4.4M902.4 367.7l5-2.1M902.5 418l2.1 7.1M903.4 416.8l-0.9 1.2M902.5 538.7l7.7 0.6M902.5 538.7l0.8 9.4M903.4 416.8l-0.7-5.8M902.7 411l5.2-2.2M905.4 348.2l-2.7-1.1M904.5 247.1l-1.7 1.6M902.8 373.1l0.3 5.3M902.8 373.1l0.8-1M902.8 227.6l7.6 0.6M903.1 378.4l0.4 0.2M903.2 548.2l0.1 8.2M903.3 548.1l-0.1 0.1M903.3 548.1l8-0.8M903.6 556.6l-0.3-0.2M903.4 416.8l8.6-0.1M903.5 378.6l2.1 5.7M903.5 378.6l5.8-0.6M903.6 372.1l5.2-0.1M907.5 275.8l-3.9-9.4M903.6 266.4l1.2-1.6M903.6 556.6l2.9 7.8M913 554.7l-9.4 1.9M903.7 426.3l1.7 7.7M904.6 425.1l-0.9 1.2M904.3 259.7l0.5 5.1M913 254.3l-8.7 5.4M911.2 247.3l-6.7-0.2M904.5 314.7l0.1 0.1M904.5 314.7l0.1-7.1M904.6 307.5l0 0.1M904.7 529.3l-0.1-1.3M904.6 314.8l1.5 5.1M910.6 312.5l-6 2.3M910.1 306.7l-5.5 0.8M904.6 425.1l7.4-0.5M905.7 529.6l-1-0.3M904.8 264.8l10.2 1M905.2 385.1l1.9 4.6M905.2 385.1l0.4-0.8M905.8 352.6l-0.4-4.4M905.4 348.2l3.1-2.3M905.4 434l0.9 0.6M905.6 384.3l5.4-1.9M905.7 566.1l1.5 5.3M906.5 564.4l-0.8 1.7M905.8 277.9l2.3 7.1M907.5 275.8l-1.7 2.1M907.9 353.8l-2.1-1.2M905.9 599.4l-0.1-8M905.8 591.4l3.7-1.7M905.9 599.4l1.2 1.4M905.9 443.4l2.5 7.2M905.9 443.4l0.2-0.1M909.7 580.8l-3.7-7.4M906 573.4l1.2-2M906.1 443.3l0.2-8.7M915.2 441.2l-9.1 2.1M906.1 319.9l0.5 0.3M906.3 391.1l2.1 4.7M907.1 389.7l-0.8 1.4M912.5 433.4l-6.2 1.2M906.5 564.4l6.5-2.2M908.4 327.1l-1.8-6.9M911.6 319.1l-5 1.1M906.8 607.3l0.3-0.3M906.9 360.8l0.9 0.7M906.9 360.8l1-7M906.9 286.2l0.8 7.7M906.9 286.2l1.2-1.2M914.7 607.7l-7.6-0.7M907.1 607l0-6.2M912.1 388.4l-5 1.3M915 597.9l-7.9 2.9M908.3 458.8l-1.1-6.5M907.2 452.3l1.2-1.7M907.2 571.4l7.7-0.1M909.2 402.4l-1.8-4.8M908.4 395.8l-1 1.8M909.4 368.1l-2-2.5M907.8 361.5l-0.4 4.1M907.5 275.8l7.1-0.6M907.6 333.9l0.7 7.1M907.8 333.7l-0.2 0.2M907.7 293.9l1 0.6M907.9 408.8l-0.1-4.7M909.2 402.4l-1.4 1.7M907.8 361.5l5.7-0.8M907.8 333.7l6.9 0.7M907.8 333.7l0.3-6.3M911.3 410.6l-3.4-1.8M907.9 353.8l4.6-0.4M913.7 285.2l-5.6-0.2M908.1 327.4l0.3-0.3M908.9 341.5l-0.6-0.5M913.4 326.5l-5 0.6M912.3 395.3l-3.9 0.5M916 450.3l-7.6 0.3M912.5 348.6l-4-2.7M908.5 345.9l0.4-4.4M908.7 294.5l1.5 5.6M914.8 291.9l-6.1 2.6M908.8 205.7l0.9 3M909.5 589.7l-0.7-7.6M909.7 580.8l-0.9 1.3M910.1 373.4l-1.3-1.4M908.8 372l0.6-3.9M914.9 340.4l-6 1.1M914.5 402.2l-5.3 0.2M909.3 378l2.3 3M910.1 373.4l-0.8 4.6M915.7 366l-6.3 2.1M912.2 590.5l-2.7-0.8M909.7 580.8l6.3-1M909.8 208.8l-0.1-0.1M910.6 217.1l-0.8-8.3M909.8 208.8l7.9-2.4M910.9 305.8l-1-4.9M909.9 300.9l0.3-0.8M916.4 372.7l-6.3 0.7M910.1 306.7l0.5 5.8M910.1 306.7l0.8-0.9M910.1 217.7l1.8 8.9M910.1 217.7l0.5-0.6M915.9 299.1l-5.7 1M910.2 539.3l1.1 8M911.4 538.1l-1.2 1.2M910.4 228.2l1.6 7.9M910.4 228.2l1.5-1.6M918.9 216.6l-8.3 0.5M912.7 313.9l-2.1-1.4M910.9 305.8l5.2 0.5M912.1 388.4l-1.1-6M911.6 381l-0.6 1.4M911.2 247.3l2 6.5M912.5 245.7l-1.3 1.6M911.6 547.6l-0.3-0.3M911.3 410.6l0.9 5.9M915.6 407.5l-4.3 3.1M913.9 320.8l-2.3-1.7M911.6 319.1l1.1-5.2M913.6 553.9l-2-6.3M911.6 547.6l4.6-2M915.5 380.3l-3.9 0.7M919 225.5l-7.1 1.1M912 416.7l0 7.9M912.2 416.5l-0.2 0.2M912 424.6l0.4 0.3M912.5 236.6l-0.5-0.5M912.2 388.4l-0.1 0M912.2 416.5l7.7-0.7M913.4 394.2l-1.2-5.8M918.1 387.5l-5.9 0.9M915 597.9l-2.8-7.4M918.2 587l-6 3.5M914.7 402l-2.4-6.7M912.3 395.3l1.1-1.1M913.3 432.2l-0.9-7.3M912.4 424.9l9.1-1.2M913.9 354.6l-1.4-1.2M912.5 353.4l0-4.8M912.5 245.7l0-9.1M912.5 245.7l10.4-0.7M921.3 235.4l-8.8 1.2M915.2 441.2l-2.7-7.8M913.3 432.2l-0.8 1.2M917.1 345.6l-4.6 3M917.6 313.2l-4.9 0.7M913 554.7l0 7.5M913 554.7l0.6-0.8M913 562.2l1.5 1.1M913 254.3l3.1 9.8M913.2 253.8l-0.2 0.5M913.2 253.8l11.7 0.3M922.4 432.1l-9.1 0.1M913.4 394.2l5.3 0.1M913.4 326.5l2 7M914.4 325.6l-1 0.9M913.5 360.7l2.2 5.3M914.4 359l-0.9 1.7M913.6 553.9l5.8 0.3M913.7 285.2l1.1 6.7M916.5 282.5l-2.8 2.7M914.4 359l-0.5-4.4M913.9 354.6l5.2-2.1M913.9 320.8l0.5 4.8M913.9 320.8l5-2.8M914.4 359l7.7 0.2M914.4 325.6l5.6 0.1M915.6 407.5l-1.1-5.3M914.7 402l-0.2 0.2M914.5 563.3l0.6 7.8M922.5 562.2l-8 1.1M916.5 282.5l-1.9-7.3M916.6 272.4l-2 2.8M914.7 402l5.2-2.6M915.2 339.9l-0.5-5.5M915.4 333.5l-0.7 0.9M917.2 615.2l-2.5-7.5M914.7 607.7l1.6-1.7M915.4 292.2l-0.6-0.3M917.3 345.2l-2.4-4.8M914.9 340.4l0.3-0.5M914.9 571.3l1.1 8.5M914.9 571.3l0.2-0.2M916.6 272.4l-1.6-6.6M915 265.8l1.1-1.7M915.3 598l-0.3-0.1M922.7 570l-7.6 1.1M921.6 338.3l-6.4 1.6M915.9 441.7l-0.7-0.5M915.3 598l1 8M922.3 596.7l-7 1.3M920.3 332.4l-4.9 1.1M920 292.3l-4.6-0.1M916 299l-0.6-6.8M917.5 381.6l-2-1.3M916.9 373.2l-1.4 7.1M919.3 408.9l-3.7-1.4M916.3 366.5l-0.6-0.5M915.9 299.1l1.4 5.7M916 299l-0.1 0.1M916.2 450l-0.3-8.3M923 439.6l-7.1 2.1M922.3 298.2l-6.3 0.8M918 581l-2-1.2M918.3 311.9l-2.2-5.6M917.3 304.8l-1.2 1.5M924.8 261l-8.7 3.1M916.3 366.5l0.1 6.2M916.3 366.5l6-1.6M924.6 605.5l-8.3 0.5M916.4 372.7l0.5 0.5M916.5 282.5l4.5 1M925.7 273.3l-9.1-0.9M916.7 615.4l0.5-0.2M922.1 373.9l-5.2-0.7M917.1 345.6l2.8 5.8M917.1 345.6l0.2-0.4M917.8 616.8l-0.6-1.6M917.2 615.2M925.2 611.7l-8 3.5M922.8 343.9l-5.5 1.3M923.3 303.2l-6 1.6M918.2 387.4l-0.7-5.8M923.7 379.8l-6.2 1.8M917.6 313.2l1.3 4.8M917.6 313.2l0.7-1.3M920.5 212.8l-2.8-6.4M917.7 206.4l1.1-2.5M918.2 587l-0.2-6M924.3 578.6l-6.3 2.4M918.1 387.5l1.4 5.3M918.2 387.4l-0.1 0.1M921.2 589.3l-3-2.3M918.2 202.9l0.6 1M925.6 386l-7.4 1.4M918.3 311.9l4.9-1.1M919.9 399.4l-1.2-5.1M918.7 394.3l0.8-1.5M925 201.9l-6.2 2M918.9 216.6l2.7 6.4M918.9 216.6l1.6-3.8M918.9 318l0.9 0.6M919 225.5l2.3 9.9M921.6 223l-2.6 2.5M922.1 359.2l-3-6.7M919.9 351.4l-0.8 1.1M921 414.2l-1.7-5.3M919.3 408.9l2.9-2.9M926.5 391.9l-7 0.9M919.8 318.6l1 6.4M925.5 317.6l-5.7 1M919.9 399.4M919.9 415.8l1.7 7.7M921 414.2l-1.1 1.6M924.5 350.7l-4.6 0.7M919.9 399.4l2.3 6.6M927 398.6l-7.1 0.8M920 325.7l0.3 6.7M920 325.7l0.8-0.7M920 292.3l2.3 5.9M920 292.3l0.8-0.8M920.2 622.6l6.2-0.3M920.3 332.4l1.2 0.8M920.5 212.8l8.4-0.2M920.8 291.5l0.2-8M920.8 291.5l7.3-0.8M926.2 325.1l-5.4-0.1M921 283.5l4.3-1.2M921 414.2l7.6-0.8M921.2 589.3l1.1 7.4M921.2 589.3l6.7-2.7M921.4 235.5l-0.1-0.1M921.4 235.5l1.5 9.5M921.4 235.5l8.5-2.4M921.6 338.3l-0.1-5.1M927.3 332.1l-5.8 1.1M923.2 431l-1.7-7.3M921.6 423.5l-0.1 0.2M921.6 223l5.5 0.5M921.6 423.5l7.3-2.1M922.9 339.5l-1.3-1.2M922.1 359.2M922.1 359.2l0.2 5.7M922.1 359.2l3.7-1.9M924.2 378.8l-2.1-4.9M923.2 372.5l-1.1 1.4M927.1 405.9l-4.9 0.1M922.3 364.9l1.2 0.9M922.8 298.6l-0.5-0.4M922.5 596.8l-0.2-0.1M923 439.6l-0.6-7.5M922.4 432.1l0.8-1.1M922.5 562.2l0.2 7.8M923 561.4l-0.5 0.8M924.7 605.3l-2.2-8.5M930.9 594.5l-8.4 2.3M923.9 571.1l-1.2-1.1M925.1 345.7l-2.3-1.8M922.8 343.9l0.1-4.4M922.8 298.6l0.6 4.4M922.8 298.6l5.5-3M929.3 337.9l-6.4 1.6M922.9 245l0.5 0.4M923 439.6l1.5 1M923.2 431l6-0.4M923.2 372.5l0.3-6.7M923.2 372.5l7.3-0.8M923.7 311l-0.5-0.2M923.3 303.2l-0.1 7.6M923.4 303l-0.1 0.2M924.9 254.1l-1.5-8.7M933.3 241.7l-9.9 3.7M929.5 304.1l-6.1-1.1M923.5 365.8l4.1-0.2M923.7 311l2 6.4M929.8 309.9l-6.1 1.1M925.6 386l-1.9-6.2M923.7 379.8l0.5-1M923.9 571.1l0.4 7.5M927.9 570.3l-4 0.8M930.5 377.7l-6.3 1.1M926.7 579.9l-2.4-1.3M924.5 441.3l0-0.7M925.3 440.6l-0.8 0M926 352.1l-1.5-1.4M925.1 345.7l-0.6 5M925.2 611.7l-0.6-6.2M924.7 605.3l-0.1 0.2M932.6 603.2l-7.9 2.1M925.4 261.6l-0.6-0.6M924.8 261l0.3-6.7M925.1 254.3l-0.2-0.2M927.5 203.4l-2.5-1.5M925.2 200.5l-0.2 1.4M933.4 252.6l-8.3 1.7M925.1 345.7l5.6-2M927.2 613.2l-2-1.5M928.1 290.7l-2.8-8.4M926.2 281.2l-0.9 1.1M936.4 263.7l-11-2.1M925.4 261.6l0.9 11.1M926.2 325.1l-0.7-7.5M925.7 317.4l-0.2 0.2M925.6 386l0.3 0.2M930.9 316.5l-5.2 0.9M925.7 273.3l0.5 7.9M925.7 273.3l0.6-0.6M928.3 358.6l-2.5-1.3M926 352.1l-0.2 5.2M925.9 386.2l0.9 5M932.7 383.6l-6.8 2.6M932.1 351.1l-6.1 1M934.2 282.1l-8-0.9M926.2 325.1l0.2 0.1M935.9 271.4l-9.6 1.3M926.6 623.1l-0.2-0.8M926.7 621.9l-0.3 0.4M926.4 325.2l1.8 5M926.4 325.2l5.8-3.1M928 397.6l-1.5-5.7M926.8 391.2l-0.3 0.7M926.7 579.9l1.2 6.7M926.7 579.9l5.7-1.8M927.2 613.2l-0.5 8.7M930.7 621.6l-4 0.3M926.8 391.2l7-1.1M927 398.6l0.1 7.3M928 397.6l-1 1M927.1 223.5l3.2 8.6M929.9 220.5l-2.8 3M928.1 406.8l-1-0.9M934.2 612.9l-7 0.3M929.3 337.9l-2-5.8M928.2 330.2l-0.9 1.9M927.5 203.4l1.4 9.2M937.7 201.9l-10.2 1.5M927.6 365.6l3 5.9M929.9 363.2l-2.3 2.4M927.9 586.6l1.7 1.2M932.2 398.1l-4.2-0.5M928.1 406.8l0.6 6.5M928.1 406.8l6.6-2.6M928.1 290.7l0.4 0.3M928.2 330.2l6.8-0.4M928.3 358.6l1.6 4.6M933.7 355.6l-5.4 3M928.3 295.6l1.9 1.7M928.5 291l-0.2 4.6M928.5 291l5-1.4M928.6 413.4l0.3 8M928.6 413.4l0.1-0.1M928.7 413.3l8.3-0.1M928.9 421.4l1.9 1.5M930.4 213.8l-1.5-1.2M929.3 337.9M929.3 337.9l1.4 5.8M936.3 335.5l-7 2.4M929.5 304.1l0.3 5.8M929.5 304.1l1.2-1M930.9 594.5l-1.3-6.7M935.8 585.1l-6.2 2.7M931.1 311l-1.3-1.1M934.5 363.4l-4.6-0.2M929.9 220.5l7.7 2M930.4 213.8l-0.5 6.7M929.9 233.1l3.6 8.1M930.3 232.1l-0.4 1M930.2 297.3l0.5 5.8M930.2 297.3l5.3-0.7M939.4 228.7l-9.1 3.4M930.4 213.8l8.5-3.1M931 378.1l-0.5-0.4M930.5 371.7l0 6M930.6 371.5l-0.1 0.2M936 369.8l-5.4 1.7M930.7 303.1l5.1 0.2M930.7 343.7l0.8 0.5M930.8 422.9l0.3 4.8M936.1 421.4l-5.3 1.5M932.2 317.8l-1.3-1.3M930.9 316.5l0.2-5.5M931.6 595l-0.7-0.5M932.7 383.6l-1.7-5.5M931 378.1l6.2-1.6M937.1 309.7l-6 1.3M933.1 349.1l-1.6-4.9M931.5 344.2l5.9-2.5M932.6 603.2l-1-8.2M931.6 595l5.8-1.2M931.7 182.4l4.3 6.8M933.7 355.6l-1.6-4.5M933.1 349.1l-1 2M932.2 317.8l0 4.3M932.2 317.8l6.5-1.4M934.7 404.2l-2.5-6.1M932.2 398.1l2-1.6M932.2 322.1l2.3 1.8M932.6 603.2l0.9 0.6M932.7 383.6l1.3 0.8M933.1 349.1l6.8-0.1M933.1 180.1l9.9-1.2M935.3 250.2l-2-8.5M933.3 241.7l0.2-0.5M933.4 193.3l4.3 8.6M936 189.2l-2.6 4M937.9 262l-4.5-9.4M935.3 250.2l-1.9 2.4M942.1 239.3l-8.6 1.9M934.2 612.8l-0.7-9M933.5 603.8l3.9-0.5M933.5 289.6l1.2 0.7M934.2 282.1l-0.7 7.5M935.2 356.6l-1.5-1M935.2 391.6l-1.4-1.5M934 384.4l-0.2 5.7M934 384.4l5.2-1.1M935.2 616.4l-1-3.5M934.2 612.9l0-0.1M934.2 282.1l3.4-2.1M934.2 612.8l1.8-0.6M940.8 398.3l-6.6-1.8M934.2 396.5l1-4.9M934.5 363.4l1.2 1M935.2 356.6l-0.7 6.8M934.5 323.9l0.9 5.2M940.3 321.3l-5.8 2.6M934.7 290.3l1.5 4.9M940.7 288.9l-6 1.4M934.7 404.2l2.3 1.1M936.3 335.5l-1.3-5.7M935 329.8l0.4-0.7M935.2 391.6l4.3-0.5M935.2 356.6l4.3-0.7M944.8 250.5l-9.5-0.3M940.7 328.2l-5.3 0.9M935.5 296.6l1.8 5.1M936.2 295.2l-0.7 1.4M935.6 584.5l0.2 0.6M935.7 364.4l0.3 5.4M935.7 364.4l6.3-2.1M935.9 585.1l-0.1 0M937.1 309.7l-1.3-6.4M935.8 303.3l1.5-1.6M935.9 271.4l0.1 0.2M936.4 263.7l-0.5 7.7M936 189.2l7.6-0.9M936 271.6l2.1 7.6M936 271.6l12.7-1.1M936 369.8l1.3 0.9M942.3 294.7l-6.1 0.5M936.3 335.5l0.2 0.2M937.9 262l-1.5 1.7M936.5 335.7l0.9 6M942.4 335l-5.9 0.7M937.2 413l-0.2-7.7M940.5 403.2l-3.5 2.1M937 413.2l1.1 6.1M937 413.2l0.2-0.2M937.7 310.1l-0.6-0.4M937.2 413l9.1-1.4M939.3 383.2l-2.1-6.7M937.2 376.5l0.5-0.8M937.3 370.7l0.4 5M937.3 370.7l4.4-0.7M942.6 301.3l-5.3 0.4M937.4 341.7l2.9 1.5M937.6 222.5l1.8 6.2M940.2 219l-2.6 3.5M937.6 280l3.6 7.9M937.6 280l0.5-0.8M937.9 202.1l-0.2-0.2M938.7 316.4l-1-6.3M943.4 308.4l-5.7 1.7M944.8 376.5l-7.1-0.8M937.9 202.1l1.3 8.2M945.7 197.8l-7.8 4.3M937.9 262l6.9-1.7M938.1 279.2l8.5 0M939.8 317.2l-1.1-0.8M938.9 210.7l1.3 8.3M939.2 210.3l-0.3 0.4M949 211.2l-9.8-0.9M939.2 383.3l1.5 5.5M939.2 383.3l0.1-0.1M943.6 381.7l-4.3 1.5M939.4 228.7l1.8 0.9M942.7 396l-3.2-4.9M939.5 391.1l1.2-2.3M939.5 355.9l1 0.8M939.5 355.9l1-6.3M943 178.9l-3.3-8.7M939.8 317.2l0.5 4.1M939.8 317.2l3.3-1.3M939.9 349l0.6 0.6M940.3 343.2l-0.4 5.8M940.1 169.7l1.6-1.6M940.2 219l8.3 1.9M940.3 343.2l3.1-1.5M940.3 321.3l1 1M940.5 349.6l5.3 0.3M940.5 356.7l1.9 4.8M940.5 356.7l7.2-2.7M940.5 403.2l3.5 1.5M940.5 403.2l0.3-4.9M940.7 288.9l1.6 5.8M941.2 287.9l-0.5 1M940.7 388.8l6.1 0.1M942.3 329.4l-1.6-1.2M941.3 322.3l-0.6 5.9M940.8 398.3l1.9-2.3M941.2 229.6l0.9 9.7M949.2 226.9l-8 2.7M941.2 287.9l6-1.2M941.3 322.3l5.5 0.4M941.7 168.1l-0.1-0.8M941.7 370l3.7 5M941.7 370l2-2.9M950.4 167.6l-8.7 0.5M943.7 367.1l-1.7-4.8M942 362.3l0.4-0.8M944.2 240.5l-2.1-1.2M942.3 329.4l0.1 5.6M942.3 329.4l5.3-1.4M942.8 295.1l-0.5-0.4M942.4 361.5l5.5-1.1M942.4 335l0.1 0.1M942.5 335.1l1.4 5.8M949 333.8l-6.5 1.3M942.6 301.3l1.5 1.3M942.6 301.3l0.2-6.2M942.7 396l4.9-0.8M949.1 293.1l-6.3 2M943 178.9l1.4 0.9M943.4 308.4l1.8 3.1M943.4 308.4l1-2.4M943.4 341.7l3.9 5.8M943.9 340.9l-0.5 0.8M945.7 197.8l-2.1-9.5M944.7 186.5l-1.1 1.8M943.6 381.7l3.6 6.5M943.6 381.7l1.4-1.6M943.7 367.1l5.2 0.6M951.1 339.6l-7.2 1.3M944 404.7l2.7 6.4M944 404.7l5.1-3.7M944.4 306l-0.3-3.4M950.2 300.4l-6.1 2.2M944.9 250.3l-0.7-9.8M944.2 240.5l5.7-1.7M944.4 306l6.4 1.5M944.7 186.5l-0.3-6.7M944.4 179.8l7.2-3.9M955.3 188l-10.6-1.5M944.8 376.5l0.2 3.6M945.4 375l-0.6 1.5M944.8 250.5l0 9.8M944.8 250.5l0.1-0.2M944.8 260.3l0.6 0.4M944.9 250.3l9.3-0.7M951.6 381.4l-6.6-1.3M945.4 260.7l3.3 9.8M956.1 258.8l-10.7 1.9M949.9 372.7l-4.5 2.3M945.7 197.8l1 0.3M947.7 354l-1.9-4.1M947.3 347.5l-1.5 2.4M946.8 416.7l-0.5-5.1M946.3 411.6l0.4-0.5M946.6 279.2l0.7 7.5M948.3 277.6l-1.7 1.6M946.7 198.1l3.2 11.6M955.1 197l-8.4 1.1M946.7 411.1l2.5-0.6M946.7 318.4l0.9 3.2M946.8 322.7l1.1 4.7M947.6 321.6l-0.8 1.1M947.7 395.2l-0.9-6.3M947.2 388.2l-0.4 0.7M952.2 385.7l-5 2.5M947.2 286.7l1.9 6.4M947.3 286.7l-0.1 0M954.7 285.4l-7.4 1.3M951.7 345.8l-4.4 1.7M947.6 328l1.4 5.8M947.9 327.4l-0.3 0.6M947.6 321.6l2.6-0.7M949.1 401l-1.5-5.8M947.6 395.2l0.1 0M954.2 393.8l-6.5 1.4M948.4 354.6l-0.7-0.6M947.9 360.4l1.9 1.6M948.4 354.6l-0.5 5.8M955.1 327l-7.2 0.4M948.3 277.6l4.8 2M948.3 277.6l0.8-6.7M953.9 353.6l-5.5 1M948.5 220.9l0.7 6M951 216.2l-2.5 4.7M949.1 270.9l-0.4-0.4M951 166.7l-2.2-7.1M949.1 368.1l-0.2-0.4M948.9 367.7l0.9-5.7M949 211.2l2 5M949 211.2l0.9-1.5M949.8 334.4l-0.8-0.6M949.3 293.2l-0.2-0.1M952.8 403.4l-3.7-2.4M956.8 269.3l-7.7 1.6M949.1 368.1l0.8 4.6M956.2 366.6l-7.1 1.5M950.7 228l-1.5-1.1M949.3 293.2l1.4 6.5M954.6 292l-5.3 1.2M951.1 339.6l-1.3-5.2M955.2 331.2l-5.4 3.2M955.1 361.2l-5.3 0.8M949.9 209.7l8.7-4.8M953.2 240.2l-3.3-1.4M950.7 228l-0.8 10.8M951.1 373.3l-1.2-0.6M950.2 300.4l1.5 5M950.7 299.7l-0.5 0.7M951.6 175.9l-1.2-8.3M950.4 167.6l0.6-0.9M958.5 228.3l-7.8-0.3M955.4 299.8l-4.7-0.1M950.8 307.5l0.6 3.9M950.8 307.5l0.7-1.1M951 216.2l6.4 0.8M959.6 164.7l-8.6 2M951.8 340.1l-0.7-0.5M951.1 373.3l0.5 8.1M951.1 373.3l5.8-0.2M951.6 381.4l0.8 0.6M954.5 177.1l-2.9-1.2M952.4 346.5l-0.7-0.7M951.7 345.8l0.1-5.7M956.8 339l-5 1.1M954.8 388.3l-2.6-2.6M952.4 382l-0.2 3.7M952.4 382l5.9-2.5M954.1 353.3l-1.7-6.8M952.4 346.5l7.3-0.6M952.8 403.4l0.2 1.6M956.8 399.9l-4 3.5M954.7 285.4l-1.6-5.8M953.1 279.6l5.7-2.2M954.8 248.3l-1.6-8.1M960.2 236.9l-7 3.3M953.9 353.6l2 6.6M954.1 353.3l-0.2 0.3M959.5 351.7l-5.4 1.6M957.3 256.3l-3.1-6.7M954.2 249.6l0.6-1.3M955.5 394.8l-1.3-1M954.8 388.3l-0.6 5.5M955.4 326.6l-1-2.3M957.2 186.1l-2.7-9M962.2 174l-7.7 3.1M955.6 292.5l-1-0.5M955 285.6l-0.4 6.4M954.7 285.4l0.3 0.2M960 387.1l-5.2 1.2M954.8 248.3l8.2-2.9M955 285.6l5.1-0.7M955.1 327l0.1 4.2M955.4 326.6l-0.3 0.4M955.1 361.2l1.1 5.4M955.9 360.2l-0.8 1M955.1 197l2.8 2.1M955.3 188l-0.2 9M955.6 331.6l-0.4-0.4M955.3 188l1.9-1.9M955.4 326.6l1.4-0.4M956.8 399.9l-1.3-5.1M955.5 394.8l5.6-1.6M957 299.3l-1.4-6.8M961.5 291.5l-5.9 1M955.9 360.2l6-0.5M956.1 258.8l2.7 8.4M957.3 256.3l-1.2 2.5M956.2 366.6l0.2 0.2M956.4 366.8l1 5.5M963.6 365l-7.2 1.8M958.5 157.4l-2-0.9M956.8 399.9l0.9 0.3M956.8 269.3l2 8.1M956.8 269.3l2-2.1M956.8 339l2.9 6.9M956.8 339l1-1M956.9 373.1l1.5 6.2M957.4 372.3l-0.5 0.8M957 299.3l-0.1 0.1M963.1 298.2l-6.1 1.1M963.8 186.1l-6.6 0M957.3 256.3l8.5-1.4M957.4 217l2.5 10M960.7 214.6l-3.3 2.4M957.4 372.3l5.5-1.1M957.8 338l-0.3-3.7M957.8 338l3.5 0.1M957.9 199.1l0.7 5.8M966 195.1l-8.1 4M960.3 386.6l-2-7.1M958.3 379.5l0.1-0.2M958.4 379.3l5.9-0.4M958.5 157.4l1.1 7.3M961.2 155.3l-2.7 2.1M960.2 236.9l-1.7-8.6M959.9 227l-1.4 1.3M958.6 204.9l1.6 1.5M958.8 277.4l1 0.7M958.8 267.2l8.5 0.5M961.1 352.7l-1.6-1M959.5 351.7l0.3-5.7M961.8 166l-2.2-1.3M959.7 345.9l0.1 0.1M964.5 344.5l-4.7 1.5M961.3 283.5l-1.5-5.4M959.8 278.1l7.4-3.1M968.4 225l-8.5 2M961.1 393.2l-1.1-6.1M960 387.1l0.3-0.5M960.1 284.9l1.4 6.6M961.3 283.5l-1.2 1.4M969.2 206.4l-9 0M960.2 206.4l0.5 8.2M961.4 237.7l-1.2-0.8M965 386.1l-4.7 0.5M960.7 214.6l6.4 2.3M961.1 352.7l0.8 7M961.1 352.7l5.8-1.3M962.9 394l-1.8-0.8M966.6 283.7l-5.3-0.2M961.4 237.7l1.6 7.7M969.7 236.2l-8.3 1.5M962.4 292.1l-0.9-0.6M962.2 174l-0.4-8M970.7 162.8l-8.9 3.2M962.2 359.8l-0.3-0.1M963.6 364.9l-1.4-5.1M968.9 357.2l-6.7 2.6M964.9 175.9l-2.7-1.9M962.4 292.1l1.3 5.3M967.7 289.2l-5.3 2.9M962.9 394l0.2 1.8M967.8 391.3l-4.9 2.7M962.9 371.2l1.9 1.2M963.6 365l-0.7 6.2M965.6 247.2l-2.6-1.8M963.1 298.2l0.3 1.2M963.1 298.2l0.6-0.8M963.6 364.9l0 0.1M968.8 365.4l-5.2-0.5M963.7 297.4l6.4-0.5M966.5 194.3l-2.7-8.2M963.8 186.1l2.4-2.8M965.9 380l-1.6-1.1M964.8 372.4l-0.5 6.5M964.4 341.2l0.1 3.3M966.2 345.7l-1.7-1.2M970.3 371.6l-5.5 0.8M966.2 183.3l-1.3-7.4M964.9 175.9l7.1-2.6M967.8 391.3l-2.8-5.2M965 386.1l1.8-3.3M966.6 253.9l-1-6.7M972.5 242.7l-6.9 4.5M967.9 266.8l-2.1-11.9M966.6 253.9l-0.8 1M966.8 382.8l-0.9-2.8M965.9 380l5.8-3.9M966 195.1l4.6 9.5M966.5 194.3l-0.5 0.8M966 303.5l5.8-0.3M976.1 184l-9.9-0.7M966.2 345.7l1.4 4.2M969.9 343.7l-3.7 2M968.2 155.1l-2-1.1M966.5 194.3l10.6-1.9M966.6 283.7l1.1 5.5M966.6 283.7l0.3-0.3M975.8 254.2l-9.2-0.3M973.8 384.2l-7-1.4M968.9 357.2l-2-5.8M966.9 351.4l0.7-1.5M971.9 309.6l-4.9 0.7M967.1 216.9l1.3 8.1M970.5 213.1l-3.4 3.8M967.2 275l0.7 6.4M968.6 272.6l-1.4 2.4M967.3 267.7l1.3 4.9M967.9 266.8l-0.6 0.9M972.8 349.6l-5.2 0.3M969.5 330.6l-1.8 0.2M967.7 289.2l2.2 1.1M967.8 391.3l0.6 0.2M975.8 263.9l-7.9 2.9M970.7 162.8l-2.5-7.7M971.3 152.7l-3.1 2.4M973.5 315.8l-5.3 2M968.7 323.5l-0.4 0.2M968.7 323.5l-0.3-0.8M970 225.9l-1.6-0.9M968.4 391.5l0.3 3.6M968.4 391.5l4.7-0.9M973.4 274.8l-4.8-2.2M968.8 323.6l-0.1-0.1M968.8 323.6l1.9 5.7M968.8 323.6l6.2-1.9M968.8 365.4l1.9 5.4M968.8 365.4l1.7-2.3M968.9 357.2l0.4 0.2M969.2 206.4l1.3 6.7M970.6 204.6l-1.4 1.8M969.3 357.4l1.2 5.7M969.3 357.4l5-1.3M970.3 335.7l-0.8-5.1M970.7 329.3l-1.2 1.3M972.5 242.7l-2.8-6.5M971.3 232.8l-1.6 3.4M969.9 290.3l0.8 5.5M969.9 290.3l0.4-0.2M971.3 232.8l-1.3-6.9M978.5 223l-8.5 2.9M970.1 296.9l2.4 4.7M970.1 296.9l0.6-1.1M970.3 371.6l1.4 4.5M970.7 370.8l-0.4 0.8M978 214.6l-7.5-1.5M970.5 363.1l5.6 0.4M977.1 202.7l-6.5 1.9M970.7 295.8l2.5-0.7M971.1 163l-0.4-0.2M970.7 329.3l2.1 0.1M970.7 370.8l6-1.9M970.8 282.6l2.6 0.1M971.1 163l0.9 10.3M971.1 163l8.9-0.9M981.9 234.7l-10.6-1.9M973.2 377.1l-1.5-1M972.7 308.6l-0.9-5.4M971.8 303.2l0.7-1.6M971.9 309.6l1.6 6.2M972.7 308.6l-0.8 1M972 173.3l2.6 1.5M975.4 243.9l-2.9-1.2M972.5 301.6l1.1-0.3M975.1 308.5l-2.4 0.1M973.2 377.1l1.4 6.1M973.2 377.1l5.9-2M973.4 274.8l1.5 6.3M978.5 273.2l-5.1 1.6M973.4 282.7l0.8 3.2M973.4 282.7l1.5-1.6M973.9 316.1l-0.4-0.3M973.8 384.2l0.1 4.9M973.8 384.2l0.8-1M973.9 316.1l1.5 3.9M973.9 316.1l2.4-0.9M974.1 352.4l0.4 3.4M976.5 362.9l-2.2-6.8M974.3 356.1l0.2-0.3M974.5 355.8l1-0.1M980.3 382.1l-5.7 1.1M976.1 184l-1.5-9.2M974.6 174.8l8.3-4.2M980 280.9l-5.1 0.2M975.4 243.9l0.9 9.8M975.4 243.9l5.9-2.8M975.8 263.9l0-9.7M976.3 253.7l-0.5 0.5M975.9 263.9l-0.1 0M981.1 286.9l-5.2 1.3M975.9 263.9l3.7 7.7M975.9 263.9l10.5-1M976.1 363.5l0.8 5.1M976.1 363.5l0.4-0.6M976.1 184l0.2 0.1M977.1 192.4l-0.8-8.3M976.3 184.1l8.5-3.1M976.3 253.7l6.7-0.2M976.5 362.9l2.4-1M976.7 368.9l2.4 6.2M976.7 368.9l0.2-0.3M976.9 368.6l5.8-0.8M977.5 203l-0.4-0.3M977.1 202.7l0.3-10M977.1 192.4l0.3 0.3M986.1 193.2l-8.7-0.5M981.2 211.4l-3.7-8.4M988.6 201l-11.1 2M978 214.6l0.5 8.4M981.2 211.4l-3.2 3.2M978.5 273.2l2.6 6.6M979.6 271.6l-1.1 1.6M979.2 223.4l-0.7-0.4M978.8 150.9l-0.2 0M978.8 150.9l2.2 9.8M978.8 150.9l0.1-0.1M979.1 375.1l1.6 0.8M979.2 223.4l3.3 10.6M987.6 222.2l-8.4 1.2M979.6 271.6l7.6-0.7M981.1 286.9l-1.1-6M981.1 279.8l-1.1 1.1M980 162.1l2.9 8.5M980 162.1l1-1.4M980.3 382.1l0.4 0.3M980.3 382.1l0.4-6.2M984.9 374.3l-4.2 1.6M980.7 382.4l1.2 0.1M980.7 382.4l0 0.9M989.4 158.6l-8.4 2.1M981.1 286.9l0.6 0.3M984.9 279.1l-3.8 0.7M981.2 211.4l5.3 0.2M981.3 241.1l3.4 2.6M981.3 241.1l0.6-6.4M982.5 234l-0.6 0.7M991 231.8l-8.5 2.2M983.7 171.1l-0.8-0.5M985.5 180l-1.8-8.9M993.2 169.3l-9.5 1.8M984.7 243.7l0.3 1.1M985.9 243.1l-1.2 0.6M988.7 190.5l-3.9-9.5M985.5 180l-0.7 1M984.9 374.3l0-2.1M984.9 374.3l0.5 0.3M985.2 245.5l1.2 3.8M985.5 257.2l1.6 3.5M985.5 180l9.7-0.6M988.6 201l-2.5-7.8M986.1 193.2l2.6-2.7M986.4 262.9l0.9 7.5M987.2 261.4l-0.8 1.5M988.3 220.8l-1.8-9.2M986.5 211.6l4.3-3.1M989.4 150.5l-2.8-1.6M991.8 230.3l-4.2-8.1M987.6 222.2l0.7-1.4M988.3 220.8l9.4-2.6M990.6 202.7l-2-1.7M988.7 190.5l6.2-0.9M989.4 150.5l0.8 7.3M993.9 147.3l-4.5 3.2M989.4 158.6l4 10.3M990.2 157.8l-0.8 0.8M998.8 157.2l-8.6 0.6M990.6 202.7l0.2 5.8M990.6 202.7l7.1-4.3M990.8 208.5l5.9 2.9M991 231.8l1.3 4M991.8 230.3l-0.8 1.5M991.8 230.3l6.6-2.2M995.2 179.4l-2-10.1M993.2 169.3l0.2-0.4M1001.6 166.3l-8.2 2.6M993.9 147.3l0-0.2M993.9 147.3l4.7 1.2M994.8 245l-0.8-5M998.6 196.5l-3.7-6.9M994.9 189.6l2.2-4.2M1003 238.6l-7.9 0.9M995.2 179.4l0.8 0.6M996 180l1.1 5.4M996 180l7.7-3.9M996.7 211.4l1 6.8M1003.5 207.8l-6.8 3.6M997.1 185.4l9.7 1.7M999.4 220l-1.7-1.8M997.7 198.4l5.8 9.4M997.7 198.4l0.9-1.9M999.6 228.8l-1.2-0.7M998.4 228.1l1-8.1M998.6 196.5l9.9-1.8M999.5 156.3l-0.9-7.8M998.6 148.5l4.9-4M998.8 157.2l2.8 9.1M998.8 157.2l0.7-0.9M999.4 220l9.3-1.3M999.5 156.3l9.7-1.7M999.6 228.8l0.9 2M999.6 228.8l7.5-1.3M1002.3 166.7l-0.7-0.4M1002.3 166.7l1.6 9M1010 164.6l-7.7 2.1M1003.5 144.5l-0.8-5.8M1002.8 138.4l0.3-0.4M1003 238.6l0.3 2.5M1003.7 237.7l-0.7 0.9M1003.2 236.7l0.5 1M1006.8 146.5l-3.3-2M1003.5 207.8l1.5 0M1012.2 235.6l-8.5 2.1M1003.7 176.1l4.4 8.8M1003.9 175.7l-0.2 0.4M1014.8 174.7l-10.9 1M1005 207.8l4.3 9.7M1005 207.8l4.2-3.4M1009.2 154.6l-2.4-8.1M1016.5 143.2l-9.7 3.3M1008.5 194.7l-1.7-7.6M1006.8 187.1l1.3-2.2M1015.7 181.4l-7.6 3.5M1008.5 194.7l0.6 0.5M1008.7 218.7l1.8 6.5M1008.7 218.7l0.6-1.2M1009.1 195.2l0.1 9.2M1017.7 193.9l-8.6 1.3M1010.1 155.2l-0.9-0.6M1009.2 204.4l6.9 2.4M1009.3 217.5l9.1-3.5M1013.2 166.5l-3.2-1.9M1010.1 155.2l-0.1 9.4M1010.1 155.2l8.7-2.3M1010.1 226.4l0.4-1.2M1010.5 225.2l3.8-0.3M1016.5 143.2l-5.7-7.2M1011.8 234.1l0.4 1.5M1013 236.1l-0.8-0.5M1018 119.6l-4.9 2.4M1019.9 130.9l-6.8-0.1M1013.2 166.5l1.9 7.6M1021.5 162l-8.3 4.5M1015.5 111.5l-1.5 0.4M1014.8 174.7l0.9 6.7M1015.1 174.1l-0.3 0.6M1025 172.2l-9.9 1.9M1015.5 111.5l-0.3-3.6M1015.6 111.5l-0.1 0M1018 119.6l-2.4-8.1M1026.2 110.1l-10.6 1.4M1017.6 182.9l-1.9-1.5M1018.4 214l-2.3-7.2M1020.8 201.4l-4.7 5.4M1016.5 143.2l1.5 0.5M1017.1 101.2l5.8-0.6M1017.6 182.9l0.1 11M1017.6 182.9l8.4-0.4M1017.7 193.9l2.1 1.2M1018 143.7l0.8 9.2M1020.8 141.7l-2.8 2M1020.6 120.8l-2.6-1.2M1020.3 214.9l-1.9-0.9M1018.8 152.9l0.8 0.6M1021.5 162l-1.9-8.5M1019.6 153.5l11-2M1020.8 201.4l-1-6.3M1027.4 192.4l-7.6 2.7M1021.6 132.2l-1.7-1.3M1020.6 120.8l-0.7 10.1M1024.5 90.7l-4.4-1.9M1021.5 221.3l-1.2-6.4M1027.8 211.7l-7.5 3.2M1026.8 119.4l-6.2 1.4M1020.8 141.7l7.2 1.1M1020.8 141.7l0.8-9.5M1025.5 203.8l-4.7-2.4M1023.1 162.8l-1.6-0.8M1021.6 132.2l8.5-1.6M1022.9 100.6l3.3 9.5M1022.9 100.6l1.5-1.5M1023.1 162.8l1.9 9.4M1023.1 162.8l9.7-1.9M1024.4 99.1l7.9 0.6M1024.4 99.1l0.1-8.4M1030.1 87.6l-5.6 3.1M1025 172.2l0.8 0.5M1025.5 203.8l2.3 7.9M1028.2 202l-2.7 1.8M1025.8 172.7l0.8 8.2M1029.7 171.6l-3.9 1.1M1026.9 110.6l-0.7-0.5M1027.7 120l-0.9-0.6M1026.9 110.6l-0.1 8.8M1035.1 107.9l-8.2 2.7M1027.7 120l3.1 9.4M1037.7 117.7l-10 2.3M1027.8 211.7l0.9 0.2M1028 142.8l2.7 8.5M1028 142.8l4.6-4.3M1028.7 211.9l1.9 7.6M1028.7 211.9l6.1-1.6M1030.3 87.2l-1-2.6M1035.2 95.2l-5.1-7.6M1030.1 87.6l0.2-0.4M1032.6 138.5l-2.5-7.9M1030.1 130.6l0.7-1.2M1030.3 87.2l8-3.2M1030.6 151.5l2.9 7.4M1030.6 151.5l0.1-0.2M1030.7 151.3l10.1-5M1040.7 126.9l-9.9 2.5M1035.5 106.8l-3.2-7.1M1035.2 95.2l-2.9 4.5M1032.6 138.5l5.5 1.5M1032.8 160.9l1.6 3.9M1032.8 160.9l0.7-2M1033.5 158.9l8.7-2.6M1038.9 115l-3.8-7.1M1035.1 107.9l0.4-1.1M1043.6 94.4l-8.4 0.8M1044.4 102.7l-8.9 4.1M1037.7 117.7l3.2 9M1038.9 115l-1.2 2.7M1038.3 84l-0.3-4.3M1038.1 140l2.7 6.3M1041.9 135.6l-3.8 4.4M1042.1 86.4l-3.8-2.4M1038.5 212.7l0.5 2.4M1038.9 115l10.2-1.5M1040.7 126.9l1.2 8.7M1040.7 126.9l0.2-0.2M1040.8 146.3l1.3 0.7M1040.9 126.7l9-1.8M1041.9 135.6l6.6 1.1M1042.1 147l0.1 9.3M1042.1 147l4.6-0.8M1042.1 86.4l2 7.1M1045.8 83.2l-3.7 3.2M1043 156.8l-0.8-0.5M1044.4 102.7l-0.8-8.3M1043.6 94.4l0.5-0.9M1048.2 92.9l-4.1 0.6M1044.4 102.7l2.9 2.3M1047.4 210.1l-0.3-0.3M1049.1 113.5l-1.8-8.5M1047.3 105l4.7-2.1M1048.5 136.7l2.1 5.9M1048.5 136.7l3.5-5.4M1050.6 142.6l-1.9 2.4M1049.1 113.5l0.1 0M1049.2 113.5l2.1 9.2M1049.2 113.5l7-2.2M1052 131.3l-2.1-6.4M1049.9 124.9l1.4-2.2M1050.6 142.6l7.7-0.6M1061.5 122.3l-10.2 0.4M1057.6 133.8l-5.6-2.5M1059.4 139.9l-1.8-6.1M1057.6 133.8l5.3-5.1M1060.9 115.8l1.3 5.8M1062.9 128.7l-1.4-6.4M1062.2 121.6l-0.7 0.7M1066.9 120.3l-4.7 1.3M1068 132l-5.1-3.3M1068.1 132.1l-0.1-0.1M1068 132l0.6-0.5"/>
<path d="M394 102.2L399.2 103.7L400 107.5L395.5 106.7Z" fill="#2aa58c"/>
<path d="M427 97L433 97.7L433 102.2L427.7 102.2Z" fill="#2aa58c"/>
<path d="M408.2 108.2L411.2 107.5L412 112.7L409 113.5Z" fill="#2aa58c"/>
<path d="M479.5 107.5L484.7 108.2L484 115L480.2 113.5Z" fill="#2aa58c"/>
<path d="M546.5 104.2L555.5 105L554.7 109.5L547.2 108.7Z" fill="#2aa58c"/>
<path d="M614 112.5L623 111L636.5 113.2L637.2 118.5L629 119.2L624.5 115.5L618.5 117.7L615.5 116.2Z" fill="#2aa58c"/>
<path d="M524 220.5L551 222L551.7 230.2L545 231L545 227.2L524 226.5Z" fill="#2aa58c"/>
<path d="M152 213L155 213L155 217L152 217Z" fill="#2aa58c"/>
<path d="M146 231L149 231L149 233L146 233Z" fill="#2aa58c"/>
<path d="M158 262L160 262L160 264L158 264Z" fill="#2aa58c"/>
<path d="M214 272L218 272L218 279L214 279Z" fill="#2aa58c"/>
<path d="M205 284L208 284L208 288L205 288Z" fill="#2aa58c"/>
<path d="M212 287L217 287L217 291L212 291Z" fill="#2aa58c"/>
<path d="M172 309L174 309L174 311L172 311Z" fill="#2aa58c"/>
<path d="M195 331L198 331L198 333L195 333Z" fill="#2aa58c"/>
<path d="M221 355L224 355L224 358L221 358Z" fill="#2aa58c"/>
<path d="M229 361L232 361L232 364L229 364Z" fill="#2aa58c"/>
<path d="M218 372L222 372L222 377L218 377Z" fill="#2aa58c"/>
<path d="M225 378L228 378L228 382L225 382Z" fill="#2aa58c"/>
<path d="M232 375L235 375L235 379L232 379Z" fill="#2aa58c"/>
<path d="M214 383L217 383L217 386L214 386Z" fill="#2aa58c"/>
<path d="M223 388L226 388L226 391L223 391Z" fill="#2aa58c"/>
<path d="M236 362L238 362L238 364L236 364Z" fill="#2aa58c"/>
<path d="M228 227L230 227L230 229L228 229Z" fill="#2aa58c"/>
<path d="M245 232L248 232L248 234L245 234Z" fill="#2aa58c"/>
<path d="M274 257L276 257L276 260L274 260Z" fill="#2aa58c"/>
<path d="M281 270L283 270L283 272L281 272Z" fill="#2aa58c"/>
<path d="M267 290L269 290L269 292L267 292Z" fill="#2aa58c"/>
<path d="M295 282L297 282L297 284L295 284Z" fill="#2aa58c"/>
<path d="M307 276L310 276L310 278L307 278Z" fill="#2aa58c"/>
<path d="M719 247L724 247L724 251L719 251Z" fill="#2aa58c"/>
<path d="M706 236L709 236L709 239L706 239Z" fill="#2aa58c"/>
<path d="M744 199L747 199L747 202L744 202Z" fill="#2aa58c"/>
<path d="M722 212L726 212L726 215L722 215Z" fill="#2aa58c"/>
<path d="M815 219L820 219L820 223L815 223Z" fill="#2aa58c"/>
<path d="M757 159L760 159L760 162L757 162Z" fill="#2aa58c"/>
<path d="M893 352L896 352L896 355L893 355Z" fill="#2aa58c"/>
<path d="M918 362L921 362L921 365L918 365Z" fill="#2aa58c"/>
<path d="M937 354L940 354L940 357L937 357Z" fill="#2aa58c"/>
<path d="M911 409L915 409L915 413L911 413Z" fill="#2aa58c"/>
<path d="M916 413L919 413L919 416L916 416Z" fill="#2aa58c"/>
<path d="M880 572L884 572L884 576L880 576Z" fill="#2aa58c"/>
<path d="M884 590L887 590L887 594L884 594Z" fill="#2aa58c"/>
<path d="M1016 112L1019 112L1019 116L1016 116Z" fill="#2aa58c"/>
<path d="M1022 108L1024 108L1024 110L1022 110Z" fill="#2aa58c"/>
<path d="M1010 108L1012 108L1012 110L1010 110Z" fill="#2aa58c"/>
<path class="tr" d="M412 103L421 103.7L421 115L413.5 116.5L410.5 110.5ZM448.7 103.7L458.5 104.5L472 106L484 109L484 118L458.5 118L451 116.5L448.7 109ZM406 166L418 160L427 158.5L436 166L436 175L445 173.5L443.5 181L431.5 181L430 175L413.5 178L406 175ZM385.7 208L392.5 204.2L403.7 206.2L407.5 211.7L406.7 225.2L394 226L386.8 221.5ZM265 85L271 89.5L275.5 89.5L274 91.7L266.5 90.2ZM248.5 136L254.5 134.5L253.7 142L249.2 143.5ZM197.5 137.5L208 139L208 148L199 148.7ZM176.5 73L181 74.5L178 79ZM504.5 124.5L518 123.7L519.5 133.5L513.5 136.5L506 133.5ZM560 124.5L569.7 126L570.5 131.2L561.5 130.5ZM515 168L530 162L537.5 160.5L536 171L539 177L540.5 186L537.5 198L512 202.5L513.5 180ZM585.5 171.7L596 184.5L590 196.5ZM615.5 120L629 120L629 130.5L617 130.5ZM608.7 138.7L620 138.7L620 149.2L608.7 149.2ZM631.2 136.5L643.2 135L644 142.5L638 147.7L632 145.5ZM650 122.2L655.2 122.2L655.2 126.7L650 126.7ZM661.2 151.5L665 150.7L665.7 156L662 156.7ZM644.7 166.5L650 166.5L650 171L644.7 171ZM534.5 208.5L549.5 210L557 214.5L555.5 219L545 217.5L536 214.5ZM346 277L355 273.2L370 272.5L370.7 281.5L382 283L382.7 289L371.5 287.5L362.5 293.5L352 292L346.7 286ZM362.5 296.5L371.5 298L370 310L364 308.5ZM583 380.5L595 381.2L594.2 389.5L589 390.2L587.5 397L580 397.7ZM587.5 397L599.5 397.7L610 396.2L622 398.5L623.5 407.5L621.2 415L611.5 416.5L601 415L599.5 407.5L589 406ZM571 415L580 416.5L586 422.5L601 424L601.7 436L592 436.7L590.5 445L574 443.5L571 430ZM625 407.5L634 406L635.5 415L626.5 419.5Z"/>
<path class="tr" style="stroke:#8a7f7f" d="M320 366L328 359L340 360L342 374L348 373L354 382L352 392L344 394L336 390L338 402L330 400L326 386L320 384ZM332 422L346 421L355 428L354 448L342 452L330 450L333 434ZM289 460L296 454L308 452L312 466L318 468L308 478ZM378 360L390 358L410 362L420 370L410 374L406 386L390 376L382 370ZM343 82L346 94L352 99.2L361 97L362.5 84.2ZM247 75.2L253 71.5L262 72.2L263.5 79L256 80.5L257.5 85L250 80.5ZM209.5 110.5L217 108.2L226 109L230.5 115L232 121L226 121.7L220 119.5L211 117.2ZM281.5 125.5L287.5 124L292 130L295 137.5L290.5 139L286 133L282.2 133.7ZM284.5 103L292.7 104.5L289 110.5L284.5 112ZM319 100.7L332.5 100L334.7 122.5L328 123.2L322 119.5L320.5 112ZM536.5 422.5L560.5 422.5L562 407.5L571 415L571.7 424L550 424.7Z"/>
<path class="st" d="M269 178L260 214M332.2 178L334 184L340 183.8M520 170L580 173M476.8 208L475.3 232M362.1 208L358.7 232M591 103.6L594 120L596 140L598 156L601 168L600 176L597 182L602 190L603 230M580 173.6L600 174M671 154L668 157L669 168L662 174L660 180L661 192L664 200L674 208L682 216L687 224L688 228.4M693 154L700 158M882.5 235L882.5 240M882.5 240L940 229.4M972.5 152L973.3 160M1000 145L999 152.5L997.8 160M1007.5 137.5L1015 160M139 194.4L159 200L208 214.4L258 225L306 237L340 241.2M208 214.4L191 279L250 368.8M306 237L288.6 330M263 200L258 225M602 229L688 227.6M601 229L600.1 232M688 227.6L689.6 232M882 240L940 229.8M821.6 478L822 480L820 488L826 504L828 509L860 509M800 505.9L824 504M840 509L880 506L881 511L884 510L885 501L894 501M863 378L858 380.5L853.5 385L849 386.5L846 392.5L840 397L834 401.5L828 406L826.5 410.5M800 415.2L802.5 415L826.5 410.5L846 408.2L850.5 406L861 401.5L873 400L885 400L891.7 405.2L912 403.7L936 418.7M846 408.7L846 413.5L855 421L864 431.5L873 439L882 448L889.5 457L895.5 466L900 469.3M802.5 415L810 433L816 454L822 475L823.5 478M800 258.7L822.5 255.7M800 258.7L801.5 270L804.5 300L806.7 318M870.5 244.5L874.2 270L878 292.5L940 282.4M966.2 300L967.2 306L978.5 304.5M800 328.5L806 325.5L806.7 318L812 318L818 322.5L825.5 326.2L833 326.2L839 324L845 328.5L848 333M848 333L851 325.5L854 316.5L858.5 313.5L860 309L866 304.5L870.5 298.5L873.5 291L875 285L874.5 272.2M848 333L849.5 339L855.5 345L860 348.7L864.5 353.2L870.5 351.7L878 348L885.5 345L890 343.5L893 337.5L897.5 330L900.5 321L905 315L911 310.5L915.5 303L917 295.5L920 292.5L926 297L932 297L936.5 300L940 300M941 300L944 303L942.5 309L939.5 312M897.5 291L898.2 302.2L905 297L908 292.5L914 289.5L920 288L920 292.5M860 348.7L855.5 355.5L849.5 361.5L843.5 367.5L836 372M800 375.7L836 372L905 363L960 353.6M635 370L635.7 389.5L638 422.5L638.7 456.2M620 448L624.5 448L629 451.7L636.5 456.2L646.2 457.3L647.7 469L648.5 484L650 496L654.5 508M620 379L635 379M635.7 389.5L715.2 387.2L718.2 391L717.5 394.7L713 398.5L723.5 397.7M734.7 370L735.5 376L731 383.5L727.2 385L728 389.5L725 397L723.5 397.7L722 404.5L719 410.5L717.5 418L716 421.7L712.2 428.5L708.5 436L704.7 442L702.5 448L700.2 454L701 460L702.5 467.5L704 475L707 482.5L704 488.5L701 496L698 502L696.5 508M647.7 469L701.7 468.2M731 384.2L755 380.5L800 376M718.2 421L755.7 419.5L800 415M755.7 419.5L755 475L757.2 508M728 370L731 372.2L734.7 370M655.5 508L656 509.5L656 520L653.7 530.5L653 541L652.2 545.5M695.5 508L695 509.5L695.7 513.2L731.7 512.5L732.5 520L734.7 526L737 532M757.7 508L758.7 523L758.7 526M773 508L774.5 514L777.5 520M774.5 514L773 508L800 506.5M460 373.3L482.5 374.5L500.5 375.2L620 378.3M482.5 374.5L481.7 385.7L478 437.5L473.5 487.7L460 487.7M500.5 370L500.5 375.2M481.7 385.7L536.5 388.7L535 433L539.5 436L545.5 437.5L550 440.5L556 442L562 443.5L566.5 445L571 448L575.5 450.2L580 449.5L586 451.7L590.5 452.5L595 451L601 452.5L604 454L610 451.7L616 451L620 449.5M475.7 232L475.7 236.5L472 280M475.7 236.5L566.5 240.2L571 242.5L575.5 245.5L580 244L587.5 244.7L595 247L599.5 250M599.5 232L601 238L598.7 244L599.5 250L604 257.5L607 266.5L610 275.5L611.5 284.5L613 293.5L616 298L619 304L622 308.5L625 313L628 315.2L626.5 319L629.5 325L634 329.5L635.5 370M616 296.5L640 295.7M505 306.2L619.7 310M460 279.7L472 280.3L505 283.7L505 306.2L500.5 370M640 295.8L683 294.2L687.5 298M690.5 232L692 238L695 244L701 248.5L707 256L708.5 262L705.5 268L699.5 271L693.5 275.5L693.5 281.5L696.5 286L692 292L687.5 298L688.2 305.5L692 313L696.5 317.5L701 323.5L704 329.5L710 332.5L713 335.5L710 341.5L710 347.5L716 352L723.5 358L726.5 362.5L728 370M701.7 249.2L746 246.2M754.2 264.2L755.7 277L757.2 322L759.5 331L755 340L752 346L750.5 353.5M767.7 260.5L800 258.2M799.2 258.2L800 269.5M728 370L734 369.2L744.5 364L750.5 353.5L755 352L761 352L768.5 350.5L773 347.5L780.5 343L785 346L791 340L795.5 334L800 328M358.7 232L353.5 266.5M340 241L355 243.2M353.5 266.5L386.5 272.5L460 279.5M386.5 272.5L381.2 316L373.7 361M340 357.2L373.7 361L433 367.7L446.2 370M373.7 361L372.2 370M171.2 100L175 103L181 104.5L186.2 109L187.7 118L193 122.5L203.5 124.7L211 127.7L223 129.2L238 128.5L250 129.2L265 132.2L277.7 135.2M290.5 69.2L280 125.5L278.5 135.2L283 143.5L278.5 151L272.5 158.5L268 166L265 170.5L268 178M304 72.2L301.7 82L302.5 91L306.2 103L311.5 115L316 124L321.2 130L319 139L316 149.5L320.5 154L325 155.5L328 164.5L331 175L332.5 178M487.7 99.8L484.7 130L481 168.2L478.7 188.5L477.2 208M481 168.2L520 170.5M367 175.7L478.7 188.5M340 184L349 184.7L359.5 184L361 181L363.2 186.2L364.7 188.5M367 175.7L364.7 188.5L361.7 208M440.1 370L460 372.4M268.6 370L268 372L269 380L265 388L267 400L270 409L264 416L259 426L256 432L257 438L251 446M250.8 370L265 388M372 370L357 491M406 483L460 487M285 349L340 357.1M288 330L285 349L284 364L279 367L270 365.6L268.6 370M250 369L250.8 370M700 157.7L707.5 161.5L718 164.5L730 167.5L736 170.5L739.7 178L743.5 182.5L745 190M960 353.1L971.4 351.1M973.4 160L976.4 169.1L979.5 181.3L984 193.4L985.6 201L986.3 216.9L988.6 226.8L990.1 235.9L987.8 240.5M997.7 160L996.9 175.2L997.7 197.2M1014.4 160L1017.4 169.1L1022 179.7L1025 185.8M985.6 201L997.7 198L1015.9 194.2L1024.3 188.8L1025.8 186.6M986.3 216.9L1003.8 213.1L1015.9 210.9L1020.5 209.3L1022.8 213.9L1023.5 220.7M1015.9 210.9L1017.4 224.5M940 229.8L955.2 226.4L959.7 229.8L964.3 235.9L968.1 237.4L985.6 243.5M968.1 237.4L965.8 245L965.1 251.1L968.8 258.7L975.7 264.8L971.9 269.3L965.8 273.9L963.5 276.9M940 282.2L959.7 276.9L963.5 276.2L966.6 281.5M961.3 277.7L962.8 289.1L965.1 299.7"/>
<path class="co" d="M160 135.3L154 146L146 160L140 174L139 182L139 194.4L139 200M520 101.5L540 102.4L580 103M580 103L622 103L622 96L628 97L630 108L640 111L650 113L660 114L666 118L674 120L680 124L690 120L700 122M700 129.4L696 132L684 142L674 152L671 154L684 152L692 148L695 154L700 154M830.6 238L829.4 240M875.4 240L878.2 238M880 236.8L882.5 235L892.5 226.2L891.2 215L888.8 211.2L897.5 206.2L910 205L925 200L932.5 195L933.8 187.5L930 183.8L935 176.2L940 168.7M947.5 160L950 157.5L972.5 151.8L1000 145L1002.5 137.5L1007.5 136.2L1012.5 135L1012.5 115L1017.5 97.5L1021.2 81.2L1027.5 85L1037.5 78.8L1046.2 82.5L1050 97.5L1057.5 112.5L1067.5 120L1072.5 127.5L1067.5 133.8L1060 140L1055 150L1047.5 145L1046.2 155L1040 160M139 200L139 206L134 214L127 222L126 230L130 246L129 258L132 272L135 284L141 289L140 300L141 312L146 320L142 328L145 340L150 350L154 360L157 368L154 376L160 380L170 384L180 393M829.4 238L828.8 240M876.5 240L879.2 238M880 237.5L882 236L892 224L895 220M180 393L188 398L191 404L196 405L202 414L206 424L206 432L208 437M208 437L250 440.5M430 514L436 524L438 534L444 542L454 550L460 554.2M800 520L804 521L812 526L820 530L824 534L830 530L840 526L846 522L852 524L860 532M896.4 478L896 480L894 492L895 502L898 512L904 528L912 540L920 550L922 560L924 564M840 523L848 525L856 530L864 538L872 544L876 552L877 560L878 564M800 520L810 525L818 530L822 534L830 532L838 527L844 523L852 527L860 534L868 540L874 544L877 552L878 560L876 566L878 574L882 580L888 587L894 591L898 596L902 604L908 609L914 613L918 618L920 624L926 624L934 621L936 616L938 604L938 594L937 586L932 576L926 566L920 554L919 549L912 538L904 526L898 514L895 502L894 492L896 480M960 397L955.5 400L951 406L948 413.5L936 418.7L930 428.5L928.5 437.5L919.5 443.5L915 451L909 458.5L904.5 461.5L900 469.3L898.5 478M829.2 240L826.2 244.5L823.2 250.5L822.5 255.7L830 258.7L836 260.2L845 257.2L855.5 252L864.5 246.7L870.5 244.5L876.5 240M939.5 312L947 313.5L956 318L950 319.5L954.5 324L962 330L959 336L962.2 340M958.7 300L960.5 304.5L959 310.5L962 315M961.2 300L963.5 306L965 315L968 324L970.2 336L972.5 328.5L976.2 318L978.5 304.5L979.4 300M620 565L626 559L633.5 551.5L642.5 547.7L652.2 545.5L662 544.7L671 546.2L680 548.5L687.5 545.5L692 544L695 548.5L701 550L705.5 553L711.5 557.5L722 556L729.5 553L735.5 550L741.5 553L747.5 556L749 553L746 550L741.5 547L740 541L743 535L738.5 533.5L737 532L740 529L747.5 527.5L755 527.5L758.7 526L765.5 525.2L766.2 520L768.5 526L776 524.5L777.5 520L782 521.5L789.5 520L800 520.7M460 555.5L466 557L473.5 549.5L478 541.2L484 539.7L493 540.5L500.5 542L506.5 548L512.5 555.5L517 561.5L520 569L524.5 576.5L529 584L533.5 590L538 596L538 602L541 609.5L544 615.5L547 619.2L554.5 623L562 626.7L569.5 628.2L575.5 629.7L580 632.7L585.2 631.2L584.5 626L581.5 620L580 614L578.5 608L580 602L582.2 596L583.7 590L587.5 584L593.5 576.5L601 572L608.5 569L616 565.2L620 561.7M745 238L745.2 241L747.5 250L752 259L755.7 264.2L761 264.2L767 259L771.5 250L773 241L772.5 238M206.5 47.5L235 55L290.5 69.2L304 72.2L340 78.2M200.5 67L197.5 64L190 61L182.5 56.5L174.2 52L172.7 58L172.7 67L175 79L173.5 89.5L171.2 100L169 107.5L166 118L161.5 130L160 136M340 78.7L370 84.5L407.5 91.1L445 95.9L487.7 99.8L520 101M250 440.4L256.4 441M251 446L318 486L357 491L373 493L374 485L406 486.6L406 483L412 496L420 506L428 514M700 157.7L709 149.5L718 145L724 139L727 136L733 133L739 134.5L734.5 139L730 145L737.5 146.5L745 149.5L751 154L757 152.5L763 150.2L770.5 148L778 145.7L782.5 144.2L783.2 148L790 150.2L796 148.7L797.5 152.5L800.5 157.7L808 157.7L808.7 160.7L802 161.5L797.5 161.5L793 164.5L787 163.7L781 163L775 162.2L769 163L763 164.5L760 166.7L757 172L752.5 178L749.5 184L745 190L742 196L739.7 199.7L745 193L749.5 187L754 179.5L757.7 173.5L761.5 168.2L758.5 175L755.5 182.5L751 190L748 196L745 202L744.2 208L745 217L744.2 227.5L743.5 238M773.5 238L770.5 229L766.7 220L764.5 211L765.2 203.5L767.5 196L772 190L778 185.5L781.7 181L785.5 175L788.5 169L793 166L796 167.5L802 170.5L809.5 175L814 181L816.2 190L814 199L809.5 205L808 211L812.5 212.5L817 206.5L823 202L827.5 205L830.5 212.5L833.5 220L835 227.5L833.5 235L830.5 238M700 121.7L710.5 122.5L704.5 126.2L700 129.2M960 340.2L966.8 340.8L969.9 342.3L972.9 348.4L974.4 351.4L977.5 359L982 365.1L985.8 372.7L986.6 378.7L982 383.3L976 386.3L972.9 392.4L971.4 396.2L966.8 395.4L960.8 397L960 397.8M960 359L960.8 365.1L966.8 364.3L971.4 362L976 365.1L979 369.6L977.5 374.2L972.9 375.7L974.4 371.1L971.4 368.1L966.8 368.1L963.8 371.1M965.3 377.2L966.8 381.8L971.4 380.3L976 377.2M960.8 386.3L963.8 390.1L968.4 388.6L972.9 386.3M1038.7 160L1035.7 164.6L1031.1 167.6L1029.6 175.2L1026.5 182.8L1025.8 186.6L1028.1 191.9L1026.5 199.5L1031.1 204L1034.1 208.6L1037.2 212.4L1040.2 211.6L1046.3 210.9L1047 207.3M1047 207.3L1047 207.1L1046.9 207M1046.9 207L1043.2 204L1046.3 205.6L1046.9 207M1046.9 207L1047 207.3M1047 207.3L1048.1 210.1L1046.3 212.8L1040.2 214.7L1037.2 217.7L1034.1 220.7L1031.1 220L1026.5 221.5L1023.5 220.7L1017.4 224.5L1008.3 227.6L1000.7 231.4L993.1 235.9L987.8 240.5L985.6 245L984 251.1L983.3 255.7L987.1 257.2L988.6 266.3L987.1 275.4L984 283L981 290.6L978 293.6L974.9 287.5L970.4 283L966.6 281.5L970.4 289.1L974.9 296.7L976.4 300M985.6 245L987.1 242.8L994.7 239L1003.8 235.9L1011.4 233.6L1019 232.6L1014.4 235.9L1008.3 239.7L1000.7 242.8L993.1 246.5L987.1 249.6L984 251.1M940 168.5L942.4 165L947.5 160M949.1 292.1L952.1 289.1L954.4 293.6L958.2 292.1L959.7 299.7M955.2 281.5L957.5 286L955.9 290.6"/>
<path d="M141 287.4L145 287L145.6 294L143.6 298.4L140.6 297.6Z" fill="#000"/>
<path d="M198.2 54.2L203.5 51.2L208 50.5L209.5 56.5L208 64L209.5 71.5L206.5 77.5L203.5 85L199.7 85.7L201.2 79L200.5 75.2L194.5 78.2L193.7 76.7L200.5 72.2L202 68.5L199.7 65.5L200.5 59.5Z" fill="#000"/>
<path d="M714.2 125.5L719.5 121L727.7 116.8L728.2 118L721 124L715.7 127.3Z" fill="#000"/>
<path d="M773.5 167.8L778 167.2L778.3 170.2L774.2 170.8Z" fill="#000"/>
<path d="M771.2 174.2L773.8 173.8L773.8 176.8L771.4 177.1Z" fill="#000"/>
<path d="M768.7 184L771.7 183.4L772.3 187L769.3 187.6Z" fill="#000"/>
<path d="M776.8 181.7L780.2 180.7L783.2 186.2L782.2 191.2L778 191.5L776.2 187Z" fill="#000"/>
<path d="M783.2 178L786.2 177.2L787 181L784 181.7Z" fill="#000"/>
<path d="M1044.5 219.5L1047 218.5L1049.6 219.5L1049.3 221.5L1045.5 221.9Z" fill="#000"/>
<path d="M1022.8 215.4L1025 214.7L1027.3 218.5L1025 220.7L1023.2 219.2Z" fill="#000"/>
<path d="M1034.9 220L1038.7 218.5L1039.5 220.7L1036.4 223L1034.1 222.3Z" fill="#000"/>
</g>
<path class="isl" d="M49.6 512.7L52.1 509.6L55.2 507.5L55.8 510.6L53.1 513.8L50.4 515.2ZM63.5 506.5L65.6 502.3L70.8 500.6L76 501.2L78.8 504.4L78.1 508.5L75 511.7L70.8 512.7L66.7 510.6ZM109.4 521.7L114.6 521L117.7 517.9L120.8 522.1L125 525.8L127.5 530.4L124 532.1L118.8 530.4L113.5 530.8L111.5 526.2Z"/>
<path class="islr" d="M138.5 534.6L143.8 533.1L150 534L155.8 534.6L156.2 537.1L152.1 538.8L145.8 537.9L139.6 537.1ZM145.8 543.3L150 542.5L153.1 545L153.1 548.1L149.6 549.2L146.9 546.7ZM157.3 539.8L161.5 539.8L164.6 542.9L168.8 541.9L175 544L178.8 547.5L177.1 551.2L171.9 553.3L165.6 553.3L163.5 548.1L159.4 546L157.3 542.9ZM156.7 554.4L160.4 552.9L162.1 554.4L159.4 556.5L156.7 556ZM181.2 563.8L185.4 564.8L191.7 567.9L200 571L206.2 576.2L208.3 582.5L214.6 587.7L210.4 591.9L203.1 595L195.8 599.2L188.5 606.5L183.3 603.3L180.2 597.1L180.2 588.8L177.1 582.5L176.7 578.3L181.2 572.1Z"/>
<path class="isl" style="stroke-width:0.9" d="M101.5 663.2L105 662L106.9 665.6L105 670.4L101.5 672.7L100.3 677.5L96.7 681.1L93.1 679.4L92.6 675.1L95.5 671.6L96.7 668L99.1 665.6ZM79.5 701.9L81.2 699L85.5 697.8L89.5 699L90.2 701.9L87.8 704.5L83.6 705.4L80.4 704.3ZM71.6 716.9L75.9 716.9L78.3 720.5L76.4 725.3L72.8 728.8L70.4 732.9L66.4 733.6L64 730L64 725.3L66.8 722.4L69.2 719.3ZM23.4 795L26.3 791.6L31 790.2L34.6 787.8L39.4 788.5L43 791.6L42.5 795L38.2 796.4L34.6 798.1L31 800.5L26.7 799.3L23.9 797.4ZM80 785.4L83.6 784.5L87.1 786.1L88.8 787.8L95.5 787.3L96.9 789.7L96.7 793.3L94.3 794.5L90.2 794L87.1 790.9L82.4 790.4L79.7 788.5Z"/>
<circle cx="112.7" cy="638.9" r="2.3" class="isl" style="stroke-width:0.9"/>
<circle cx="154.8" cy="806" r="3.1" class="isl" style="stroke-width:0.9"/>
<path class="isl" style="stroke-width:0.9" d="M327.5 668.7L337.7 665.8L345 657.1L353.7 652.7L361 648.9L371.2 653.6L382.9 655.6L397.5 657.1L413.5 658.5L431 747.5L439.8 746.9L444.2 751.9L452.9 756.2L457.3 747.5L464.6 753.3L473.3 762.1L485 770.8L495.2 772.3L499.6 779.6L498.1 785.4L487.9 788.3L479.2 782.5L470.4 775.2L461.7 767.9L452.9 760.6L444.2 754.8L432.5 753.3L420.8 751.9L412.1 750.4L403.3 749L394.6 744.6L387.3 747.5L382.9 753.3L380 759.2L387.3 762.1L394.6 756.2L388.7 763.5L380 765L374.2 762.1L371.2 767.9L362.5 776.7L356.7 784L347.9 789.8L337.7 795.6L329 800L318.7 804.4L307.1 808.7L295.4 811.7L283.7 816L292.5 810.2L307.1 804.4L321.7 798.5L333.3 794.2L345 786.9L352.3 779.6L355.2 770.8L347.9 769.4L342.1 766.5L336.2 767.9L331.9 766.5L333.3 759.2L329 754.8L321.7 747.5L317.3 741.7L315.8 734.4L321.7 727.1L329 724.2L339.2 721.2L342.1 715.4L337.7 711L329 711L320.2 708.1L317.3 700.8L315.8 696.5L324.6 693.5L333.3 692.1L339.2 696.5L345 693.5L340.6 689.2L336.2 684.8L329 677.5L326 671.7Z"/>
<path fill="none" stroke="#cfcfcf" stroke-width="0.9" d="M330.4 676L368.3 680.4L397.5 679L400.4 673.1L415 671.1M368.3 680.4L369.8 692.1L362.5 696.5L345 697.9M345 697.9L347.9 712.5L342.1 721.2M339.2 721.2L340.6 737.3L374.2 735.8L403.3 722.7L426.7 734.4M374.2 735.8L377.1 718.3L400.4 714L393.1 709.6L394.6 703.7L409.2 702.3L420.8 699.4M400.4 714L403.3 741.7L394.6 744.6M340.6 737.3L321.7 741.7M374.2 735.8L372.7 747.5L359.6 749L361 762.1L352.3 770.8M359.6 749L345 749L331.9 762.1M372.7 747.5L385.8 746"/>
<path class="isl" style="stroke-width:0.9" d="M294 711.9L298.3 711L302.7 715.4L307.1 718.9L302.7 719.8L298.3 716ZM306.5 749.8L311.5 748.1L315.2 751L312.9 753.9L307.7 752.7ZM366.9 781L372.7 776.7L379.4 772.3L380.6 776.7L375.6 782.5L370.7 786.9L367.2 785.4Z"/>
<path fill="#fff" stroke="#000" stroke-width="0.9" d="M457.3 749L464.6 753.3L473.3 762.1L485 770.8L495.2 772.3L499.6 779.6L498.1 785.4L487.9 788.3L479.2 782.5L470.4 775.2L461.7 767.9L454.4 757.7Z"/>
<path fill="none" stroke="#000" stroke-width="0.8" d="M458.7 753.3L462.2 755.1L464 759.7M460.5 751.6L464.6 756.2M462.8 756.5L466.3 758.3L468.1 763M464.6 754.8L468.7 759.5M466.9 759.7L470.4 761.5L472.2 766.2M468.7 758L472.7 762.7M471 763L474.5 764.7L476.2 769.4M472.7 761.2L476.8 765.9M475.1 766.2L478.6 767.9L480.3 772.6M476.8 764.4L480.9 769.1M479.2 769.4L482.7 771.1L484.4 775.8M480.9 767.6L485 772.3M483.2 772.6L486.7 774.3L488.5 779M485 770.8L489.1 775.5M487.3 775.8L490.8 777.5L492.6 782.2M489.1 774L493.2 778.7M491.4 779L494.9 780.7L496.7 785.4M493.2 777.2L497.2 781.9"/>
<path fill="#000" stroke="#000" stroke-width="0.5" d="M182.2 777.2L185.2 776.7L188.1 781.9L185.2 782.5ZM187.5 783.4L190.4 782.8L190.4 784.5L188.1 784.8ZM203 798L206.5 798.5L205.6 800.3ZM208.5 800L210.8 800.9L210.2 802.6ZM210.8 805.2L213.7 808.2L212.6 808.7ZM215.2 803.5L217.2 803.5L217.2 805ZM221.9 809.3L225.4 808.7L228.3 810.5L237.1 811.7L245.8 812.8L253.1 814L259 817.5L251.7 816.3L242.9 814.6L234.2 814L226.9 812.8L222.5 811.7ZM261 816L263.9 816L263.3 817.5ZM268.6 816L272.1 815.2L272.7 816.6ZM275.6 815.2L280.2 814L280.2 816L276.5 816.6ZM282.3 816L286.7 813.1L291 812.2L295.4 809.3L299.8 808.7L307.1 806.4L306.5 808.7L298.3 811.7L292.5 814L286.7 816ZM280.8 738.7L283.2 741.1L284.3 742.8L282.6 741.7ZM285.2 773.7L287.2 774.3L286.7 775.5ZM287.8 779.6L289 780.7L288.1 781.3ZM361 797.1L362.5 797.7L361.6 798.8Z"/>
<path class="isl" style="stroke-width:1" d="M1004.5 737.1L1009.8 733.9L1010.9 729.6L1017.2 728.6L1030 730L1042.7 729.6L1055.5 730.7L1068.2 731.7L1081 732.8L1091.6 734.9L1099.1 737.1L1101.8 740.2L1101.2 745.6L1096.9 747.7L1093.7 753L1087.4 758.3L1081 760.4L1072.5 762.6L1065.1 763.6L1055.5 761.5L1047 762.6L1038.5 760.4L1030 762.6L1021.5 763.6L1013 762.6L1007.7 761.5L1008.7 753L1007.7 746.6L1005.6 741.3Z"/>
<path fill="none" stroke="#c8c8c8" stroke-width="0.8" d="M1016 730.9L1017.9 740.2L1015.3 747M1015.1 747L1019.8 755.1L1016 761.1M1024.7 730.9L1025.3 740.2L1021.9 747M1023.4 747L1023.2 755.1L1024.7 761.1M1031.7 730.9L1029.8 740.2L1030 747M1028.7 747L1030.8 755.1L1031.7 761.1M1038.7 730.9L1037.6 740.2L1036.4 747M1035.3 747L1039.8 755.1L1038.7 761.1M1043.4 730.9L1045.5 740.2L1045.1 747M1047.4 747L1043.4 755.1L1043.4 761.1M1050 730.9L1050.2 740.2L1049.8 747M1049.1 747L1048.1 755.1L1050 761.1M1058.3 730.9L1059.3 740.2L1059.1 747M1061.2 747L1060 755.1L1058.3 761.1M1066.1 730.9L1067 740.2L1066.5 747M1064.8 747L1067.2 755.1L1066.1 761.1M1071.2 730.9L1070.4 740.2L1071.4 747M1072.1 747L1069.5 755.1L1071.2 761.1M1079.3 730.9L1079.9 740.2L1079.5 747M1079.7 747L1081.2 755.1L1079.3 761.1M1087.2 730.9L1088 740.2L1086.9 747M1088 747L1089.7 755.1L1087.2 761.1M1094.4 730.9L1095 740.2L1093.1 747M1092.7 747L1092.9 755.1L1094.4 761.1M1008.7 747L1030 746.2L1051.2 747.9L1072.5 746.6L1096.9 747M1010.9 739.2L1034.2 738.1L1055.5 739.8L1076.7 738.8L1100.1 741.3M1008.7 755.1L1030 754.1L1055.5 755.5L1081 754.1L1092.7 753.4"/>
<path class="isl" style="fill:none;stroke-width:1" d="M1004.5 737.1L1009.8 733.9L1010.9 729.6L1017.2 728.6L1030 730L1042.7 729.6L1055.5 730.7L1068.2 731.7L1081 732.8L1091.6 734.9L1099.1 737.1L1101.8 740.2L1101.2 745.6L1096.9 747.7L1093.7 753L1087.4 758.3L1081 760.4L1072.5 762.6L1065.1 763.6L1055.5 761.5L1047 762.6L1038.5 760.4L1030 762.6L1021.5 763.6L1013 762.6L1007.7 761.5L1008.7 753L1007.7 746.6L1005.6 741.3Z"/>
<path class="isl" style="stroke-width:0.9" d="M964.5 753.4L966.2 752.1L969.4 752.4L970.9 754.1L969.4 756L966.2 756.2ZM1116.1 739.2L1121.4 739.8L1122.4 741.9L1118.2 742.8ZM1102.7 753L1110.7 750.4L1120.3 750.9L1115 753.4L1106.5 755.1ZM1133.1 738.1L1138.4 736.4L1144.7 738.1L1145.8 740.7L1139.4 740.7ZM1147.9 738.5L1152.2 737.1L1155.8 738.5L1154.3 741.3L1149.4 740.9ZM1142.6 774.2L1149 773.2L1157.5 773.8L1162.2 774.2L1155.4 777.4L1147.9 778.9L1142.6 779.6Z"/>
<rect x="5" y="4.1" width="1188.9" height="835.8" fill="none" stroke="#787878" stroke-width="1.6"/>
<g fill="none" stroke="#969696" stroke-width="1.3">
<rect x="5" y="474" width="241.3" height="156.8"/>
<rect x="171.2" y="630.8" width="340" height="209.1"/>
<rect x="951.4" y="673.8" width="242.5" height="166.1"/>
</g>
<g fill="none" stroke="#000" stroke-width="1.7">
<rect x="5" y="631.3" width="166.2" height="117.8"/>
<rect x="5" y="749.1" width="166.2" height="90.8"/>
</g>
<text class="b" x="631" y="42.3" font-size="27.4" text-anchor="middle">2024 Secretarial Drought Designations</text>
<text class="b" x="645.3" y="76.6" font-size="27.4" text-anchor="middle">- All Drought</text>
<text class="b" x="716.5" y="676.7" font-size="18.3" text-anchor="middle">Secretarial Drought Designations for 2024</text>
<text x="721" y="701" font-size="15.25" text-anchor="middle">Disaster Incidences as of September 18, 2024</text>
<rect x="632.2" y="713.2" width="36.2" height="17.8" fill="#fff" stroke="#000" stroke-width="1.5"/>
<rect x="632.2" y="738.2" width="36.2" height="18" fill="#fff" stroke="#9c9c9c" stroke-width="1"/>
<rect x="631.2" y="764.2" width="36.6" height="18" fill="#fff" stroke="#1fa385" stroke-width="1.5"/>
<rect x="631.3" y="790.3" width="36.4" height="17.8" fill="#e80000" stroke="#9a0000" stroke-width="0.7"/>
<rect x="631.3" y="816.3" width="36.4" height="18" fill="#ffaa00" stroke="#b08020" stroke-width="0.7"/>
<g font-size="15.2">
<text x="675.5" y="727.3">State Boundary</text>
<text x="675.5" y="752.7">County Boundary</text>
<text x="675.5" y="777.7" xml:space="preserve">Tribal  Lands</text>
<text x="675.5" y="805.7">Primary Counties: 802</text>
<text x="675.5" y="833">Contiguous Counties: 488</text>
</g>
<g class="lab">
<text x="103.3" y="579.8" font-size="9.3">Hawaii</text>
<text x="29.5" y="662" font-size="9.3">Pacific Basin</text>
<text x="121" y="661.5" font-size="9.3">Northern</text>
<text x="121" y="672" font-size="9.3">Marianas</text>
<text x="97.5" y="735" font-size="9.3">Guam</text>
<text x="29.5" y="766.5" font-size="9.3">American Samoa</text>
<text x="410" y="805" font-size="9.3">Alaska</text>
<text x="995.5" y="698.5" font-size="9.3">Puerto Rico/Virgin Islands of the U.S.</text>
</g>
<g font-size="10.66">
<text class="b" x="106.5" y="860.6">United States Department of Agriculture</text>
<text class="b" x="106.5" y="873.4">Farm Service Agency</text>
<text x="106.5" y="890.3">DAFP Program Delivery/Safety Net Division</text>
<text x="106.5" y="902.5">Washington, D.C.</text>
<text x="106.5" y="914.7">September 18, 2024</text>
</g>
<g id="usda">
<text x="4.2" y="880.7" font-size="40.5" textLength="93" lengthAdjust="spacingAndGlyphs" style="font-family:'Liberation Serif','DejaVu Serif',serif;font-weight:bold;letter-spacing:-2px">USDA</text>
<g transform="translate(0,845) scale(0.09167)" fill="#000">
<path d="M62 432 L210 446 L390 477 L290 480 L62 470Z"/>
<path d="M62 505 L300 497 L200 515 L62 541Z"/>
<path d="M66 606 C250 530 520 450 1055 435 L1055 476 C620 480 300 540 66 618Z"/>
<path d="M62 648 C300 575 600 515 1055 512 L1055 790 L62 790Z"/>
</g>
</g>
</svg>
</body></html>
